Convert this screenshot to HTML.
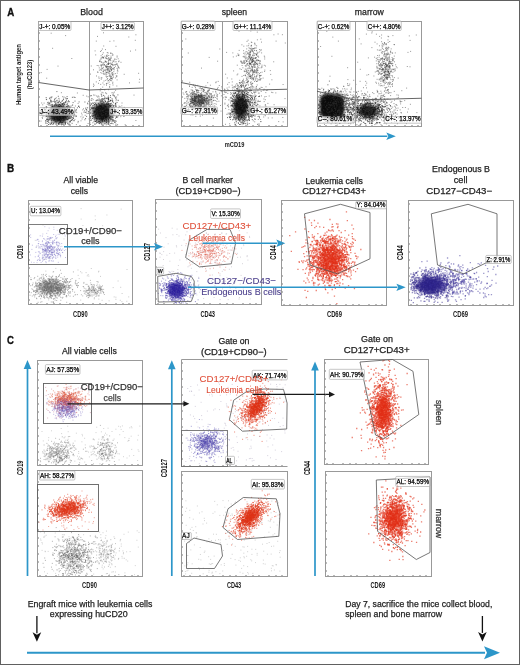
<!DOCTYPE html>
<html><head><meta charset="utf-8"><style>
html,body{margin:0;padding:0;background:#fff;width:520px;height:665px;overflow:hidden}
svg{display:block;will-change:transform}
text{font-family:"Liberation Sans", sans-serif}
</style></head><body>
<svg width="520" height="665" viewBox="0 0 520 665" shape-rendering="auto">
<defs><filter id="f1_8" x="-50%" y="-50%" width="200%" height="200%"><feGaussianBlur stdDeviation="1.8"/></filter><radialGradient id="g11111110050"><stop offset="0" stop-color="#111111" stop-opacity="1.0"/><stop offset="0.5" stop-color="#111111" stop-opacity="0.90"/><stop offset="1" stop-color="#111111" stop-opacity="0"/></radialGradient><radialGradient id="g3333336050"><stop offset="0" stop-color="#333333" stop-opacity="0.6"/><stop offset="0.5" stop-color="#333333" stop-opacity="0.54"/><stop offset="1" stop-color="#333333" stop-opacity="0"/></radialGradient><radialGradient id="g1111118550"><stop offset="0" stop-color="#111111" stop-opacity="0.85"/><stop offset="0.5" stop-color="#111111" stop-opacity="0.77"/><stop offset="1" stop-color="#111111" stop-opacity="0"/></radialGradient><radialGradient id="g8080805550"><stop offset="0" stop-color="#808080" stop-opacity="0.55"/><stop offset="0.5" stop-color="#808080" stop-opacity="0.50"/><stop offset="1" stop-color="#808080" stop-opacity="0"/></radialGradient><radialGradient id="g2a1ca08550"><stop offset="0" stop-color="#2a1ca0" stop-opacity="0.85"/><stop offset="0.5" stop-color="#2a1ca0" stop-opacity="0.77"/><stop offset="1" stop-color="#2a1ca0" stop-opacity="0"/></radialGradient><radialGradient id="ge02c144050"><stop offset="0" stop-color="#e02c14" stop-opacity="0.4"/><stop offset="0.5" stop-color="#e02c14" stop-opacity="0.36"/><stop offset="1" stop-color="#e02c14" stop-opacity="0"/></radialGradient><radialGradient id="g2a1f859550"><stop offset="0" stop-color="#2a1f85" stop-opacity="0.95"/><stop offset="0.5" stop-color="#2a1f85" stop-opacity="0.85"/><stop offset="1" stop-color="#2a1f85" stop-opacity="0"/></radialGradient><radialGradient id="ge05a403050"><stop offset="0" stop-color="#e05a40" stop-opacity="0.3"/><stop offset="0.5" stop-color="#e05a40" stop-opacity="0.27"/><stop offset="1" stop-color="#e05a40" stop-opacity="0"/></radialGradient><radialGradient id="ge034184550"><stop offset="0" stop-color="#e03418" stop-opacity="0.45"/><stop offset="0.5" stop-color="#e03418" stop-opacity="0.41"/><stop offset="1" stop-color="#e03418" stop-opacity="0"/></radialGradient><radialGradient id="ge034185550"><stop offset="0" stop-color="#e03418" stop-opacity="0.55"/><stop offset="0.5" stop-color="#e03418" stop-opacity="0.50"/><stop offset="1" stop-color="#e03418" stop-opacity="0"/></radialGradient><radialGradient id="g5a4fb03050"><stop offset="0" stop-color="#5a4fb0" stop-opacity="0.3"/><stop offset="0.5" stop-color="#5a4fb0" stop-opacity="0.27"/><stop offset="1" stop-color="#5a4fb0" stop-opacity="0"/></radialGradient><radialGradient id="ge034185050"><stop offset="0" stop-color="#e03418" stop-opacity="0.5"/><stop offset="0.5" stop-color="#e03418" stop-opacity="0.45"/><stop offset="1" stop-color="#e03418" stop-opacity="0"/></radialGradient><radialGradient id="gf03a147050"><stop offset="0" stop-color="#f03a14" stop-opacity="0.7"/><stop offset="0.5" stop-color="#f03a14" stop-opacity="0.63"/><stop offset="1" stop-color="#f03a14" stop-opacity="0"/></radialGradient><radialGradient id="gf03a145550"><stop offset="0" stop-color="#f03a14" stop-opacity="0.55"/><stop offset="0.5" stop-color="#f03a14" stop-opacity="0.50"/><stop offset="1" stop-color="#f03a14" stop-opacity="0"/></radialGradient></defs>
<rect x="0.5" y="0.5" width="519" height="664" fill="#fff" stroke="#606060" stroke-width="1"/>
<text x="7.3" y="16.3" stroke="#111" stroke-width="0.35" font-weight="bold" textLength="7" lengthAdjust="spacingAndGlyphs" fill="#111" font-size="11" >A</text>
<text x="80.2" y="15.3" stroke="#222" stroke-width="0.25" textLength="22.7" lengthAdjust="spacingAndGlyphs" fill="#222" font-size="9.3" >Blood</text>
<text x="221.7" y="15" stroke="#222" stroke-width="0.25" textLength="25.4" lengthAdjust="spacingAndGlyphs" fill="#222" font-size="9.3" >spleen</text>
<text x="354.8" y="14.9" stroke="#222" stroke-width="0.25" textLength="29" lengthAdjust="spacingAndGlyphs" fill="#222" font-size="9.3" >marrow</text>
<text transform="translate(21 105) rotate(-90)" font-weight="bold" textLength="61" lengthAdjust="spacingAndGlyphs" fill="#222" font-size="6.8" >Human target antigen</text>
<text transform="translate(32.3 89.2) rotate(-90)" font-weight="bold" textLength="29.5" lengthAdjust="spacingAndGlyphs" fill="#222" font-size="6.8" >(huCD123)</text>
<text x="224.8" y="146.8" font-weight="bold" textLength="19.5" lengthAdjust="spacingAndGlyphs" fill="#222" font-size="7.8" >mCD19</text>
<path d="M50 136.3H387.3" stroke="#2c96c9" stroke-width="1.5"/>
<path d="M395.8 136.3L386.3 132.60000000000002L388.3 136.3L386.3 140.0Z" fill="#2c96c9"/>
<ellipse cx="59" cy="114" rx="13" ry="11.5" fill="url(#g11111110050)"/>
<ellipse cx="102.5" cy="112.5" rx="12.5" ry="12.5" fill="url(#g11111110050)"/>
<ellipse cx="199" cy="100" rx="10" ry="7" fill="url(#g3333336050)"/>
<ellipse cx="240.5" cy="107" rx="9" ry="15" fill="url(#g11111110050)"/>
<rect x="320" y="94" width="24" height="24" rx="6" fill="#111111" fill-opacity="1" filter="url(#f1_8)"/>
<ellipse cx="368" cy="111" rx="13" ry="9" fill="url(#g1111118550)"/>
<path d="M236.4 83.8h1m.2 2.1h1m88.8-1.1h1m20 .8h1m-103 3.4h1m84.1-.1h1m-97.8 3.6h1m2.2-1.7h1m-.6-.2h1m-.4 0h1m-.4.7h1m.1.5h1m8.5-1h1m77.7.2h1m-.7-.4h1m3.1.5h1m2.5.6h1m-234.7 3.7h1m128 .3h1m.2-2.2h1m.9-.5h1m-.8.4h1m1.7 2.4h1m-.7-2.5h1m3.4 1.3h1m-.9.2h1m-.5-.4h1m-.8 1.3h1m-.9-.4h1m-1-.7h1m2.7-.6h1m-.8.4h1m75.9-1.4h1m4.1 2.4h1m7.1-.9h1m6 .8h1m16.1-1.7h1m-317 4h1m2.4.8h1m16.5-1.8h1m4.3.7h1m34.8.1h1m6.4.4h1m120.7.4h1m-.9-2.2h1m1.2.5h1m2.1 2.1h1m.2-1.7h1m83.2-.2h1m.2 2h1m.5-1.7h1m1.8 1.3h1m-.8-1.4h1m.3.4h1m-.2.1h1m.8.4h1m-.5-.1h1m0 .3h1m4.6.3h1m36.2-.9h1m-329.9 4.1h1m42.3-.8h1m11-1.2h1m1 1.4h1m-1-.5h1m121.5-1.3h1m-.8.8h1m1.4 1.5h1m2-2.3h1m-.2.4h1m.6-.5h1m-.5 2.9h1m0-.4h1m-.6-.4h1m-1-2.1h1m-.8 1h1m1.6-.6h1m-.2.4h1m-.5-.1h1m0 1.2h1m-.5-1h1m1.3 1.7h1m69.4-2.4h1m5 1.5h1m-.4.3h1m.4-1h1m-.4.8h1m.2-1.2h1m-.8.4h1m.4.6h1m1.1-1.4h1m-.9 1.8h1m.2.9h1m.1-.1h1m-.4-.8h1m-.3-.3h1m-.2 1h1m2.5-2h1m21.1 1.3h1m3.3-.8h1m-.2 1.1h1m-.9-.5h1m2.1.1h1m1.3-.1h1m5.6-.2h1m-334.1 3.6h1m-.8-.7h1m13.9-1h1m-.6 1.8h1m19.6-2.3h1m8.7 2.9h1m8.3-2.1h1m3.2 1.1h1m124-.7h1m.2-1.2h1m-.9.1h1m-.4.2h1m.6.8h1m-.6-.4h1m-.9-.2h1m.9 1.1h1m-.6-.3h1m-.9-.6h1m-.5-.3h1m0 .5h1m.2-.6h1m-.7 2.2h1m-.8-.6h1m.2-1.6h1m-.9 2.6h1m-.6 0h1m.3-1.7h1m0 1.2h1m3.1-1.8h1m2.8-.1h1m65.7 1h1m-.2.8h1m-.9-1h1m0-1h1m-.7 2.5h1m.4-2.8h1m-.8 2.1h1m-.9-1.7h1m-.9 2.1h1m1.1-.7h1m-.5.8h1m1.3-.6h1m-.9-1.5h1m-.5.3h1m0-.2h1m-.1.8h1m-.6-.9h1m.3 1.9h1m-.3-.6h1m-.2-.3h1m-.1.3h1m-.5-1.7h1m-.5.7h1m.6.7h1m-.5-1.2h1m-.9 2.4h1m1.2-2.7h1m-.5 2.4h1m-.4-.1h1m4.6-.8h1m-.3-.8h1m.1 1.9h1m10.8.2h1m2.6-.3h1m-.5-.2h1m1.5-.8h1m-.2-.5h1m-1 .5h1m5.2.6h1m1 .4h1m-.4-.6h1m.6.6h1m2.1-2.4h1m-338 4.9h1m3.7-1.7h1m6.5.5h1m-.5 1.1h1m-.6.4h1m-.2-1.7h1m.2.7h1m4.2.7h1m.2-1.2h1m.4 1.5h1m8.4-.8h1m7.9 1.3h1m1.2-.8h1m2.3-1.4h1m2.9 1.3h1m1.7-1.8h1m-.4 2h1m-.7.1h1m-.1-.4h1m1.5-.7h1m-1-.7h1m3.4.6h1m-.8 1.3h1m-.4-1.4h1m.3-.2h1m-.1-.3h1m3.1.8h1m2.3 1.5h1m115.3-1.2h1m0-1.4h1m1.3.6h1m-.9-.2h1m.7 1.7h1m-.5-2.2h1m-.6.8h1m-1 1.4h1m-.9.2h1m-.9-1.3h1m1.1 1.3h1m.2.4h1m-.4-1.9h1m-.9-.1h1m-.9-.7h1m0 1.7h1m-1-1.6h1m-1 2.4h1m2.8-.1h1m71.7-1.5h1m1 .3h1m0-1.3h1m-.4.1h1m-.9.1h1m.7 1.8h1m-.4-.5h1m-.9 1.2h1m0-1h1m-.4-.1h1m-.9 0h1m-.4-.4h1m-.7-.8h1m-.5 1h1m-.9.1h1m-.4.1h1m-.3.2h1m-.7-.1h1m0 .6h1m-.9-.3h1m0-1.8h1m-.7.2h1m1.3 2.5h1m.2-2h1m1.6 1.2h1m5.2-1.7h1m.8 2.1h1m-.8.2h1m1.2-2.6h1m3.8.4h1m.2-.3h1m1.6 2.5h1m1.4-1.3h1m-.9-1.4h1m-.3 1.7h1m2.2.9h1m2.2-2.3h1m-.4 2.1h1m.4-.2h1m.2.2h1m-.9.5h1m2.5-1.2h1m-.4-.9h1m-.6 1.3h1m2.9-.7h1m-333.3 4.3h1m1.9-1.7h1m-.7-.5h1m.2.8h1m.5.1h1m2.1-1.2h1m.9 2.1h1m-.5-.3h1m.4-.2h1m-.3.2h1m2.4-1.7h1m-.1 1.1h1m.3 0h1m19.7.8h1m2.8-.4h1m.5-.6h1m-.9-.5h1m1 .8h1m-.8-1.2h1m-.7 0h1m-.2 2.2h1m-.6-2.2h1m0 0h1m-.7 1.8h1m-1 .5h1m-.8-2.6h1m0 2.4h1m.5-1.7h1m-.9.3h1m-.7 1.2h1m.9-.8h1m-.2-1.3h1m1.2 2.1h1m-.5-.8h1m1.9 1.5h1m-.8-2.7h1m-.8.5h1m120.5.6h1m-.3-.5h1m-.8 0h1m-1 .8h1m2-1.4h1m-.9.9h1m.4 1.1h1m-.8.5h1m-.6-1.5h1m-.8 1.4h1m-1-.6h1m.9-.3h1m4 .8h1m2-1.6h1m-.3-.4h1m-.1 1.9h1m-.7-1.8h1m68.7 1.7h1m-.3-1.9h1m-.5 1.7h1m-.2-1.8h1m-.6 1h1m0 0h1m-1 .2h1m-.2-.8h1m.6-.6h1m.9 1.2h1m-.7.3h1m-.3 1.3h1m-.1-.2h1m-.7-1.6h1m3.2.2h1m1.1-1.1h1m-.2 1.9h1m-.3-.3h1m1 .4h1m5.4-.3h1m7.8-.2h1m5-.2h1m-.7 1.4h1m-.9-.9h1m-.4.3h1m-.5 0h1m-.9-1.8h1m-.8 1.6h1m-.9-.9h1m-.9 1.4h1m0-1.5h1m.7-.2h1m.1 1.4h1m-.6-.3h1m-.2-1h1m-.8.7h1m-.4-1.3h1m2.6 1.1h1m4.8.1h1m.8 1.2h1m-.3-1.4h1m-.7 1.3h1m-339.7 1.3h1m0 .9h1m5.2 1h1m1-2.2h1m-.6-.7h1m-.9 2.8h1m.4.1h1m-.9-2.6h1m-.9 2.4h1m1.2.1h1m-.6-1.8h1m-.9-.8h1m-1 .8h1m0 1.4h1m-1-.5h1m-.3-.9h1m-.3-.6h1m.3-.2h1m.3 2.6h1m-.7-.7h1m-.9.2h1m-.6.3h1m-1-1.4h1m2.3-.1h1m.8.4h1m-.9 1h1m3-.3h1m15.1-1.4h1m3.1 1.7h1m1.7-2.4h1m5 .6h1m-.7.6h1m-.8-.5h1m-.8 1.4h1m-.1.7h1m-.1-1h1m-.2-.4h1m-.9.6h1m.1-.5h1m.8-1.6h1m-.2 0h1m2.7 1.9h1m119.7-1.8h1m3 2.3h1m.7.4h1m-.2-.1h1m1-.3h1m-.9-.5h1m.6-1.8h1m2.1 2h1m2.4-1.7h1m68 1.5h1m-.2-1.6h1m3.3 2h1m-.4-2.3h1m-.1 1.5h1m-.7 0h1m-.9-.2h1m-.8.9h1m-.9.7h1m-.7-1.8h1m-.4 1.3h1m-.9-1.9h1m-.2 2h1m1-.7h1m-.7-.9h1m.3.9h1m-.8-1.1h1m-.6.9h1m.4-1.6h1m-.4 2.7h1m.9-1h1m-1 .7h1m.7-.6h1m-.5-1.3h1m-.5 2h1m-.7-1.4h1m8.5-1h1m0 1.8h1m4.5.8h1m-.3-2.6h1m.6.6h1m-.9.8h1m-.5-1.4h1m.4 2.1h1m-.9-.9h1m2.8.5h1m-.7-1.2h1m-.3.1h1m-.3 1.6h1m-.7-.2h1m-.9-1.3h1m-.5 1.4h1m-.6.4h1m-.8-.8h1m-.9.2h1m-1 .4h1m0 0h1m-.9-.5h1m1.4.5h1m-.6-.3h1m0-1.9h1m-.4 2h1m-.8-1.4h1m-.9 1.3h1m-.7-2.1h1m-.5 1.9h1m-.8-1.1h1m-.7-.5h1m-1 .9h1m.6 1.2h1m.8-2h1m.2.1h1m-1 2.1h1m-.1-2.3h1m-331.1 4h1m2.4 1h1m-.8-2.1h1m4.7 1.6h1m-.6-.8h1m-.8-1h1m-.4 1.1h1m-.7.6h1m-.3-.5h1m-.6.5h1m-.4-1.4h1m.2 2.1h1m-.2-2.4h1m.5.2h1m0 2.2h1m2.1-1.1h1m2.9-.8h1m16.5 2.1h1m4.1-.3h1m.8.4h1m.9-.4h1m-.5-2.2h1m-.7.6h1m-.3.6h1m-.3-.6h1m.7 1.6h1m.1-.1h1m-.9-2h1m.3 2.6h1m-.7-2h1m-.5-.3h1m-.7-.4h1m.1 1.7h1m-.3-.9h1m1.4-.1h1m-.6.5h1m0-.5h1m120.9.6h1m1-1.1h1m.8 2.5h1m-.1-2.5h1m-.5-.3h1m0 .2h1m.7 0h1m1.5-.2h1m1.4 0h1m.1 1.7h1m-.7-1.4h1m1.2 2.2h1m68.6-2.5h1m5.2 0h1m-.9 1.5h1m1.2 1h1m1.6-2h1m-.4-.5h1m-.5 1.6h1m2.5-.3h1m2.1 1.6h1m.3-2.6h1m9.7 2.1h1m-.6-2.3h1m10 2.3h1m.8-2.2h1m-.5 1.8h1m-.7-1.7h1m-.2 0h1m.8.4h1m-.3-.5h1m-.4 1.5h1m.4-.5h1m.8 1.6h1m-1-1.8h1m-.1 1.6h1m6.5-2.1h1m3.1 1.2h1m-336.6 2.3h1m-.9 1.4h1m.1-1.1h1m.8-1.1h1m-.6 1.8h1m-.5-.2h1m1-.7h1m-.5-.9h1m-.8 2.6h1m-.2-1.4h1m-.4 1.3h1m-1-1.6h1m-.8-1.1h1m-.5 1.5h1m.7.6h1m-.9.1h1m2.3-1.8h1m-.3 1.2h1m-.7 0h1m.1.3h1m.6.3h1m.5-1.7h1m-.7 1.4h1m16.2-.4h1m9.5-.3h1m-.6.6h1m.2-.5h1m2.4.6h1m-1-1.2h1m-.3-.6h1m-.7 2.7h1m-.7-.4h1m-.6-.9h1m2.8-1.3h1m.9 2.1h1m3.1-1.7h1m116.5-.3h1m2.7 2.3h1m1.6-1.6h1m1.5-.3h1m4.3.1h1m1.2 0h1m2 0h1m83.1-.5h1m13.3 2.2h1m11.7-.6h1m1.6.3h1m-.1-1.3h1m.3 1.9h1m-.4-2.8h1m2.6 2.1h1m-.2-1.1h1m-.7.3h1m5.2-.6h1m6.2-.4h1m-339.2 3.6h1m-.9-.2h1m9 1.2h1m2.5-1.9h1m2.1 2.5h1m1.5-2.4h1m4.2 1.3h1m-.1-1.1h1m23.4 1.2h1m2-.2h1m.1.2h1m7.4-.4h1m-.4-.1h1m2.8.2h1m-.7-1.2h1m128.8 2h1m3.9-2h1m.7 0h1m-1 .1h1m69.4 1.1h1m.1-1.2h1m4.4 1.5h1m5.3.7h1m30.1.2h1m5.1.5h1m6.1-.5h1m-318.7 1.6h1m3.4.3h1m.6 0h1m4 .2h1m19.5-.2h1m11.6.6h1m11.9-.8h1m118.4.3h1m3.8.1h1m6.5.3h1m108.3 0h1m2.4 0h1m-.2-1h1m10.2-.7h1" stroke="#111111" stroke-opacity="0.6"/>
<path d="M237.3 85.1h1m1.9.5h1m-4.9 3h1m0-.3h1m81.2 1.1h1m15.9-2h1m-281 4.2h1m47.8 1.3h1m5.4-.1h1m125.3-1.6h1m-.4.9h1m-.6-.2h1m1.7.3h1m-.2-1h1m-.6.7h1m1.6-1h1m.5 1.5h1m1.3-1.7h1m75.5 1.1h1m12.7.1h1m0-.8h1m-251.2 4.7h1m144.6-.5h1m-.7.2h1m-.3-1.5h1m.6 1.7h1m-.9-.9h1m-.7-.1h1m4.1-1.7h1m-.1 2.8h1m5.4-.1h1m67.8-2.6h1m-.8 2.6h1m6.2-.2h1m-.8-2.1h1m2.3 1.2h1m-.9.8h1m1-.6h1m-.3.8h1m-271.2 1.5h1m2.3 1.5h1m39.9.1h1m2.9.1h1m123-1.9h1m1.3 1.4h1m.2-.9h1m-.2.5h1m-.8.6h1m.4-.2h1m-.7-2.3h1m-.9 2.4h1m.6-.8h1m1.7-1.3h1m.3 1.7h1m1.5.7h1m3.5-2.4h1m3.2.2h1m59.9.8h1m.9-.5h1m-.6 1.9h1m1.3-.1h1m-.5-1h1m2.3.5h1m.4-.8h1m-.3 1.3h1m-.9.3h1m.4-.6h1m-.9-1.7h1m-.7.6h1m-.8.5h1m-.8.3h1m-.8.5h1m-.1-.4h1m-.6-.1h1m.6-.1h1m.2 0h1m-.1.7h1m10.7-1h1m13-.2h1m16.4 1.5h1m-327.2 2.5h1m-1 .5h1m3.3-.5h1m28.5-.1h1m12.1-.3h1m-.7-.5h1m2.3.8h1m2.6.2h1m.5-1.2h1m120.3 1.1h1m2.8-1.5h1m-.5 1.5h1m-.6-.4h1m1.6.9h1m-.5-1.2h1m1.4.7h1m.6-1.1h1m-.6 1.4h1m-.4-.6h1m-.4-.7h1m-.8.7h1m.2.4h1m-.6-.4h1m71.5.5h1m4-1h1m-.4-.5h1m1-1h1m.1 2.3h1m-.9-.2h1m2.3 0h1m-.9-2h1m3.6 0h1m0 2.4h1m-.9-.6h1m-1-.6h1m2.1-.2h1m1.4.9h1m-.3.6h1m.2-2.7h1m-.5 2.5h1m1.8-.3h1m9.4.1h1m.3-.8h1m16.9 1.4h1m9.2-2.8h1m-339.2 3.9h1m4.3 1.9h1m2-2.8h1m5.7 1.9h1m0-1.4h1m26.6 1.1h1m.1.9h1m4.7-2.6h1m-.2 1.3h1m1.5.8h1m.9.5h1m.3-.2h1m-.1-2.3h1m-.5 2.1h1m-.7-.4h1m.7 1.1h1m4.3-1.6h1m116.9.5h1m1.5 1.1h1m.7-2.8h1m-.7 2.4h1m-.8-1.1h1m-.8.4h1m.3-.2h1m-.9-.4h1m-.2 1.3h1m-.2-2.4h1m-.6 1.1h1m.3.6h1m-.8-1.5h1m-.7.6h1m-.9-.7h1m2.3.7h1m-1 1.3h1m1.8-.4h1m-.4.9h1m-.6-.4h1m-.1-1.5h1m69.6 1.1h1m-.7-1.1h1m3 1.7h1m-.2-.7h1m1.9-.5h1m-.7-1.3h1m-.6.1h1m-.7 1.2h1m-.6 1.4h1m-.8-1.2h1m1.9.7h1m-.2-.2h1m-.9.3h1m.9 0h1m.6-1.8h1m-.7.2h1m2.1 1.7h1m6.6-1.1h1m3.1-1.3h1m3.4 1.6h1m6.2-.4h1m.2.6h1m-.1-.6h1m1.5 1.4h1m12.9-2.5h1m-338.5 5h1m4.2.2h1m-.8-.3h1m2.9-1.6h1m-.3 2.3h1m1-.8h1m-.4-.2h1m.2-1.7h1m.5 1.1h1m3.6.3h1m2.4 1h1m26.7.3h1m0-.6h1m.9-1.7h1m0 .2h1m-.7 1.2h1m-1 .7h1m1-.6h1m-.8-1.2h1m.3.4h1m1.8.4h1m1.3 0h1m.3.6h1m.8-.9h1m114 .7h1m2.7-.3h1m-.6-.9h1m1.9-.4h1m-.1 1.1h1m.5-.8h1m-.9-.6h1m.9 1.2h1m-.3-.9h1m.7.5h1m-.4-.4h1m.3 1.6h1m-.4-2h1m1.8.5h1m3.9.6h1m65.9-.3h1m2.5 1.4h1m.6-.8h1m1.7.8h1m-.9-.8h1m1.6.9h1m-.7-2.2h1m-.2 2.2h1m-.7-.3h1m-.7.3h1m-.4-1.6h1m-.9.4h1m-.7 1h1m-.8.5h1m-.1-2.1h1m1.7.2h1m-.8.7h1m-.9 1h1m-.3.3h1m-.1-.8h1m-.1-1.6h1m-.6.3h1m-.9.1h1m1.5.7h1m-.7.6h1m-.2.1h1m-.2.4h1m0 .3h1m-.9-2h1m5.5 1.5h1m2.6-1.9h1m.2.6h1m-.3 1.3h1m3.1.1h1m-.1-.1h1m1.7-2.3h1m-.5 1.8h1m-.1.4h1m.9.1h1m-1-.4h1m1.3.3h1m2.1-1h1m3.5-.5h1m-.7 1.8h1m.5-.8h1m4.5-.3h1m.3-1h1m-343.4 3.7h1m.3.8h1m3-.2h1m.8-.8h1m1.4.5h1m.4.6h1m.6-.8h1m1.3.5h1m.9 1h1m-.6-.1h1m.2 0h1m2.1-1.1h1m3.2.4h1m1.5.5h1m19.9-1.9h1m1.8 1.3h1m.7.8h1m-.9-.8h1m1.2-1.2h1m-.8 1.9h1m1.7-2h1m-.9 1.4h1m-.6-1.7h1m1.5 1.9h1m-.3-2.1h1m-.5 1.7h1m-.8-1h1m2.4 1.5h1m.9-2.2h1m117.9 2h1m3-.6h1m-.3.8h1m0-1.4h1m-.5-.2h1m.2.7h1m.1.5h1m-.8.5h1m.1-2.3h1m-1 1.8h1m-.4.6h1m-.1.2h1m-1-1.4h1m-.2.2h1m2.7 1.2h1m77.6-.3h1m-.6.5h1m1.1-2.8h1m-.6.5h1m.2 2.4h1m-.2-.6h1m1.1-.2h1m-.9-2.1h1m-.4 1.7h1m4.5-.9h1m0-.5h1m0 .6h1m1.6.2h1m3.2.5h1m4.3-1.1h1m.1.8h1m-.8 1.1h1m.2-.5h1m-1-.6h1m.8-.5h1m2.2-.4h1m-.8 1.7h1m-1-.2h1m.4-1.5h1m-.3.2h1m-.8 1.2h1m-.7.7h1m-1-2h1m-.2-.3h1m2.5 1.8h1m.2-1.6h1m-.3.6h1m-.1.4h1m1.8 1.3h1m-.2 0h1m-.7-1.6h1m0 .8h1m.5-1.5h1m-.7 1.7h1m-.7-1.7h1m-.7.1h1m-.9-.5h1m.4 2.9h1m-.9-.8h1m2.9-.2h1m-.1.2h1m3.5-1.6h1m-343.8 5.2h1m.4-2h1m1.2 1.4h1m1.6-1.4h1m-1 0h1m-.4.9h1m3.5 1.3h1m-.6-1.9h1m-.4.1h1m-1 1.5h1m-.1.3h1m.5-.9h1m-.3.7h1m.4-.1h1m-.9-.9h1m-1 .2h1m.1-1.3h1m-.6.6h1m0-.9h1m1.1-.3h1m.2.6h1m-.2 1.2h1m-.9-1.7h1m15.1 1.4h1m3.7.7h1m2.5-1.1h1m-.5-1h1m-.2.2h1m-.7 0h1m1.1-.3h1m0 2.8h1m1.1-.3h1m1.4.4h1m-.7-1.2h1m-.5-1.1h1m-.3.3h1m.9.8h1m-.2.1h1m-.5.7h1m-.1 0h1m-.9-1.4h1m-.5.4h1m3.7-1.2h1m-.6.1h1m3.3.4h1m111.9.2h1m3.5 1.5h1m-.9-2.2h1m-.6.7h1m-.2 1.4h1m-.6-.6h1m1.1-.1h1m-.5.3h1m.3.7h1m.5-1.5h1m-.4 1h1m-.4-1.4h1m.5-.3h1m1.1 2h1m1.4-.7h1m68.9-.5h1m1.9.1h1m-.4 1h1m.8.2h1m-.1-1.1h1m-.9.8h1m-.9-.7h1m2.1.7h1m-.4-.7h1m-.3.5h1m-.4-1.7h1m-.9-.1h1m-.7.6h1m.3-.3h1m-.9-.4h1m1.7.2h1m-.2.4h1m1.4.8h1m-.8-.3h1m-.1-.8h1m-.2 2.4h1m.1-.1h1m7.6.1h1m-.9-.9h1m-.5-.7h1m2.1 1.5h1m-.6-.1h1m3.2-.4h1m1.9-1.1h1m.2.3h1m2.3 1.2h1m-.8-1.4h1m-.8.9h1m-.9-.8h1m.3 0h1m-.6.3h1m-.7-.8h1m.8 0h1m1.2-.9h1m-.8.3h1m-.5 1.3h1m4.1-.6h1m.7-.1h1m.3 1.3h1m-334.2.9h1m1 2.1h1m2.4-1.9h1m-.4 2.6h1m-.9-2.9h1m-.9 2.7h1m.9-.2h1m1.2-2.1h1m-.6 1.2h1m-.1 1.1h1m-.1-1.1h1m-.8 1h1m-.4.1h1m-.7-.3h1m-.6-1.3h1m1.2.3h1m-.7 1h1m-.4-2.3h1m-.7-.1h1m-.6.2h1m-1 1.4h1m1.8.8h1m.6-2.3h1m-.9 2.7h1m-.3-2.5h1m13.6 2.1h1m6.3-.8h1m1.5-1.5h1m1 2h1m-.4-1.6h1m.8.6h1m.6-.1h1m1.3 1.1h1m.4.5h1m-.3-.4h1m-.2-1.1h1m1.2-.5h1m119.6.6h1m.9-.2h1m4.9 1.6h1m-.3-1h1m1-.6h1m-.5 1.8h1m-.5-2h1m.9.7h1m.7-1h1m2.1.2h1m3.6.1h1m-.7.8h1m65.7.8h1m2.4-2h1m-.5.1h1m1.3.1h1m-.6-.1h1m-.1 1.9h1m1.6-1.4h1m5.6 1.2h1m.5-1.7h1m3.5 1.4h1m3.8.4h1m-.8-2h1m6.7-.1h1m-.6 2.1h1m.1-.8h1m-.5 1h1m1.2-1.2h1m-.9-1.2h1m2.2.3h1m-.8-.2h1m3.7 1.2h1m1.7-.6h1m-.8 0h1m.5 1.6h1m-.8-2.1h1m-.3 2.6h1m5.5-2.6h1m.5 1.7h1m9.2-.4h1m-346 3.7h1m.3.3h1m5.2-1.5h1m-.3-.4h1m-.7 1.6h1m-.9-1.1h1m.6 1.4h1m.6.3h1m-.8-1.2h1m.9-.1h1m-.5.3h1m1.1-.7h1m-.9-.6h1m.6.2h1m2.1 1h1m0-.5h1m.1.3h1m19.4-.5h1m4.8-.4h1m-.5.9h1m-.6-.1h1m.9.5h1m-.9-.6h1m-.6.6h1m2.9 0h1m.8-1.7h1m.1.5h1m.7.1h1m.5-.4h1m.4.6h1m.1 1h1m3.3-1.8h1m-.3-.3h1m118 2.4h1m-.8-.4h1m1.7.8h1m1.4-2.8h1m1.2 0h1m74.6 1.2h1m5.5-.9h1m19.7.7h1m11.2 1.9h1m1.8-1.7h1m1.7-1h1m.3.9h1m.2-.6h1m-.4.3h1m1.9-.6h1m.8.5h1m-.6 0h1m-.5 2.1h1m-.7-.6h1m-.3-.1h1m-.7-.5h1m2.5-1.6h1m1.3.6h1m2.8.2h1m10.1.4h1m-343.7 4.3h1m2.7-1.5h1m-.6.8h1m.4-.9h1m-.2-.3h1m-.2-.4h1m.7.5h1m-.8-.6h1m-.1 2.2h1m-1 .5h1m-.4-2h1m-.2-.3h1m.9 2.1h1m-.3-.1h1m24.8-2.4h1m4.1.3h1m-.1 1.9h1m.7-.3h1m2.1-1.2h1m-.8.2h1m.7 0h1m-.8-.7h1m-.6.6h1m7.7.1h1m125.4.5h1m3.8-.3h1m79.1-.9h1m4.7.3h1m13.4 1.4h1m5-1h1m15.1-.7h1m-.2 1.5h1m3.5-.6h1m1.1-1.1h1m-328.4 3.3h1m.4 1.1h1m1.9-1h1m42.5.6h1m12.3.1h1m-.9-.4h1m-.3.4h1m129.8.3h1m.4-1.5h1m.6.2h1m-.3.6h1m127.1-.5h1" stroke="#111111" stroke-opacity="0.6"/>
<path d="M328.9 81.1h1m-87.1 5.7h1m-.9-1.6h1m-3.2 2.4h1m81.4 2.1h1m-88.9.6h1m.4.8h1m2.2-.2h1m.2 1.2h1m6.1.5h1m79.8-1.9h1m10.6.6h1m-231.5 4.3h1m6.4-.7h1m115.5.6h1m1.6-.5h1m4-1.4h1m3.3.1h1m2.4 1.6h1m69.1-.1h1m6.2-.3h1m1.9-.4h1m8.2 1.2h1m43.2 0h1m-326 .6h1m14.7.8h1m0 .4h1m31 .9h1m128-2h1m-.7.8h1m-.3 1.6h1m-.5-1.3h1m-.7-1.3h1m-.6 2.4h1m-.8-1.4h1m.2.3h1m-.5-.8h1m-.4 2.2h1m.1-2h1m.1-.6h1m-.9-.2h1m.6.3h1m2.1 0h1m3.7 2.4h1m73.5-2.1h1m.6.1h1m-.7.7h1m-1 .7h1m.8-.1h1m.3-.9h1m-.9.6h1m-.3-1.8h1m-.4 1.5h1m1.2.1h1m.4.6h1m-.7 0h1m.9-1.3h1m-.4-.7h1m4.5.9h1m8 .7h1m10.9.2h1m8.8.4h1m-320.5 2.5h1m1.8-.8h1m2.5.4h1m27.9-.3h1m5.7 0h1m0-.3h1m2.8-.9h1m4.5 2.9h1m3.2-.8h1m115.1-1.2h1m2 1h1m1.5-.6h1m1.7 1h1m.1-1.6h1m.8-.2h1m-.6 1.7h1m-.5-1.6h1m-.7 1.8h1m-1-1.6h1m1.3-.7h1m.1 2.6h1m-.6-.6h1m-1 .7h1m-.1-1.6h1m0 .8h1m-.3-1h1m6-1h1m63.4 1.1h1m1.4 1.1h1m1.7-.4h1m1.3.4h1m1.4-1.9h1m0 .4h1m0 .8h1m.2-1.1h1m-.8 2.2h1m-.9-2.3h1m-.5-.3h1m-.8 1.4h1m-.6.3h1m-.9-1.5h1m-.5.2h1m5.2 1.4h1m-.9-1.3h1m2 2.3h1m28.6-1.3h1m8 1h1m-328 .7h1m6.9 1.6h1m1.6-1.6h1m6.7.4h1m13.5.6h1m10.6 1.2h1m1.5-1.2h1m1.6 1.5h1m1.2.1h1m-1-1.4h1m.1 1.4h1m-.8-.5h1m-.9-.2h1m125.2-.3h1m-.2-.4h1m.9.1h1m-.9 1.4h1m-.4-1.8h1m1-.3h1m1.7-.7h1m-.8 1.5h1m-.8-1.2h1m-.6.8h1m.3-1h1m-.4 2.1h1m-.5-1.6h1m6.6 1h1m-1 1.1h1m64.7-.6h1m2.6-.7h1m.7.6h1m-.2-.3h1m.3.2h1m.2.5h1m.2 0h1m.5-.3h1m-.8-1h1m-.6-1.1h1m.2.2h1m2 2.4h1m-.1-1.6h1m-.7.4h1m-.9-.7h1m-.4 1.3h1m.2-.3h1m-.9-1.7h1m-.8.4h1m3 2.1h1m2.5-.7h1m6.4-.2h1m6.6 0h1m-1 .6h1m.1-1.2h1m4.1.8h1m-.6-.8h1m2.4-.9h1m.5 1.2h1m2.2-.7h1m.8 1.9h1m17.9 0h1m-344.7 1.8h1m1-1.2h1m1.4-.1h1m1.7 1.5h1m2.1 1.1h1m-.4-2.5h1m-.4 2.5h1m5 .2h1m6.6-.1h1m11.7-2.3h1m.7 2h1m3.8-.7h1m-.9.7h1m1.9-1.6h1m-.7 1.7h1m-.7-2h1m-.6 2.2h1m.4-1.5h1m-.1 1.5h1m1.3-1.8h1m-.4.5h1m-.9-1.3h1m2.8-.1h1m2.5.4h1m1.1-.5h1m7.9 2.4h1m106.9-1.6h1m.8 1.5h1m0-2.1h1m-.6-.1h1m-.3 2.3h1m-1-.9h1m-.3-1h1m-.4 1h1m.1-1.3h1m-.4-.2h1m1.4 1.2h1m-.8.9h1m.9-.2h1m-.8-1.9h1m-.3 2.2h1m-.8-.7h1m-.3-.9h1m-.5 2.2h1m-.4-.5h1m-1-.6h1m-.6-1.5h1m-.7-.2h1m-.9 1.2h1m2.3-.7h1m67.6 1.7h1m.6-.7h1m.6.8h1m.4-1.9h1m.3 2h1m0-.2h1m1 .1h1m-.8.4h1m1.7-.8h1m-.7-1.9h1m-.4.9h1m-.8.3h1m-.6 1.6h1m-.7-1.7h1m-1 .8h1m.5-.2h1m.8-1h1m.9 1.6h1m-1-2.2h1m1.8.7h1m.6 2.1h1m-.8-.2h1m-.9-1.2h1m3.5.8h1m5.6-.9h1m1.4 1.4h1m.7-.3h1m1.8.4h1m-.9-.1h1m-.6-2.5h1m1.7.5h1m-.1-.8h1m-.2.6h1m-.9 0h1m-.2 2.2h1m-.6-.9h1m3.7.7h1m-.2-.4h1m.2-1.8h1m.1 2.3h1m-.7 0h1m2.1-2h1m.3-.4h1m2.9 1.6h1m-340.3 1.4h1m8.9.5h1m1.2-.2h1m.4 2.3h1m-.8-.6h1m-1-.2h1m-.4-1.1h1m-.3.6h1m1.2-.5h1m-.5 1.3h1m-.8-1h1m-.1 0h1m.4.6h1m.9.3h1m2.9 0h1m15.6-.7h1m3.5-1.4h1m.5.3h1m.5-.5h1m2 1.5h1m-.6-.7h1m-.8.7h1m.6-.5h1m-.4 1.7h1m-.5-1.5h1m1.3.7h1m-1-.2h1m.3-1.7h1m-1 1.7h1m-.5 1.1h1m5.4-1.1h1m.7 0h1m-.7.4h1m1.1-.4h1m2.2-.4h1m116.6.1h1m.1.4h1m.5 1.1h1m-1-.2h1m-.5-1.9h1m.4 1.8h1m-.6-1.8h1m-.6 1.5h1m-.5-.5h1m1.2.2h1m-.8-1h1m-.7 1.5h1m-.7-1h1m0 1.3h1m.8-2.2h1m-.4 2.1h1m1.6-1.2h1m67.1-1.2h1m3.3.4h1m-.4 1.9h1m-.1-1.6h1m.3 1.1h1m-.1-1.9h1m.6 1.9h1m.5.8h1m.4-2.2h1m.1-.5h1m-.4.1h1m-.5 1.9h1m1.4-.9h1m1-.3h1m2.9.6h1m1.5-.2h1m-1 .7h1m1.7-1.7h1m2.6.7h1m1.1.9h1m.1-.3h1m-1 .5h1m2.8-1.8h1m-.8 1.2h1m-.3-.1h1m-.3.8h1m-.7-.8h1m0 .9h1m-1-2.3h1m-.5-.1h1m-.6.5h1m.3.2h1m-.7-.1h1m-.6 2.2h1m.8 0h1m-.9-2.3h1m-1 .3h1m-.7-.2h1m-.6-.2h1m-.4 1.7h1m-.4-1.7h1m.6.2h1m.2-.6h1m.2 2.1h1m-.8 0h1m-.6-1.9h1m.3 1.1h1m0 1.4h1m.7-1.4h1m2.5-.5h1m1.4 1.3h1m7.4-.3h1m-342.1 3.4h1m1 .6h1m.9-.5h1m-1 .5h1m.3-2.5h1m3.1.7h1m0 0h1m-.8.7h1m2.2.1h1m-.9.2h1m2.3-.7h1m2.6 0h1m5.3-.4h1m8.2.3h1m8.4-.9h1m-.6 1h1m1.1 1.6h1m-.6-1.1h1m-.7.8h1m.2-1.1h1m-1 1.2h1m-.9-1.1h1m-.4.5h1m-.7 0h1m-.4-1.6h1m.2.3h1m-.8.3h1m0 .2h1m.2.1h1m-.8-.6h1m.2 0h1m.3 1.5h1m-.9-.8h1m-1 .6h1m3.4-2h1m120.1.3h1m-.5.2h1m1.2 1.1h1m0 .1h1m-.6-.3h1m.1.1h1m-1 0h1m-.4.9h1m2-.9h1m-.6.9h1m-.1-2.1h1m0 .5h1m-.5-.1h1m.4.6h1m-.8-1.2h1m0 1h1m1.2-1h1m69.6 1.9h1m-.5-1.2h1m1.2.1h1m.8 1.8h1m.5-.9h1m-.9-.9h1m-.8-.4h1m-.2.5h1m.4.1h1m.5 1.5h1m.3-.7h1m2.3.3h1m.8-2.2h1m2.5 2.5h1m-.3-.5h1m1.6-2h1m10.2.1h1m-.7 1.8h1m2.2-.6h1m-.7-1.1h1m-.7 1.3h1m-.5-1.6h1m.5.4h1m.6 1.9h1m-.8.3h1m-.2-2.6h1m.5.6h1m.9.9h1m.2.1h1m-.2-1.5h1m-.5 2.6h1m1.2-1.1h1m-.7.5h1m-.5-.8h1m6 .8h1m2.5.8h1m-.4-1.7h1m-340.4 3.9h1m2.4.3h1m3.8 0h1m1.6-.7h1m-.2-1.6h1m-.9 2.7h1m-.5-1.7h1m1.6 1.3h1m.2-1.1h1m-.8.7h1m-.5-.2h1m.2-1.4h1m-.4.8h1m-.6-.3h1m-.9-.4h1m-.7 1.1h1m.1-.8h1m-.5.8h1m-.7.5h1m-.6-.2h1m1.5.3h1m-.8.6h1m-.5-.6h1m-.5-1.4h1m-1-.2h1m.2.1h1m.7-.4h1m4.3 2h1m17.9-.9h1m-.8-1.1h1m1.4 1.9h1m.2-1.4h1m-.2.9h1m1.2-1.2h1m-.4 1.1h1m-.8-1.5h1m-.4 2.6h1m.8-.7h1m-.8-.5h1m-.3-.6h1m1-.8h1m-.8 1.8h1m-.6-1.5h1m2.3 1.6h1m.2-2h1m115.4.1h1m2.9-.1h1m1.4 2.8h1m5.6-1.3h1m.8 1.3h1m-.8-.5h1m4.3-2h1m.1.2h1m-1 .1h1m-.2 2.2h1m68.3-2.3h1m1.7 1.3h1m.6.6h1m0-1.7h1m-.9-.3h1m-.6 2.3h1m1.7-1.8h1m.5.8h1m-1-.7h1m-.3.9h1m-.7-1.9h1m1.6 1.5h1m.7 1.2h1m.6-2h1m.1 1.1h1m4.5-.4h1m6.2-.6h1m8.2-.3h1m-.8 1h1m-.2-.2h1m1.2-1h1m-.4.6h1m.2-.1h1m.3-.5h1m.6 2.2h1m-.6-.7h1m-.3-1.3h1m.7 2h1m-1 0h1m-.8-2.2h1m-.7-.1h1m-1 0h1m1.2.8h1m-.9-.3h1m-.8.4h1m1.8 1.4h1m-.4-.6h1m2.3-1.3h1m-334.5 5h1m4.4-1.4h1m.4 1.5h1m-.1-2.7h1m1 1.1h1m.9.8h1m-.9-1.2h1m-.1 0h1m-.9-.5h1m-.6 1h1m-.6 1.2h1m.8-2h1m-.9 2.5h1m-.7 0h1m1.1-1.1h1m-.6-1.4h1m-.9.9h1m3.4-.3h1m.6-.6h1m-.9 1.9h1m.1-1.2h1m14.7.8h1m-.2-1.7h1m1.5 1.3h1m6 .5h1m.3-.5h1m.5.7h1m-.3.1h1m-.8-2.2h1m1.5 2h1m-.8-.2h1m1.7.3h1m.2-.7h1m-.8-.8h1m0 1.9h1m1.6.3h1m117.9-.1h1m4.6-1.3h1m-.4 1.3h1m-.6-2.5h1m.2 1.5h1m0-.9h1m-.3-.8h1m1.3 2.5h1m.4-.7h1m2.4-.6h1m76.8 1.6h1m1.4-.9h1m-1-.1h1m6.6-1.8h1m.2 1.7h1m-.8-1.3h1m1.6 0h1m14.8-.1h1m1.2 1.6h1m-.5-1.3h1m2.8.4h1m1-.1h1m1.3-.5h1m1.5.2h1m.2.8h1m3-.2h1m.5.5h1m-329.4 2.3h1m-.6-.8h1m2 .1h1m1.6.2h1m3.8.2h1m.2.5h1m-1 .1h1m.7-.1h1m1.9-1.1h1m5.5.2h1m5.8 1h1m10.6.8h1m5.4-1.3h1m3.1 1.4h1m.7-.3h1m11.6.2h1m-.3-1.3h1m118.4 1.9h1m5.3-.3h1m2-1.3h1m82.5 1.3h1m1.5-2.4h1m5-.1h1m23.3.4h1m9.9 1.5h1m7.7.9h1m-1-.2h1m2.4-1.7h1m-334 3.6h1m-.2-1.4h1m1.2 1h1m44.7-.9h1m1.5.7h1m15.1.9h1m116.5.1h1m7.2-1.7h1m91.5 0h1m40.5-.2h1" stroke="#111111" stroke-opacity="0.6"/>
<path d="M238.9 82.6h1m6.3 0h1m4.9 4.2h1m-16.4 3.2h1m4.6 1.7h1m7.6 1.1h1m72.9-.6h1m4 .7h1m3.6-2.4h1m-.4 1.2h1m19.9.7h1m-120.9 2.5h1m.3-.3h1m1.8-.3h1m.5 1.6h1m-.8-1.5h1m-.4-.1h1m.8 1h1m.4-.4h1m3.6.9h1m71.6-.3h1m1.1-1.2h1m1.4.6h1m-.4-1.3h1m1.6 1.9h1m-.7-1.9h1m-.6.9h1m-.8-.1h1m-.6-1.3h1m4 .8h1m4.2.8h1m-291.6 2.2h1m39 1.6h1m9.2.4h1m2.9-.8h1m-.9.6h1m123.9-.7h1m1.1-1.3h1m2.9 1h1m.4.9h1m4.7.2h1m-.2-1.3h1m4.5.7h1m70.4.2h1m6.6-1h1m1.3 1.2h1m-.3-1h1m-.9-1.4h1m1.5.7h1m-.6 1.6h1m6.5-2h1m-.8.3h1m.8 1h1m10.6-.8h1m1.5-.6h1m3.7 2.1h1m-313.9 1.8h1m-.2.9h1m4.6-.9h1m5.2-.9h1m1.3 2.2h1m1.2.3h1m-.4-1.1h1m5.5.3h1m21.5-1h1m10.2-.9h1m123 2.1h1m-.7.1h1m2.3-.3h1m1.1-.3h1m1.6.8h1m-.9-2h1m-.1.1h1m1.2 1h1m-.3.8h1m-.2-1h1m.4.9h1m.4-1.6h1m.8.2h1m-.2-.4h1m70.4.5h1m2.3 1.4h1m-.8-.1h1m0 0h1m-.7-2.2h1m-.4 1.7h1m-1-1.8h1m.1 2.8h1m-.1-.9h1m.1-.6h1m-.9-1.1h1m.6-.3h1m-.9 2.4h1m-.5-.5h1m1-1.7h1m-.6.2h1m.8 2.2h1m-.8-1.1h1m1.7-1.3h1m.3.2h1m-.3.8h1m.3 1.3h1m7.6-.1h1m9.6-1.7h1m1.9.7h1m.1-1.2h1m17.4 1.7h1m-334 3.5h1m4.6.4h1m-.7-2.6h1m.3 2.3h1m0-1.8h1m1 1.6h1m-.6-.6h1m-.7.2h1m2.9.7h1m23.2-.2h1m.5-1.5h1m2.5 1.7h1m4.9.3h1m-.7-1.2h1m5.3.7h1m.8-.5h1m-.2-.6h1m4.6-.8h1m116.3.8h1m.9-.2h1m-.9.4h1m.7.1h1m-.6.4h1m-.7.5h1m-.9-2.4h1m-.9 1.8h1m-.3-.5h1m-.6-.9h1m-1 1.2h1m-.5-1.7h1m.3 1.8h1m2.5.6h1m8.4.3h1m66.1.2h1m-.8-1.8h1m0 1.7h1m1.7-2.7h1m-.5 1.3h1m-.7.9h1m-1-1.2h1m1.8.3h1m.4-.1h1m-.6-1.3h1m-.7 1.2h1m.7-.6h1m.4 2.2h1m-.9-1.4h1m-.8.9h1m-.3-.1h1m-.1 0h1m-.7-.6h1m-.7-.5h1m.2-.9h1m-.8 1.4h1m-.7-.2h1m-.2-.3h1m1.9.3h1m-.7.1h1m3.3.5h1m3.7-.8h1m.1-1.2h1m.9 1.1h1m6.1.4h1m2.7 1.1h1m-.6-1h1m2 .5h1m2-.6h1m6.8.9h1m3.4-2.4h1m-.1 2.1h1m-333.8 2.6h1m3.1-.9h1m.3 1.4h1m-.5-1.4h1m4 1.2h1m7-1h1m7.4 1.3h1m16-2.2h1m.2 1.4h1m.1.6h1m-.3.2h1m-.9-.9h1m-.6-.7h1m-.7.6h1m-.7.7h1m-.1.6h1m-.9-.3h1m-.6-.2h1m-.3-.5h1m.1-.7h1m.6.6h1m.3.1h1m-.8-.4h1m127.1-.9h1m-.1 1.2h1m-.9 1.3h1m-.8-.1h1m-1-.6h1m1.3.2h1m.8-.1h1m-.5-.3h1m.5-1h1m.6-.6h1m.1 2.3h1m-.3-2.4h1m-.4 1.5h1m-.5.4h1m-.4-1.7h1m-1 1.9h1m-.6-1.9h1m-1 2.2h1m-1-.4h1m.6-1.4h1m.9.4h1m.1 1.2h1m66.5-.1h1m2.5-.1h1m1.5-1.5h1m-.5 2.2h1m-.8-.9h1m-.3.4h1m.7-1.2h1m.1 1.3h1m-.9-.2h1m.8-1.9h1m-.6 1h1m-.7.3h1m-.9 1.1h1m-.7-1.9h1m.2.1h1m.9.8h1m-.5-1.2h1m1.7.1h1m0-.3h1m-.9 1.5h1m-.5.3h1m7.3-1.9h1m4 1.8h1m1.2.8h1m-.7-.6h1m0-.5h1m3.8-.8h1m-.5-.1h1m-.5.8h1m-.9.9h1m1-1.2h1m-.9 1.4h1m1.8-.4h1m-.8-1.4h1m.3-.2h1m1.5 1.7h1m2.1-1.5h1m-.4.4h1m1.3.7h1m.7 0h1m.7-1.4h1m-.9.2h1m7.4-.3h1m-351.1 5.2h1m10.9-1.6h1m-.6 1.3h1m.9-.1h1m-.7-2h1m-.7.8h1m-1 .2h1m-.3.2h1m1.9.5h1m-.6-1.6h1m.4 1h1m-.2 1.1h1m1.6.2h1m-.4-2.1h1m-.2.4h1m1.1-.2h1m28 .3h1m1.1-.3h1m.3-.1h1m.3 2.1h1m-.8-2.8h1m.6.9h1m-.6.6h1m.5.9h1m-.7.1h1m-.3-2h1m-.6 1.8h1m-.8-.8h1m-.7-1.6h1m1.1 1.6h1m-.7-.1h1m-.3.1h1m-.2.1h1m-.6 0h1m-.4.1h1m1.4-.7h1m.9 1.1h1m114.6-1.3h1m.4.4h1m3.8-.4h1m.3-.6h1m-.9.4h1m-.6.7h1m-.4.2h1m-.6-1.3h1m.4.1h1m-.9 1.7h1m-.8.8h1m.3-1.4h1m-.5 1.1h1m.3-1.7h1m-.7 1.8h1m2.1-1.4h1m-.1.3h1m-.4-.5h1m70.4.2h1m-.9-.4h1m-.4 1.9h1m.8-1.8h1m-.5.3h1m-.3-.8h1m1.2 2.3h1m-.7-.1h1m-.9-1.9h1m-.5.8h1m.9.5h1m-.2-1.6h1m-.1 2.1h1m-.2-1.4h1m-.8-.4h1m-.8.1h1m-.6 0h1m.6 1.5h1m2.5-1h1m-.5-1.2h1m2.1.5h1m-.8-.2h1m-.6 1.1h1m5.1.6h1m2.1-.6h1m-.9-1.1h1m4.2-.2h1m-.6.8h1m3.6.4h1m-.2-1.4h1m1.5 1.2h1m-.2.3h1m.3-.3h1m.1 1.3h1m3.1-2.4h1m-.8 1.5h1m.8.1h1m1.2-1.2h1m.2.8h1m2.3 1.3h1m.2-1.1h1m-334.4 4.2h1m2.9-2.1h1m1.1 1.7h1m-.1-1.8h1m.7 2.2h1m.3-1.5h1m0 .7h1m-.2-1.8h1m-.8-.2h1m.3 1.5h1m-.7-.5h1m-1 1h1m-.9-1.7h1m-.8 1.7h1m.3.1h1m-.8.2h1m-.7-1.7h1m-.8 1.3h1m0-.1h1m.8-.2h1m0-1h1m-.1-.1h1m17.2 1.8h1m4.8-.7h1m-.3-.3h1m-.4-.3h1m-.1.8h1m1.8-1.6h1m-1 2.1h1m-.5-1.6h1m.1 1.8h1m.8-2.5h1m-.6.5h1m-.9 2.4h1m-.7-1.6h1m-.9-.8h1m-.5 1.9h1m.3-1.3h1m1.8-.4h1m.4.1h1m-.6.1h1m1.4.4h1m4 .3h1m111.8.3h1m-.6.5h1m.7-1.3h1m.8-.9h1m.7.9h1m1.6-.9h1m.3 1.3h1m-.6-1.1h1m.6 0h1m.4-.2h1m-.6 1h1m-.3.1h1m.9 1h1m1.5 0h1m.3-.6h1m3.1-1.1h1m68.2-.3h1m.7.7h1m.5 1.5h1m1.4-.4h1m0 .6h1m.6-1.9h1m.8 1.7h1m-.8-.1h1m.1-.6h1m.8.5h1m-.8-.2h1m2.3 0h1m-.5-.5h1m-.7.8h1m-.2-.5h1m-.9-.5h1m-.9-1h1m3.2 1h1m2.6 0h1m11-1.3h1m.8-.1h1m-.2.9h1m-.4.4h1m.1-1.1h1m0 2.6h1m-.6-.1h1m-.4-.8h1m1-1.4h1m-.8-.2h1m-.4.1h1m-.9 1.6h1m-.5-.5h1m-1-1.3h1m-.8.5h1m.7 1.2h1m.1-1.5h1m2.4 2h1m-.4-1.4h1m2.4 1.9h1m0-1.8h1m.6 1.1h1m-338.7 1.2h1m-.5 1.5h1m1.6-.3h1m1-.4h1m.9-.2h1m.8-.9h1m-.6 1.3h1m-1 .1h1m-.9-.6h1m-.4-.2h1m-.9-.2h1m1.3.7h1m0 1.2h1m-.2-1.6h1m-.1 2h1m.1-1.6h1m-.5 1.7h1m0-2h1m-.8.5h1m.7-1h1m.9-.2h1m-.4 1.9h1m-1-.4h1m2.1 1.1h1m2.3-2.3h1m16.8 1.7h1m-.2 0h1m1.3-.6h1m-.8-1.4h1m-.6 2.7h1m2.3-1h1m-.5.3h1m-.7-.7h1m-1-.4h1m-.3.9h1m-.3-.5h1m-.3 0h1m-1 1.2h1m-.2-.9h1m-.8.1h1m-.9-1.5h1m-.6.1h1m-.8.3h1m-.7.2h1m1.6.2h1m-.2.1h1m-.8 1.4h1m.5-2.1h1m-.1.7h1m-.8 1.3h1m-.8-1.5h1m6.9.5h1m107.4-1.3h1m2.9-.1h1m.3-.2h1m.9 2.8h1m3-1h1m.1.5h1m-.1-.5h1m2.8-1.5h1m.5.9h1m-.3.4h1m0-.6h1m.3 1.8h1m.6-.6h1m76-.6h1m.9-1.3h1m1.8.3h1m-.4-.3h1m3.2-.3h1m2.9 1.7h1m0-.4h1m9 1.2h1m8.1 0h1m1.8-2.2h1m.9 1.2h1m-.9 1.2h1m-.2-.8h1m2 1h1m-.1-2.2h1m-.3 1.3h1m-.2-1.6h1m-.5 2h1m1.7-1.5h1m1.8 1.4h1m2.6.6h1m-330.7 1.2h1m.6.4h1m.8.8h1m.7-1h1m-.3.8h1m-.5-1.8h1m.1 1.6h1m-.8-1.5h1m-.9 0h1m-.7 2h1m-.5-.4h1m-.9-.1h1m.6-1.5h1m-.8.8h1m-.1-.2h1m0 1.2h1m-.8-2.1h1m.9.7h1m.6 1.8h1m-.7-.4h1m2.2-1.2h1m11.2-.8h1m.8 2.6h1m8.5.1h1m-.1-1.1h1m4.6.5h1m-.3-.3h1m-.9-.8h1m.9.5h1m-.7-1.4h1m-.5.5h1m0-.3h1m4.4 2.4h1m5.1-2.7h1m109.6.4h1m1.9 1.9h1m-.7-2.5h1m2.5 1h1m-.4-.5h1m1.4.2h1m3.5-.2h1m-.7 0h1m1.8 1.6h1m2.8-1.9h1m2.4-.1h1m-.7 2.5h1m1.8-.1h1m74.3-2.1h1m-.4-.3h1m1.8.1h1m-.4.3h1m0-.4h1m-.7 2h1m7-1.2h1m-.5-.9h1m15.6 1.1h1m3.8 1.7h1m2.9 0h1m-.6-2.4h1m-.7 2h1m1.5-1.6h1m-1 .6h1m0-1.3h1m3.4 2.3h1m-1 .1h1m5.6-1.5h1m-338.3 3.5h1m.1.8h1m10.3.2h1m-.7.1h1m-.2-2.2h1m-.9 2.1h1m2.2-2.4h1m7.9.6h1m19.9 1h1m5.3-1h1m-.4 1.4h1m.4-1h1m3 1.4h1m-1-2.5h1m-.8.2h1m-.6 1h1m.8.9h1m-.6-1h1m2.4-1.1h1m1.6 2.4h1m.1-1.2h1m126.4-.6h1m2.4.1h1m79.3 1h1m.4-.6h1m31.3-.4h1m-.4.5h1m7.4-.3h1m.7-.7h1m4.5 2.3h1m-326 1.8h1m.3-1h1m1.6.9h1m10.4-.5h1m28-.6h1m13.2.5h1m0-.4h1" stroke="#111111" stroke-opacity="0.6"/>
<path d="M244.2 88.2h1m-1 1.3h1m2-1h1m89.2-.1h1m-101.2 2.9h1m-.2.8h1m3-1.5h1m.5.1h1m1 .8h1m78.1.4h1m2.3-.9h1m-.6 1.1h1m3.7.4h1m-.5-.7h1m15.7.3h1m-250.5 2h1m-.6.9h1m132-1.7h1m6.6-.1h1m-1 1.7h1m1.4-1.8h1m1.9 1.3h1m4.5 1.5h1m70.1-.8h1m2.3-.1h1m-.1-1.6h1m-.6 2.3h1m.4-1.1h1m3.9.8h1m-277.1 3h1m5.8-.4h1m35.1-1.7h1m0 2.6h1m.5 0h1m3-.4h1m1.3-1.1h1m119.6-.1h1m.2 1.4h1m.2-1.5h1m4.3.3h1m1.9.6h1m-.7.1h1m-.8.4h1m-.7-2.1h1m-.6 2.2h1m.5-1.6h1m1.9-.3h1m3.4.7h1m72.7.6h1m.3-.6h1m2.6-.1h1m1 .3h1m2.2.6h1m1.5-1h1m-.4 1.6h1m-.3-.9h1m4.5-1.7h1m.8 1.5h1m4.2.5h1m2.8.3h1m1.6-1.7h1m4.3.7h1m-.1.3h1m9.4 1h1m4.5-.4h1m3.3-1.9h1m-339.1 3h1m31.5 2.3h1m20-1.4h1m4.3.8h1m126.7-.1h1m1.7-.5h1m2.1-1.3h1m-.9.1h1m-.7 1.2h1m.7-.6h1m1-.4h1m-.6 1.7h1m-.9-1.3h1m-.6 1.3h1m-.3.4h1m-.1-2.5h1m2.3 2.4h1m71.1-.3h1m-.1-.5h1m-.3.7h1m.7.2h1m-.5-.9h1m.9.6h1m-1-.6h1m-.9.3h1m1.2-1.3h1m-.5-.9h1m-.3 2.6h1m.1-.4h1m-.7 0h1m-.4-1.1h1m.8.7h1m-.2 0h1m0-1.5h1m-.8 1.5h1m-.9-1.6h1m-.7 1.5h1m-.3-.3h1m-.9-1.2h1m-.4 2.7h1m-.1-.3h1m3.8-.5h1m-.1.6h1m.7-1h1m3.9-1.2h1m3.6 1.4h1m9.7-.4h1m10.7.8h1m-331.2 1.4h1m7.1 1.3h1m1.4-1.2h1m.5 1.9h1m1.1-.8h1m29-.3h1m5.9-.2h1m1.4 1.5h1m1.5-2.9h1m.1 2.8h1m1.5-.2h1m5.1-1.9h1m118.1 2.1h1m.4-1.4h1m-.3 1.4h1m.2-1.1h1m-.4 0h1m.3-.3h1m-.6-.2h1m-.3-1.1h1m-.8.3h1m-.2-.2h1m2.6 2.4h1m-.5-.6h1m.7 0h1m-.5-1.4h1m-.8 1h1m-.9.9h1m-1-2.3h1m-.7 1.3h1m-.8.3h1m71.1.6h1m.5-2.3h1m1.6 1h1m.7 1.5h1m-.1-2.3h1m3 2.3h1m-.3-1.9h1m-.9 2h1m-.4-1.8h1m-.5-.8h1m2 2.6h1m-.7-.9h1m-.8.6h1m-.9.5h1m-.1-.2h1m.1-.3h1m4.8-1.4h1m1.7 1.1h1m.3-.3h1m4.8-.6h1m.1.2h1m0-.7h1m-.3-.5h1m4.1 1.6h1m2.7 1.1h1m2-2.3h1m.2 1.3h1m1.4-.3h1m1-.4h1m1.5.3h1m-.4-1h1m2.2 2.2h1m-333.4 2.8h1m4.5-2.3h1m3.1 2.6h1m3.3-1.5h1m1.1 1.5h1m4-.4h1m-.5-1.6h1m-.2.3h1m8.6-.1h1m10.6-.9h1m2.5 2.6h1m1.9-.1h1m-.4.3h1m.2-.8h1m-.7-.8h1m-.3 1.4h1m-.8-1.2h1m-.3.2h1m-.1.3h1m-.2.5h1m-1-1.3h1m3 .8h1m-.7-.3h1m1.9-1.2h1m-.6 2.2h1m-.9-1.3h1m.2 1.5h1m-.8-.3h1m.5-.2h1m117.3-1.8h1m-.2-.3h1m.6.8h1m2.2 1.1h1m-.6-1.9h1m-.5.9h1m-.5-.1h1m-.6-.3h1m2.2 1.8h1m.1-1.7h1m-.9 0h1m-.8 1.8h1m-.9.2h1m.1-2.5h1m-.5 2.1h1m.1-.7h1m-.5.1h1m.1-.1h1m1.7 1.1h1m1.9 0h1m72.1-.3h1m-.3-2.3h1m-.4 1.5h1m-.5.6h1m-.9-1.1h1m-.9-.8h1m-.8 2.1h1m2.5-2.4h1m-1 1.9h1m-.4-.4h1m-.7-1.1h1m-.9 1.6h1m-.2-.8h1m-.4 1.2h1m-.2-.8h1m.4.1h1m2.5-1.2h1m-.5.5h1m-.4-.9h1m-.6-.2h1m-1 2.2h1m.6.2h1m-.2-2h1m1.3 1.6h1m6.4-.1h1m3.5.4h1m-.8-.5h1m1-1.8h1m2.4 2h1m1 .3h1m.9 0h1m1.5 0h1m.9-1.8h1m-.5 1.7h1m1.4.6h1m-.2 0h1m.6-.4h1m-331.9.7h1m.7 1.9h1m-.4-.3h1m1-.7h1m.5.8h1m3.7.5h1m1-.7h1m-1-1h1m-.7.4h1m-.4 1.1h1m-.9-1.6h1m.9 1.1h1m-.9-.2h1m-.8-.3h1m1.2 1.7h1m.5-2.8h1m9.5 1.6h1m8.5-.8h1m3.7.7h1m.3-1.1h1m2.7-.4h1m-.2 2.4h1m-.8-1.7h1m-.8 0h1m2 1.5h1m0 .2h1m-.9-.2h1m.3-1.4h1m.1.1h1m0 1.1h1m-.7-2h1m-.5.7h1m1.3.6h1m-.6 1.4h1m-.2-1.8h1m4.9-.9h1m119.7.6h1m-.9 2.1h1m.5-1.3h1m-.8.5h1m0 .9h1m.4-.1h1m1.1-2.6h1m-.9 2h1m2.1-1h1m-.9-.2h1m-1 1.7h1m-.5-1.3h1m-.9.6h1m-1 .2h1m-.7.7h1m1.1-2.1h1m1.6-.5h1m2.9-.1h1m63.6.4h1m2.8 1.3h1m-.4-1h1m-.5 1h1m-.9-.6h1m2.1.8h1m-.8.3h1m1.3-1.2h1m1.1 0h1m-.4-1.2h1m1.7 2.9h1m.8-2.1h1m.3 1.1h1m-1 .4h1m.7-2.1h1m1 2h1m-.7-1.1h1m.9-.6h1m2 1.2h1m-.2-1h1m-.7 2h1m-.2-.5h1m3.4-2h1m.9 1.5h1m2.8-.9h1m2.5 0h1m.8-.5h1m-.6-.3h1m-.2 1.5h1m-.2-1.5h1m-.1 2.7h1m-.4-.6h1m-.4-.1h1m.3-1.2h1m-.8-.3h1m.4 2.4h1m-.9-2.2h1m-1-.7h1m.6 1.3h1m-.7 0h1m-.8.8h1m.4-.3h1m-.9.4h1m-.5-1.9h1m-.7.9h1m-.2-.3h1m-.9 1h1m.4-1.2h1m2.9-.3h1m4.5.7h1m-344.8 2.4h1m-.6 2.3h1m.6-1.9h1m2.6.7h1m-.5 1h1m-.1-.9h1m.3.5h1m.5.2h1m-.9-2h1m-.2.2h1m-.7 1.6h1m-1 .6h1m.1-2.1h1m.6 1.6h1m-.6-1.5h1m-.6 1.8h1m.7-1.4h1m-.9-.1h1m-.3 1.1h1m-.4.3h1m2.2-.5h1m-.9 0h1m.4-1.9h1m2.1 2.8h1m24.2-.1h1m-.7-2.5h1m-.6.1h1m2.3.4h1m1.7 2.1h1m1.2-.4h1m0-1h1m-.6 1.2h1m-.6-.6h1m-.1.3h1m-.2-.4h1m4.1-.8h1m-.1.9h1m118.5-.9h1m-.1-.3h1m4.2.1h1m-.1.7h1m.4.4h1m-.3-2h1m-.5 1.6h1m-.4-.5h1m1.5-.5h1m-.9-.1h1m73.4.6h1m-.9.1h1m1 .4h1m-.2.5h1m.7-.9h1m0-.5h1m0 .6h1m0-1.2h1m-.5 2.4h1m-.5-1.4h1m-.2 1.5h1m1.3.2h1m-.1-2.7h1m.1 1.1h1m2.3.2h1m-.4.7h1m-.7-.4h1m-.3-1.2h1m1.7 2.2h1m-.9-1.5h1m.9-.1h1m-.8-1.1h1m13.7 1.6h1m.5-.1h1m-.5-.1h1m-.1.4h1m-.9-.5h1m-.8-.8h1m.3.1h1m-.9.3h1m-.9 1h1m-.1-.4h1m-.3.5h1m-.9-.3h1m1.5 1h1m-.9-1.5h1m-.9-.8h1m-.3-.4h1m-.5 2h1m1 .2h1m-.3-2.2h1m1.1 2h1m-.3.5h1m-.6-1.4h1m-.9 1.3h1m-.5-1.2h1m-.3-1h1m-.4-.2h1m-.4 2h1m-.7.4h1m0-.7h1m1.5-1.3h1m-.5-.1h1m.7-.1h1m2 .7h1m-344 2.8h1m8.6.8h1m.8.1h1m-.6-.1h1m-.6 0h1m-.4.8h1m0-1.3h1m.4-.9h1m-.3-.1h1m.1 1.9h1m-.8.7h1m-.4-2.3h1m1.7.8h1m.9 1.1h1m-.7-.3h1m-.6-1.1h1m-.4-.2h1m.5.1h1m-1 .2h1m2.1 1.1h1m2.3 0h1m19.4-.5h1m-.6-1.5h1m-.3.7h1m3.6-.1h1m-.5.5h1m-.3 0h1m-.8 1.4h1m-1 .2h1m.4-2.8h1m-.7 2.7h1m-.9-1.6h1m-.8-1.1h1m.2.3h1m-.1.9h1m-.6-.6h1m-.8 2.2h1m-.6 0h1m-1 .1h1m.2-1.1h1m.7-1.4h1m3.1 1.2h1m.7-1.5h1m8 2.4h1m114.4.2h1m-.7-1.2h1m6.5-1.4h1m-.7-.1h1m-.1 2.1h1m70.6-1.7h1m2.7 1h1m8.3 1.3h1m4.2-1.6h1m.4 1h1m3.1-1.2h1m-1-.2h1m0-.4h1m-.9.1h1m1.6.7h1m4.5-.3h1m1.7.2h1m1.6-.5h1m.6.9h1m3.8 1.2h1m-.7-2h1m-.6.4h1m-.5 1.6h1m-.8-2.1h1m1.2 0h1m.5 1.1h1m-.7-1.5h1m1.4.1h1m.5 0h1m-.3-.1h1m-.4.3h1m0 1.1h1m-.7-.8h1m2.9.3h1m.8.2h1m-.4-.8h1m-.1 1.8h1m6.6-2h1m-.3.7h1m-340.7 3.2h1m.6 1.5h1m-.6-2.2h1m-.6 1.3h1m.9-1.4h1m-.3 1.5h1m-.9.3h1m.9-.3h1m-.8-.9h1m-.4-.9h1m.8 2.8h1m-.3-2.4h1m-.5-.2h1m-.8.4h1m.4 1.4h1m-.8-1.3h1m-.3-.2h1m-.5 1.8h1m2.6-1.5h1m1.6 1.5h1m21-1.9h1m.5-.2h1m.4 2.1h1m5.3-2.1h1m-1 1.1h1m1.5-.9h1m.1 1.7h1m.7-.1h1m-.4-1.9h1m1.5.1h1m117.1.5h1m2.8-.1h1m.7 1.5h1m-.4-.8h1m1.2-1.3h1m-.9 1.6h1m-.6.9h1m1.3-.2h1m-.6-2h1m-.8.5h1m.2 2.1h1m-.1-1.5h1m-.1.8h1m-.5-.1h1m-.9-1.6h1m2.5 1.9h1m9.8-2.4h1m77.2 1.7h1m6.3.6h1m2.4-1.4h1m5.2-.1h1m1.2.6h1m-.4-1h1m5.4.2h1m1.5 1.1h1m1.8-1h1m-.4-.6h1m6.9 1.6h1m4.5-1.6h1m6.5 1.9h1m-338.3 1.2h1m2.7.6h1m1.2 2h1m0-2.1h1m-.5 1.1h1m1.7 0h1m5.6-.2h1m3.3-.9h1m14.4-.3h1m4.5 1h1m.3.6h1m.7 0h1m2.6-1.8h1m3.8 2.1h1m.5.6h1m-.1-.2h1m126.4-1.3h1m1.1 1.5h1m.2-2.3h1m1.3 1.2h1m-.5-1.8h1m.4 2.3h1m83.8-2.3h1m-.7 2.2h1m1.3-1.3h1m27.1-.9h1m7.1.8h1m-322.8 2.3h1m11.8.2h1m-.8 1h1m1.9.5h1m2.9-1.1h1m-1 .2h1m5.6-.6h1m26.5.3h1m264.8 0h1m3.4-.2h1m.5 0h1" stroke="#111111" stroke-opacity="0.6"/>
<path d="M50.7 33.2h1m83.7 1.6h1m229.5-.7h1m-269.9 2.3h1m149.6 3.8h1m89.3.9h1m70.7-.7h1m-169.2 4.4h1m8.4-2.7h1m2.4 1h1m-.6 1.8h1m128.4-2.3h1m2.7-.2h1m-145.4 3.8h1m3.8-.5h1m138.8 1.5h1m-.5.5h1m-170.1 1.3h1m30.4.5h1m2-.7h1m-.7 1.7h1m1.1.3h1m128.3-.2h1m-141.8 2.3h1m135.3-.6h1m-.3 1.2h1m1.1-1.8h1m-.2-.6h1m6.1 1.7h1m2.2.1h1m-293.5 3.9h1m1-.6h1m2.9-.7h1m1.3.6h1m131.2.5h1m-.1-.4h1m3.7.6h1m-.2-1.4h1m2.4-.5h1m2.4.5h1m-.5-.7h1m127.1 2h1m.7-.5h1m-284.7 1.2h1m-.6.6h1m.9 0h1m1.7 1.1h1m-.2-1h1m-.5 1h1m-.5.7h1m3.8.1h1m134.3-2.1h1m.8 0h1m-.8-.3h1m-.9 1.5h1m-1-.9h1m-.5 1.1h1m-.5.7h1m-.6-1.3h1m.6 0h1m-.3-.5h1m-.3-.5h1m7.3-.5h1m111.6.7h1m.8-.6h1m.7 1.3h1m-.3.4h1m1.4.3h1m-.4.2h1m2.1-.4h1m.8-1.2h1m1.7-.3h1m-293.3 4h1m-.6-1.5h1m7.4.4h1m108 .8h1m23.1 1.7h1m-.6-.7h1m.5 0h1m-.2-1.5h1m1.6.6h1m.8.5h1m1.7.3h1m0-.5h1m.2-1.1h1m-.7.9h1m-.3 1.5h1m-.1-.5h1m0-2.2h1m.5-.2h1m-.7.5h1m-.1.3h1m-.3.9h1m119.4-1.6h1m-280.6 5.5h1m6.7-1.5h1m-1 .4h1m.9 1.3h1m-.8-2.7h1m130.7.2h1m2 2.4h1m3.1-2.6h1m-.3.5h1m-.6.4h1m.1 1h1m3.6-1.4h1m-.2-.5h1m-.8.9h1m.9-.7h1m.4.5h1m117.7 1h1m.6-1.2h1m-.7 1.8h1m2.6.5h1m1.5-1.2h1m-.9.8h1m.3-.6h1m3 .7h1m-.8-2h1m1.8 1.2h1m-305.3 1.2h1m13.9.3h1m-.3.9h1m.1-.7h1m-.8 2.1h1m1.2-.6h1m.1-.8h1m3-1h1m.5 2.1h1m.4-1.2h1m-.1.9h1m125.7-1.4h1m3 2h1m3.9-1.8h1m1.6 0h1m-.2.4h1m6.2-1.2h1m81.1 1.7h1m28.2-.4h1m3.9-.1h1m2.1.3h1m.1.4h1m-.7-1.9h1m-.6.1h1m1.8 1.3h1m-289.8 2.4h1m139.7-.3h1m2.1 2.1h1m1.3-.6h1m-.7-.1h1m2.8.2h1m.4-.3h1m1.4-1.2h1m.6 2.1h1m122.9-2.4h1m1 1.7h1m2.1-1.2h1m1.8 1.5h1m-.3-2h1m1.1 2.5h1m2.4-.7h1m-354 1.5h1m67 .3h1m28.4.4h1m108.2 1h1m1.5.5h1m1.3-.1h1m-.9-.2h1m.1-1.8h1m-.5 2h1m-.3-2.1h1m.2.4h1m2.3.6h1m122.9-1.4h1m1.1 2h1m2.5-.8h1m-.4-.1h1m-.9.3h1m2.2-1.3h1m-284.9 3.8h1m-.1.2h1m.4.4h1m133.3-.9h1m8.4 1.1h1m.8-.7h1m1.8-.1h1m.6-.7h1m104.7-.3h1m6 .9h1m9 1.3h1m-.1-2.2h1m-.4-.1h1m1.7 0h1m.1 1.9h1m-291.1 1.4h1m7 1.1h1m2.2-1.2h1m.2.5h1m139.1.3h1m.6-1h1m5 1.9h1m.1.2h1m119.1-1.4h1m.8 1.6h1m-.2-.7h1m-.1.8h1m2.3-1.1h1m-289.7 4h1m6.9.6h1m-.8-.5h1m31.7-1.2h1m75.9-.3h1m1-.5h1m9.9 1.2h1m11.3-.6h1m.1-.7h1m.5 1h1m-.1.8h1m5.3.5h1m.3.1h1m1.1-2.2h1m1.1 0h1m108-.1h1m18.1 1.6h1m-.7-1.9h1m6.5.4h1m-300.1 2.6h1m6.2.3h1m4.8.8h1m5.5-.2h1m75.5 1.3h1m4.4.3h1m10-.7h1m28.8-.7h1m3.3-1.2h1m.3 2.2h1m-.9.7h1m5.5-2.9h1m3.2 1.7h1m3.3.9h1m86.2-.4h1m11.3-1.8h1m30.9-.1h1m3.6.5h1m-284.9 4.9h1m89.8-1.6h1m1.2.8h1m.5.3h1m.9-1.4h1m21.2.3h1m8.9.4h1m.2-.8h1m8.8.1h1m11 .7h1m67.3 1.3h1m21.8-.1h1m11.4-2h1m21.5-.1h1m-286.8 3.2h1m.8 1.5h1m80.1.6h1m2.5-1.4h1m4.6-1.5h1m3.3.8h1m1.4-.3h1m4.4.1h1m.4 1.8h1m32.7-2.2h1m-.7.6h1m-.9-.7h1m3.7 1.9h1m8.2.1h1m12.9-1.9h1m57 2.1h1m14.8-.2h1m3.6-.3h1m11.4-.4h1m17.9.6h1m8.6.7h1m3.1 0h1m-308.8 2.6h1m7.3.3h1m1.1-.6h1m.3.2h1m93.4 0h1m2.1-1.8h1m12.9.7h1m-.7 1.7h1m-.4-2.6h1m-.1 2.7h1m12.3-.1h1m15.6-2.7h1m3.6.6h1m81.1.3h1m6.3.1h1m.7 1.2h1m-1-1.8h1m-.5 2h1m1.5-1.7h1m4.2.4h1m5.5 1.1h1m16.6-1h1m23.6 1.3h1m-335.3 2.2h1m41.7-.9h1m-.9 1.8h1m84.7-.3h1m1.8.3h1m1.9-2.7h1m-.4 2h1m-.1-1.4h1m3.3-.6h1m1.3 2.6h1m-.9-1.5h1m-.5-1.1h1m-.7.6h1m.4-.3h1m-.8.9h1m-.8-1.2h1m-.7 2.7h1m2.2.2h1m1.8-1.1h1m1.2-1.5h1m1.1.4h1m.1 1.4h1m1.3-.6h1m.9-1.3h1m17.9 2.5h1m4.4-1.3h1m5 .9h1m-.3-.9h1m.3.3h1m2.1.7h1m12.5-1.9h1m61.3 1h1m2.8.7h1m.3-1.2h1m5.1-.3h1m-.5 1h1m.6-.4h1m3.7 1.1h1m.8-.4h1m4-.2h1m-.6-1.2h1m.1.4h1m1.5 1.1h1m2.7-.2h1m5.7 1h1m.1-.9h1m-315.4 2.4h1m7.1.8h1m3.1-.2h1m1.5.5h1m-.8.3h1m31.9-1.5h1m1.8-.1h1m2.2 1.2h1m3.4.2h1m74.1-1.6h1m3.2-.4h1m.3.7h1m.8 1.1h1m-.6.1h1m-.8-1h1m.3 1.2h1m.2-1.6h1m-.5-.4h1m-.4 1.9h1m-.7-1.9h1m-.4 1.1h1m-.3.1h1m.5.1h1m-.5-.1h1m.2.2h1m-.9-1.7h1m-.7.2h1m-.6.9h1m-.7.3h1m.5-.9h1m-.7.3h1m-.6.6h1m-.7 1.1h1m-.1-.5h1m-.8-2.1h1m1.1.4h1m-.3 1.4h1m-.9-1.5h1m-.8-.1h1m1.2.8h1m4 .9h1m11.9-.4h1m7.9.9h1m2.4-1.3h1m1.1 1.4h1m4.8-2.3h1m0 .6h1m-.8-.2h1m1.6.5h1m1.7 1h1m61.9-1.6h1m2.2-.3h1m10.3 1.5h1m1.3-1.8h1m1.8 2.2h1m1.2 0h1m2.1.3h1m1.9-.9h1m1-.5h1m-.7-.9h1m1.8 1.9h1m1-.1h1m5.1.6h1m2.5-1.8h1m4-.6h1m1.9.5h1m-.9 1.9h1m1.9-1.8h1m22.3.8h1m3.6-.2h1m-361.6 2.5h1m10.7 1.2h1m7.1-.8h1m37.1.9h1m12.6-1h1m5.4-.4h1m68.7-.7h1m-.5.1h1m-.6 1.1h1m-.6-1h1m-.6-.1h1m-.4 1.1h1m2.5-1h1m-.9 1.9h1m.2-1.5h1m-.9.5h1m-.8 1.4h1m-1-2.7h1m-.2.5h1m.3.4h1m-.8.2h1m-.9-.1h1m.5.3h1m-.5-.5h1m-.7.2h1m2.3 1.1h1m3.2.2h1m12.6-1.3h1m4.8 0h1m6.8-.1h1m3.8-.9h1m-.5 1.5h1m-.6-.8h1m.8-.7h1m-.6 2.8h1m-.6-1.1h1m1.1 1.1h1m-.6-1.9h1m-.4 1h1m3.7-.2h1m1.9.3h1m-.5.6h1m60.8-.7h1m7.1-.6h1m-.4-1h1m1.6 2.5h1m.9-.6h1m-.7-1.3h1m-.8-1h1m-.1 1.6h1m1-.3h1m-.8.9h1m-1-1.5h1m-.5 1.4h1m.9.5h1m1.3 0h1m-.7-1.3h1m1.2-.4h1m-1 .4h1m1.3.7h1m-.9-2h1m6.4 2.3h1m-.1-2h1m-.9 2.3h1m.7-1.6h1m6.6 1.9h1m2.3-2.6h1m5.5 1.3h1m.7-1h1m8.9 1.6h1m-333.6 2h1m5.2 1.3h1m3.9-1.8h1m2.9.7h1m-.6.8h1m.8-.4h1m3.4 1h1m21.1-2h1m1.7 1.3h1m2.4-.3h1m-.8-.2h1m-.1-.7h1m2.2 2h1m8.1-1.8h1m3.1.4h1m64.4.3h1m3.2-1.4h1m1.8 2.2h1m.1.3h1m1.2-1.4h1m-.8-1h1m1.7.2h1m-.5.6h1m0-.6h1m.3-.7h1m2.7.2h1m-.4 1.8h1m-.7.8h1m-.8-1.7h1m5.7 0h1m23.2.2h1m14.5-.8h1m2.3-.1h1m2.9 2.3h1m63.3-2.6h1m.9 2h1m-.6-2h1m-.1.1h1m2.3.3h1m-.7 1.2h1m4.5-.6h1m-.1-.1h1m1.2 1h1m9.7-.7h1m3.1-.9h1m1.1 1.9h1m0 .2h1m3-.2h1m-.9-.5h1m-.5-1.7h1m2.7.9h1m7.3 1.6h1m.3-.7h1m3.2-1.5h1m-.8-.3h1m0 1.7h1m.2-.9h1m3.2 1.3h1m7.6-1h1m-342.3 4.6h1m.7.1h1m2.9-1.8h1m1 .3h1m0 .3h1m6.6-.8h1m12.1 1h1m10.4-1.5h1m2.3 2.3h1m1.2-1.7h1m4.9 0h1m.6-.3h1m1.2.7h1m4 1.3h1m.8-1.4h1m71.1.5h1m.4-.1h1m1.6.5h1m-1-.5h1m5.1-.3h1m-.6.4h1m5.5-1.6h1m-.5.6h1m1.4 1.1h1m-.5.2h1m19.3-.5h1m1 .7h1m5.7-1.5h1m2.8.1h1m0-.2h1m1.3 2.2h1m-.9-1h1m7.7-1.9h1m2.7.8h1m.3 1.8h1m1.7-1.9h1m59.4-.5h1m4.2.1h1m3.5 2.6h1m2.2-2.5h1m3.2 1.6h1m-.9-1.2h1m2.4 2h1m-.2 0h1m2.4-1.2h1m3.5-.3h1m6.3 0h1m6.1-.1h1m3.7.4h1m.4 0h1m-.3-1h1m9.5-.3h1m10.4 1.9h1m.2-.3h1m-.1-1.6h1m.2 2.1h1m10-1.4h1m-352.9 3.2h1m-1-.1h1m.3 1.1h1m-.2-2.1h1m-.3-.1h1m1.1 2.2h1m.7-1.9h1m1.3.9h1m.2-.1h1m1.3.5h1m-.2-1.6h1m-.6 1.2h1m1.5.7h1m8.1.3h1m4.4.4h1m2.6-1.4h1m9.4-1.1h1m3.5.7h1m-.4 1.4h1m3.3-2.2h1m1.2.4h1m8.9 1.9h1m77-1.5h1m.5 1.2h1m32.3-1.1h1m1.3.9h1m-.3-1.2h1m.7.9h1m-.2-.7h1m6.2.6h1m-.2 1.1h1m-.5-.1h1m-.2-.1h1m71.1-1.3h1m6-.5h1m.5.4h1m4 .4h1m.6.2h1m-.6-1.2h1m5.3 1.1h1m2.3-1.1h1m11.5-.1h1m5.8 2.7h1m3.5-1.8h1m-.9 1.1h1m-.4-2h1m6.9 1.8h1m5.2-.2h1m7.1-.8h1m.7.5h1m-347.3 3.7h1m4.9.2h1m.5-.4h1m3.9.2h1m1.6-1.2h1m1.9 1.2h1m7.1.4h1m20.7-1.8h1m.2.2h1m9.6-.4h1m3.1 1.5h1m115.4.7h1m1.4-.2h1m2-.9h1m4.5 1.2h1m1.5-.5h1m3.7-2.1h1m6.5 1.7h1m2.1.5h1m68.5-.2h1m.3-.5h1m4.7-1.3h1m-.4 1.9h1m-.8.2h1m-.4-1.4h1m-.8-.9h1m-.6.7h1m5.4-.3h1m-.5.3h1m-.2.5h1m7.4.3h1m3.8-1.7h1m.1 1.4h1m.7-1.2h1m1.5 2.3h1m5.5 0h1m4.8-1.3h1m.1.4h1m.9-1.3h1m-.8.4h1m.4-.1h1m3.9-.3h1m.7 0h1m6.2-.4h1m-346.8 5.4h1m13.6-1.9h1m1 1.1h1m9.7.8h1m15-.5h1m2.3-.3h1m2.2-1.2h1m6.1 0h1m130.3-.1h1m97.6-.1h1m-.1 2.7h1m-.4-1.6h1m7.3-1.1h1m1.6.4h1m5.4 2.1h1m2.6-2.7h1m1.1 1.9h1m-.3.8h1m1.7-1.1h1m11.5-.2h1m3.3-1.3h1m6.4.3h1m.7 2.2h1m-.6-.5h1m1.3-1.8h1m1.2 2.2h1m.7-1.6h1m3.1.2h1m-358.9 3h1m22.9.2h1m4.3-.5h1m42.8.1h1m-.7-.1h1m121.5 2.1h1m5.8-2.6h1m8.7.5h1m89 .1h1m2.7-.9h1m20.1 1.1h1m.4.3h1m1.1-1.1h1m-.7 1.9h1m-308.8.9h1m3.4.9h1m25.6.1h1m5.8.8h1m2.1-1.3h1m.2 1.3h1m-.5-1h1m5.5-.1h1m115.4 0h1m15.3.1h1m10.7.6h1m90.1-1.2h1m1 .5h1m13-.3h1m9.9.2h1m9.8.1h1" stroke="#333333" stroke-opacity="0.5"/>
<path d="M371.3 33h1m3.6 1.2h1m4.2.8h1m33.7 0h1m-84.5 2.1h1m45.8-.7h1m-270.7 4.9h1m3-.4h1m132.1.5h1m9.4-1.6h1m2.4-.6h1m119.8 2.5h1m7.1-.2h1m-141.8 2.3h1m111.2.1h1m20.3-.5h1m11 1.3h1m-291.7 1.3h1m11.3.3h1m130-.4h1m3.2-.2h1m-.7-.4h1m130.3.8h1m-144.6 4.3h1m9.7-2h1m-.7 1.9h1m.8.6h1m-.1-2.4h1m2.4-.5h1m2.2 1.6h1m120.6.3h1m5.3.9h1m-.8-2.4h1m-285.3 4.4h1m26.2-1.7h1m101.3 1.8h1m16.8-.2h1m1.1-1.1h1m1 2.1h1m2.3-1.4h1m123.4-.5h1m1.1 1.3h1m5-1.3h1m-295.8 3.1h1m4.4.8h1m.3-1.3h1m3.9 1.9h1m125 .6h1m2.1-.8h1m9.4-1.8h1m1.4.1h1m2.9.9h1m125.3 0h1m3.4-.4h1m2.1-.1h1m2-.4h1m-288.9 2.9h1m4.1 1.3h1m.6-.8h1m7.4-.7h1m126.1 0h1m.1 1.8h1m1.8.2h1m.3-2.1h1m.1 2.3h1m0 .6h1m-.7-2.9h1m123.5 1.4h1m.1 1.2h1m4-.5h1m2.1-.9h1m.1 1.6h1m-287.9 1.2h1m4.7.4h1m-.6.6h1m1.8.7h1m1.2-2h1m7.3.3h1m123.4 0h1m1.6-.8h1m-.2.6h1m3.5 1.1h1m.1.2h1m-.5-1.2h1m-.8-.1h1m1.7.5h1m-.7-.9h1m.5.4h1m15 1h1m103.6-.6h1m4.2.5h1m4.7.2h1m-.9-1.5h1m2.3.1h1m-.7.5h1m-.6-.9h1m.2 1.7h1m-294.4 2.7h1m2.3.4h1m-.3.7h1m.9-1.1h1m.2-.8h1m-.4-.2h1m2.1-.2h1m-.1 1.2h1m2.9-.5h1m119.6 1.2h1m3.8.3h1m7-1.3h1m-.5-1h1m2.3 2.1h1m-.5-.5h1m.4-.6h1m.6.3h1m3.6.7h1m1.3.1h1m111.5-1.6h1m1.5 2h1m2-.2h1m.3-1.7h1m1.2.4h1m-.2 1.6h1m1.7-.1h1m0-2.6h1m-.8-.1h1m-333.5 3.1h1m47 .8h1m.9 1.2h1m-.9-1.4h1m2.6 1.1h1m5.7-1.6h1m-.9 1.5h1m120.5 1.1h1m7.1-.6h1m2.9-1.5h1m6.1 1.3h1m1.1-.2h1m117.8-1.8h1m8.2.6h1m-.2.2h1m-.8-.6h1m18.9.6h1m-317.5 3h1m9.2 1.1h1m3.4.3h1m.4-.2h1m1-1.6h1m4.9 1.3h1m-.8-1.5h1m115 1.7h1m11.7.3h1m3 .7h1m-.4-1.5h1m.1-.8h1m1 2.1h1m-.5-.9h1m-.6 1.1h1m2.1-1.6h1m117.8 1h1m-.6-.2h1m1.2-2h1m3.8 2.7h1m-.9.1h1m3 0h1m-.6-.2h1m-.7-2.5h1m-284.7 4.7h1m-.1-1.1h1m-.6-.4h1m-.8 1.7h1m-.7-1.5h1m.8 1h1m0 .5h1m1.4-1.6h1m10.9 1.8h1m100.4-.1h1m20.5-1.8h1m.4.9h1m119.1 1.3h1m9.1-.2h1m1.6-.8h1m-285.8 2.4h1m3.7 1.9h1m-.3-.1h1m139.1-1.4h1m6.4-.2h1m-.5.6h1m-.5-.3h1m.5-.6h1m-.4 0h1m.4 1.9h1m5.3-2.2h1m120 1.6h1m0-.8h1m.5-.9h1m-.7-.4h1m-.1.9h1m.2.3h1m1.9-.8h1m-.8.1h1m4.2 2h1m-294.1 1.6h1m5.6 1.7h1m-.4-.4h1m.1-.9h1m29-.3h1m91.2-.3h1m6.9 1.3h1m2.2.4h1m4.4-2.7h1m1.3.3h1m.8.5h1m1.8 1.2h1m91.7-.4h1m4.8.7h1m22.4-1h1m8.9-1.2h1m2.9 1.5h1m-151.8 3.1h1m6.8-1.4h1m134.1.5h1m4.3.7h1m-279.4 2.2h1m78.7 1.3h1m2.6-.9h1m1.1.1h1m23 .3h1m1.5 1.2h1m10.4.2h1m5.2-.3h1m.1-.8h1m.1-1h1m-.8.2h1m.8.7h1m.5.5h1m-.6 0h1m4.1.7h1m14.4-.1h1m76.8-.3h1m21-1.2h1m12.2-.3h1m.4.8h1m.1-.2h1m.3.2h1m-192.7 4.1h1m3.6-.6h1m3.8-1.4h1m-.4.8h1m.1-.1h1m.5 1.1h1m13.4-2.3h1m5.8 2.1h1m6.5-1.7h1m.5.1h1m9.6-.6h1m.1 2.1h1m6.2-1.1h1m5.5.1h1m59.3.9h1m45.9-1.4h1m17.4-.3h1m-.4 1.3h1m2 .7h1m-275.1 2.5h1m77.3.5h1m.9-1.1h1m1 .3h1m-.6-1.3h1m.1.9h1m2-.7h1m.9.7h1m.2 1.3h1m2.7-1.6h1m-.8-.8h1m6.8 1.9h1m13.7.5h1m4.3-.9h1m-.5-.8h1m18.4.1h1m1.1-.3h1m6.9 1.8h1m-.4-2.1h1m5.4 2.1h1m63.7-2.1h1m-.8.3h1m10.7 1.1h1m26.8-1.5h1m2.7.8h1m5.7-.7h1m-311.2 2.5h1m35 1.9h1m19.6.2h1m48.9-.9h1m6.5-1.1h1m.4 1.3h1m.2-.3h1m-.6 1.5h1m-.3-.5h1m.5-2h1m1.3 2.8h1m-.6-.3h1m-.3.2h1m-.4-2.2h1m-.7 1.9h1m-1 .1h1m-.7.3h1m-.8 0h1m1.4-.2h1m-.5-.2h1m-.5-.6h1m1.2-1.3h1m6.4 2.3h1m2.2-1.5h1m9.2-1h1m5.1.9h1m-.2-.4h1m.4 2h1m-.2-.7h1m.4-1.6h1m.7 1.6h1m15.2.5h1m4.3.2h1m67.2-2.6h1m5.4.1h1m9 1.2h1m-.3.1h1m-.7-.9h1m-.6 1.7h1m3.7-.1h1m3.2.1h1m4.5-.5h1m1.6-1.6h1m14.6.2h1m-331 4h1m-.2-.4h1m-.4.6h1m14.6.8h1m28.5-2.6h1m0 1h1m-.3-1h1m5.5 1.4h1m2.7 1.3h1m6.2.1h1m71.1-2.4h1m3.1 1.8h1m-.4.7h1m-.6-.4h1m.4-1.5h1m-1-.5h1m-.9 2.2h1m.1-1.6h1m-.7 1.1h1m.6-1.4h1m1.7.4h1m-.4.1h1m.2-.5h1m-.7-.3h1m3.1 1.9h1m-.1-.6h1m.6-1.1h1m1.2.4h1m5.1-.3h1m8.2.4h1m4.6 1.3h1m1.8-.4h1m1.7-1.1h1m1.7 1.7h1m2.8-.3h1m2.2-.6h1m3.4-.3h1m-.1.8h1m1.1.4h1m.6.1h1m1.6-2.2h1m78.6 1.5h1m.8-.1h1m-1-1h1m3.2.6h1m7.7-.6h1m1.1 1.9h1m.1-2.1h1m10.3-.6h1m11.9 1.5h1m-330.7 2.7h1m2.8-1.3h1m-.9.3h1m8-.4h1m36.2.7h1m16.4.5h1m71 .7h1m0-1.1h1m.1.8h1m.1 0h1m-.1.3h1m-1-.6h1m-1 .4h1m-.4-1h1m-.8.8h1m-.7.7h1m-1-.9h1m-.1.8h1m1.3.1h1m1.5-1.3h1m-.2 1.5h1m.5-1.9h1m-1 1.4h1m-.7-.2h1m.2-.4h1m1.5.5h1m-.1-.8h1m-.9 1h1m-.8-.6h1m.2-.4h1m20.1.3h1m3.4-.4h1m-.4-.2h1m1.1.5h1m.4 1.2h1m7.3-1.3h1m1.2 1.1h1m3.7-1.5h1m1.8 2h1m1-.2h1m62.7-1.8h1m1.1 1.5h1m4.6.7h1m2.6-2.1h1m-.3.4h1m-.9 1.1h1m.4 0h1m6.6-2.1h1m1.3 1.3h1m-.8-.8h1m-.5 1h1m-.6-.5h1m7.3-.1h1m8.2-.2h1m1.2 1h1m.2.9h1m15.2-2.3h1m8.8.7h1m-347.2 2h1m6.2.9h1m-.3 1.1h1m-.2-1.8h1m6.7 2.1h1m1.9-.9h1m27.2-.7h1m7.4 1.9h1m2.2-1.9h1m1.9.6h1m4.2.6h1m68.4-1.1h1m.5.9h1m-.3-1.8h1m.5.2h1m.3 1.5h1m0-.3h1m-.8 0h1m-.3-1.5h1m.1.5h1m-.4 2.2h1m-.4-.4h1m1.6-2.3h1m2 1.5h1m-.1-1.1h1m-.6-.4h1m-.9.7h1m.4.9h1m-.6-.6h1m-.8-.7h1m-.7.8h1m2.3-.6h1m-.8-.5h1m.5.6h1m-.7.1h1m.1.1h1m.8 1.4h1m.4-.2h1m10.9.1h1m9.8.5h1m3.6-2.1h1m-1 1.3h1m-.3-1.7h1m-.8.9h1m.9 1h1m.9-.7h1m-.1.7h1m2.1-.2h1m-.7-1.3h1m-.3 1.5h1m-.6-1.8h1m3.4 0h1m9.6 2.5h1m1.5-1.3h1m61.2-.9h1m-.2 2.4h1m1.6-.8h1m-.4-.1h1m3.6-1.4h1m11.9 1.8h1m.6.2h1m-.5-1.4h1m11.4.6h1m-.8.2h1m1.9-1.3h1m.1 1.4h1m.8-1h1m2.3.4h1m4.2-1.3h1m4.8.9h1m6.6.5h1m-348.9 3.2h1m1.8-1.4h1m.2 0h1m2 1.3h1m-.5.6h1m6.5-2.1h1m.9 1.6h1m-.3-.5h1m2.8 1.6h1m23.9-2h1m-.2 1.7h1m3.9-1.7h1m3.6-.5h1m3.2-.4h1m-.7 2.4h1m5.9-1.8h1m4 .5h1m70.7 0h1m-.8.9h1m-.3.9h1m-.9-1.2h1m-.2 0h1m5.1-1h1m1.4-.4h1m-.6 1.1h1m1.6 1.1h1m3.2-1.7h1m1.7 1h1m2.7-.9h1m12.3-.2h1m2.2-.5h1m10.7 2.4h1m0-.9h1m6.2.5h1m7.8-1.3h1m57.7-.5h1m1.3 1.5h1m10.4.3h1m-1-1.8h1m5.5 1.7h1m4.2-1h1m.5.7h1m.2.3h1m.9-1.2h1m-.4 1.9h1m-.2-.1h1m3.4-.6h1m4.8.4h1m1.7-1.4h1m.8-.8h1m.2-.2h1m1.6 2.6h1m.2-1.4h1m12.1.7h1m6.5-1.2h1m-.4.8h1m-338.9 3h1m-.7-1.2h1m1.4-.2h1m5.8 1.9h1m6.4 0h1m3 .1h1m8.6-1.4h1m11.7-.6h1m5.3 2.3h1m14.2.4h1m3.5-2.2h1m11.2 1.3h1m58.5-.8h1m-.5-.4h1m8.9.5h1m6.8-.5h1m4.6 1.9h1m13.7-.6h1m5.9.3h1m6.3-1.5h1m5.7.4h1m64.3 1.3h1m4.3.2h1m2.7-2h1m-.6.9h1m3.3.3h1m5.2.6h1m.6-1.4h1m-.9 1.5h1m1.6-.3h1m-.7-.9h1m-.5.6h1m.8-.4h1m5.4 1h1m11.1-2.6h1m1.6 1.6h1m2-.9h1m11 .9h1m-.1-.9h1m-339.9 3.9h1m3.1.7h1m3.7-1.5h1m.2 1.1h1m6.6-2h1m1.8 1.9h1m1.8.9h1m16.1-1.7h1m14.4 1.6h1m.8-.4h1m1.4-1h1m2.7-.1h1m-.1-.9h1m.2.3h1m8.8 2.2h1m76-.5h1m40.1-1.6h1m.9 1.2h1m4-.5h1m7.6 0h1m2.7.2h1m11.2 1.3h1m50.1-1.8h1m13.1 1.4h1m5.3-.8h1m-1-.7h1m-1 1.6h1m6.8-1.3h1m1.5.2h1m5.1 1.3h1m3-.4h1m-.9 0h1m3.6-1.3h1m9.7.4h1m.7 1.1h1m.7-.1h1m-.8-1.5h1m.9.5h1m.3-.9h1m4.8.1h1m1 .1h1m4.2 1.4h1m4.8-.2h1m-357.2 3.7h1m4.5-1.1h1m2.1-1.2h1m3.4 2.4h1m5.1-1.8h1m1.3 1.1h1m6.7-.4h1m16.6 0h1m-.5.4h1m1.8-.6h1m2.5.5h1m1.3-1.6h1m9.5 1.8h1m-.5-2.1h1m1.7 1.7h1m84.6.3h1m1.2-1h1m35.9-.2h1m-.9 1.7h1m8.5-1.4h1m.1.2h1m.7-.4h1m2.2.9h1m72.6-1.5h1m-.5 2.5h1m-.3-.1h1m4.5-1.2h1m-.6 1.2h1m2.4-2.5h1m.3 1.9h1m1.1-.4h1m-.3 0h1m1.6-.3h1m2.1.5h1m2.8-1.4h1m-.4-.3h1m.1 1.1h1m0 1h1m.8-.1h1m8.1.1h1m1.8-1.8h1m8.7 1.6h1m7.1-.7h1m1.8-1h1m4.7 1.5h1m-354.2 1.5h1m4.1-.3h1m2.7 2.4h1m.9-2.4h1m1.8.1h1m1.4 1.7h1m.5-.8h1m.8-.9h1m4.8 2.1h1m5.1-1.4h1m-.9.6h1m7.7.4h1m15.3-.6h1m8.2-.4h1m134.2 0h1m.2.7h1m.7-1.4h1m8.1 1.4h1m2.5.8h1m4.4-2.5h1m7.5.9h1m9.6-.4h1m48.8-.5h1m3.3 1.8h1m10 .4h1m18.9-2.1h1m-.2.8h1m1.2.9h1m8.5-.8h1m3 1.9h1m-337.7.2h1m1.2 2.7h1m3.3-.3h1m-.5-1.4h1m.3-.2h1m33.7-.4h1m12.5.9h1m-.2-.2h1m0 .4h1m128.5-.7h1m42.3.7h1m3.5.3h1m39.8.5h1m11.8-2.3h1m-.7 1.9h1m-.3-1.6h1m19.8 1.4h1m13.8-.9h1m2.4-.7h1m7.5 2.7h1m5.3-.4h1m-342.6 1.3h1m10.1.3h1m6.7.7h1m168.7-1.4h1m2.6 1.3h1m15-.7h1m.2.1h1m100.1.9h1m4.5-1h1m7.9.6h1m21.6-.9h1" stroke="#333333" stroke-opacity="0.5"/>
<path d="M103 32.8h1m152.8-.7h1m113.9-.3h1m19.7 3.8h1m-12.5 2.4h1m5.6-1.7h1m-292.7 4.8h1m38-.8h1m125.2 1.8h1m22.8.9h1m90.8.9h1m7.9.4h1m-138 3.5h1m1.2-1.7h1m2.8 1.8h1m64.6-1.4h1m60.4-1.3h1m-.9 1.8h1m-280.7 2h1m32.2 1h1m115.1-1.8h1m.3.9h1m.9-.9h1m132.3.8h1m-281.9 3.5h1m-.2.5h1m1.7 0h1m76.5 0h1m48.6.9h1m8.3-1.8h1m-.6 1.1h1m-.5.4h1m4.1-2.4h1m1.1 2.6h1m3.3-1.9h1m122.3 0h1m3.2 1.4h1m-.1-.4h1m-282.5 3.9h1m-.4-1.8h1m4.8-.2h1m124.3.7h1m-.4-.8h1m5.1-.6h1m0 1.9h1m1.8-2h1m-.4 2.4h1m-.2-2h1m3.3 1h1m1.1-.9h1m.5 1.6h1m118.6-.6h1m6.8.5h1m1.1-1.6h1m5.8 1.7h1m-291.9 1.6h1m1.5.1h1m3.2 2.1h1m-.8-1.2h1m3.5.2h1m.3.5h1m1.1-.6h1m128.6-.9h1m0 .4h1m.4.2h1m-.8.9h1m-.2-1.6h1m2.8.3h1m-.3-.1h1m.4 1.8h1m110.3-1.9h1m13.2.1h1m.6.7h1m-.9.8h1m1.8-1.3h1m4.1 1.3h1m-.5-.7h1m-292.4 3.2h1m-.7.2h1m.4.6h1m1.9-1.2h1m-.4.5h1m.8-.4h1m6.9.1h1m1.4-.1h1m126.5-.9h1m3-.4h1m.4.3h1m.1-.7h1m-.9 1.9h1m104 .3h1m20.5.2h1m4.2-1h1m4.3-.1h1m.5.3h1m-295 3.9h1m6.3-1.1h1m1.6.6h1m1.7-1.6h1m4.9 1.2h1m-.4-.4h1m126.9-.9h1m-.5.1h1m1.5.1h1m-.5 1.6h1m.6-.2h1m7.3.1h1m1-1.9h1m118.3 1.9h1m.8-1h1m-.7.9h1m0-.3h1m-.8.5h1m.1-1.9h1m-.1 2.1h1m-.8-1.9h1m-.2.1h1m-.6 1.3h1m-.4-1.7h1m-.9 1.5h1m1.2-.6h1m.4 1.4h1m1-1.3h1m-.8-.9h1m-.4 2.6h1m-291.3 2.3h1m3.4-1.1h1m-.7-.5h1m-.9 2h1m1.8-1.4h1m-.8 1.3h1m3-.4h1m86.3.1h1m47.5-.3h1m.9-1.2h1m-.9.3h1m3.8 1.3h1m4.1-1.2h1m114-.7h1m1.1 2.4h1m1.3-1.4h1m.2 1h1m2.2-.7h1m-.8.8h1m.1-1.7h1m-.3.3h1m-.1-.2h1m-.9.2h1m.2.2h1m-.9 1h1m5.3-1.5h1m10-.2h1m-310.6 5.3h1m4.5-2.6h1m1.4 1.2h1m1.4.4h1m-.1-1.1h1m-.1 1.5h1m0-1.9h1m-.3 1.4h1m138.7-1.6h1m.7 1h1m-.7 1h1m1-.2h1m.7-.9h1m-.7 1.2h1m102.1-1.9h1m20 .5h1m1.5-.3h1m.3 2.4h1m.8-2.1h1m.3 1.3h1m-.8.3h1m-.9.5h1m-.5-.8h1m1.1-1.8h1m3.2 1.4h1m-1-1.7h1m-298.4 3.5h1m4.8 1.4h1m1.4 1h1m5.7-.4h1m135.7-1.5h1m2.5.1h1m-.2-1h1m3.1 2h1m3.2-1.9h1m7.6 2.2h1m106.6-.5h1m-.5-1.6h1m2.2 1.3h1m4.1-1.1h1m1.6 1.7h1m-291.9 2.8h1m7.6-.5h1m2.6-.2h1m4.6.5h1m127.8-1.6h1m4.3 2h1m-.3-1.3h1m7.2 1.4h1m124.9 0h1m1.3.5h1m3.6-2h1m-283.4 4.1h1m-.4.7h1m5.5-.7h1m109.2-1.9h1m14.7 2.4h1m2.6-1.2h1m.5 1.2h1m1.1-2h1m1.1-.3h1m.2 1.3h1m-1-.7h1m.9-.4h1m.1-.3h1m.1 2.8h1m2.6-2.1h1m118.1 1.2h1m-.3-1.7h1m-.6.8h1m2.2-.2h1m1.4-.7h1m-.5 0h1m3.9 1.7h1m-.2-.5h1m-204.5 3h1m25.1.4h1m23.3.6h1m2.8-1.8h1m2.4.6h1m-.2-.3h1m3.6 1.4h1m106.4-1.9h1m14.7.9h1m7 .1h1m.6 1h1m1.6 0h1m-284.9 1.5h1m11.7 1.2h1m79.9-.6h1m11.7-.2h1m16.2-.9h1m13 1.9h1m5.9-1.1h1m33.6-.6h1m65.6-.4h1m39.6 2.7h1m-281.6.6h1m93 2.1h1m4.8.4h1m18.6-2.8h1m5.1.3h1m.8 1.7h1m1 .3h1m5.3-.7h1m3.5-.9h1m.1.5h1m4.5-1.3h1m-.7 1.6h1m3.4-1.3h1m0 .2h1m68.1 2.2h1m1.5-.8h1m0 .4h1m11.3-.2h1m3.4-1h1m35.1 1.4h1m-327.1 3.2h1m40.6.1h1m81.7-.6h1m5 .7h1m3.6-2.9h1m-.5.2h1m1.1 2.4h1m1.5.3h1m3.7 0h1m0-.8h1m0-1.1h1m13.1 1.8h1m1.5-1.8h1m.4 1.3h1m6.1.3h1m6-2.1h1m3.2 2.3h1m3.8-1.9h1m.5-.8h1m2.5 1.8h1m-.8 1h1m-.4-.3h1m19.8.3h1m51.2-.4h1m-.4-1h1m13.7.3h1m9.6 0h1m22.6-.1h1m-.6.2h1m6.8.9h1m3-.1h1m-204 1.4h1m4.1.8h1m.3.3h1m-.1-1.1h1m-.8-.7h1m-.2.5h1m-.6.5h1m2.1.9h1m-1-.7h1m8-.1h1m1.5-.3h1m-.9.8h1m1.8.6h1m3.1-.1h1m15.7.2h1m8 0h1m2.3-.4h1m1.2.3h1m1-.6h1m74.7.1h1m10.1-2h1m.1.1h1m4.6 1.3h1m5.9.2h1m12.4 1h1m.4-1.6h1m3.2.7h1m13.4-.4h1m13.4.8h1m-343.9 3.4h1m31.7-1.8h1m18.9.2h1m-.3.6h1m4.6-1.6h1m-.4.9h1m70.9 1.1h1m3.9 0h1m-.5-1.3h1m-.8 2h1m1.5-.8h1m.7-1.4h1m-.9-.2h1m-1 .8h1m-.2.7h1m-.2.4h1m.7-1h1m.7.1h1m1.6.3h1m-.1-1.4h1m-.7 2.5h1m0-1.6h1m-.4 1.7h1m-.7-.1h1m-.2-2.6h1m1.9 1.7h1m-.5-1.5h1m.4 1h1m23-.3h1m1.1-1h1m.5 2h1m.4-.6h1m-.8.2h1m.6.5h1m6.3-1.7h1m0 1.6h1m-.4-1.2h1m1.1.6h1m3.2-.9h1m4.6.4h1m19.3 1.7h1m44.9.2h1m1.9-1.4h1m.1-.8h1m-.6.9h1m1.1.6h1m2.6-1.1h1m-.7-.6h1m.4.4h1m2.7 1.9h1m4.8-1.1h1m2.3.8h1m1.1-.9h1m-.8.5h1m.2-1.2h1m9.2-.5h1m-.2.3h1m12.2-.4h1m0 2.4h1m12-.5h1m.3-.8h1m-349 4.5h1m8.2.1h1m36.1-1.9h1m3.7 1.5h1m5.5-.3h1m3.5-1.1h1m4.7.5h1m67.4.5h1m4.8-.3h1m-.2-1.8h1m.1 1.2h1m-.6-.4h1m-.9 1.9h1m.2-1.2h1m1.2.7h1m-.6-.6h1m-.7-.4h1m.1 1.1h1m-.8-1.1h1m0-1.2h1m-.4.1h1m-.5 1.1h1m2.1 1.5h1m3-1h1m3.4-.3h1m2.6-1.2h1m13.6 1.9h1m2.8-1.5h1m-.3 1.4h1m4.8.4h1m.3-.4h1m4.3-.3h1m4.3.2h1m8.7-1.9h1m56.8 1.2h1m2.7-.5h1m9 1.6h1m.3-1.9h1m.4 2.5h1m10-1.4h1m2.2-1.3h1m-.8-.2h1m5.1 1.9h1m3.3-.4h1m1.8-.1h1m.1 1.2h1m-.3-1.7h1m2.8-.1h1m4 1.2h1m.6-.2h1m-.2-.6h1m5.3-1h1m4.1.5h1m-332.6 4.9h1m7.4-.4h1m19.9-.2h1m1.9-.9h1m3.8.7h1m7.8.4h1m1.3.6h1m-.2-.5h1m-.9.4h1m-.9 0h1m0-1h1m2.4 1.1h1m2.9.1h1m67.2-1.6h1m-.1-.7h1m3.9 1.9h1m-.7-1h1m-.2.4h1m0-1.7h1m-.7.2h1m.1-.3h1m-.2 1.9h1m-.2-.7h1m-.4-1.2h1m-.3 1.7h1m-.6-.6h1m-.7-.1h1m-.4-.7h1m-.7 2.4h1m.5-.4h1m-.4.2h1m-1-1h1m-.1 1h1m.1-1.7h1m-.4 0h1m.4-.9h1m.7 2.9h1m1.8-1.7h1m-.2 1.4h1m4.6-1h1m21.8-1h1m.6.7h1m2.6 1.2h1m.8-1.6h1m3.6-.8h1m2.2.1h1m2.3 1.5h1m-.9-1.3h1m72 2h1m.7-1.7h1m4.4.8h1m12.4.9h1m-.7-.2h1m1.9.7h1m3.8-1.4h1m-.4-.5h1m4.2 1.4h1m.1-1.2h1m-.5 1.6h1m-.4-1.8h1m.8-.1h1m-.2-.2h1m1.1.8h1m.1 1.4h1m2.4-2h1m3.2 1.4h1m-.6-2.2h1m1.5 1.6h1m4-1.2h1m12.9 1.4h1m8.8.4h1m-367.1 3.6h1m7.5-.9h1m.7-1.7h1m.2 2.3h1m.2 0h1m1.9-.3h1m1.3-.6h1m12.3-.7h1m16 1.3h1m9-2.3h1m.1 1.7h1m5.8-.4h1m-.9-.3h1m78.3-.8h1m-.3 1h1m-.2-.8h1m4.9-.4h1m4.6 1.9h1m.9-.6h1m-1-.3h1m4.7-.8h1m16.1.5h1m3.1-.4h1m8.3 1.1h1m2.6-1.2h1m.2 2.2h1m2.6-.3h1m3.4-.4h1m71.1.2h1m1.7.9h1m-.8-.4h1m1.9-2.4h1m1.9 1.2h1m-.9-.4h1m1.5-.5h1m2.1.6h1m1.4-.4h1m5.2 1.4h1m-.2-.8h1m3.4 1.6h1m4.5-2.2h1m-.4.7h1m3.3-1.2h1m-.8.8h1m7.2 1.8h1m2-1.2h1m3.1.9h1m3.7-.4h1m2.3.9h1m13.9-.3h1m-361.6 1.1h1m16.7.2h1m.6 2.1h1m22.2-.2h1m6.5-1.4h1m4.1-1.2h1m-1 .7h1m4 1.7h1m-.8.4h1m-.3-.7h1m.1-1.2h1m2.2-.3h1m2.6-.1h1m75.2 1.2h1m.3-1.2h1m8.8 2h1m-.6-2.4h1m.2-.2h1m0 2.5h1m-.8-2.5h1m3.7 1.1h1m-.8 1.1h1m.5-2h1m5.8 2.3h1m20.4-.3h1m4.1.6h1m.8-2.6h1m2.3.9h1m-1 .4h1m3.2-.9h1m-.1 0h1m2.2-.2h1m2 2h1m69.5-.4h1m2.5-.8h1m2.7-.7h1m-.7 2h1m-.6-1.4h1m-.8-.3h1m3.1.3h1m.7.9h1m.6.3h1m3-.8h1m3.5-1.1h1m1.1-.1h1m3.8 2.1h1m-.4-1h1m1.7-.8h1m5.3.7h1m-.6-.4h1m-.1 1.4h1m.7-2.2h1m.4 1.8h1m.3.3h1m6.1.7h1m.2-.4h1m3.2-1.5h1m10.6-.9h1m-338.5 5.6h1m-.8-.7h1m4.7-.3h1m1-.1h1m24.3-1.3h1m14.8.8h1m-.8 1.2h1m5.3-1.4h1m-.8-.6h1m5.7 2.1h1m4.5-2.4h1m55.9 1.8h1m2.9-1.2h1m7.1-.3h1m1.3 2.4h1m-1-2.7h1m32 .9h1m.5 1.9h1m.5-2.3h1m3.4 1.9h1m10.7-2.4h1m4.2 2.7h1m3.2-2.3h1m17.6 1.9h1m45.8-1.5h1m4.2-.8h1m.9.6h1m.7.9h1m-.1 1h1m1-1.6h1m-.2.7h1m1.6-.2h1m4.9-.2h1m-.6-.8h1m.4 1.4h1m2.7-1.3h1m2.9 0h1m3.4 1.5h1m1.2.4h1m8.8-.2h1m3.5-2h1m28.7.9h1m-361.5 3.9h1m6.2.5h1m-.9-2.5h1m1.2 1.3h1m2.5.5h1m1.5-.4h1m6.9-1.3h1m-.9.9h1m2-.2h1m7.6.1h1m2.1.4h1m6.8-.4h1m9.6-.3h1m4.4.2h1m6.3 1.6h1m.5.4h1m77-.4h1m40.2-1h1m5.9.3h1m2.5-.8h1m3 .6h1m.7-.8h1m68-.4h1m1.1-.3h1m0 .8h1m.5.4h1m3 1.1h1m2-1.2h1m-.3-.2h1m4 0h1m.5 1.9h1m1.7-.6h1m4.9-1.9h1m6.6.9h1m7.2.9h1m6.7.3h1m-.8-1.9h1m-.9.4h1m.2.2h1m4.3 1.1h1m11.9 0h1m1.7.6h1m-341.5.3h1m10.6.4h1m1.9.8h1m23.7-.5h1m2.2 1.4h1m.7-1.7h1m129.5-.4h1m8.6 2.7h1m6.4.1h1m81.1-2.9h1m12 .9h1m-.1.3h1m3.5.4h1m19.9-1.1h1m5.9.3h1m5.7 2.1h1m-.2-2.3h1m1.9 1h1m1.9.1h1m7.3-1.4h1m-345.7 2.7h1m3.9 2.9h1m5.3-.6h1m-.1-.9h1m-.8.8h1m4.4-.3h1m7.6.8h1m21.4 0h1m5.2-2.6h1m.9 0h1m26.4.4h1m100.1-.2h1m7.4.3h1m3.1-.1h1m10 1.1h1m65.9-1.2h1m6.2 1.5h1m19 .1h1m.3-1.7h1m-.7-.3h1m6.9 2.2h1m14.3.5h1m14.3-1h1m-333.1 2.6h1m61.6.4h1m119.4-1.3h1m1 .3h1m.7-.2h1m80.8.3h1m5.2 1.3h1m45.8-1.7h1" stroke="#333333" stroke-opacity="0.5"/>
<path d="M238.5 31.2h1m-111.2 5.8h1m229.5 1.9h1m28.3-2.2h1m-113.5 4.4h1m-25.3 1.4h1m122.2-.3h1m7.2 2.1h1m-.3.6h1m-.5-1.9h1m-.6.7h1m.4 1h1m6.9-.2h1m-23.2 3.1h1m13.1-.2h1m-.2 0h1m-292.7 3.5h1m5.3-.3h1m3.1-1h1m140.2-.7h1m1 1.5h1m2.4-.6h1m3.2.8h1m3.6 0h1m115.5-.7h1m1.6.3h1m1.4-1.8h1m3.1 1.7h1m3.7-1.2h1m-291.7 2.6h1m10.6 2.1h1m113.5-1.2h1m16 .9h1m1.5-1.8h1m1.9.9h1m-.4 1.5h1m-.8-1.8h1m-.7.8h1m-.7-1.2h1m.3-.7h1m.7 2.1h1m2.5.2h1m128.4.5h1m3.4-2.7h1m.9 2.1h1m-287 2.4h1m131.2 0h1m8.8.5h1m.7-1h1m-.9-.2h1m5-.6h1m6.9 1.8h1m66.6.2h1m51-.3h1m.8-1.8h1m.1.8h1m.5-1h1m-.6.1h1m-.3 1.9h1m-289.3 3h1m-1-.9h1m4.4.5h1m3.2-.7h1m133.3-.8h1m.1 1.3h1m-1-1h1m.8 2.3h1m3.5-.2h1m.3-2.3h1m-1 1.6h1m10 .2h1m108.9-1.8h1m5.5 2h1m0-.9h1m3-1.1h1m.9.3h1m-.1 1.1h1m-.1.7h1m2.3-.2h1m-290 3.3h1m.1-1.4h1m2.6-.8h1m3.4.2h1m-.8 1.1h1m.6.3h1m5 .5h1m118.5-1.1h1m0 0h1m7.1.5h1m.9 1.1h1m-.1-1h1m-.4-.5h1m4.8-.8h1m.7.4h1m114.8 0h1m1.5 1.1h1m2.2.5h1m-.4-2.2h1m3.9.3h1m.4 1.2h1m0-.4h1m-.8.5h1m-287.9 3.3h1m1.8.6h1m1.7-1.8h1m1.4.3h1m5.3-.2h1m-.9 1.6h1m124.6-2.6h1m2.1 2.3h1m2.1-2.1h1m-.5-.3h1m-.2.8h1m1.6.5h1m5 .9h1m123.5-1.7h1m.9.9h1m.5.3h1m-.5 1h1m.5-2.3h1m-.9-.4h1m-290.9 4.9h1m5.5-1.4h1m2.2.6h1m0-.6h1m2.6 2.3h1m132.5.1h1m4.3-.6h1m-1-.6h1m.5-.8h1m7 0h1m117 1.8h1m0-2.3h1m2.8.7h1m-.6 1.3h1m-.5-1.8h1m.1.2h1m1.8.1h1m-291.1 3.2h1m.8-1.1h1m-.7 1.2h1m.8 1.2h1m.9-2.1h1m-.4 2.6h1m1.2-1.8h1m4.8 1.6h1m-.6-1.9h1m130 1.7h1m-.9-2.5h1m2.1 1.3h1m5.6.3h1m1.1-.8h1m-.8.6h1m6.5-.3h1m112.8.7h1m-1 .5h1m1.7-2h1m-.1.3h1m-.6-.2h1m-.6.7h1m1.3 1.5h1m-.6-.3h1m.4-2.3h1m-.6 2.3h1m2-.2h1m-.2.3h1m0-2.1h1m.3.2h1m-.2-.4h1m-304.9 5h1m10.5-.8h1m.8-.3h1m-.6 1.3h1m6.4-1.1h1m-.4 1.3h1m2.2-.9h1m121.4.4h1m7.6-.7h1m.7 1.5h1m7.5-2.5h1m-.7.6h1m121.9-.2h1m-.2 1.4h1m2.7-1.2h1m-.8-.3h1m-.7.6h1m-.5-1.2h1m-.3 1.9h1m-.3.9h1m-.9 0h1m-.5-.5h1m-.2.1h1m-.4-1.8h1m-.6.3h1m-.7 1.3h1m-284.3 2.1h1m2.8-.6h1m-.9-.6h1m1 2.6h1m.3-.4h1m-.9-1.3h1m1 1.9h1m-.1-2.1h1m-.3.2h1m132.6.4h1m.2 1.1h1m3.7-1.2h1m1.9-.9h1m69.6.8h1m53.6.1h1m-1-1.1h1m-.9.2h1m.3 2.4h1m-.1-2.7h1m-.7 2.4h1m-1-1.3h1m2.9-.6h1m-345.4 2.6h1m58 2.2h1m4.2-1.5h1m-.9-.6h1m-.4 2.4h1m130.9-1.5h1m2.9.1h1m4.8.7h1m1.6 0h1m.8-1h1m1.5-.1h1m-.8.3h1m1.8-1.1h1m115.1 1.7h1m-.9-.7h1m3.3 1.5h1m-.5-1.2h1m1.3-1.3h1m-.1 1.3h1m9.9-1.3h1m-302.9 3.8h1m5.6 1.1h1m4 .2h1m.3-1.1h1m2.6.1h1m93.9.5h1m23.6-.8h1m8 .6h1m1 1.3h1m3.3-1.5h1m-.3-.9h1m1.3 1.1h1m-.5-.7h1m126.5 1.4h1m1.2.5h1m1.3-2.4h1m2.4 1.1h1m3.2 0h1m-298.2 4.1h1m-.4-1.3h1m139.4 1.4h1m.3-.1h1m4.9.1h1m3-1h1m-.5-.9h1m-1 .6h1m10-.3h1m126.1.1h1m3.3 1.1h1m-.1-1.9h1m.7.2h1m.3 1.9h1m-290.8.7h1m91.8.5h1m6.2.5h1m18.4-.1h1m1.3 1.1h1m12.5.3h1m.8-1.4h1m.4 1.8h1m13.1-1.6h1m67.5.9h1m-138.6 2.9h1m2.6.1h1m1.7-.9h1m-.6-.7h1m-.5 1.9h1m-.3-.9h1m2.7-1.5h1m-.5.5h1m4.4 1h1m4.2 1.3h1m3.2-1h1m18.6-1.8h1m7.9.2h1m-.4.6h1m-.3 1.4h1m1.2 0h1m2.2-2.1h1m2.3.5h1m-1-.2h1m92.7-.2h1m10.6 1.7h1m3.5-.9h1m5.3 1h1m15.8-.6h1m8.9 0h1m-286.7 4.5h1m4-2.8h1m-.9 2.2h1m-.5.6h1m73.2-.7h1m3.4-.6h1m6 .9h1m.9-2.5h1m-.8 2.4h1m-.2-.4h1m1.8.3h1m.1-1.3h1m1.1 1.4h1m0-2h1m.3.1h1m-.8.5h1m4.1-.1h1m6.7.6h1m5.8-.1h1m.7.6h1m6 0h1m2.1.1h1m-.4-.3h1m2.3-1.4h1m5 .2h1m1.4 1.3h1m2.5-1.8h1m-.1 0h1m68.6 2.4h1m0 .3h1m3.1-.3h1m.8.2h1m.2-.7h1m-.9-1.1h1m16.9 1.4h1m8 .1h1m.9-.1h1m12-1.5h1m1.2 1.7h1m-.5-2.4h1m-.5 2.3h1m5.6-2.4h1m7.2 1.9h1m-335.3 1.8h1m40.9 1.8h1m11.1-1.5h1m69.1-.4h1m.7.4h1m-.4 1.9h1m1.8-.8h1m1.9-.3h1m-.8.6h1m-.4-1.7h1m-.7-.7h1m-1 1.3h1m-.1.8h1m.4-1.7h1m-.6 1.5h1m-.3-1.1h1m-.2 0h1m1.4 2h1m-.7-1.1h1m.5-.3h1m-.9.4h1m2.4-.7h1m.3 1.2h1m1.4-.7h1m4.5.8h1m5.3-.6h1m1.8-.5h1m12 1.1h1m1.9-1.1h1m3.6-.2h1m1.4.4h1m4.6 0h1m-.1-1.1h1m-.8 0h1m77.4.1h1m-.3 2.3h1m1.6-.9h1m4.1-1.4h1m9.8.8h1m18.7 1.3h1m2-.3h1m-.6.5h1m.5-2.7h1m2.1.6h1m-335.6 2.6h1m19-.3h1m25.9.7h1m6.2 1.5h1m-.8.7h1m7-2.2h1m.4 1.4h1m.7-.7h1m77.6.9h1m-.6.2h1m.3-2.3h1m1.3 1.5h1m-.6.9h1m-.5 0h1m-.7-1.7h1m1.8 1.9h1m-.8-.3h1m-.8-1.8h1m-.1.7h1m1.1.6h1m-.8-1h1m-.8 1.2h1m-1-.7h1m-.7 1h1m-.8-2.5h1m1 .1h1m3.9.3h1m-.1.6h1m4.3.6h1m.2 1h1m12.5.3h1m2.4-2.5h1m2 .6h1m10.4-.6h1m-.9 2.4h1m-.8-.3h1m-.3-2h1m81.1 1.1h1m3.5 1.1h1m1-.8h1m.7-.9h1m.3 1.4h1m-1-.1h1m-.2-1.4h1m5.4.1h1m-.5-.7h1m7.7 1.5h1m-.9-1.6h1m-.9 2.7h1m-.9-2.4h1m3.9 1.4h1m1.8-1.1h1m2 .7h1m11.3.7h1m.1-1.1h1m4.3-1h1m12.4 2.7h1m-.6 0h1m.1-.3h1m-361.1 1.5h1m0 1.8h1m5.4-2h1m-.4 1.2h1m11.4.5h1m31.2-2h1m0 .8h1m-.1 1.4h1m5-.5h1m6.1-.6h1m2.3 1.3h1m2.2-1.3h1m72.5 1h1m.2-2.5h1m1.9 1.1h1m-.7 1.5h1m-.1-.4h1m-.4-.3h1m.1.1h1m2.1-.8h1m.9-1.1h1m-.8 2.7h1m-.9-2.1h1m-.5-.2h1m-.4 1h1m-.4-.2h1m-.4-.4h1m1.5.1h1m-.9 1.8h1m-.5-1.3h1m-.9.2h1m.7-.1h1m1.9-1h1m3.6 1.5h1m11 .1h1m3.6-1.3h1m4.6.4h1m-.3 1.5h1m-.2-2.6h1m.5-.3h1m6.2.1h1m2.9.6h1m79.2-.2h1m-.6 1h1m.9-.2h1m-.7.6h1m9.8-1.4h1m-.1.4h1m-.6.6h1m.3 1.1h1m-1-.7h1m3.7-1.8h1m2.5 2.3h1m-.5-2.4h1m6.3 1h1m1.7-.5h1m.5 2.3h1m4.3-.2h1m-322 1.4h1m.2 1.8h1m-.8-1.4h1m-.8 0h1m4.5.6h1m2.3.5h1m5.7 0h1m1.2-2.5h1m12.3 2.8h1m4-.8h1m2.6.1h1m1.4-2h1m8.6 1.9h1m-.8-1.4h1m.4.3h1m.1 1.6h1m3.5-.7h1m1.7-.5h1m67.8-.1h1m.4-.7h1m2.7 1.4h1m-.3.9h1m-.2-.4h1m.9-1.4h1m-.4 1.7h1m.4-1.5h1m-.7-.6h1m-.6.2h1m3 1.2h1m-.5-1h1m1.3.5h1m-.8.5h1m9.5.7h1m0-.4h1m23.1-1.7h1m1.5.1h1m-.7.6h1m2.1-1.3h1m2.3 1.9h1m-.9-.3h1m7.1-.7h1m7.9-.7h1m52.3.4h1m1 .5h1m7.5-.2h1m-.3 1.3h1m-.8-2.1h1m5.1 2.6h1m4-1.2h1m-.9-.4h1m.5.3h1m-.9.2h1m.1.7h1m1.3-2.3h1m-.7 1.9h1m-.7.8h1m-.2-.9h1m13.1 1.1h1m-1-.9h1m5.6-.2h1m.5 1.1h1m-.2-2.6h1m5.8-.2h1m3.2 2.7h1m1.2-1h1m12.1-1.4h1m-353.2 4.3h1m0-.5h1m6 .4h1m-.6.3h1m10.4-1.3h1m2.5-.3h1m.7.5h1m4.7 1.9h1m-.1-.6h1m15.6.2h1m6.3.5h1m-.8-.7h1m2.2-.1h1m16.5-.9h1m61.5-.6h1m3.2 1.9h1m-.8-.3h1m-.4-.1h1m2.5-1.1h1m5.6 1.1h1m1.4-1.7h1m-.3 1.5h1m1.2-.1h1m2.4-.1h1m-.1-1h1m-.6 1.2h1m4.7-1.5h1m1.2.3h1m8-.2h1m11.9 1.9h1m4.6-.6h1m3.6 1.2h1m0-.3h1m-.4-.1h1m-.9-2h1m3.2.1h1m-.6 1.6h1m1.4-1.2h1m13.1.9h1m54.6-.2h1m3.7-1.3h1m5.3 2.4h1m.4-.1h1m.3-2.6h1m4.3 1.8h1m2.8.3h1m.9-.8h1m5.5.5h1m6.2.8h1m-.7-2.1h1m1.2 1.9h1m-.1 0h1m.8-.4h1m10.5.7h1m5.3-2.4h1m2.1 0h1m-344.4 5.4h1m0-2.3h1m1.9 1.7h1m1.1-1.8h1m5.2 1.6h1m1.4.9h1m4.8-.5h1m3.6-1.1h1m2.5.3h1m9.1-1.4h1m.9.2h1m3.5-.1h1m-.5 1.6h1m2.7.8h1m2.5-2.6h1m-.5 2h1m1.8-.7h1m.8 1.1h1m7.5-1.1h1m3.2 1.2h1m-.8.1h1m15-1.3h1m49.6-1.2h1m.3 0h1m5.6.1h1m3.3 1h1m1.4 1.2h1m15.9-1.8h1m3-.6h1m14.5 1.9h1m11.1-1.3h1m11.6 1.3h1m65.4-.7h1m0 .4h1m2.5-1.7h1m6.4 2.1h1m.5-1.2h1m5.7-.1h1m1.8-.2h1m13.3 2.3h1m2.1-2.5h1m2.2.6h1m-.9.3h1m-.9-.7h1m5.8 1h1m13.5-.6h1m7.4.5h1m-354 3.8h1m-.1.1h1m2.3-.3h1m1.4-.3h1m25.3 1h1m19.6-1.4h1m2.7-.5h1m6.6.9h1m3.1-1h1m2.9 1.9h1m69.2-1.8h1m37-.9h1m3.4 2.3h1m1.9-2.3h1m5.2.8h1m.7 1.6h1m1.3.4h1m1.8-.4h1m15.1-.7h1m54.1-.7h1m4.2 1.7h1m11.4-2h1m7 2.1h1m4.4-2.8h1m10.7.1h1m2.5 2.4h1m1.5-.7h1m8-1h1m1.4.3h1m-334.3 3.4h1m3.3.3h1m2.9 0h1m0 .1h1m.7-1.8h1m4.5 2.4h1m4.3-2.1h1m37.8.3h1m2.1.9h1m128.7 1.1h1m.6-.9h1m16.2-.8h1m64.1 0h1m7.5.6h1m.6.2h1m.1-1.4h1m1.9 2.1h1m2.8-2.4h1m.2.9h1m8.9 1.1h1m-.9-.7h1m4.4-.2h1m8.2 1.1h1m6.2.4h1m.5 0h1m8.2-2h1m1.4 1.8h1m-338 1.5h1m.9-.7h1m15.9 1.9h1m21.5.6h1m13-1.6h1m132.1-.9h1m20.3 1.3h1m70.4-1.5h1m-.7 1.5h1m5.4-.8h1m6.7.1h1m3.1 1.5h1m4.8-1.6h1m10.6.7h1m9.5 1.1h1m-320.9 1.1h1m1.8-.3h1m6.3-.2h1m17.9.3h1m15.7.3h1m119.7.5h1m113.5-1h1m35.7.4h1m3.3.9h1" stroke="#333333" stroke-opacity="0.5"/>
<path d="M250.3 31h1m75 .3h1m-262.2 4.3h1m207.3-.8h1m3.2-.8h1m3.3.7h1m125.9 1.2h1m-224.5 3.1h1m201.2.9h1m-134.2 3.9h1m130.5-.1h1m-130.7 2.1h1m121.9 0h1m-327.9 2.5h1m190 2.4h1m6.1-2.3h1m.6 2h1m0-1.9h1m6.8 1.1h1m117 .6h1m3.3-.8h1m1.4-.6h1m-.8-.3h1m-.2.9h1m-277.1 3.9h1m138.7-1.6h1m2.3 1.1h1m3 .4h1m2.9-.3h1m122.1.8h1m5-1h1m16.3-.3h1m1.6-1h1m-298.9 3.8h1m3.4.8h1m132.7.9h1m.8-1.2h1m4.2.6h1m125.7-1.7h1m-313.7 3.9h1m30.2-.7h1m6 1.9h1m.5-1.7h1m96.7-.6h1m39.4-.1h1m-.1 1.1h1m4.1-.5h1m2-.7h1m119.2 2.4h1m.2.3h1m1.3-1.8h1m2.8-.2h1m-.1 1.1h1m.2.7h1m-.1-2.7h1m3.9 1.6h1m-295 3.1h1m11.6.5h1m127.5-.2h1m2.4-.2h1m-.4.7h1m.4-.9h1m2.2-1.4h1m1.8-.1h1m.9 1.1h1m-.3 1h1m-.9.5h1m123.1-1.4h1m2.4.3h1m1.3-1.5h1m-.6 2.8h1m.4-2.2h1m-289.1 5.1h1m1.8 0h1m-.6-.5h1m-.3-1h1m-.1-.3h1m3.4-.6h1m2.7 1h1m-.3.3h1m-.5 1h1m0-.6h1m-.1-.4h1m131.2-.2h1m-.2-.9h1m0 2.1h1m.2-1.8h1m-1-.2h1m.2 1.2h1m1.1-.9h1m-.5.9h1m-.1-1.6h1m-.8 1.6h1m-.7-.2h1m.6-1.1h1m120.8 0h1m.8 1.2h1m.9 1h1m-.1-1.8h1m1.8.2h1m.1 1.4h1m.6-2.3h1m-.4 1.9h1m-1-1.9h1m.7.2h1m-.5.2h1m-291 3.3h1m-.3 1.5h1m.4-1.2h1m1.8.2h1m1.7-.7h1m.7-.1h1m.8 2h1m-.3.2h1m.1-1.4h1m127.6.3h1m5.1.3h1m-.5-1.5h1m2.5.3h1m.6.4h1m-.3-.1h1m1 1.4h1m118.9.1h1m-.4-1h1m1.4.5h1m1.7.7h1m-.7-.4h1m2.4-2.4h1m2.3 2.7h1m6.2-1h1m-351 1.6h1m55 1.8h1m.5-.9h1m1.1-.5h1m-.4-.4h1m-.9.3h1m.5-.6h1m-.4 2.1h1m-.3.4h1m-.1-1.3h1m-.9-1.1h1m-.4.7h1m5.1 1.2h1m125.4-.3h1m.8-1h1m1.8 1.2h1m1.1-.4h1m.3-.9h1m-.8.7h1m-.9.9h1m2.8-1.4h1m7.2 1.6h1m4.7-.9h1m106.3.1h1m2.6.7h1m.6-1.8h1m-.8 1h1m-.8-1.4h1m.6 1.6h1m-.5-1h1m-.3.2h1m-.9-.7h1m-.7 2.3h1m.3-1.1h1m-.8-1.4h1m2.7 1.7h1m.6-1.7h1m-293.4 3.5h1m6.3-.1h1m3.5.8h1m.2.7h1m2.5-.9h1m118.8 1.8h1m9.2-2.6h1m.4.7h1m-.3 1.2h1m2-1.3h1m.3-.9h1m3.4.5h1m1.5.1h1m113.7-.6h1m3.3 1.4h1m.7 1.2h1m0-1.3h1m4.5 1.2h1m-.6-1.5h1m1.6-.9h1m-285.2 5.1h1m3-.1h1m.7-1.7h1m130.4.1h1m.4-.3h1m1 1.8h1m.7-1h1m.1.6h1m-.7-1.1h1m3.4.8h1m1.3-1h1m2.5.5h1m121.4 1.8h1m.2-2h1m1.2 2.2h1m-.5-.8h1m-.6.2h1m0-1.8h1m-.9 1.7h1m-.1-.1h1m-.9.1h1m.2.8h1m1.2-.9h1m-294.1 3.5h1m7.1-2h1m3.3 0h1m-.4.5h1m132.6 1.6h1m-.7-2.4h1m11.5 1.6h1m12 0h1m109.3-1.4h1m.6 2h1m.3-1.3h1m.5-.2h1m5.9 1.2h1m-290.5.9h1m7.7 2.3h1m15.8-.4h1m111.9.3h1m-.7-.4h1m13.1-1.3h1m89.8 2.1h1m18.1-.5h1m8.8.1h1m3.4-1.7h1m7.3 2.2h1m-.7-1.5h1m-.3 1.1h1m1.3.4h1m-283.9 2.8h1m83.1-1.5h1m37.5.2h1m4.8.9h1m3.3-.6h1m7.5-1.3h1m-.4 2.7h1m-.9-2.2h1m17.1-.6h1m77 1.1h1m-247.8 3.4h1m2.9 1.3h1m86.5-2.5h1m24.2 1.1h1m9.5 1h1m17.6-1.2h1m1.7 1.6h1m-.8-2.4h1m3.3-.5h1m9.4 2.2h1m56.8-1h1m7.7.7h1m11.1 0h1m1-.2h1m41.1-1.4h1m18.8.8h1m-292 2.2h1m77.7 1.9h1m1.8-2h1m-.7 2.6h1m-.4-.3h1m4.2-1.9h1m0-.6h1m2.7 1.5h1m0-1.3h1m-.8-.1h1m5.5 1.2h1m4.7.2h1m2.3.7h1m.2.4h1m7.2-1.4h1m-.5-1.2h1m.1 2.7h1m2.6-1.6h1m.6 1.8h1m2.2-1.9h1m-.4 1.4h1m.7-1.8h1m-.1 1h1m2.5-1.6h1m4.2 2.1h1m4.3-.6h1m1.6-1.3h1m6.8 2.1h1m50.7-1.3h1m48.3 1.6h1m11.4-2h1m.8.1h1m.6.5h1m12.4-.5h1m-296.2 3h1m4.9 1.3h1m73.4-1h1m-.6.3h1m-.5 1.6h1m1.5-1.2h1m-.6-1.2h1m.1 2.2h1m-.4-1.3h1m.3-1.1h1m.6.4h1m.3.7h1m-.9.1h1m-.4 1.2h1m0 .1h1m-.8.1h1m-.9-.5h1m-.8-1h1m.8-.2h1m-.3.3h1m-.9.5h1m-.5.8h1m.9 0h1m6.5-1.5h1m-.6 1.4h1m1.7-.8h1m4.2-1.7h1m11 .1h1m13 .8h1m-.7 1h1m-.5.6h1m-.9-2.3h1m3.1 2.5h1m8 0h1m62.9-.4h1m1.6-1.7h1m1.2.3h1m5.8 0h1m3.3.4h1m0 .6h1m3.4-1.1h1m1.2 1.7h1m5.3-.8h1m3.2-.9h1m15.4-.4h1m13.4-.3h1m-302.6 2.8h1m16.9.1h1m84.7.3h1m.4.5h1m.6 1.8h1m.1-1.4h1m-1-.6h1m-.9-.2h1m-.9-.1h1m-.2 2.3h1m-.9-.7h1m-.4.6h1m-.9-.1h1m-.7-1.6h1m-.8-.7h1m-.8.4h1m1.2.2h1m.6.3h1m.5 1.4h1m-1-2.6h1m.4 1.8h1m2.2.7h1m-.9-.1h1m1.3-2.2h1m-.9 1.3h1m-1-.3h1m.5 1.1h1m1.9-.9h1m10.5-.5h1m4.1 1.1h1m2.1-1.5h1m.4.6h1m2.5.8h1m2.4-1h1m-.8 1.4h1m2.2-.6h1m1.9-1.2h1m20.2-.5h1m52.1.6h1m1.2 2.1h1m6.5-1.2h1m-.1.2h1m-.4 1.2h1m5.9-.5h1m6-.5h1m-298.2 1.2h1m-.4 2.6h1m9.8-.4h1m3.8-1h1m22.6-.2h1m4.9.7h1m4.3-1.1h1m-.5-.7h1m-.2 2.7h1m-.6.2h1m-.8-2.4h1m0 .7h1m3.1-1.2h1m-.7 1.3h1m2.8.5h1m2.8-.1h1m-.6-1.5h1m72.7.3h1m-.8-.3h1m.2 2.2h1m-.8-1h1m-.3-.9h1m-.6.3h1m-.5.7h1m.2-.9h1m2.3 1.6h1m1 .4h1m-.8-1.9h1m-.6.6h1m-.8.4h1m2.3-.9h1m-.2.9h1m-.5-.6h1m-.5 1.5h1m-.5-2.6h1m-.8 1.9h1m2.4.8h1m1.2.2h1m0-1.2h1m11.2-1.4h1m6.8.5h1m.5-.2h1m.5 1.5h1m.5-.3h1m7.2-1.5h1m1.6 2.3h1m-.8-.1h1m.2-.2h1m.8-.8h1m2.9 1.4h1m1.6-1.6h1m1.3 1h1m2.8.3h1m.1-1.9h1m59.1 1.9h1m7.1-2.2h1m2.5.2h1m.7 1.6h1m.6-1.5h1m-.1.4h1m.8-.4h1m4.2.3h1m2.4.2h1m6.2-.4h1m4.6 1.9h1m3.5-2.6h1m2.3.3h1m6.8.8h1m2.5.6h1m7.4.5h1m-345.6 3h1m2.9.1h1m-.5-2.2h1m8.5.7h1m2-.1h1m12.9.6h1m19.3.5h1m2 .5h1m2.4-.5h1m.8-.6h1m80.3.6h1m5.4-1.8h1m-.3 2.1h1m2.8-1.7h1m-.3.3h1m-.8 1.2h1m0 .9h1m-.9-2.8h1m2.4 2.4h1m-1-1.1h1m.5-.7h1m.4 1.3h1m.2.4h1m13.1 0h1m16.9.2h1m.2-.2h1m1.7-2h1m.8 1.7h1m5.8-1.8h1m1 .2h1m1.9 2.4h1m15.4-.2h1m49.7-2.1h1m3.5 2h1m2.5-1h1m.6-1.4h1m4.7.5h1m1.6 1.3h1m-.7-2h1m10.7 2h1m9.1.9h1m1.5-.1h1m1.6-.8h1m-.4-1.2h1m5.8.7h1m8-1.4h1m0 .9h1m1 1.6h1m.8-2.1h1m-333.9 4.4h1m8.8-.7h1m3.6-1h1m19.3 2.1h1m1.2-.3h1m3.2-1.2h1m0 1.7h1m5.7-1.1h1m-.3.2h1m-.3-1.2h1m-.9 1.9h1m12.3-1.4h1m61.8.6h1m4.5.8h1m1.4-1h1m-.7-1.2h1m-.9 2.3h1m.6-1.1h1m-.4-1h1m-.8-.2h1m-1 2.8h1m1.2-2h1m-.6 1.1h1m-.6-.1h1m-.2-.3h1m-.9.1h1m.2-.4h1m-.9.5h1m1.2.8h1m-.5-1.3h1m-.3-1.1h1m1.1 2.5h1m2.7-1.3h1m9.8-.9h1m9.5 1.3h1m2 1h1m.3-1.7h1m-.6.9h1m5-.7h1m4.5.1h1m8.1-1h1m8.6.9h1m54.2 1h1m3.3-.3h1m.1-1.3h1m2 2.1h1m3-1.9h1m-.3 1.4h1m7.1-.5h1m0 .5h1m-1 0h1m.3-2.1h1m.4-.2h1m3.8 2.4h1m8.9-1.7h1m2.7 1.6h1m2.9-2.3h1m7.1 1h1m1.8-.4h1m.4 1.9h1m2.6-1.2h1m-.8.6h1m.2-.7h1m1.1-.5h1m4 1.4h1m1.8.1h1m8.9.3h1m-362.1 2.6h1m-.3-.3h1m6.9.3h1m.9-2h1m6 0h1m2.7 1.8h1m20.4.3h1m7-1.6h1m7.9 2.3h1m1-2.5h1m16.1.4h1m1.4-.2h1m.2 1.6h1m60.9-.6h1m3.1-.8h1m-.2-.2h1m3.5 1.7h1m2.2.2h1m2-1.7h1m7.1.6h1m.5-.2h1m29.6.8h1m2.1.2h1m3.3.1h1m12 .5h1m.1 0h1m56.7-1.1h1m8.2.4h1m2.2-.4h1m.6.8h1m-.7.3h1m.2-1h1m7 0h1m.5-1.8h1m-.1 1.4h1m6.6.6h1m5.7-.6h1m-.8.2h1m0 .4h1m-.7.7h1m.2-1.8h1m.5.7h1m.5-.3h1m-.8 1.2h1m3.5-2.2h1m5 2.3h1m.1-2.4h1m-.5 1.5h1m4.9.6h1m.9-.3h1m-.4-.7h1m9.2.6h1m-354.5 1.3h1m.5 2.5h1m-.3-1.3h1m4.7.4h1m.3.9h1m.7.2h1m6.9-1.9h1m5.1 1.7h1m1.3-1.5h1m20.7-.2h1m3.2-.3h1m1.9.3h1m1.8 1.9h1m1.6-2.5h1m2.2 1.4h1m.4-1.3h1m75.5.7h1m13.4-.3h1m-.3-.7h1m6.7.6h1m15.2 1.3h1m4.4-1.3h1m-.2-.2h1m8.7.3h1m1.1.7h1m6.9-1.2h1m6 2.3h1m65.8-.5h1m.4-1.2h1m-.8.1h1m6.9-.3h1m1.2-.7h1m-.1.9h1m.6 1.7h1m6.1-1.4h1m.3 0h1m-.6.6h1m2.9 1h1m4.5-2h1m4.9-.6h1m3.4.6h1m15.8.6h1m2.4-.5h1m2.1 1.6h1m22-1h1m-363.2 2.4h1m1.6-.6h1m5.2-.1h1m11.4 1.2h1m16.9-.2h1m-.2 1.5h1m5.6-1.8h1m.3.3h1m-.9-.3h1m-.3.9h1m2.5-.9h1m-.1.6h1m5.1-1h1m78.1.4h1m12.6-.8h1m42.8-.1h1m.7 2.2h1m-.6-1.1h1m5.5 1h1m4.3-1.3h1m58.2-.7h1m5.8.4h1m4.6.1h1m.3 1.7h1m3.4-.9h1m7.5-.9h1m1.7.8h1m.6.9h1m1.4-.5h1m3.8-1.1h1m1.7.1h1m2.4.7h1m1.3-1.4h1m-.2 1.5h1m.8.6h1m.7.4h1m6.4-.7h1m.7.9h1m1.8-.7h1m10-2h1m-355.6 4.3h1m3.2.9h1m2 .1h1m1.2-.5h1m-.2-1h1m1.8.8h1m-.3.9h1m3.3.1h1m.3-.4h1m39.4-2.2h1m10.2.6h1m1.1.7h1m96.9-.3h1m19.6.5h1m3.7.8h1m.4-.9h1m1-1.2h1m17.5 2.2h1m6.7-1.5h1m98.6-.4h1m-.1-.6h1m-.2 1h1m6 .6h1m5.7-1.3h1m3.9.8h1m9.5 0h1m-353.8 3.9h1m18.5-.1h1m1.4.4h1m12.2-1.5h1m26.9.2h1m1.2.3h1m135.2.9h1m6.4-.4h1m98.5-1.6h1m4.1.7h1m11.7-.1h1m-296.6 3.8h1m34.7-1.3h1m131.6.1h1m78.8 1h1m14.1-1h1m12.8-.4h1m17.9.5h1m33.1.1h1" stroke="#333333" stroke-opacity="0.5"/>
<rect x="38.5" y="21.5" width="105.0" height="105.0" fill="none" stroke="#999" stroke-width="1" />
<path d="M89.5 21.5 L89.5 126.5" fill="none" stroke="#999" stroke-width="1" />
<path d="M38.5 82.5 L89 90 L143.5 88" fill="none" stroke="#555" stroke-width="0.9" />
<rect x="38.5" y="21.5" width="32.5" height="9.0" rx="1" fill="#fff" fill-opacity="0.6" stroke="#a0a0a0" stroke-width=".6"/>
<text x="39.3" y="28.7" textLength="30.9" lengthAdjust="spacingAndGlyphs" fill="#000" font-size="6.6" stroke="#000" stroke-width=".25">J-+: 0.05%</text>
<rect x="101" y="22.3" width="33.4" height="8.2" rx="1" fill="#fff" fill-opacity="0.6" stroke="#a0a0a0" stroke-width=".6"/>
<text x="101.8" y="28.7" textLength="31.8" lengthAdjust="spacingAndGlyphs" fill="#000" font-size="6.6" stroke="#000" stroke-width=".25">J++: 3.12%</text>
<rect x="39" y="107.5" width="35.5" height="8.0" rx="1" fill="#fff" fill-opacity="0.6" stroke="#a0a0a0" stroke-width=".6"/>
<text x="39.8" y="113.7" textLength="33.9" lengthAdjust="spacingAndGlyphs" fill="#000" font-size="6.6" stroke="#000" stroke-width=".25">J--: 43.49%</text>
<rect x="109.5" y="107.5" width="33.5" height="8.0" rx="1" fill="#fff" fill-opacity="0.6" stroke="#a0a0a0" stroke-width=".6"/>
<text x="110.3" y="113.7" textLength="31.9" lengthAdjust="spacingAndGlyphs" fill="#000" font-size="6.6" stroke="#000" stroke-width=".25">J+-: 53.35%</text>
<rect x="181.5" y="21.5" width="106.0" height="105.0" fill="none" stroke="#999" stroke-width="1" />
<path d="M222.5 21.5 L222.5 126.5" fill="none" stroke="#999" stroke-width="1" />
<path d="M181 82.5 L222.5 90.75 L287 89.25" fill="none" stroke="#555" stroke-width="0.9" />
<rect x="181" y="21" width="34" height="9.5" rx="1" fill="#fff" fill-opacity="0.6" stroke="#a0a0a0" stroke-width=".6"/>
<text x="181.8" y="28.7" textLength="32.4" lengthAdjust="spacingAndGlyphs" fill="#000" font-size="6.6" stroke="#000" stroke-width=".25">G-+: 0.28%</text>
<rect x="233" y="21" width="39" height="9.5" rx="1" fill="#fff" fill-opacity="0.6" stroke="#a0a0a0" stroke-width=".6"/>
<text x="233.8" y="28.7" textLength="37.4" lengthAdjust="spacingAndGlyphs" fill="#000" font-size="6.6" stroke="#000" stroke-width=".25">G++: 11.14%</text>
<rect x="181" y="107" width="36.5" height="7.5" rx="1" fill="#fff" fill-opacity="0.6" stroke="#a0a0a0" stroke-width=".6"/>
<text x="181.8" y="112.7" textLength="34.9" lengthAdjust="spacingAndGlyphs" fill="#000" font-size="6.6" stroke="#000" stroke-width=".25">G--: 27.31%</text>
<rect x="249.5" y="107" width="37.5" height="7.5" rx="1" fill="#fff" fill-opacity="0.6" stroke="#a0a0a0" stroke-width=".6"/>
<text x="250.3" y="112.7" textLength="35.9" lengthAdjust="spacingAndGlyphs" fill="#000" font-size="6.6" stroke="#000" stroke-width=".25">G+-: 61.27%</text>
<rect x="317.5" y="21.5" width="104.0" height="105.0" fill="none" stroke="#999" stroke-width="1" />
<path d="M355.5 21.5 L355.5 126.5" fill="none" stroke="#999" stroke-width="1" />
<path d="M317 91.25 L355 100 L421.5 98.25" fill="none" stroke="#555" stroke-width="0.9" />
<rect x="317" y="21" width="33" height="9.5" rx="1" fill="#fff" fill-opacity="0.6" stroke="#a0a0a0" stroke-width=".6"/>
<text x="317.8" y="28.7" textLength="31.4" lengthAdjust="spacingAndGlyphs" fill="#000" font-size="6.6" stroke="#000" stroke-width=".25">C-+: 0.62%</text>
<rect x="367" y="21" width="34.25" height="9.5" rx="1" fill="#fff" fill-opacity="0.6" stroke="#a0a0a0" stroke-width=".6"/>
<text x="367.8" y="28.7" textLength="32.6" lengthAdjust="spacingAndGlyphs" fill="#000" font-size="6.6" stroke="#000" stroke-width=".25">C++: 4.80%</text>
<rect x="317" y="116.5" width="36" height="6.7" rx="1" fill="#fff" fill-opacity="0.6" stroke="#a0a0a0" stroke-width=".6"/>
<text x="317.8" y="121.4" textLength="34.4" lengthAdjust="spacingAndGlyphs" fill="#000" font-size="6.6" stroke="#000" stroke-width=".25">C--: 80.61%</text>
<rect x="384.5" y="116.5" width="37.0" height="6.7" rx="1" fill="#fff" fill-opacity="0.6" stroke="#a0a0a0" stroke-width=".6"/>
<text x="385.3" y="121.4" textLength="35.4" lengthAdjust="spacingAndGlyphs" fill="#000" font-size="6.6" stroke="#000" stroke-width=".25">C+-: 13.97%</text>
<text x="6.9" y="171.6" stroke="#111" stroke-width="0.35" font-weight="bold" textLength="7.2" lengthAdjust="spacingAndGlyphs" fill="#111" font-size="11" >B</text>
<text x="63.5" y="182.7" stroke="#222" stroke-width="0.25" textLength="34.6" lengthAdjust="spacingAndGlyphs" fill="#222" font-size="9.2" >All viable</text>
<text x="70.8" y="193.5" stroke="#222" stroke-width="0.25" textLength="17.2" lengthAdjust="spacingAndGlyphs" fill="#222" font-size="9" >cells</text>
<text x="182.5" y="182.5" stroke="#222" stroke-width="0.25" textLength="50.5" lengthAdjust="spacingAndGlyphs" fill="#222" font-size="9" >B cell marker</text>
<text x="175.5" y="193.8" stroke="#222" stroke-width="0.25" textLength="65" lengthAdjust="spacingAndGlyphs" fill="#222" font-size="9" >(CD19+CD90−)</text>
<text x="305.5" y="183.5" stroke="#222" stroke-width="0.25" textLength="57.4" lengthAdjust="spacingAndGlyphs" fill="#222" font-size="9" >Leukemia cells</text>
<text x="302.3" y="194.3" stroke="#222" stroke-width="0.25" textLength="63.7" lengthAdjust="spacingAndGlyphs" fill="#222" font-size="9" >CD127+CD43+</text>
<text x="432" y="172" stroke="#222" stroke-width="0.25" textLength="58" lengthAdjust="spacingAndGlyphs" fill="#222" font-size="9" >Endogenous B</text>
<text x="453.8" y="182.8" stroke="#222" stroke-width="0.25" textLength="13.7" lengthAdjust="spacingAndGlyphs" fill="#222" font-size="9" >cell</text>
<text x="426.3" y="193.8" stroke="#222" stroke-width="0.25" textLength="65.7" lengthAdjust="spacingAndGlyphs" fill="#222" font-size="9" >CD127−CD43−</text>
<ellipse cx="51" cy="287.5" rx="16" ry="8.5" fill="url(#g8080805550)"/>
<ellipse cx="176" cy="290" rx="10" ry="9" fill="url(#g2a1ca08550)"/>
<ellipse cx="330" cy="261" rx="11" ry="14" fill="url(#ge02c144050)"/>
<ellipse cx="430" cy="285" rx="17" ry="10.5" fill="url(#g2a1f859550)"/>
<path d="M39.7 235.8h1m6.6.7h1m2.3 1.8h1m.5-.7h1m-16.7 2.7h1m8.1-.1h1m-.4 1.8h1m.1-.4h1m-.7 1h1m-.1.1h1m.1-2.5h1m1.4 2.1h1m-.1 0h1m-13.8 2.3h1m2.8.8h1m.6.5h1m.5-1.5h1m-.9-1h1m4.4.5h1m2.6 0h1m.7 1.4h1m.6-1.3h1m-15.7 4.5h1m-.9-2.1h1m1.5 1.7h1m.1-1.3h1m-.4-.8h1m.6.4h1m-.9 2.1h1m4.3.4h1m.9-2.3h1m-16 3.2h1m-.4-.1h1m-.7 2.2h1m-.9-1.3h1m.2-1.3h1m-.8 1.6h1m1.3-1.3h1m.1 1.2h1m1.5-1h1m.4.4h1m2.6.4h1m-.3-1h1m1.2.2h1m2.3-.8h1m-20.6 5.9h1m1.9-.8h1m2.2-.2h1m.9-1.6h1m-1 1.5h1m1.1-1.2h1m3.9.6h1m-.7 1.5h1m.1-2.1h1m-.5 1.5h1m-30.8.9h1m4 1.8h1m9.7.4h1m.8-1.7h1m.4 2.1h1m2.2-2.2h1m-12.9 4.8h1m7.7.2h1m2.2-1.7h1m2.3-.7h1m-15.6 4.4h1m3.7-.7h1" stroke="#7068c0" stroke-opacity="0.45"/>
<path d="M41.9 236.1h1m5.8 2.6h1m-.5-.8h1m-.3.5h1m4.7.4h1m-.9-.6h1m-.1-.5h1m-15.7 4h1m5.3 1h1m3.5-1.4h1m1.9 1.5h1m-15.8 2h1m.9-.4h1m2.1-1h1m3.5 1.5h1m5.4.5h1m-21.5.6h1m7.3 2.8h1m1.5-.4h1m-.7-2.1h1m.1 2.1h1m.7-2.2h1m.9.8h1m-.7 1h1m-21.9 1.4h1m6.4 2.4h1m2.1-2.5h1m1.4 1.7h1m0 0h1m-.4-1.6h1m-1 2.2h1m-.9-1.5h1m1.9 1.3h1m.6-1.3h1m-.4 1.1h1m3.3-1.4h1m.9 1h1m2.6-.4h1m-26.6 2h1m8.5 2.5h1m-.6-.9h1m.4-1.8h1m.7 2.3h1m-.1-2.5h1m.2 2.4h1m2.5-.3h1m-.7-2.1h1m-17.5 4.4h1m-.3-1.3h1m2.5.1h1m1.6 1.8h1m.1-.4h1m-.7.8h1m0-1.3h1m-.8.2h1m-.7 1.5h1m-.2-2.8h1m0 1.8h1m2.3.9h1m1.6-2.2h1m-.8.6h1m-17.4 3h1m2.6.7h1m-.3.1h1m5.1-1.1h1m-1.8 2.5h1m8.3 1h1" stroke="#7068c0" stroke-opacity="0.45"/>
<path d="M55 236.6h1m3.3-2.2h1m4.4 1.6h1m-28.1 3.4h1m4.5-.8h1m-.2.5h1m2.1 0h1m2.4-1.4h1m-3.5 4h1m7.7.4h1m-19.8 1.5h1m-.6.1h1m3.1.7h1m.1.7h1m.5-1.6h1m-.3 1.6h1m11.8.4h1m-.5-2.3h1m-21.4 3.8h1m4.4 0h1m2.3.2h1m-.5.5h1m.4.5h1m-.9-.4h1m-.2.1h1m-.2-1h1m1.3.9h1m-.1-.6h1m5 1.6h1m-18.5.5h1m1.6 1.9h1m-.9-1.8h1m.7.6h1m-.5.4h1m.1.5h1m-.1.2h1m1.2-1h1m-.4-.8h1m-.8 2.6h1m3.7-.1h1m.5-1.8h1m0-.1h1m3.3.6h1m-17.8 4.1h1m1.9.1h1m.2-2.3h1m-1 .4h1m-.5 1.4h1m-1-1.3h1m-.9-.5h1m-.2-.1h1m.8 2.6h1m.5-1.6h1m1.5 1.4h1m2.5-2.3h1m-.7.2h1m-25.3 3.5h1m3 1.1h1m-.1.5h1m8.3-2.3h1m3.9-.2h1m1.8.5h1m-.7 1.1h1m-24.2 3.7h1m7.7-1h1m1.5-1.2h1m6.3-.1h1" stroke="#7068c0" stroke-opacity="0.45"/>
<path d="M53.2 234.5h1m-24 2.9h1m16.5 1h1m1.6-1h1m-13 3.9h1m2.7-.5h1m2.5 1.7h1m7.3-1.9h1m-.7 2.1h1m-1-2.6h1m.9 2.3h1m-.7-.4h1m.2.9h1m-15.9 3h1m2.1-.4h1m-1-2.4h1m2.3-.1h1m-.1 2h1m1.3-1.1h1m-14.7 4.1h1m2.7.2h1m2.4-1.2h1m-.8 1h1m-.5-2h1m-.8 1h1m-.5.9h1m-.9.3h1m.2-1.8h1m-.7 1h1m1.2-1.1h1m-.4.4h1m-.3.9h1m.3-1.1h1m.5.5h1m2 1.5h1m-16.8.9h1m-.8 1.8h1m-1-.5h1m-.1-1.1h1m-1 2.3h1m.7-1.4h1m3.1.1h1m-.6 1.2h1m.1-2.6h1m1.8-.1h1m-.7 1.1h1m-.6 1.7h1m4-1.6h1m1.2-.2h1m-22.9 2.8h1m5.5.1h1m-.8 1h1m1-1.4h1m2.1 2.1h1m-.3-2.3h1m3.3-.1h1m-.3 1.1h1m.2.1h1m-10.6 3.6h1m-.3.7h1m-.6-1h1m-.8-.2h1m2.7.6h1m-15.4 3.3h1m1.8-1.9h1m-.8 2.6h1m2.7 1.5h1" stroke="#7068c0" stroke-opacity="0.45"/>
<path d="M36.9 239.4h1m10.7.2h1m-1.5 3.3h1m1.4-.4h1m.5-1.5h1m5.2 1.3h1m-27.3 2.9h1m12.5-1.2h1m.3 1.2h1m4.3-2h1m-.6-.1h1m2.9 1.6h1m3.9-1.2h1m-26.7 3.7h1m3.1-.3h1m-.2 1.3h1m-.2-1.7h1m4.3-.2h1m1 .2h1m-.7 1.9h1m-.8-1h1m-.3-.2h1m.3-1.2h1m.3 2.7h1m.7-.8h1m2.2-.7h1m-20.3 4.6h1m5.2-1.5h1m-.2-.2h1m0 .3h1m.2 1.3h1m-.4-2.1h1m1.2 1.4h1m-.8-.7h1m0-.8h1m1.2 1.6h1m-.2-.3h1m1.5-1.7h1m-.9 1.1h1m.6-1h1m-19.5 4.4h1m1-1.1h1m.7.6h1m-.3 1.1h1m.5-1.9h1m-.2 2.6h1m-.1-.2h1m3.9-.4h1m.7.1h1m1.7-.9h1m-18.6 4.2h1m2.5-.8h1m.2-1.6h1m-.7 0h1m5.6.7h1m0 1.9h1m4.5-.8h1m1.9-1.7h1m3.9 2.1h1m-28.4 2.1h1m3.8-1.5h1m.7 1.4h1m.3-1.2h1m3.2 0h1m.2 2.4h1m-.1.4h1m.3-.1h1" stroke="#7068c0" stroke-opacity="0.45"/>
<path d="M53.3 227.2h1m-5.6.9h1m7.1 2.2h1m1.3.6h1m0-2.5h1m-5.5 6.8h1" stroke="#9a94d0" stroke-opacity="0.5"/>
<path d="M53.4 229.4h1m-8.2 4h1m1.6 19.7h1m8.8 1.4h1m-6.7 2.1h1m-22.9 5.6h1" stroke="#9a94d0" stroke-opacity="0.5"/>
<path d="M30.1 234.8h1m11.2-.8h1m14.4.3h1m2.6 12.1h1m-14.6 10.8h1m-15.2 5.3h1" stroke="#9a94d0" stroke-opacity="0.5"/>
<path d="M64.1 234.1h1m-18.6 4.7h1m-.6 5.8h1m2.2 1.9h1m-3.3 3.5h1m-12.3 12.6h1" stroke="#9a94d0" stroke-opacity="0.5"/>
<path d="M44.3 226.7h1m2.3 4h1m12.4-1.6h1m-24.2 16.6h1m21 1h1m4.5 2.9h1" stroke="#9a94d0" stroke-opacity="0.5"/>
<path d="M45.7 274.4h1m-5.5 2.9h1m.5-1.2h1m-.2 2.1h1m3.2.3h1m-.1-2.4h1m0 .7h1m1.4-.4h1m2.4.3h1m-.8 1.7h1m-.7-1.9h1m-25.9 3.1h1m10 .3h1m.6 1.1h1m-.9.3h1m-.3-.5h1m-.8 1h1m.5-.7h1m2.1.5h1m-.6-1.9h1m.4.3h1m-.4-.8h1m-.2 1.8h1m-.2.3h1m2.7.4h1m4.2-.2h1m4 .4h1m1.1-.4h1m5.2-1.1h1m-43.8 2.6h1m1.7.3h1m1.6-.9h1m1.3 1h1m-.2.8h1m.3-1.5h1m-.1-.4h1m-1 0h1m-.3 2h1m-.6 0h1m-1-1.5h1m.1 1h1m-.8.1h1m-1 .3h1m-.9-.3h1m-1 .8h1m.3-.1h1m-.3-.7h1m.1-.2h1m-.9-.5h1m-.2 1h1m.6-.7h1m2.6-.4h1m-.3.9h1m-.8-.2h1m-.9.4h1m-.2-1.7h1m1.4.9h1m-.8.5h1m-.6-.7h1m-.7.8h1m2 .4h1m4.4-2.3h1m-37.7 3.5h1m3.7.3h1m.5-.3h1m-.4.1h1m-.4 2h1m-.6-2.7h1m0 .6h1m2.2 1.9h1m-1-.3h1m-.3-1h1m-.6 1h1m0-1.6h1m-.9 2.2h1m-.9-.8h1m0 .7h1m-1 0h1m-.8-.3h1m.2-1.5h1m-.7 1.4h1m-.7.6h1m-.1-2.8h1m-.5 1.3h1m-.8.2h1m-.8.5h1m-.9.5h1m-1-.1h1m-.4-.4h1m.1-2h1m0 2.6h1m.1.1h1m-.5-1.1h1m1.6.8h1m.3-.1h1m-.3-1.7h1m-.2-.3h1m-.9 1.5h1m-.7.2h1m-.6.8h1m-.3-1.6h1m-.2 1.6h1m-.8-1.5h1m-.1.6h1m1.7.3h1m.4-.1h1m7.4-1.6h1m5.6 1.2h1m-50.6 3.8h1m2.1.1h1m1.3-1.2h1m.5-.9h1m-.8.9h1m.8-1.1h1m-.9 2.2h1m0-.1h1m-1 .3h1m1.9.1h1m-.2-2.9h1m-.5 2h1m.1-1.4h1m.6 2.3h1m-.2-1.7h1m-.9 1.4h1m1-1.9h1m.1 1.7h1m-.8-.1h1m-.8-1.5h1m.6 0h1m-.9 1.1h1m-.9-.7h1m-.8 0h1m-.5 1.2h1m-1-1.8h1m-.8 1.3h1m-.8.4h1m-.3-1.2h1m-.9 1h1m-.2.6h1m-.6.2h1m4.6-2.2h1m-35.5 4h1m3.4.1h1m-.5-.7h1m-.1-.6h1m3.3.2h1m1.1.2h1m-.1.9h1m-.5-1.8h1m1.1 2.2h1m-.2-.7h1m-.4-1h1m0-.2h1m0 2.4h1m.8-1.5h1m1.7-.9h1m1.7 1.4h1m-.8.8h1m.8-2.5h1m2.5 2.1h1m3.8.2h1m0-1.7h1m-.5 1.4h1m-26.3 3.9h1m1.7-2.1h1m2.6 1h1m-.9-1h1m1.2 1.4h1m6.3 0h1m5.1.4h1m1.4-1.6h1m3.9 1.3h1m-26.9 1h1m2-.3h1m11.4.3h1m-23.2 4.9h1m13.4-2.1h1" stroke="#6a6a6a" stroke-opacity="0.5"/>
<path d="M60 270.2h1m-.2 3.2h1m-21.5 4.5h1m-.1.8h1m8.9-1.6h1m-.9.8h1m3.6.1h1m3.6-.4h1m2.5-.9h1m.2 2.2h1m-27.5 1.2h1m2.3 1.1h1m1.4-1.1h1m-.2 1.4h1m-1-.7h1m-.4-.4h1m-.5 1.4h1m1.3-1.5h1m-.8.7h1m-.9 0h1m.4.6h1m1.1.1h1m-.9-2h1m.8.3h1m.6.2h1m-.4-.7h1m0 1.1h1m-.5-.9h1m.4.8h1m0 0h1m4.5 0h1m-28 4.4h1m-.8-2.6h1m.4 1.4h1m.7 1.1h1m-.2-1.8h1m1.8 1.2h1m-.3-2.2h1m-.6 2.4h1m-.3-.1h1m-.5-.4h1m-1-.1h1m-.5.1h1m-.3.2h1m.4-1.6h1m1.1.8h1m-.3.7h1m-.4 0h1m-1 .6h1m7.4-.7h1m-.8 1h1m.2-2.3h1m0-.6h1m-.6.5h1m2.8-.1h1m-40.2 3.3h1m3 1.5h1m.8-.4h1m.2.1h1m2.3-1.9h1m0 .3h1m-.3 2.3h1m.2-.8h1m.1.1h1m-.7-.5h1m-.7.4h1m-1-1.7h1m-1 1.3h1m-.7-1.3h1m-.7 1h1m-1-.5h1m.3 1.1h1m-.6-.8h1m.2 2h1m-.8-1.3h1m-.4.9h1m.3.3h1m-1-1.2h1m-.6.7h1m.2.6h1m0-2.2h1m-.8.1h1m.3-.6h1m.4 1.4h1m-1-.2h1m-1 .6h1m-.6.4h1m-.7-2h1m-.5 1.6h1m-.2-2h1m-.4 2.2h1m.6-1.5h1m0-.5h1m.6 2.1h1m.4-.3h1m-1-.9h1m2.6 1.1h1m0-1.7h1m-.6.5h1m-38.6 2.8h1m3.9-.3h1m2.5.4h1m.4-.2h1m-.5 1.3h1m-1 0h1m-.9-1.1h1m-.2-.6h1m.1 1.5h1m.2-1.4h1m-.3 2h1m-.8-2.3h1m0 .2h1m-.7 2.4h1m-.8-1h1m-.6-.3h1m-.5-.1h1m.1.1h1m0-.3h1m-.7 1.5h1m-1-2h1m-.8 1.5h1m-.8-1.1h1m-.7 1.6h1m1.9-.1h1m-.4.4h1m.3-2.4h1m-.1 1.2h1m.9-1.4h1m-.8-.3h1m0 1.2h1m-.5.5h1m.9.9h1m-.4-1.6h1m.7.8h1m3.1-1.3h1m2.3.9h1m6.9 1.2h1m-47.9 1h1m6.1-.1h1m-.7 1.2h1m5.6.5h1m0-2.1h1m.8 1.8h1m-.9.9h1m-.3-.4h1m1.6.3h1m.5-2.7h1m-.8 0h1m-.1 1.9h1m-.7.3h1m-.5-.3h1m-.6-1.8h1m1.6.2h1m-.7 1.3h1m-.9.4h1m.9-1.8h1m-.4 1.3h1m.1.1h1m.1-.6h1m-34.1 4h1m1.5-.7h1m3.1 1.3h1m.9-2.4h1m-.2 1.2h1m2.9-.3h1m.3-.2h1m1.6-.9h1m1.1 1.7h1m3.6.2h1m1.9-1.2h1m-.5.9h1m-.7-1.5h1m-.8.2h1m5.7 2.5h1m-23 1.5h1m7.6.4h1m.2-.3h1" stroke="#6a6a6a" stroke-opacity="0.5"/>
<path d="M52.7 272h1m19.2-.1h1m-29 3.5h1m-12.2 3.2h1m4.7-.4h1m10.5-.1h1m14.5.8h1m4.2-.4h1m-32.6 2.2h1m2.2-.2h1m.6 1.2h1m2.9-2.3h1m-1-.2h1m-1 1.1h1m.3 1.3h1m2-2.1h1m.4 1.1h1m-.9-1.4h1m-.6 2.6h1m.6-.9h1m-.9-1.1h1m5.8-.8h1m-.2 2.5h1m.7-.6h1m8.2.3h1m-40.8 2h1m.5.2h1m1.2.5h1m-1-.5h1m.1.6h1m1.9-1.9h1m-.9 1.6h1m2.2-.1h1m-.9 0h1m-.4-.9h1m-.9.3h1m.5.1h1m-.6.4h1m-.9-.3h1m-.1-.6h1m-.4.9h1m.3.2h1m1.1-.2h1m-.6.3h1m0-.2h1m-.3-1.2h1m-.8-.3h1m.1 2.3h1m-.2.5h1m-.5 0h1m-.5-1h1m.8-.3h1m.6 0h1m.1 1.1h1m1.2-1.8h1m8 .9h1m-40.8 1.3h1m5.1 2h1m-.8-.9h1m.7.5h1m-.5-1.6h1m-.2 2.6h1m-.9-2.7h1m1.7 1.5h1m-.4-.2h1m-.6 1.6h1m-.7-2.8h1m-.9 2.2h1m-.4.6h1m0-1.2h1m-.5-1.2h1m-.9.9h1m-.3-1.2h1m-.7 2.7h1m-1-2.8h1m-.9 1.6h1m-.5-.6h1m-.4.8h1m.4-.8h1m-.5 1.4h1m-.9-1.7h1m-.1 2.1h1m.3-2.8h1m.3 2.7h1m-.4-2.4h1m.9 2.5h1m1.4-2.2h1m1.3 1.9h1m1.5.3h1m1-2.8h1m4.8.3h1m.9.1h1m-45.7 5.4h1m1.5-.7h1m5.2-.5h1m-.5.1h1m-.1.7h1m-.5-.9h1m-.9.1h1m.6.7h1m-.7-1.3h1m-1-1.1h1m-.6 2.4h1m.1-1.2h1m.2-.4h1m.2.9h1m-.7-.6h1m-.7 1.6h1m-.8-1.7h1m-.7-.9h1m.3 1.3h1m-.8-1.4h1m-.1 2.7h1m-.9-1h1m1.1.7h1m-.9-2.3h1m-.4 1.2h1m-.1 1.2h1m.6-1h1m-.2-.9h1m-.4 1.8h1m-.9.1h1m-.7-1.3h1m-1-.5h1m-.5.3h1m-.8.9h1m-.7-1.5h1m2.2 2.3h1m-32 .8h1m1.9-.5h1m4.7 1.3h1m-.9.5h1m2.5.9h1m.5-.9h1m0-1.2h1m0 .2h1m.1-.4h1m-.4-.1h1m-.7 0h1m-1 .6h1m-.5.8h1m-.7-1.6h1m.3.4h1m-.9 1.9h1m.5-2.4h1m-.5 2.1h1m1.1.1h1m-.8-.3h1m-.7-1.9h1m-.6.9h1m.5-.5h1m-.7 1.5h1m-.9-.6h1m1-1h1m8.7-.2h1m-38.9 5.8h1m3.8-.6h1m-.5-1.2h1m-.2.1h1m.6-1.2h1m3.7 1.3h1m1.5 1.3h1m1.3-1h1m1.1-1.2h1m.6 1.2h1m7.6-1.1h1m-.6-.3h1m.8 1.3h1m-30.9 2.7h1m10.7 0h1m1.5-.9h1m5.5.9h1m2.7-.7h1m-10.6 4.5h1m.8.3h1m-.5 0h1m6.2-2h1" stroke="#6a6a6a" stroke-opacity="0.5"/>
<path d="M41.3 274.7h1m.7-.3h1m-9.8 3.1h1m2-1.2h1m5 1.6h1m4.2 1h1m4-.1h1m2.2-1h1m.7-1.6h1m-29.2 3.4h1m7.7-.6h1m3.6.2h1m3-.1h1m.6.2h1m-.6-.1h1m-.7 2.5h1m1.3-2.3h1m1.1 1.9h1m.3.5h1m-.6-2.6h1m.4 2.7h1m-.3-.2h1m-.9-.1h1m3.3-2.1h1m-.7 2h1m.9.2h1m0-2.2h1m.2 2.4h1m2.5-.3h1m-39.1 2.9h1m5.7.4h1m-.7-.5h1m-.1-.9h1m.5.2h1m1.8-1.1h1m-.9.6h1m-.7.2h1m1.2-1.3h1m-.2.6h1m.3.7h1m-.4-.3h1m-.7 0h1m.6-.5h1m-.2.3h1m-.2.1h1m-.1.7h1m1.3.8h1m-1-2.4h1m-.2 1.9h1m-.5-1.5h1m4.5.2h1m10.7 0h1m2-.2h1m-44.4 4h1m.1-.8h1m-.8-.6h1m-.2 1.5h1m-.7-1.5h1m1.9 1.7h1m-.7.8h1m1.4.2h1m0-2.4h1m.1 2.2h1m-.6.3h1m.8-.6h1m-.6-1.3h1m-.6-.8h1m-.9 1.5h1m-.9 1.2h1m.2-.8h1m-.5.6h1m-1-1h1m-.5-.8h1m-.7.4h1m-.7.5h1m-.5-1.7h1m-.5-.1h1m-.4 1.9h1m-.4-.2h1m3.3 1.2h1m.2-2.6h1m-.9 2.6h1m.4-1.4h1m.7-1.4h1m-.3.1h1m-.2 2.1h1m.2-.9h1m-.7 1.1h1m.2-1.3h1m-.7-.3h1m.7-.5h1m.4 2h1m1.4-1.4h1m4.8 0h1m-45.9 3.6h1m1.4 1.2h1m.8-1.2h1m-.8-.6h1m-.5 1h1m-.4-1.9h1m.3.8h1m3.9 1.2h1m-.9-1.5h1m-.9 2.1h1m-.5-1.9h1m.2 1.9h1m-1-1.7h1m-.7 1.1h1m.6-2.1h1m-.7 2.3h1m-.7-1.5h1m-.7.2h1m-.5 1.4h1m-.1.4h1m0-1.7h1m-.7.1h1m.8-.8h1m1.8.6h1m-.7-.8h1m-.6-.2h1m-.9.1h1m.4 2.1h1m-.4-.4h1m-.6-1.7h1m-.5 1.4h1m-.9 0h1m.2.5h1m-.3-1.9h1m-.2 0h1m.9 1.9h1m4.9-2h1m-34 3.2h1m1.5.3h1m1-.1h1m-.8 2.2h1m1.6-.4h1m.5.1h1m.7-1.2h1m3.3-.3h1m4 .5h1m-.6.7h1m-.8-.7h1m-.1-.6h1m1.5 1h1m1.6-.3h1m.2-.3h1m2.2 0h1m.9-.3h1m3.1.4h1m-40.1 2.3h1m.5-.2h1m3.4 2.1h1m-.9.3h1m1.6-2h1m-1 1.7h1m1.5-2h1m-.7-.1h1m1.9 2h1m-.5-1.4h1m.7.5h1m-1 .3h1m-1 .7h1m2.5-.2h1m1-1.7h1m-.6.8h1m-.5.8h1m.9-1.5h1m5.4 1.1h1m7.9-1h1m-35.9 4h1m7.4-.7h1m1.2.5h1m-.9-.9h1m4.4-.2h1m4.6.7h1m-10.3 3.6h1" stroke="#6a6a6a" stroke-opacity="0.5"/>
<path d="M59 275.1h1m-16.9 3.8h1m1.9-2.3h1m11.1 0h1m3.1 1.7h1m3.6.2h1m-31 1.7h1m3.8 1.2h1m2.8.1h1m0 0h1m1.3-1.2h1m-.6 1.5h1m-.2-2.7h1m-.8 1.2h1m-.3-.6h1m-.4 1h1m-.2-1.7h1m-.5 1.7h1m-1 .5h1m-.9-1.3h1m-.3 1.5h1m.3 0h1m-.7-1.7h1m-.8.6h1m2.4 1.4h1m4.2-1.2h1m1.8 1.3h1m2.5-2.1h1m-35.9 2.5h1m0 2.7h1m-.6-1.3h1m2.2.1h1m2.9-1.1h1m.7.6h1m-.4-.7h1m-.4 1.8h1m-.6-.6h1m-.1.4h1m-.6-1.2h1m-.7.3h1m1.3 1.1h1m1.3.4h1m.1-1.7h1m-.6 1.2h1m-.6-1.6h1m-.8.5h1m-.9-.2h1m-.9 1.2h1m-.3-1.1h1m-.2 1.6h1m2.7-.3h1m3.3-1.3h1m.4 1.8h1m.2-.9h1m7.1 0h1m.1-.1h1m-40 2.8h1m-.1.6h1m-.6 0h1m-.7-1.3h1m-.2-.4h1m.4 1.7h1m.9-.6h1m-.3.3h1m.9-1h1m-.7.3h1m-.6-.6h1m1.8 1.7h1m-.9-.8h1m-1 .9h1m.1-2.1h1m.6 1.6h1m-.6.3h1m-.2.2h1m.3-.6h1m-.6 1.1h1m.5-.1h1m-.8-2.4h1m-.3 1.3h1m-.8.7h1m.7-.6h1m-.8.7h1m1.1-2.5h1m-.7 1h1m.5.6h1m-.2.4h1m-.9-1.1h1m-.3-.1h1m1.8.5h1m-.7-.6h1m.6-.6h1m5.9 2.3h1m-42.5 3h1m1.6-.9h1m0-1.1h1m3.2 1.1h1m.5 1.1h1m.2-1.7h1m-1 1.5h1m-.8-1.2h1m-.6.6h1m.8-1.7h1m0 2h1m-.4.5h1m1.5-1.4h1m-.9 1.2h1m-.7-.7h1m-.6-1.5h1m-1 .7h1m-.3 1.8h1m.3-2.1h1m-.9-.2h1m.4-.3h1m-.1.7h1m-.9-.7h1m-.3 2.1h1m1.3.2h1m2.4-1.1h1m-.4-.9h1m-.4 1.1h1m.6.9h1m-.9-1.3h1m-.2.3h1m3 .2h1m-37.7 2.9h1m-.4-1.1h1m.4.6h1m-.4 1.5h1m-.3-1h1m1.7 1h1m1-1.9h1m-.3 1.4h1m-.3-.8h1m-.6-.4h1m.7.8h1m-.5-1.2h1m-.7 1.3h1m.1-.5h1m-.4.4h1m-1 .6h1m-.9.7h1m-.2-2.9h1m-.3.3h1m.5 1.2h1m-.8-1.4h1m.1 2.5h1m1-.1h1m3.9-.2h1m1.3-1.4h1m.4 1.9h1m-1-2.7h1m4.7 1.9h1m-41.4 2.2h1m2.6-.3h1m4.6-.9h1m3.5 1.5h1m-.3-1.5h1m5.1 1.7h1m-.7-.9h1m2.3.4h1m-.1.1h1m-.9.8h1m-.2-2h1m6.4.3h1m5.8 1.7h1m6.3-1.5h1m-41.6 4.1h1m5.6-1.4h1m.3.1h1m.8-.4h1m6.1 2.2h1m1-1.4h1m-18.5 4.5h1m2.8-.6h1m13.8-1.2h1m9 1.8h1" stroke="#6a6a6a" stroke-opacity="0.5"/>
<path d="M89.9 280.4h1m-3.2 5.8h1m-.5.2h1m2.5.8h1m0-.2h1m-.4-.1h1m-10.7 3.7h1m.7.2h1m-.1-.3h1m1.3-1.6h1m2 1.6h1m.8-2.2h1m-.4 1.9h1m.4-1.1h1m1.1 1.6h1m-.6-.6h1m1.6-2.1h1m-.4 1.5h1m-18.6 1.9h1m3.5 1.8h1m0-.3h1m2.6-1.4h1m1.6.9h1m-.6 1.1h1m-.8-1h1m2.7.8h1m1.7-1.7h1m-.2.4h1m-17.8 3h1m1.2.9h1m-.9-.4h1m-1-.3h1m-1.7 2.5h1m-.5-.2h1" stroke="#7a7a7a" stroke-opacity="0.5"/>
<path d="M96.5 281.5h1m-7.3 1.4h1m-.5 1.8h1m-3.4 1.5h1m4.6-.4h1m1.9 1.2h1m1 .2h1m-14.5 1.7h1m1.8.2h1m0 1.8h1m-.9-.6h1m2.3-.9h1m-.1-1h1m-.7 2.1h1m.8-.2h1m2.1-1.9h1m-.6 1.9h1m-.4-1.7h1m-.3.8h1m-16.5 2.5h1m.4.1h1m-.1 1.1h1m1.4-1.7h1m-.1 1.6h1m3.3-.9h1m1.1-.5h1m.3.8h1m-9.3 2.9h1m1.7-.2h1m1.2-1h1m-.4 2.2h1m-.6-2.3h1m-.6 1.9h1m-3.3 2.9h1" stroke="#7a7a7a" stroke-opacity="0.5"/>
<path d="M85.5 284.4h1m.1 0h1m-4.9 2.1h1m4.9 1.4h1m1.5-1h1m4.2-1.4h1m.3 1.9h1m-.2-.5h1m.9.3h1m-.6-.4h1m-14.4 3.7h1m-.7 0h1m.2-1.4h1m-.5-.3h1m.4 1.9h1m-.8-.6h1m.6.2h1m.4 0h1m.1-1.6h1m2.3 1.6h1m3.8-.9h1m-17.7 1.6h1m4 1.4h1m.2.4h1m-.9-.4h1m1.4-.1h1m.6-.7h1m-.7 2.1h1m2.6-2.5h1m-20.7 3.5h1m7.2.1h1m-.7 1.7h1m8-.4h1m4.5-1.6h1" stroke="#7a7a7a" stroke-opacity="0.5"/>
<path d="M83.4 282.4h1m8.1 2.4h1m.1-.2h1m-6.1 3.3h1m2.4-1.8h1m-.2 1h1m8.3-1.3h1m-15.2 4.8h1m1.9 0h1m-.9.1h1m-.9-2.6h1m-.1.8h1m0-.1h1m0 2h1m-1-.9h1m-.3.3h1m4.5-2h1m-.9 2.4h1m-.9-.6h1m-15.7 2.2h1m1.4 1.1h1m0-.7h1m1.4-.9h1m1.6-.6h1m-.7 2h1m-1-2h1m1.6 1.2h1m2.4-.2h1m1.8.9h1m-14.9 2.1h1m1.3-.1h1m1.3-.1h1m1.5-.9h1m1.5 1.1h1" stroke="#7a7a7a" stroke-opacity="0.5"/>
<path d="M83.3 283.3h1m6.6 1.2h1m-2.9 3.4h1m3.4-.5h1m4.4-2.3h1m-.6 1.9h1m-16.4 1.2h1m1.8 1.9h1m.7-.4h1m.8-.3h1m.2 1.1h1m.3-.8h1m-.1.6h1m1.6-.5h1m.9-1.2h1m0-.3h1m-.1 1.1h1m-.7.6h1m-.8-1.5h1m.2.8h1m-.7.7h1m-19 3.3h1m2.4 0h1m6.3-.7h1m.9 1.2h1m0-2.4h1m2.1 1.8h1m1.6-.6h1m-22 3.3h1m1.6-1.8h1m.3 2.3h1m-.1-.8h1m-.3-1h1m8.9 1.1h1" stroke="#7a7a7a" stroke-opacity="0.5"/>
<path d="M55.3 268.4h1m-3.2 3.1h1m26 .2h1m17.3-.5h1m-40 9.3h1m-19 2.7h1m27.5 4.4h1m50.7 5.9h1m-89 1.1h1m11.8 2.4h1m68 2.3h1m-7.8 1.5h1" stroke="#999" stroke-opacity="0.5"/>
<path d="M87.7 274.6h1m-10 4h1m20.3-2.2h1m-3.3 5.8h1m-50 4.9h1m50.3-1h1m.2.5h1m-62 2.4h1m6.9 3.4h1m42.5 4.2h1m22.8.6h1m9.9 4.1h1" stroke="#999" stroke-opacity="0.5"/>
<path d="M81.4 272.9h1m-30.1 3h1m33.5-.1h1m-57.4 1.9h1m56.9-1.6h1m8.1 5.7h1m19.2-.8h1m-63.5 2.1h1m-3.9 4.5h1m37.3 7.6h1m6.8 3.9h1m2.3 1.2h1" stroke="#999" stroke-opacity="0.5"/>
<path d="M45.3 271.1h1m39.3 1.5h1m-27.6 2.3h1m17.7.5h1m-33.6 4.2h1m18.8-.4h1m30.9 5h1m14.9 3.4h1m6.5-.3h1m-72.2 9.6h1m24.4-1.9h1m44.4 5.3h1" stroke="#999" stroke-opacity="0.5"/>
<path d="M90.8 268.5h1m34.7 1h1m-50 .5h1m19.5 1.9h1m-33 8h1m-6.5 4.9h1m52.2 12.1h1m13.5 0h1m-81 3h1m44.7-2.3h1m-14.7 2.5h1m40.2 1.6h1" stroke="#999" stroke-opacity="0.5"/>
<path d="M120.7 209.1h1m-41 10h1m-18.2 19.8h1" stroke="#aaa" stroke-opacity="0.5"/>
<path d="M102.1 225.7h1m-68.3 14.7h1m.2 6.9h1" stroke="#aaa" stroke-opacity="0.5"/>
<path d="M94.7 215.9h1m-.8 3.8h1m-13.5 5.8h1" stroke="#aaa" stroke-opacity="0.5"/>
<path d="M106.4 215h1m-64.9 10h1m25.5 22.7h1" stroke="#aaa" stroke-opacity="0.5"/>
<path d="M80.6 208.6h1m31.1 37.9h1m-69.5 12.5h1" stroke="#aaa" stroke-opacity="0.5"/>
<path d="M207.9 234.3h1m-3.1 8.2h1m1.2-.8h1m14.7-1.4h1m-25.1 3.4h1m.5-.5h1m3.6 1.3h1m2.1.4h1m.2-1.3h1m1.5.3h1m-.1.7h1m.9-1.4h1m.6 1.8h1m2.4-1.6h1m1.4 1.7h1m2.8-1.1h1m-32.6 3.2h1m11.7-.1h1m4.3-1.1h1m-.5 2.2h1m-.1.2h1m-.9-.8h1m.6-.3h1m-.6-.1h1m-20.8 4.6h1m4.6.1h1m-.9-1.7h1m1.6.8h1m-.9-.6h1m-.3-1.2h1m-.1 1.5h1m0-.6h1m.3.3h1m0 .6h1m1.1.6h1m-.6-1.8h1m-.8.9h1m-15.4 2.4h1m1.5 1.4h1m1.5-2.4h1m-.4 2.5h1m4.8-1.2h1m-.7-.3h1m-.2.4h1m-.1 0h1m1.4.2h1m-.9-.4h1m21 1.2h1m-45.3 2.5h1m1.5-1.7h1m.8 1.1h1m.7 1.5h1m1.1-.5h1m-.7-.9h1m-.9-1.4h1m0 .3h1m1.7 2.5h1m4-.9h1m12.8-.1h1m-.3-1.1h1m.6 1.3h1m3.4-.2h1m-24.6 2.5h1m6.7-1.3h1m5.2 1.9h1m-21.9 3.7h1m2.6-1.9h1m4-.7h1m.8 2.4h1m6.9-.3h1m.4.3h1m-.5-.8h1m.5 1.2h1m-22.5.5h1m16.6.7h1m-12.3 6.3h1" stroke="#e06050" stroke-opacity="0.5"/>
<path d="M214.4 234.6h1m-19.9 5.2h1m5.3 0h1m11.3-.4h1m-.9-1.8h1m1.3-.1h1m-13.2 3.4h1m1.7.8h1m4-.4h1m.4-.3h1m2.9.3h1m3.5.8h1m-21.6 3.4h1m4.2-1.7h1m3.7 1.8h1m2.7-1.4h1m4 0h1m3.7-.7h1m-25.4 5.1h1m1.5-2h1m.2 1.1h1m-.4-.2h1m-.8-.2h1m2 0h1m-.2 1.5h1m3.3-2.5h1m3.1 1.4h1m.2 0h1m-.9-1.3h1m-.1.3h1m4.1.9h1m-43.6 2.8h1m9.4-1.1h1m9.8.2h1m.2 1.8h1m-.9-1.4h1m-1-.5h1m-.7.4h1m3.8 1.2h1m.2.2h1m1-.2h1m-.5.2h1m5.8-.3h1m-30.6 1.9h1m1-.6h1m2.9 2.3h1m0-2.3h1m2.6.1h1m3 .1h1m-.2-.4h1m-.6 2.6h1m5.6-1.2h1m.7-.1h1m.5-.2h1m2.6.6h1m1.4-.3h1m-34.1 2.5h1m15.7 1.1h1m-.3-.1h1m-.2-.7h1m-.1-1h1m.9.5h1m1.1.1h1m-.3 2h1m1.6-.4h1m10.1 0h1m-16.9 1.6h1m.8.7h1m3.4 0h1m10.2-.7h1m-39.2 3.9h1m2.1-1.6h1m16.8 2.1h1m3.3-.8h1m-11.2 3.9h1m12.9 6.3h1" stroke="#e06050" stroke-opacity="0.5"/>
<path d="M196.2 240.8h1m8.8-.2h1m4.3 1.6h1m.8-.3h1m-.9-1.6h1m.5.1h1m-21.4 5.2h1m1-.7h1m2-.9h1m1.2 1.9h1m-.4-1.4h1m4.3.6h1m1-.5h1m8.9.3h1m-24.9 2h1m4.2.4h1m1.1 1h1m.6-1.8h1m.9-.1h1m2 1.5h1m.7-1.8h1m-.4 1.9h1m4.2-.8h1m8 1.2h1m-29.7 3h1m.2-2.4h1m.6 1.8h1m3.7.1h1m2 .9h1m-.8-1.2h1m0-1.3h1m.6.7h1m-.2 1.2h1m.8-1h1m2-.7h1m10.7.7h1m3-.1h1m-41 3.6h1m1.3-.1h1m4.7.6h1m5.7.6h1m1.3-2.1h1m-.2 2.2h1m1.7-.5h1m4.9-1.8h1m5.3-.5h1m3.5 1.3h1m-37.3 2.6h1m-.4.5h1m.6.2h1m2.3-1.1h1m-.9 0h1m-.5-.3h1m0 2.5h1m6-.4h1m-.4-1.2h1m-.8 1.6h1m-.2-.9h1m1.8-1.1h1m.6 1.4h1m2.2-1.1h1m.8-.8h1m5.1.7h1m-23.5 3.1h1m-.5-.9h1m0 2.7h1m4.6-1.3h1m7.6.4h1m5.4.2h1m-25 3.6h1m9.6-1.6h1m4.7.8h1m-26.7 1.9h1m10-.8h1m3.2 4.6h1m6.9-.5h1" stroke="#e06050" stroke-opacity="0.5"/>
<path d="M202.4 237.7h1m6.5 2h1m2.8-1.7h1m-12.6 3.5h1m7.5 1h1m8.3-2.3h1m-.5.5h1m-35.7 3h1m4.9 2.2h1m8-1.9h1m.5-.1h1m1.3.7h1m-.9.8h1m2.6.1h1m2.9.3h1m2.5-.8h1m-22.5 2.4h1m4 .4h1m2.9.2h1m-.3-1.6h1m-.1.5h1m.3 2h1m-.4-2.7h1m1.2.1h1m3.3 2.6h1m2.5-2.5h1m4.5 2h1m3.3-1.1h1m-27.6 2.8h1m3.5-.3h1m.2 1.9h1m.6-1.2h1m0 .5h1m-.8-.2h1m.6-1.5h1m-1 2.5h1m.9-1.6h1m.4-.7h1m3.9-.3h1m2.3 1.9h1m-.3-.1h1m-29.2 3.4h1m-.3.2h1m2.9-1.4h1m2.7-.6h1m1.7.6h1m3.5 1.7h1m-.4-.4h1m.3-1.8h1m.9.6h1m3.6-.7h1m2.4 1.7h1m-25.3 2h1m3.5.9h1m1.4-.6h1m4.4 1.2h1m-.3-.9h1m-.4.1h1m1.6.5h1m2-2.5h1m1 2.1h1m.3-1.5h1m2.8 1.6h1m-.1-.9h1m-19.3 2.7h1m.5-.6h1m-.7 2.5h1m2.7-1.5h1m6-1.4h1m8.3.7h1m-23.5 4.1h1m.1-.8h1m0-.8h1m16.4.3h1m-7 3h1m-9.8 4.2h1" stroke="#e06050" stroke-opacity="0.5"/>
<path d="M216.2 239.8h1m2.7-2.7h1m-22.4 4.2h1m3.7.8h1m2.6-.1h1m3.1-1.1h1m4.4.7h1m-.8.6h1m-28 1.8h1m4.4 1h1m1-.5h1m6.2 1.1h1m3.9-2.2h1m1.3 1.8h1m.6-2h1m.8 2h1m9.1.6h1m-29.8 1.6h1m3 .7h1m7.4-1h1m.1-1.1h1m-.3 1h1m5.9 1.5h1m14.1-.5h1m2.1.9h1m-40.1.1h1m.9 2.5h1m-.7.2h1m2-.9h1m6.9-.4h1m.6 0h1m-.3.4h1m1.7.4h1m-.5 0h1m2.4-1.4h1m.8-.5h1m1.3 1.2h1m.3 1.1h1m-26.6 2h1m-.2 0h1m0-1.2h1m-.1 2.3h1m-.4-2h1m.6-.7h1m.9 2.7h1m-.8 0h1m-1-.2h1m-.1-.3h1m0 .1h1m1.7-.3h1m4.8-.6h1m-.4-.6h1m3.9.6h1m.7-.8h1m3.7.3h1m6.4.5h1m-39.2 2.4h1m1.2-.8h1m4.8 0h1m2.2 0h1m1.3 1.6h1m.6-.7h1m2.2-.9h1m0 1.4h1m2.7-.8h1m-15.7 3h1m2.1 2.3h1m1.4 0h1m3.4-.6h1m1.2-.3h1m-21.3 1.7h1m1.6 1h1m19.3 4.3h1m4.7.3h1m-1.7 2.8h1m-16 5.1h1" stroke="#e06050" stroke-opacity="0.5"/>
<path d="M171.7 228.2h1m67.4.3h1m-15 5.3h1m-19.9.8h1m6.1.2h1m-.6-.8h1m33.4 3.5h1m-87 14.1h1m65.5-1.6h1m-71.6 3.1h1m28.5.2h1m31.7-1.2h1m-55.8 3.1h1m46.3 1.2h1m31.9.2h1m-31.3 4.2h1m-47.9.4h1m30.1.5h1m13 .3h1m-24 2.2h1m38.5 2.6h1m-29.9.7h1m-29.9 4h1m3.4 1.1h1m63.9 5.7h1m-62.3 1.1h1m1.5.4h1m6.2.2h1m33.2 1.2h1m1.7-1.8h1m-62.5 4.9h1m55-2.3h1m.9 2.3h1m-46.5 2.4h1m27.7.5h1m1.5 3.2h1m24.4-2h1m6.5.7h1m-76.2 3h1m81.1 6.8h1" stroke="#b0aab8" stroke-opacity="0.5"/>
<path d="M191.4 229.4h1m46.4 1.3h1m-79.8 2.3h1m44.9 0h1m-28.4 3h1m-14 1.6h1m39.5.8h1m-23.4 1.7h1m38.6 1.6h1m-43 3.7h1m29.5.5h1m1-2.2h1m26.3 4.5h1m-80.7 6.4h1m23 0h1m9.7-.5h1m-1.9 3.7h1m-10.2 2h1m60.5.3h1m-46.9 2.3h1m8.8 1.1h1m-49.6 2.1h1m23.8 1.2h1m40.4 2.5h1m-61.4 2.2h1m2-.2h1m39.4 3.7h1m6.6-1.1h1m-52.5 4.4h1m29.2-1h1m35.8 4.5h1m-59.5 2.8h1m36.9 1h1m-8.8 3.5h1m-36.8 2.6h1m22.2-.1h1m30.6.8h1m-30.3 2.5h1m5.8 3.6h1m23.6 1.1h1" stroke="#b0aab8" stroke-opacity="0.5"/>
<path d="M158.1 229.2h1m17.5-.1h1m12 .6h1m15.3 3.5h1m14.4-.5h1m-37.1 2.2h1m38.3 1.6h1m8.9.6h1m-67.7 6.7h1m74.4.4h1m-84.1 9.1h1m28.9.8h1m28.8.9h1m-57.7 4.5h1m15.3.5h1m42 1.5h1m-45.4 4h1m-17.3 6.1h1m33.7 0h1m-23.2 3.1h1m65.5.7h1m-15.2 2.1h1m4.2 1.4h1m-50 1.8h1m39-1.2h1m-47.3 2.9h1m39.3 0h1m4.8-.2h1m8.9 2.5h1m6.4-.7h1m-81.5 1.7h1m57.1 4h1m20.1.7h1m-2.9 2.1h1m-72.2 3.5h1m8.9-1.5h1m-1.6 2.8h1m38 .2h1m5 2.1h1m18.3-2h1" stroke="#b0aab8" stroke-opacity="0.5"/>
<path d="M194.6 228.2h1m-23.2 6.6h1m3-.3h1m52.5 1.9h1m-42.6 3h1m16.3-.3h1m9.2-2h1m-19 5.4h1m-13.6 3.2h1m8.7-2.7h1m-.1 1.2h1m-33.3 3h1m11.6-.3h1m20.8 1.8h1m4-1.6h1m-.8 4.3h1m26.6-1.2h1m-57.6 2.9h1m17.3-.6h1m7.4 0h1m25.3 1.5h1m8.7-.6h1m-32.6 2.3h1m6.9 1.5h1m.8 5h1m26.1 1.5h1m-54.3 2.1h1m-31 3.4h1m17.6.3h1m41.2 6.2h1m-38.4 4.5h1m28 .8h1m8.3-1.8h1m26.1.8h1m-50.2 4.6h1m27.4-.8h1m-36.1 5h1m43 2.7h1m2.9.1h1m-64 4.9h1" stroke="#b0aab8" stroke-opacity="0.5"/>
<path d="M186.5 231.8h1m33.8 1.8h1m24.3-.8h1m-51.3 2.2h1m28.2-.9h1m7.5 1.7h1m1.3 1h1m11.7-.4h1m-74.1 9.3h1m44-1.7h1m8.2 1.8h1m12.1-.2h1m-10.3 2h1m-65.7 5.9h1m-10.7 3.7h1m76.6.2h1m1.9-.3h1m5.7-1.5h1m-17.3 6h1m-40.5 6.7h1m31.3 1.3h1m-63 .4h1m43.6.4h1m15 .9h1m-55 2.6h1m40.8 4.6h1m2.7.9h1m20.6.2h1m-59.9 3.1h1m52.1 3.5h1m-64.4 3.3h1m-.1.3h1m24.8 1h1m28.6-1.9h1m6.7-.9h1m-45.7 4.4h1m13.2-.2h1m-29 3.9h1m77-1.2h1m-11.6 4.2h1" stroke="#b0aab8" stroke-opacity="0.5"/>
<path d="M185.7 278.6h1m-9 1.3h1m-.7-.4h1m2.8 2.2h1m-15.3 2.6h1m-.8-1h1m0 .8h1m.4-.3h1m-.6.7h1m.1-.3h1m-.7.6h1m.6-1.7h1m-.9-.8h1m-1 2.1h1m0-.7h1m-.9 1.2h1m2.1-2.1h1m-.5 2.1h1m.8-1.7h1m-.1.7h1m.2-1.5h1m-.8 1.5h1m.7.8h1m.3-.5h1m-20.3 1.9h1m-.9-.4h1m3.2 1.4h1m-.9-1h1m.4 1.6h1m-.7-1.2h1m.2-1h1m-.7.7h1m.5-.3h1m-.9.2h1m-.4-.5h1m-.7 1.3h1m-.9.2h1m-.7-2.1h1m-.7 2.9h1m-.3-.7h1m-.5-1.1h1m-.9 1.3h1m-.7.1h1m0 .3h1m.9-1h1m-.2.6h1m.8-1.8h1m4.9.9h1m-29.7 2.7h1m0 .8h1m6.5.6h1m.1-1.9h1m.6-.7h1m-.7 1.7h1m-.6-1.1h1m-.9 1.3h1m-.9.1h1m.3-1h1m.2 1.7h1m-.8-1.2h1m-.8.5h1m-.5.6h1m-.5-2.1h1m-.7 2.4h1m0-2.9h1m-.5 2.3h1m.5-.1h1m-.7-1.3h1m-.5 1.5h1m-.9-.5h1m-.9-.1h1m-.9.5h1m-.7.2h1m-.8-.4h1m.1-2h1m-1 2.1h1m-.4-1.6h1m-.7-.1h1m-.8.7h1m1.8.8h1m.1-.4h1m-22.3 3.3h1m1.4-1.7h1m-.8 1.6h1m-.8 0h1m-.5.1h1m0 .3h1m-.6-.7h1m-.9-1.1h1m-.2-.1h1m-.8 1.7h1m-.9.9h1m-.7-1.7h1m.8 1.7h1m-1-1.9h1m-.6.2h1m-.2-1.1h1m-.9 1.2h1m-.6-1.3h1m-.9 1.4h1m-.6-.2h1m-.9 1.3h1m-.3-.2h1m-1-1h1m-.5-.6h1m-.8 1.6h1m-.9-.8h1m-.6-1.2h1m-.7 0h1m.5 2.1h1m0-1.1h1m-1 0h1m-.8 1.4h1m-.1-1h1m2.4.2h1m-15.8 1.6h1m1.8-.1h1m-.4 2.4h1m-.9-.9h1m-.9-1.5h1m-.4.9h1m.3.1h1m.6-1.1h1m-.8.1h1m2 0h1m-.6-.3h1m-.7 1.5h1m-.3-.3h1m-.8.9h1m-.6-.5h1m-15.2 2.4h1m.5 1.7h1m.3-2.4h1m6.4 1h1m0 .6h1m-14 1.2h1m7.3.2h1m1.2 1.9h1m.8-1.5h1m-5.4 2.4h1" stroke="#2a1ca0" stroke-opacity="0.5"/>
<path d="M175.9 278.3h1m-7 2.3h1m2.6.5h1m4.9.2h1m.8-1.6h1m1.1 1.4h1m-22.1 2.5h1m2.4.9h1m4.3-.2h1m-.5.5h1m-.7-.8h1m0 .9h1m1.8 0h1m-.8-2.1h1m.6 1.4h1m-.5-1.3h1m-.2.6h1m-.7.6h1m-.1-1.4h1m-14.6 4.8h1m-.1.2h1m-.6-.1h1m-.4-.8h1m-.5-1.4h1m-.6 2h1m-.9-1.1h1m-.4 1.3h1m-.3-1.4h1m.7 1.7h1m.8-.5h1m-.8.4h1m-.4-2.2h1m-.2-.6h1m-.6.7h1m-.6 0h1m-1-.1h1m-.5 1h1m-.7 1h1m-.2-.6h1m-.7-.4h1m-.3-1.1h1m-.6 1.6h1m-.9-.3h1m-.4 1h1m-.9 0h1m-.8-2.3h1m0 2.3h1m-.5-1.5h1m-.4 1.1h1m-.9-.9h1m-.4-.5h1m-.3 1.3h1m-.2-1.1h1m3.4-.9h1m-22 5.6h1m1-.6h1m-.9-.8h1m1-.5h1m-.8-.3h1m-.9-.7h1m-1 .1h1m0 2.4h1m-.9-.9h1m0-1.2h1m-.4 1.9h1m.4-.2h1m-.3.7h1m-.9-1.3h1m.5 1h1m-.3-.7h1m-.5-.5h1m1.3-.8h1m-1 1h1m.2-.1h1m-1-1h1m-.7-.3h1m-.9.9h1m2.6 1.9h1m-27.5 1h1m3.5 1.5h1m2.9-1h1m-.5.1h1m-.6.1h1m-1-.9h1m-.8.6h1m-1 1.5h1m-.6-2h1m-.7 2h1m-.7-2.4h1m-.9.9h1m-.3-.7h1m-.8-.3h1m-.9.9h1m0-.6h1m-.9 2.3h1m-.3-2h1m.6-.4h1m-.6 1.1h1m-.9-1.2h1m-.9.6h1m-.6-.7h1m-.3-.1h1m-.7 0h1m-.9 1.3h1m-.9-1.5h1m-.9.4h1m-.5 1.5h1m3.6-.2h1m-18.6 2.6h1m2.4-1h1m1.5-.1h1m1.7.5h1m.4-.4h1m-.4 2.5h1m-.6-2.6h1m-1 .3h1m-.5 1.1h1m-.6-1.3h1m-.4 2h1m.2-1.4h1m.2 1.2h1m.8.7h1m.8-.8h1m.6-.5h1m-21.9 1.5h1m5.3 2.1h1m0 .5h1m-.8-1.7h1m-.7-.2h1m.9.7h1m1.1 1.5h1m-.8-2.7h1m-.8.3h1m-.6.7h1m1.6.3h1m-.8-1h1m-7.3 4.5h1m6.8-1.2h1m2.4 2.1h1m8.6-1.3h1" stroke="#2a1ca0" stroke-opacity="0.5"/>
<path d="M176.9 279.9h1m-11.9 4.2h1m1.8.3h1m-.5-1.9h1m-.6.1h1m.8-.1h1m-.8.4h1m.4.5h1m-.9.4h1m-.6.9h1m1.4-.4h1m.1-.3h1m-.9.5h1m.7-1.3h1m.7.8h1m-.7.1h1m3.5.3h1m.5-1.7h1m-.6 1.3h1m-25.8 1.8h1m-.4-.6h1m3.7 1.3h1m-.2-.7h1m.8.8h1m1.2-.5h1m-1 .7h1m-.3.8h1m0-2.4h1m-.4 1.9h1m-.8-1.2h1m-.3.8h1m-.3-.8h1m1.5.9h1m-.7-1.8h1m-.9.4h1m.5.1h1m1.3 2.1h1m-.5.3h1m4.4-1h1m-22 3.5h1m-.5-.4h1m.1-2h1m1.6 1.1h1m-1-.2h1m-.4-.7h1m-.9 2h1m-.7.4h1m-.9.1h1m-.5-1h1m-.4 1.1h1m-.9-2.3h1m-.7 1.7h1m.1-2.2h1m-.6.9h1m-.5.9h1m-.7-1.8h1m-.9.1h1m-.9 1.9h1m-1 .1h1m-.4-.4h1m-.7.8h1m-.8-1.7h1m-.4-.3h1m-.5 1.3h1m-.8-.7h1m-.2-1.1h1m.1.7h1m-1 1.4h1m-.9-1.3h1m-.3-.8h1m-.7 1.8h1m-.6.8h1m1.8-1.8h1m.9 1.4h1m-22.3 3.5h1m.6-2.3h1m-.9 1.5h1m-.6-.7h1m-.8 1.3h1m-.5-.1h1m-.7-2.3h1m-.6 0h1m.7.5h1m-.6-.1h1m-.2.5h1m.2-.9h1m-.6 1.2h1m-.8 0h1m-1 .1h1m-1-1.3h1m.2 1.7h1m-.1.2h1m-.4-1.9h1m-.7 1.9h1m-.9-2h1m-.7.1h1m-.9 1.8h1m-.9-.9h1m-.9-.1h1m-.4-.9h1m-.9 0h1m-1 .3h1m-.7 1h1m-.5 1.2h1m-.8.1h1m-.9-1.9h1m-.9.2h1m1.2.4h1m.7-1.2h1m-1 1.1h1m1 1h1m.9-.2h1m-23 2.6h1m2.1.5h1m-.5 0h1m-.4-.6h1m-.1 1.4h1m1.3-2.5h1m.2.4h1m.3-.1h1m-.4 1.9h1m-.1.2h1m-.5-.1h1m.1-2.6h1m-.4.7h1m-.8.8h1m-.4-.2h1m-1-.5h1m.1-.3h1m-.9 1.6h1m.5-1.9h1m-19 3.6h1m7.3 1.6h1m.4-2.5h1m2.4 1.8h1m0-1.2h1m-.2-.1h1m3 2.2h1m4.3-2.3h1m-15.4 2.8h1" stroke="#2a1ca0" stroke-opacity="0.5"/>
<path d="M167.4 278.1h1m15.8-.9h1m-16 3.5h1m1.8-.5h1m2.4 1.1h1m-.6-.7h1m-.6 1.2h1m-.4-.4h1m-.7-1.1h1m-.4.6h1m1.5-.9h1m-.4 1h1m0 .8h1m-19.2.8h1m1.3 1.5h1m-1-.6h1m1.8 1.4h1m3.1-.3h1m-.9-.3h1m-.8-.1h1m1.1.4h1m1-2.3h1m.9 1.7h1m4 .2h1m-19.7 1.2h1m2.4.3h1m.5.3h1m-.6 1.4h1m-.9.1h1m.1-1.3h1m-.4 1.1h1m.8-1.5h1m-.6 2.1h1m-.9-1.9h1m-.9-.1h1m-.3 1.5h1m-.6.4h1m-.3-.6h1m-.6-2h1m-.1 2.6h1m-.3-.5h1m-.8-1.2h1m-.5.6h1m-.5-1.2h1m-.6.7h1m.9-.5h1m-.6 1.7h1m1.1-2.3h1m-.4 1h1m-25.1 3.6h1m1.2-1.6h1m3.4.3h1m-.7 2h1m.1-1h1m-.3 1.5h1m1.2-1.4h1m.3.4h1m-.3.8h1m-.9-2.6h1m-.8 2.2h1m-.9-.4h1m-.7-1.4h1m-.9 2.2h1m-.8-.5h1m.1-1.5h1m.3 1.3h1m-.7-1.1h1m.6-.1h1m-.1 1h1m-.3-.6h1m-.6-.9h1m-.8 1.7h1m1.1-1.5h1m-.2-.5h1m-.4.5h1m-.7.2h1m-.2 1.3h1m-.4-.1h1m-.4-.2h1m-27.8 1.4h1m6.3.4h1m.3.8h1m-.9-.5h1m.2 2h1m-.9-.6h1m-.9-.4h1m.6-1.5h1m-.6.5h1m-.5-.2h1m-.3 1.4h1m.3.6h1m-.8-1.6h1m-1-1h1m-.5 1.1h1m-1-.1h1m.4 0h1m-.4-.8h1m-.7.5h1m-.8-.6h1m0 1.8h1m.3.3h1m-.7 0h1m-.8-1.9h1m-.6 0h1m-.5.9h1m2.9.2h1m-1-.8h1m3 1.7h1m-20.2 1.9h1m-.7.5h1m-.6-1.6h1m.1.9h1m.2-.8h1m-.9 1.5h1m-1 .6h1m-.1-1.9h1m0 .8h1m-.7-.5h1m-1 0h1m1 .1h1m-.8 0h1m-.5.7h1m-.6.1h1m1.5.5h1m-.8.4h1m-.6.4h1m2.3-2.2h1m-18 4.3h1m1.6.9h1m.2-1.9h1m-.5-.3h1m1.2.2h1m-.7-.5h1m2.2-.3h1m1 1.3h1m-.9 1.2h1m2 .1h1m-11 .9h1m.4 1.8h1" stroke="#2a1ca0" stroke-opacity="0.5"/>
<path d="M175 281.8h1m-.4-1.3h1m-.4.5h1m-1 .3h1m2.1.1h1m-.4.5h1m1.3-.2h1m2.7-.3h1m-23.3 3.5h1m4.1-2.9h1m1.4.6h1m-.3 1.4h1m-.3.5h1m-.3-.6h1m1.7-.2h1m.2-1.3h1m-.5.4h1m-.9 2.1h1m.2-1.6h1m-.4-.2h1m-.7.4h1m.5 1.2h1m-1 0h1m-.3-.5h1m3.5.1h1m-28.1 1.1h1m2.3 1.1h1m2.3.8h1m-.7.4h1m0-1.4h1m.1-.7h1m-1 .3h1m.2 1.3h1m-.7.6h1m-.3-2.2h1m-1 .9h1m-.7 1.2h1m-.9-.8h1m1.5-1.8h1m-1 1.7h1m-.8-1.6h1m-.8 1.3h1m-.8.8h1m-.7-.4h1m-.9.7h1m-.4.2h1m1.6-1.8h1m-.9-.5h1m-.7 1.2h1m-.5 1.1h1m-.2-1.7h1m-.7-.7h1m1.3 2.5h1m-.7 0h1m-.8-.8h1m1.7.3h1m1.1-1.8h1m.4 1.3h1m.9-.8h1m-30.1 4.7h1m6.3-1.9h1m.7.7h1m-.9-.5h1m-.6.7h1m.1.2h1m-.8-2h1m-.6 2h1m-.8-2h1m-.6.6h1m.4.9h1m-.9-.2h1m-.4-1.3h1m-.8 2.7h1m-.4-2.5h1m.6 1.6h1m-.8-.5h1m0 .9h1m-.2.5h1m.9 0h1m-1-.3h1m-.3-2.2h1m3 .5h1m-22.5 3.9h1m1-.7h1m.4 1.9h1m-.2-1.9h1m.4 1.9h1m-.5-.2h1m.1-.1h1m-.9-.7h1m.6.1h1m-.6-1.6h1m-.8 1.9h1m-1-1.1h1m-1-1h1m-.9 2.5h1m-.5-1.8h1m-.1 1.5h1m-.6-1.4h1m-.3.1h1m0-.1h1m.3.9h1m-.1-1.6h1m-.2 2.7h1m-.9-2.5h1m-1 1.3h1m-.4-.1h1m2.6.8h1m.9-.1h1m0-2h1m1.5.3h1m-26.7 3.7h1m.9.8h1m1.2-1.3h1m-.4.8h1m1.3-1.2h1m-.6.7h1m-.9.7h1m-.1-.8h1m-.2.4h1m-.9.4h1m-.6.3h1m-.7-1.9h1m-.2.3h1m-.1-.3h1m-.6 1.8h1m-.3-.2h1m0-.1h1m-.2-1.7h1m-.8 2.1h1m2.4-.3h1m1.4-1.2h1m-16.5 4.4h1m.3-1.4h1m0 1.3h1m2.8-1.6h1m1.7 1.5h1m-16.6 2.6h1m8.2-.6h1" stroke="#2a1ca0" stroke-opacity="0.5"/>
<path d="M177.2 275.5h1m3.2-2.1h1m7.5 2.5h1m-24.1.9h1m16.8 1.3h1m-.8-2.1h1m4.4.9h1m7.1 1.4h1m-28.2 1.6h1m-.5.1h1m10.9-1h1m2.3 2.7h1m.6-.5h1m-25.4 2.6h1m5.9-.6h1m1.6.9h1m.2-.6h1m2.2-1.1h1m-1-.2h1m.1 1.2h1m2-.1h1m2.1-1h1m1.5 2.2h1m.1.2h1m-23.2 2.3h1m2.1-.4h1m-1 1.1h1m-.4-2.7h1m4 1.7h1m.6.6h1m-.5.3h1m4.2-.6h1m2.4.4h1m-.9-.5h1m-.7.8h1m2.5-1.3h1m-.8.6h1m-30.7 1.8h1m-.4 1.7h1m4.4-1.3h1m1.3-1h1m-1 1.9h1m.6 0h1m-.6-.5h1m-.6-1.6h1m.3 1.7h1m3.8-.6h1m.4.6h1m2.8-1.1h1m5.9.7h1m-32.4 4.1h1m10.6-2.2h1m-.6 2.4h1m-.1-.4h1m-.7-.3h1m.5-.3h1m1.9-1h1m3.8 1.7h1m-.1-1.5h1m4.3 1.1h1m.6-.7h1m6.4 1.1h1m-36.1 2.3h1m8.6-1.1h1m3.6 1.7h1m.6-2.1h1m.3 1h1m2.2-.7h1m-.3 1.3h1m-.8-.2h1m-10.2 3.3h1m4.3-1.4h1m-.1-.1h1m-.6.9h1m10.9-.3h1m-20.3 2.7h1m10.2 2.3h1m3.6-2.2h1" stroke="#4a40a8" stroke-opacity="0.5"/>
<path d="M177.4 272.8h1m1.8-.1h1m-10.8 2h1m.4-.7h1m18.6 1.3h1m-21.8 3.4h1m5.5-2h1m-5.5 3.5h1m2.7-.8h1m1.4.5h1m4 1.8h1m-13.3 2.8h1m5.2-.7h1m-.8-.7h1m2.2 1.3h1m-.3-.5h1m6.1.5h1m-19.9.8h1m.6.2h1m.2.2h1m-1 0h1m.7 2.3h1m-.1-1.5h1m.5 1.2h1m2-1.3h1m-.6 1.3h1m.6-1.5h1m2.4.5h1m9-.4h1m-.9.9h1m-37.3 1.4h1m.6.9h1m2.3-1.2h1m2 1.2h1m1.6.7h1m-.8-1.4h1m-.7-.6h1m.3 2.1h1m2.4-.5h1m-.3-1.1h1m-.7 1.7h1m-.5.2h1m.2-1.9h1m2.8 1.9h1m.8-.8h1m.9.4h1m4.7-1.6h1m6.9-.1h1m-38 2.6h1m2.8 1.6h1m-.1.8h1m0 0h1m4.4-2h1m-.7 1.6h1m-.8-1.7h1m1 2.2h1m0-1.2h1m0 1.6h1m2.9-2.2h1m.3 1h1m.3.8h1m5.1-.5h1m-18.9 3.3h1m2.1-.1h1m-.8-1.4h1m.8-.3h1m6.4.7h1m-1 .5h1m-.1.2h1m5.2-1h1m-22.6 2.9h1m3-.8h1m1.3 1.6h1m4-.3h1m.9.3h1m-.1.3h1m-4.9 1.3h1m.2 2.3h1" stroke="#4a40a8" stroke-opacity="0.5"/>
<path d="M169.5 272.3h1m7.6 6h1m1.3.2h1m8-1.1h1m-25.2 2.8h1m14.5-.8h1m-.4 2.3h1m15-.7h1m-38.3 3.9h1m8.2-1.1h1m-.7.2h1m5.2-.7h1m3.2.4h1m3.2-.5h1m5.6 1.5h1m1.3-.7h1m-29.3 1.9h1m1.6.8h1m1 0h1m3.3-.6h1m.1.9h1m-.4.9h1m-.3-1.5h1m-.5 1.5h1m4.7-2.1h1m4.4 1.2h1m-.9 0h1m9.1-1.1h1m-37.9 4.3h1m.8.1h1m.2 0h1m.1-1.2h1m2.5 1.5h1m-.6-2.6h1m6.5 1.8h1m2.3.4h1m2.4-1.3h1m-.9-.9h1m1.1 2.9h1m3.8-1.3h1m3.7 1.3h1m4.1-1.2h1m2.9-.2h1m-43.5 3.2h1m6.8 0h1m-.3.4h1m2.5-1.9h1m.3-.1h1m2.5 1.1h1m5.5 1.3h1m-.7.2h1m-.1-1.9h1m.2 1.4h1m-25.6 2.5h1m7.8.3h1m2.9-.2h1m-.2-.6h1m-.7-.8h1m.2 0h1m-.5 2.4h1m-.6 0h1m.1-2.7h1m2 .9h1m6.7 1.2h1m-.6-1.3h1m.4-.7h1m-.7 1.3h1m-27.3 2.7h1m7.4 0h1m.1-.8h1m.5.5h1m.5 1.9h1m2.7-.6h1m14.5.6h1m-25.3 1.2h1m5.2.3h1m3.4-.6h1m-5.8 2.4h1" stroke="#4a40a8" stroke-opacity="0.5"/>
<path d="M160.8 269.4h1m14.6 6.5h1m-15.4 2.3h1m7.9-2.2h1m16.6 2.9h1m-.7 0h1m-26.6.1h1m9 1.8h1m-.4.4h1m7.5-1h1m-24.8 2.9h1m.7.7h1m3.8-.7h1m11.2-.4h1m1 .6h1m4.8 1.5h1m.6-1.9h1m1.7-.1h1m-.3-.2h1m-32.1 4.8h1m4.2 0h1m7.3.3h1m-.3-2.3h1m1 1.2h1m-.4.5h1m.1.3h1m-.5-.3h1m-.6 0h1m2.7.6h1m.6.1h1m1.7-2.3h1m.8.5h1m-25.3 2.5h1m0 .7h1m5 1.7h1m1.6-2h1m2.4 1.6h1m.2.3h1m1.1-.5h1m-.8-.2h1m-.3-1.1h1m-.5-.5h1m.4.3h1m-.2 2h1m1.1-.4h1m1.7-1.3h1m-21.8 2.1h1m3.1 1h1m1.8.5h1m0 0h1m.1-1.2h1m-.5-.4h1m-.8 2.6h1m.1-2h1m-.8 1.6h1m1.2-1.7h1m-.8-.4h1m-.2 1h1m-.5.6h1m5.4-.6h1m5.5 1.5h1m-27.3 2.6h1m3.3-1.9h1m.3 1.1h1m-.2.1h1m.6-1.6h1m.3 0h1m2.3 2.7h1m5.3-.1h1m1.8-1.2h1m-25.4 2.7h1m0-.4h1m6.7 1.4h1m-3.9 1.5h1m2.3 1.4h1m-.9-1.9h1m2-.1h1" stroke="#4a40a8" stroke-opacity="0.5"/>
<path d="M172.9 275.4h1m3.7 2.3h1m-.6-.5h1m9.8 1.5h1m-28.8 2.5h1m6.2.3h1m2-2.3h1m-.3-.1h1m2.2 1.9h1m.4.2h1m-.5.6h1m2.6-1.5h1m6.9 0h1m-30.5 3.4h1m7.6.1h1m0 .2h1m3 .3h1m-1-.9h1m2.7-.8h1m2.9 1.1h1m3.1-.8h1m.1 1.9h1m.5-1.7h1m-21.5 4.2h1m5.8-2.3h1m2 1.4h1m-.5.6h1m-.4-2h1m-.3 1h1m-.2.2h1m-.2 1h1m2.9-.8h1m.3-1.4h1m1.7 1h1m4.5-.9h1m-29.1 5.1h1m.2-.6h1m-1 .2h1m2.9-.6h1m2.6.7h1m4.1-.9h1m.1 1.1h1m.9-.7h1m-.9 1.1h1m.2-2.2h1m-1 .6h1m-.4 1.1h1m.9-1.7h1m1.3.7h1m-.9 0h1m4.1-.1h1m-20 3.5h1m.4-1.4h1m-.5 2.4h1m-1-1.1h1m.4.9h1m.4-1.1h1m3.6.2h1m.6-1.1h1m1.9 2.6h1m1.4-2h1m-24.7 3.6h1m3.7.4h1m3.2-1.3h1m1.9-.4h1m6 1.7h1m.1-1.6h1m2.1-.2h1m-19.4 3.5h1m4.2.1h1m.4-.1h1m-.7.2h1m-3.2 4.8h1m-.2-1.3h1m1.3 1.3h1m3.4-1.8h1m5.1 1.1h1" stroke="#4a40a8" stroke-opacity="0.5"/>
<path d="M329.3 219.5h1.3m16.1 1.1h1.3m-30.7 2.5h1.3m18.7 1.1h1.3m-24.5 3.5h1.3m21.9-1.2h1.3m-34.3 2.5h1.3m38.9 1.7h1.3m7-1.9h1.3m-29.6 4.4h1.3m2.5 3.1h1.3m1.3-1.7h1.3m-19.4 2.9h1.3m-.6.7h1.3m11.3 1.2h1.3m-1.2-1.5h1.3m4 .5h1.3m.5-.3h1.3m5.5 1.6h1.3m5-.6h1.3m-36.2 2.3h1.3m10.1-.2h1.3m.4.1h1.3m-.8 1.6h1.3m3.5-1.5h1.3m-.8.7h1.3m2.4-.2h1.3m-1.3-.4h1.3m2.7.4h1.3m-1 .1h1.3m-27.5 3.8h1.3m2.1-1.2h1.3m2.2.7h1.3m2.1-1.2h1.3m3.7-1h1.3m-1.2.8h1.3m1.2-.1h1.3m1 1.6h1.3m.3.5h1.3m-1.2-2.5h1.3m8.9.9h1.3m-33.1 4.5h1.3m8.1-2.8h1.3m-.6 2h1.3m-.5.1h1.3m-.9-1h1.3m.6-.1h1.3m-.9 0h1.3m.7-.2h1.3m-1.1 2h1.3m-1.1-1.9h1.3m1.7.9h1.3m-1.2-1h1.3m-1.1-.1h1.3m.2 1.4h1.3m-1.1.3h1.3m-.9-.4h1.3m-.4-.9h1.3m-.7 0h1.3m2.1.8h1.3m8.7-.5h1.3m-1.3-.7h1.3m-44.2 5h1.3m4.2-.9h1.3m3.8-1.8h1.3m-.9 2.1h1.3m4.7-2h1.3m-.7.1h1.3m-1.3 1.6h1.3m-.2.6h1.3m-1.3-1.4h1.3m0 0h1.3m-.4-.5h1.3m.2 1.1h1.3m0 .2h1.3m-.8.7h1.3m-1.1-2.1h1.3m-1.2 1.6h1.3m-1.2.7h1.3m-.9.2h1.3m-.8-2.4h1.3m1.4.2h1.3m-1.3-.3h1.3m-1.1 2h1.3m-.9-1.2h1.3m1.5.2h1.3m.3.8h1.3m.6-.4h1.3m1.8 0h1.3m.2-.9h1.3m-.6 1.9h1.3m2.3-2.7h1.3m-38 3.2h1.3m2.7 1.7h1.3m.1-2h1.3m.7 1.1h1.3m-.2.9h1.3m-1 .3h1.3m-.2.4h1.3m.9-2.4h1.3m1.2 1.6h1.3m-.7.2h1.3m-.6.7h1.3m.9-.5h1.3m-.2-1.5h1.3m-1.1 1.4h1.3m-.5-.7h1.3m.8-.3h1.3m-1.2 1.4h1.3m-1-2h1.3m3.3.8h1.3m-1.3.5h1.3m-.5-1.4h1.3m-.3 2.2h1.3m-1-1.1h1.3m2.7-1.1h1.3m-1.1 2.2h1.3m-38.5 1.8h1.3m3.3.3h1.3m-1.2.2h1.3m.8-2h1.3m-.6 1.9h1.3m-1.2-.3h1.3m-.3 1.2h1.3m.1-.3h1.3m-1.1-.2h1.3m-1.1-2.1h1.3m-.4 1.6h1.3m.1.5h1.3m.4-1.9h1.3m-1.3 1h1.3m-1-.5h1.3m-.4.3h1.3m-1 .9h1.3m.2.2h1.3m-.9.1h1.3m-.9-.2h1.3m-.5-1.9h1.3m-.5 2.4h1.3m0-.4h1.3m-.9-.3h1.3m-.9-.5h1.3m-1.3-.1h1.3m-1.1.4h1.3m-.9-1.7h1.3m.9 1.6h1.3m-1.2-.4h1.3m.5 0h1.3m.3.9h1.3m.6-1.7h1.3m1.5 2h1.3m.6-1.3h1.3m-.6.4h1.3m1.9-1.6h1.3m5.9 1.4h1.3m-53.6 4.4h1.3m6.9-.9h1.3m.3-1.6h1.3m.3 2.4h1.3m2.1-1.6h1.3m-.4-.1h1.3m-.9-.4h1.3m-1.2.4h1.3m.1 1.6h1.3m.7 0h1.3m-.4-1.3h1.3m-.9 1.3h1.3m-.9-1.9h1.3m-1.3 2h1.3m.6-.4h1.3m-.6-.6h1.3m-.4-.5h1.3m-.8.5h1.3m-1.2-.7h1.3m-.4-.4h1.3m-.9 2.1h1.3m-.9-.4h1.3m-.7-2h1.3m-1.1 1.1h1.3m-1.2-.3h1.3m.1-.2h1.3m-.8 1.2h1.3m-.9-.6h1.3m-1.3 1.1h1.3m-1.2-1.1h1.3m-.5-.3h1.3m-.8-1h1.3m-1.2.1h1.3m-.6 1.1h1.3m-1.3-1.4h1.3m-.2.5h1.3m.7 0h1.3m-.2 2.1h1.3m.5-1h1.3m-.5 1.2h1.3m0-1.4h1.3m2.5.1h1.3m-47.8 1.5h1.3m7.5.8h1.3m-.5 1.6h1.3m.6-.8h1.3m2.6.4h1.3m-.8-1.8h1.3m1.2 1.9h1.3m2.3.5h1.3m-.9-2.6h1.3m-.3 1h1.3m-1.1 1.8h1.3m-1-2h1.3m1.7 1.5h1.3m-1-.9h1.3m-.6-1.1h1.3m-1 1.2h1.3m.7-.6h1.3m-.7-.6h1.3m-.2.8h1.3m-1.2 1.5h1.3m-.5-.9h1.3m-.1-.7h1.3m-1.2-.8h1.3m-1.2 1.4h1.3m-.3-.9h1.3m-1.1 1.4h1.3m-1-.2h1.3m-.1-1.9h1.3m1.6.9h1.3m-1.2 1.5h1.3m-1-.4h1.3m-.6-.6h1.3m-1-1.1h1.3m-1.3 1.2h1.3m2.2-1.1h1.3m-1.3.7h1.3m1.6 1.4h1.3m3.9-.3h1.3m-48 1.1h1.3m-1 1.7h1.3m3.2-1.3h1.3m4.4.3h1.3m-.3-.2h1.3m-1.1-.6h1.3m.1 2.2h1.3m-.2-.2h1.3m.1-.1h1.3m-1.3-1h1.3m-1.2-1h1.3m-1.1 1.9h1.3m.2-1.3h1.3m-.5.6h1.3m-1-1.1h1.3m.8 1.4h1.3m-1-.8h1.3m-.3 1.6h1.3m-.3-.7h1.3m-.7-.2h1.3m-1.3.6h1.3m2.4-2.1h1.3m0 2.7h1.3m-.5-1.7h1.3m-1.2.7h1.3m-.3.2h1.3m1.7-.8h1.3m1.2.1h1.3m-.5 1.1h1.3m-.9-1.8h1.3m5.3 1.3h1.3m-42.8 2.7h1.3m-.2 1.4h1.3m-.5-.6h1.3m0 .1h1.3m2.3-.2h1.3m-1.1.6h1.3m-.5-1.4h1.3m-1.1.3h1.3m.4-1.1h1.3m-.9.1h1.3m-.8 1.8h1.3m-1-.5h1.3m.8-1.5h1.3m-1.2.2h1.3m-.8-.1h1.3m-1.1 1.3h1.3m-1.2-.3h1.3m0-.2h1.3m.8-1.1h1.3m.1.9h1.3m-.5-1.2h1.3m-1 2.5h1.3m-.8.2h1.3m.5-2h1.3m-1.1.8h1.3m-.5 1h1.3m-.8-.4h1.3m-.3.4h1.3m-.2-1.4h1.3m-.7-.3h1.3m-1.2.6h1.3m-.7 1.4h1.3m-1.2-1.4h1.3m-.8.3h1.3m-.9 0h1.3m-1 .2h1.3m-.9-1.6h1.3m-.3.6h1.3m-1.1 1h1.3m1.7 1h1.3m-1.2-2.3h1.3m1.9 1.2h1.3m-30.5 2h1.3m.4-.2h1.3m3.1.9h1.3m.3-1.5h1.3m-.9 1.9h1.3m-.7.8h1.3m-.9-1.1h1.3m-.7.6h1.3m-1 .6h1.3m.7-2.7h1.3m.3.9h1.3m2.3-.3h1.3m-1 1.2h1.3m.2.9h1.3m-.5-1.9h1.3m-.9.3h1.3m-.1-.2h1.3m2.1.6h1.3m3-1.5h1.3m3.6.9h1.3m-43.5 2h1.3m5.8 1h1.3m2.8 1.2h1.3m.8-1.4h1.3m-.3.9h1.3m-1.1.8h1.3m-.1-1.1h1.3m4.3.2h1.3m-.2.7h1.3m1.7.1h1.3m.2.5h1.3m6.7-2.7h1.3m-.5.3h1.3m-.6-.5h1.3m0 .4h1.3m-.9 2.5h1.3m-41 2.2h1.3m4.4.4h1.3m-1.3-1.2h1.3m-10.3 3.8h1.3m20-1.2h1.3m.5-.2h1.3m.9 1.8h1.3m4.7.1h1.3m-30.8 1.3h1.3m12.4 1.3h1.3m6.4-1.4h1.3m-10.2 2.2h1.3m9.8.3h1.3m0 0h1.3m3.4 3h1.3m-8.8 4.6h1.3" stroke="#e02c14" stroke-opacity="0.62" stroke-width="1.3"/>
<path d="M308.6 220.1h1.3m.9 2.8h1.3m18.1 7.9h1.3m0-.8h1.3m-.9-.1h1.3m-38.3 1.9h1.3m21 1.9h1.3m14.2-2.6h1.3m6.6 1.4h1.3m-52.8 3.2h1.3m21.3-.9h1.3m8.2 4.4h1.3m-1 0h1.3m7.3.4h1.3m.5-1.1h1.3m.9.8h1.3m1.2-.5h1.3m1.6-.9h1.3m.2-.5h1.3m1.7.5h1.3m6.6.8h1.3m0 .5h1.3m-43 2.6h1.3m2.8-1.3h1.3m-1.2 2.3h1.3m-.9-2.2h1.3m6.5 2.2h1.3m.9-.5h1.3m-1.1.5h1.3m-.2-1.1h1.3m1.9 1.1h1.3m.5-1.3h1.3m-1.1 1.3h1.3m1.2-2.8h1.3m.3 2.2h1.3m-1.3-1h1.3m-.6-.7h1.3m-.2-.3h1.3m6.9 2.2h1.3m3.8-.3h1.3m-39.7 2.2h1.3m1.9.9h1.3m4.1 0h1.3m1.5-.2h1.3m-.6-1.3h1.3m-.9 1.7h1.3m3.6-.2h1.3m.4.2h1.3m-1.1-.9h1.3m1.7-1.2h1.3m4.7 2.4h1.3m1-2.2h1.3m6.1 1.2h1.3m-50 1.9h1.3m5.2.7h1.3m5.3.6h1.3m3.5-.2h1.3m-1.1 1h1.3m-.7-.8h1.3m-.8-1.8h1.3m2 1.8h1.3m-.1.6h1.3m.4-.3h1.3m.5-.7h1.3m.1 1.1h1.3m-1.2-.5h1.3m19.7-1.8h1.3m-45.5 5.2h1.3m.6-.9h1.3m1.8-.2h1.3m.6-1.3h1.3m2.5.6h1.3m2.2.1h1.3m-1.1 1.4h1.3m-1.1 0h1.3m-.6-1h1.3m-.4 0h1.3m-.3-.9h1.3m-1.1 1.2h1.3m-.5 0h1.3m-1.3 0h1.3m-.9-.2h1.3m-1.2-1.3h1.3m-.4 1.9h1.3m-.7.3h1.3m-1-1.4h1.3m2.9 1.2h1.3m-1.2-1h1.3m2.1-.1h1.3m.4.7h1.3m.2-.6h1.3m2.9.1h1.3m.5 1.7h1.3m-43.8 1.8h1.3m10.3-.8h1.3m-.5 2.1h1.3m-.9-.4h1.3m1.9-.6h1.3m-1.2.7h1.3m1.3 0h1.3m-1.2-2h1.3m-.3.9h1.3m-.1.6h1.3m-.9-.1h1.3m.7-1.1h1.3m0 1.7h1.3m.3-.4h1.3m-.5-2h1.3m.8.4h1.3m-.7 2h1.3m-1.2-.5h1.3m-1 .2h1.3m.2-.8h1.3m-1 1.3h1.3m-1-2.4h1.3m0 .3h1.3m.5.4h1.3m-1.3.5h1.3m-.6-.4h1.3m-.3-.7h1.3m-.3 1.9h1.3m-.8-1h1.3m1.9 1.4h1.3m-.2-.7h1.3m-.8.4h1.3m-39.2 1.6h1.3m2.1 1.8h1.3m-.8-.7h1.3m-.4-1.5h1.3m1 1.3h1.3m-.1.8h1.3m-.1-1.5h1.3m2.6-1.3h1.3m-1.3 1h1.3m-1.2 1.9h1.3m-.5-2.8h1.3m-1.1.4h1.3m-.3 1.3h1.3m-.5-1.7h1.3m-1.2 1.3h1.3m-1.2-1.4h1.3m-1.1 1h1.3m-1 .1h1.3m-.2-.1h1.3m-1-.3h1.3m-.3 1.8h1.3m.3-2h1.3m-.7-.3h1.3m-.8.7h1.3m-1.2.9h1.3m-.7-1.2h1.3m-.6 1.4h1.3m-.5.3h1.3m-.9-.3h1.3m-1.1-1.2h1.3m-1.2.5h1.3m-1-1.1h1.3m-.6.2h1.3m-1 1.1h1.3m.6.1h1.3m-.3.3h1.3m-.7-.8h1.3m-1.1 0h1.3m-.3 1.4h1.3m-.9-1.6h1.3m-.8.7h1.3m-1.3-1.1h1.3m-.9.8h1.3m1.1-.4h1.3m.3 1.8h1.3m.1-.2h1.3m7.5-1.7h1.3m-43.2 2.3h1.3m2 0h1.3m-.3 1h1.3m1.3-.5h1.3m-.1 1.2h1.3m.7-1.4h1.3m-1.1-.1h1.3m.4 2.6h1.3m-1.1-1.3h1.3m.6-1h1.3m.2 2h1.3m-.5-1.9h1.3m.6.9h1.3m-.7-1.4h1.3m-1 .4h1.3m-.8.1h1.3m-1.3 0h1.3m.6 1.2h1.3m-.4-.4h1.3m-1.1.5h1.3m-.8-.2h1.3m0 .1h1.3m-.8-1.6h1.3m1.3 2.6h1.3m.6-1.8h1.3m-.3 1.5h1.3m-42.8 1.7h1.3m-1.2.3h1.3m6.5.5h1.3m1.3-.1h1.3m-.2-.1h1.3m.2-1.7h1.3m-1.2 1.2h1.3m.7 1.2h1.3m1-.9h1.3m-.7.9h1.3m-.5-.8h1.3m-.1-.5h1.3m-1.1-.2h1.3m-.5 0h1.3m.8 1.5h1.3m-.7-2h1.3m-.9.1h1.3m-1 2.2h1.3m-1.2-.1h1.3m-.4-.4h1.3m0-2.1h1.3m-.5.4h1.3m-1 .9h1.3m-.5 0h1.3m-1.1 1h1.3m-1.2-.5h1.3m-.8-1.2h1.3m-1.1.6h1.3m-1.1-1.2h1.3m-.9 1.4h1.3m-1.3-1.6h1.3m-.7 1.7h1.3m-.9.6h1.3m-.7 0h1.3m-1-2.3h1.3m-.2 2.4h1.3m.5-.2h1.3m-.8-1.5h1.3m-1 .2h1.3m-.4.8h1.3m-.6-1.8h1.3m0 .9h1.3m1.5 1.1h1.3m-35.8 2.5h1.3m2.4 1h1.3m2.8-2h1.3m.1-.2h1.3m-.9.2h1.3m.8 1.6h1.3m-1-1.1h1.3m-.2-.9h1.3m-.5 1.4h1.3m.8.2h1.3m-.7-1.7h1.3m-.8.3h1.3m-.9 1.1h1.3m-.2.7h1.3m-.7-2h1.3m-.8 2.7h1.3m0-2.8h1.3m-.2 1.1h1.3m-.9.9h1.3m.8.9h1.3m-.9-2.8h1.3m-1 1.7h1.3m.5.2h1.3m-.8.8h1.3m-.9-1h1.3m.2-1.6h1.3m.8 1.5h1.3m1.1-1.1h1.3m.5 2h1.3m-49.1 2.7h1.3m11-.2h1.3m.1-1.9h1.3m3.2.9h1.3m-.7-.5h1.3m-.9 0h1.3m.2 1.8h1.3m-1.1-1.1h1.3m-1.2.5h1.3m-.3-.4h1.3m.3.3h1.3m2.3-.8h1.3m-1.2 1.2h1.3m-.6-1.3h1.3m.4 1.4h1.3m-.5-1.1h1.3m-.3.4h1.3m-.3 1.1h1.3m2-.3h1.3m-.2.5h1.3m-.7-1.1h1.3m-1.3-1.7h1.3m-.6.2h1.3m-1.2 1.3h1.3m-1.1.2h1.3m-1.3-1.5h1.3m-.6 1h1.3m.1-1h1.3m-.6 1h1.3m-1.1 1.1h1.3m5.9-1.1h1.3m-1.3-.6h1.3m.7 1.4h1.3m-40 1.8h1.3m8 1.7h1.3m1.5-1.6h1.3m1-.6h1.3m4.5 1.3h1.3m-1.2.3h1.3m.2-.6h1.3m-.9 1.6h1.3m1.5-.2h1.3m4-2.5h1.3m1.2 2.4h1.3m-23.9 2.8h1.3m2.1-1.8h1.3m-.7.6h1.3m.8-.1h1.3m-1.1-.7h1.3m-1 0h1.3m2.3-.1h1.3m.3-.2h1.3m0 2.2h1.3m-1.3-1.5h1.3m-.4.1h1.3m.1 1.8h1.3m-1-1.6h1.3m-.8-.7h1.3m.1 1.4h1.3m-1-1.8h1.3m1.7.1h1.3m-26.7 3.1h1.3m.8 1.4h1.3m4.1 1.1h1.3m-1.1-2.2h1.3m-1.3.7h1.3m1.8-.4h1.3m.7 1h1.3m-.8 1h1.3m7.4-1.1h1.3m1.7-1.4h1.3m7.8.6h1.3m-39 3.8h1.3m4.6-1h1.3m2 .1h1.3m1.5 1.1h1.3m-.8 1h1.3m3.5-1.5h1.3m.2.5h1.3m.4-.7h1.3m2 1.5h1.3m-.4 0h1.3m-24.6 1.9h1.3m8.6-.3h1.3m6.8-.2h1.3m7.3-.1h1.3m-16.4 2.3h1.3m2.7.2h1.3m-14 5h1.3m19.3 13.1h1.3" stroke="#e02c14" stroke-opacity="0.62" stroke-width="1.3"/>
<path d="M304 217.3h1.3m26.4 7h1.3m2.9-.4h1.3m-.3 3.7h1.3m-9.7 3h1.3m-3.5 1.4h1.3m24 1.6h1.3m-27.5 1.5h1.3m2.8 1.4h1.3m.2-.7h1.3m-.6 0h1.3m1.3 1.1h1.3m.8-1.8h1.3m14 1.6h1.3m-44.3 1h1.3m9.6-.3h1.3m8.3 2.1h1.3m2.7.2h1.3m.4-1.6h1.3m-19.4 2.2h1.3m-.7 2.3h1.3m1.9.1h1.3m.8-1h1.3m-.2.8h1.3m-1.2-1.5h1.3m-.2 0h1.3m-.4.4h1.3m-.8-.2h1.3m2 1.6h1.3m-1.1-2.8h1.3m.7.3h1.3m-.1-.3h1.3m3.6 1.5h1.3m5.1.1h1.3m1.7 1.3h1.3m-39.1 1.7h1.3m4.6-.3h1.3m-.5-1h1.3m2.1 1.9h1.3m1.1.5h1.3m3.7-2.1h1.3m.2.2h1.3m6.6 0h1.3m-.2.2h1.3m.1 1.6h1.3m1.1-2h1.3m-.1.5h1.3m.6.4h1.3m-44.5 2.8h1.3m1.6-1.3h1.3m2.3 2.8h1.3m8.3-1.9h1.3m3.6 1.6h1.3m2.4-1.2h1.3m-1.2 1.6h1.3m-1.1 0h1.3m1.3-2.7h1.3m.2 1.7h1.3m-1.3-.2h1.3m-1-.5h1.3m-.3 1.1h1.3m.4.3h1.3m-1.2-2.1h1.3m-1 2.4h1.3m-.5-2.3h1.3m-1 1.7h1.3m-1.1.3h1.3m-.6-.7h1.3m-1.1.6h1.3m3.2-1.9h1.3m-.7 1.1h1.3m.9-.1h1.3m.2-.9h1.3m-.6 2.2h1.3m2.6-1.7h1.3m-.2-.3h1.3m-1.2-.6h1.3m-40.4 5.2h1.3m.3-2.5h1.3m-.3 2.1h1.3m.2-1.2h1.3m1.3-.7h1.3m-.4.2h1.3m-.6 2.5h1.3m.5-2.3h1.3m-.7.5h1.3m-1 .6h1.3m-.5 1h1.3m-.7-2.1h1.3m-.6.1h1.3m-.5-.5h1.3m0 2.6h1.3m-.8-1.8h1.3m-.6 1.2h1.3m1.4-1.1h1.3m0 .3h1.3m1.4 1.3h1.3m.8-2.4h1.3m-1.2.1h1.3m-.9 2.1h1.3m0-1.7h1.3m-.5-.8h1.3m.9 1.4h1.3m-1.1-1h1.3m-1.2 1.6h1.3m-20.8 1.4h1.3m-1.2.7h1.3m0 .8h1.3m-1-.1h1.3m-1.2-1.1h1.3m-.9-.4h1.3m-1.2-.3h1.3m-.3 2.2h1.3m.5-1.6h1.3m-.6.5h1.3m-.7-.2h1.3m.7-.2h1.3m-.4 2.2h1.3m-1.3-1.7h1.3m.6 1h1.3m-.1-1h1.3m-1.2-.2h1.3m-.9-1h1.3m-.2 1.5h1.3m-.9 1.4h1.3m-1.2-.4h1.3m.8-.7h1.3m-1.2-1.1h1.3m1.7 1.6h1.3m-39.4 2.3h1.3m5.2-1.4h1.3m.3 1.8h1.3m1.3-.7h1.3m-.8-1.1h1.3m1.8 1.8h1.3m.6.6h1.3m-1.3.1h1.3m-.2-1.9h1.3m-.6-.8h1.3m-.5.6h1.3m-.6.2h1.3m-.9-.1h1.3m1.1-.7h1.3m1.6 1.5h1.3m-.8-.8h1.3m-1.2.6h1.3m.7 1.1h1.3m0 .5h1.3m-.6-.3h1.3m.2-.1h1.3m.5-1.9h1.3m-.8.4h1.3m-.1-1h1.3m-1.2 1.2h1.3m0-.4h1.3m2.8 1.8h1.3m11.8-.8h1.3m-52.5 3.4h1.3m.1-.3h1.3m-1.2-.2h1.3m-.6-.5h1.3m8.1 1.4h1.3m1.5.1h1.3m0-.3h1.3m-.1-2.1h1.3m.5 2.1h1.3m-1-.8h1.3m-1.1-1.4h1.3m-1.3 1.3h1.3m-1.3.1h1.3m-1.2.2h1.3m-.8-.9h1.3m.9 1.9h1.3m-.2-2.1h1.3m.3 2.2h1.3m-1.1-1.7h1.3m-1.3-.8h1.3m-.5.5h1.3m1.1 1.3h1.3m-.9.2h1.3m-1.3-.8h1.3m2.1-1.5h1.3m-.4 1.8h1.3m-1.2-1.9h1.3m1 1.5h1.3m-.4.6h1.3m1.8-.1h1.3m-41.4 1.4h1.3m9.9-.3h1.3m.8 1.1h1.3m-1.2-.6h1.3m0 2.3h1.3m-1.3-1.6h1.3m0-1.2h1.3m-.7 0h1.3m-1 1h1.3m-.7.3h1.3m1.5.5h1.3m-1.3-.1h1.3m-1 .8h1.3m5-.2h1.3m-1.2-.4h1.3m-.6-.1h1.3m-1 0h1.3m-.4-.9h1.3m-.3 1.1h1.3m-1 .4h1.3m-1.2-1.8h1.3m-1.1 2.1h1.3m-1.3-.1h1.3m-.4.1h1.3m-.4-2.7h1.3m-.1-.1h1.3m0 2.8h1.3m-.6 0h1.3m4.6-2.4h1.3m-.9 2.4h1.3m2.4-.5h1.3m-36.1 1.9h1.3m.4-.6h1.3m-1.2 1.5h1.3m-1-.9h1.3m-.8-.4h1.3m-.1-.7h1.3m-.3 1.6h1.3m.1-1.2h1.3m-1 1.3h1.3m-1.1.1h1.3m-.4-.5h1.3m.1.1h1.3m-.5-.2h1.3m-.7 1.5h1.3m-.8.1h1.3m-1-.7h1.3m-1.2-1.9h1.3m-1.1 2.3h1.3m1.2.2h1.3m-.7-.4h1.3m-.5-1h1.3m-.5.4h1.3m-.5-.1h1.3m-1.2-.1h1.3m-1.2.2h1.3m-.8-.6h1.3m-.7.7h1.3m-1-.4h1.3m-.9 1.2h1.3m2.7-2.6h1.3m-.5.5h1.3m-.6 2h1.3m-.6-.8h1.3m-.7-.8h1.3m-.7-.1h1.3m-.4 1.2h1.3m-.5.8h1.3m0-.8h1.3m1.5-.4h1.3m-47 3.9h1.3m1.5-.4h1.3m-.5-1.4h1.3m1.4 1.5h1.3m.3-1.9h1.3m.1-.1h1.3m.7 2.3h1.3m1.8-1h1.3m2.6 1h1.3m0-.8h1.3m-.3-.9h1.3m-1-.4h1.3m.6-.4h1.3m-1.1 1.9h1.3m.1-1.5h1.3m.3 1h1.3m-.9.4h1.3m-1.2-1.3h1.3m-1.2 1.9h1.3m-.1-1.6h1.3m-.9 1.8h1.3m-1.3-.6h1.3m1.4-.2h1.3m-.4.8h1.3m-.8-1.8h1.3m-.1 1.2h1.3m2.2.7h1.3m-.7-2.3h1.3m-.8 1.6h1.3m-1.3-.7h1.3m2-1h1.3m-.7.6h1.3m-.5-.4h1.3m2.7-.1h1.3m-40.7 5h1.3m5.1-1.3h1.3m3.9 1h1.3m1.4.7h1.3m-1.1-2.9h1.3m2.7 1h1.3m-1.1-.7h1.3m-.6 1.6h1.3m-1 0h1.3m.8.7h1.3m.5-.9h1.3m-1.3-.6h1.3m-.6 0h1.3m-1.3.3h1.3m-1.1-.3h1.3m-1.3-.1h1.3m0 .2h1.3m-1-1h1.3m-1.2.7h1.3m-.1-.1h1.3m-1.2-.5h1.3m-.5 2.6h1.3m.1-1.5h1.3m1.9-.6h1.3m-.6-.3h1.3m3.3 1.1h1.3m5.6 0h1.3m-41.4 3.7h1.3m0-2.1h1.3m2.4 1.2h1.3m2.7-1h1.3m-.8-.2h1.3m1.8 1.8h1.3m1.9-1.3h1.3m-1.2.2h1.3m-.6.8h1.3m1.9 1h1.3m-.3-.2h1.3m1.1-2.2h1.3m-.9 2.5h1.3m-17.9 3h1.3m-1.2-1h1.3m1.6-.1h1.3m-.3-.9h1.3m1.1-.5h1.3m-1.2-.3h1.3m-.9 2.5h1.3m-1.2-1.4h1.3m1.1-.4h1.3m14.3 0h1.3m-.8-.2h1.3m-41.1 3.3h1.3m9.2.2h1.3m-.9.2h1.3m2.2.3h1.3m3.3.1h1.3m1.4-.9h1.3m-1 .9h1.3m3.1-1.4h1.3m.3-.2h1.3m.1 1.2h1.3m3.8-.5h1.3m-29.1 3.3h1.3m20.7.7h1.3m-.3-.2h1.3m-4.8 2.2h1.3m12.9-.1h1.3m-24.2 4.1h1.3m-20.6 7.8h1.3" stroke="#e02c14" stroke-opacity="0.62" stroke-width="1.3"/>
<path d="M345.8 211.9h1.3m-33.3 8.6h1.3m-4.1 4.9h1.3m3.3 1h1.3m2.2.4h1.3m2.6.5h1.3m7-.3h1.3m-.2-.4h1.3m4.7 4.1h1.3m-25.9 5.7h1.3m5 .1h1.3m1.8-1h1.3m10.3 1.2h1.3m-.6-.7h1.3m-15.2 2.7h1.3m1 .8h1.3m2.3-2.1h1.3m-.5 1.6h1.3m.6.2h1.3m.5-.8h1.3m0-.1h1.3m-29.3 4.5h1.3m10.5-1.9h1.3m-1 .5h1.3m3-.2h1.3m-.1-.1h1.3m.5 1.4h1.3m5.7-2.4h1.3m1.3 1.5h1.3m3.9-.9h1.3m4.8-.6h1.3m7.8.2h1.3m-48.9 3h1.3m1.9 1.1h1.3m5.3-1.2h1.3m-1.3 1.4h1.3m1.3.5h1.3m.8.4h1.3m-.9.4h1.3m4.3-.4h1.3m2.1-1.9h1.3m-.6 2.1h1.3m-.7-1.6h1.3m-1.2 1.2h1.3m1.2-2h1.3m1.7 2.5h1.3m5.8-.7h1.3m3.8-1.5h1.3m1.3-.6h1.3m-41.3 4.5h1.3m.2 1h1.3m6.1-2.3h1.3m-.6 1.5h1.3m.2.6h1.3m1.3-.6h1.3m-1.1 1h1.3m1.7-1.1h1.3m-1-1.2h1.3m.3-.2h1.3m-1.2 2.2h1.3m-1-2.3h1.3m-.5.5h1.3m-1.1 1h1.3m.6-.4h1.3m.3-.5h1.3m4.3 2h1.3m-1.1-1.9h1.3m1.5.4h1.3m-1.1.2h1.3m-.4.8h1.3m.7-2.2h1.3m-41 5.3h1.3m2.6-1h1.3m1.5.2h1.3m1.9-.7h1.3m.5 1.4h1.3m.3-.8h1.3m-1.3 0h1.3m-1-1.3h1.3m-1.2.1h1.3m-.8 1.8h1.3m-.5-1h1.3m-1.3 1.8h1.3m-.7-1.1h1.3m-1.2.7h1.3m.7-2.4h1.3m-1.1 1.6h1.3m-.6-.9h1.3m1.1-.4h1.3m-.8 2.6h1.3m-1.2-1h1.3m-.7.1h1.3m-.4-1.5h1.3m-.9.4h1.3m-1.2.1h1.3m-.1 0h1.3m-1-.1h1.3m-.6 1.2h1.3m0-1.2h1.3m-.9.6h1.3m-1-1h1.3m-.3.6h1.3m-.9 1.7h1.3m-.4-1.3h1.3m.6.5h1.3m1.7-.6h1.3m-36.2 2.6h1.3m1.2 0h1.3m7.6-.5h1.3m-.2.9h1.3m-.9 1.3h1.3m-.4-.5h1.3m-.8.6h1.3m.2-1h1.3m-1.1-1.3h1.3m1.1 1.8h1.3m-1.2-1.6h1.3m-1-.5h1.3m0 .7h1.3m-1.1 1.1h1.3m-.7-.4h1.3m-1.3.1h1.3m-1.2.5h1.3m-1.2-1.6h1.3m.2 2.1h1.3m-.5-1.2h1.3m-.6-.4h1.3m-1-.6h1.3m2-.1h1.3m.2 1.6h1.3m1.6-1.4h1.3m.3.9h1.3m1.1 1.2h1.3m4.3-2.1h1.3m2.9.7h1.3m-44.5 3.4h1.3m.6.5h1.3m-.7-.9h1.3m1.5-.1h1.3m.6 1.3h1.3m-.4.3h1.3m-.8-2.4h1.3m-.8 1.1h1.3m-.6 1.3h1.3m.8-.3h1.3m-.7.2h1.3m.3-1.8h1.3m-.4-.1h1.3m-.4.6h1.3m1.5-.3h1.3m-.9-.7h1.3m.3.8h1.3m-.5 1.5h1.3m-1.1-.2h1.3m.2-1.4h1.3m-.5.3h1.3m-1.3-.6h1.3m-.1-.4h1.3m-.3 2.5h1.3m-1.2-.6h1.3m.2.1h1.3m.2-1.7h1.3m-1.3 1.4h1.3m-.6.6h1.3m-.3-1.6h1.3m-.6-.6h1.3m-.5 2.4h1.3m-.4-.8h1.3m-34 1h1.3m-.4 1.7h1.3m-.2-1.6h1.3m-.9 2.1h1.3m4.6-1.5h1.3m.1.9h1.3m-.7-.4h1.3m-1 .2h1.3m-1.1-1.5h1.3m-.8 1.7h1.3m-1.1 0h1.3m-.1.3h1.3m.4-1.8h1.3m-1.1 1.6h1.3m-.8-1.6h1.3m-.9.6h1.3m-1.2-.7h1.3m-.7-.1h1.3m.4 1.5h1.3m-.4-.4h1.3m-.7.3h1.3m-.6 1.5h1.3m-.4-2.4h1.3m-.9.2h1.3m-.9.1h1.3m-.9.8h1.3m1.8-.9h1.3m-.5.3h1.3m-1 1.4h1.3m-.5-1.6h1.3m-.3 1.5h1.3m-.5-1.9h1.3m-.8 1.5h1.3m-.5.9h1.3m-.1-.2h1.3m1-1h1.3m-1-.8h1.3m.8-.6h1.3m6.7.3h1.3m-44.5 3h1.3m-1.1.1h1.3m.6.2h1.3m-.8.4h1.3m2.2-.9h1.3m-.7.1h1.3m2.4 1.3h1.3m-1.1-.6h1.3m-1.1-.6h1.3m-.5-.4h1.3m-.1 2h1.3m-.9-1h1.3m-.9-.1h1.3m-.3-.3h1.3m-1 1.5h1.3m-1-1.1h1.3m0-.7h1.3m-.9 0h1.3m-.7.6h1.3m-.4 1.6h1.3m-1.1-2.6h1.3m-.5 1.4h1.3m-.1-.8h1.3m.3 1.9h1.3m-.8-1.2h1.3m-.3-.4h1.3m-.4-.3h1.3m.2 1.3h1.3m11.5-.8h1.3m1.1 0h1.3m-47.6 2.2h1.3m2.5-.2h1.3m-.2 1h1.3m-1-1h1.3m-1.2.8h1.3m3.7 1.3h1.3m1.5-1.3h1.3m-.6 1.3h1.3m-1.2-.2h1.3m-.2.3h1.3m-.1-.6h1.3m-1.1-.3h1.3m-1.1 1.5h1.3m-.8-2.5h1.3m-.7 2.4h1.3m-1.2-.7h1.3m-.4-.1h1.3m1.6.4h1.3m-.6.1h1.3m-.4-2.1h1.3m-.8 1.4h1.3m-1.1-1.7h1.3m-.8 2.6h1.3m-.8-.8h1.3m-.9-.1h1.3m0 1.1h1.3m-1.1-.6h1.3m-1 .3h1.3m-.4-.8h1.3m-.4.2h1.3m-1 0h1.3m.5-.1h1.3m-1.1-1.8h1.3m-.4.5h1.3m1.9 1.9h1.3m.2.2h1.3m7.8-1.8h1.3m-39.6 2.4h1.3m.6 1.9h1.3m1.8-.7h1.3m-.9-.5h1.3m.3 0h1.3m1 1.5h1.3m-1-.5h1.3m-1.2-1.4h1.3m-.5 1.8h1.3m-1-.8h1.3m.7-.2h1.3m-.2.6h1.3m-1-2h1.3m-1 2.4h1.3m-.2.5h1.3m-.5-2h1.3m-1.1.3h1.3m-1.3.3h1.3m1.6 0h1.3m-1.2-.5h1.3m.5 1.4h1.3m-.5-.5h1.3m1.1.2h1.3m-.2 0h1.3m-1.1-.8h1.3m2.4 1.6h1.3m-.3-2.8h1.3m2.1 2.4h1.3m6-.9h1.3m-46.2 2.4h1.3m2.5.8h1.3m2 0h1.3m-.9-.9h1.3m2.2.2h1.3m-1.2.5h1.3m.5-.8h1.3m-.1.2h1.3m-1.2.6h1.3m3.4-1h1.3m-.9 1.8h1.3m-1-2h1.3m2 1.8h1.3m-.2-1.4h1.3m-1 .9h1.3m-.6-1.4h1.3m.2.3h1.3m-.5-.1h1.3m-1.1.4h1.3m.1-.9h1.3m2 .8h1.3m-1.2-.3h1.3m7.3-.4h1.3m-49.4 3.2h1.3m9.6.5h1.3m.6-.2h1.3m-1.1.9h1.3m1.6 1.4h1.3m4.1-2.9h1.3m-.4.6h1.3m.8-.2h1.3m2.9.1h1.3m.6 2h1.3m9.1.2h1.3m3.9-.5h1.3m-33.4 1.2h1.3m2.7-.3h1.3m1.8 1.9h1.3m-.6 0h1.3m1.3-.8h1.3m-.9.1h1.3m-1.2.9h1.3m8.8-.4h1.3m-23.7 1.2h1.3m9.2 1h1.3m2 1h1.3m-19.4 1.5h1.3m9.4-.3h1.3m8.9 2.4h1.3m7.1-.8h1.3m-21.2 3.5h1.3m.7-.2h1.3m4.1.2h1.3m7.9-1.8h1.3m-35.8 4.8h1.3m19-1.5h1.3m7.8 7.3h1.3" stroke="#e02c14" stroke-opacity="0.62" stroke-width="1.3"/>
<path d="M351.3 225.1h1.3m-24.7 4.9h1.3m-21.3 1.7h1.3m14.7 3.7h1.3m2.4 1h1.3m4.4.2h1.3m4.2-.1h1.3m7.9-1.4h1.3m-41.6 2.1h1.3m2.8 0h1.3m9 2.4h1.3m-.9-1.6h1.3m1.3.4h1.3m.6-.9h1.3m.1 1.6h1.3m.4-.6h1.3m.6-1h1.3m2.2 1.2h1.3m-31.4 1.3h1.3m6.9.1h1.3m.1.8h1.3m-1.1.2h1.3m.1 0h1.3m.9 1.7h1.3m-.2-1.6h1.3m-1.2-.7h1.3m.2.2h1.3m-.4.3h1.3m-.3-.1h1.3m-.6-.1h1.3m-.4 1.8h1.3m-.5-1.1h1.3m0 .5h1.3m-1.1-.3h1.3m-.6-1h1.3m-.9-.4h1.3m4.7 2.2h1.3m-.7-1.5h1.3m.6 1.2h1.3m1.9 0h1.3m.5-1.3h1.3m-32.8 4.6h1.3m3.7-.8h1.3m-.2-1h1.3m.8.8h1.3m.1-.3h1.3m3.1-.9h1.3m-1.2 2.6h1.3m3.5-1.5h1.3m-1.3-.1h1.3m-.5-1.1h1.3m2.8 1.2h1.3m-.4-.4h1.3m-.7 1.5h1.3m-1-1h1.3m-.5 1.2h1.3m8.1-.6h1.3m-29.5 3.7h1.3m-.2-.6h1.3m-1-1.7h1.3m-.7 1.1h1.3m1.8-.6h1.3m-1.2 1.6h1.3m1.6-.4h1.3m-.2-.9h1.3m-.8-.2h1.3m1 .6h1.3m-1.3.5h1.3m-.3-.7h1.3m-1-1.1h1.3m-.5 2.4h1.3m-.8-1.6h1.3m-.2-1.2h1.3m-.2 1.6h1.3m7.7.4h1.3m-54.4 3.3h1.3m22.5-1.3h1.3m.1 1.9h1.3m-1.1-1.4h1.3m7.5-.9h1.3m-.3.2h1.3m-1.2.2h1.3m-.6 0h1.3m-1.1-.8h1.3m-1.2 1.8h1.3m-1 .8h1.3m-.3-2.1h1.3m-.4.1h1.3m-.7 0h1.3m-1.1.9h1.3m-1.2.1h1.3m-.1-.5h1.3m-.1-.2h1.3m-.5.5h1.3m-.9 1.3h1.3m-.8-2.8h1.3m.3 2.4h1.3m-1.1-2.4h1.3m-.1 1.1h1.3m-1.2 1.1h1.3m.6 0h1.3m-1.2.3h1.3m1.9-2h1.3m6 .7h1.3m9.1-.8h1.3m-48.4 4h1.3m2.2-.3h1.3m.5-.8h1.3m-.4.4h1.3m.1 2.1h1.3m-1.1-1.2h1.3m.8 1.2h1.3m.4-2.6h1.3m-1 1.9h1.3m-1-.6h1.3m-.8 1.3h1.3m-.9-.7h1.3m-.8-1.8h1.3m-.8 2h1.3m-.7-2.4h1.3m-1 1.9h1.3m-1.2 0h1.3m-.7-1.2h1.3m1 1h1.3m-.6 1h1.3m-1-.7h1.3m-1.1-1.1h1.3m-.9 1.1h1.3m-1.2.4h1.3m-.7-1h1.3m-.7-.2h1.3m-.8.7h1.3m-.7.6h1.3m1.7-1.7h1.3m-.9.1h1.3m.2-.9h1.3m2.7 0h1.3m-1.1 2.7h1.3m1.4-.4h1.3m-1 0h1.3m-42 1.5h1.3m2-.1h1.3m.4-.3h1.3m6.8-.4h1.3m.9.8h1.3m.1 1.5h1.3m-.8.1h1.3m1.9-.8h1.3m.4.8h1.3m-1.3-1.3h1.3m-.8 1.6h1.3m-.1-.4h1.3m.1-1.8h1.3m-1.1-.2h1.3m-.9.3h1.3m1.8 2.3h1.3m-.2-.1h1.3m-.8-1.4h1.3m1.1 1.1h1.3m-1.3-1.1h1.3m-1 1h1.3m.4.2h1.3m-.8-1.8h1.3m-.3 1.1h1.3m0 .2h1.3m.4-.5h1.3m-31.8 3.3h1.3m-1.2.4h1.3m.9-1.5h1.3m-1 .4h1.3m.8 1h1.3m2.4-.4h1.3m-1.1-.9h1.3m-.9-.5h1.3m-1 1.6h1.3m-1.2.8h1.3m-1.2-1.8h1.3m-1 1.7h1.3m-.9-.4h1.3m-.5.1h1.3m-.7-1.3h1.3m-.4.8h1.3m-1-1.9h1.3m-1.1 1.8h1.3m.5.4h1.3m-.8-1.1h1.3m-1.3.6h1.3m-.7-1.4h1.3m-1.2 1.4h1.3m-1.3-1.3h1.3m-1.3.8h1.3m-.1 1.4h1.3m-1.1-1h1.3m-.8-.2h1.3m-1.1-1h1.3m-.8 1.3h1.3m-1.2-.1h1.3m-.9-.9h1.3m-1.3 1.4h1.3m-.6-1.9h1.3m-.8-.2h1.3m-1 .7h1.3m.4.8h1.3m.5-1.3h1.3m-.3 1.7h1.3m-.8.2h1.3m1.4-.7h1.3m2.2 1.4h1.3m1.6-2.1h1.3m-52.9 3h1.3m-1.1.6h1.3m7 .2h1.3m1.2-.9h1.3m-.4.2h1.3m-.1.9h1.3m.6-1.6h1.3m1.7 1.8h1.3m-.3-.2h1.3m.5.3h1.3m.3.7h1.3m-1.1-1.3h1.3m1.3.7h1.3m-.9-1.7h1.3m-1 2.2h1.3m-.9.1h1.3m-.9-.6h1.3m-.5.4h1.3m-.3.2h1.3m-1.2-1h1.3m-.5-1.3h1.3m-.9-.1h1.3m1.2.5h1.3m-1.2-.3h1.3m-.4-.4h1.3m-1.1 2.5h1.3m-1.1-.5h1.3m-.8-.2h1.3m.2.3h1.3m-.8-1.2h1.3m.1 1.2h1.3m-1.1.1h1.3m4.6-2.2h1.3m4.5 1.7h1.3m-1.2-.4h1.3m3.1-.5h1.3m-44.8 4.6h1.3m1.3-.3h1.3m1.5-.3h1.3m1.9-1.8h1.3m.7 1.9h1.3m-.2-.8h1.3m1.2.1h1.3m-.2.3h1.3m.5 1h1.3m-1.1-.1h1.3m-1-2.1h1.3m-.5-.2h1.3m.1 2.4h1.3m-.5-.1h1.3m-.4.3h1.3m-1.2-1.5h1.3m-1.2.7h1.3m-1.3.2h1.3m-.3-.9h1.3m-.7-.6h1.3m2.7.3h1.3m2.9-.3h1.3m1.4.8h1.3m1.7.3h1.3m7.7-.5h1.3m-40 4.6h1.3m2.8-.7h1.3m2.9.6h1.3m-.3-1.3h1.3m-1.1-1.4h1.3m-.5 1.5h1.3m.4-.3h1.3m-1.2-.7h1.3m-.6-.6h1.3m-.9 1.6h1.3m-.6-1h1.3m-.2 1.1h1.3m-1.1.1h1.3m-.9-1.7h1.3m-1 1.4h1.3m-1.2 1.1h1.3m-1.2-2.3h1.3m.2 1.7h1.3m-1-.8h1.3m.1-1h1.3m4.2.7h1.3m-.8 1h1.3m.7-.7h1.3m2.6.5h1.3m-.1-.3h1.3m-.1-1h1.3m-33.9 5.5h1.3m-.3-1.5h1.3m-.7-1.3h1.3m.4 1.6h1.3m.5-.9h1.3m1.7-.1h1.3m-.9-.1h1.3m-1.1-.1h1.3m-.5 2.4h1.3m-1-2.8h1.3m-1.1 1.2h1.3m-1.1 0h1.3m-1.2-1h1.3m-.9 1.1h1.3m-.3.6h1.3m-.1-1h1.3m.5.5h1.3m1-.2h1.3m1 1.1h1.3m.5.4h1.3m5.3-2.5h1.3m1.8-.3h1.3m.7 2.9h1.3m-43.5 2.1h1.3m5 .1h1.3m.9-1.3h1.3m3.2-.1h1.3m-.3-.4h1.3m1.2.8h1.3m-.9 0h1.3m0 1.2h1.3m-.3-.1h1.3m-1-.8h1.3m-1.1 1.2h1.3m.6-2h1.3m-.1 1.5h1.3m-.9-1.3h1.3m-.8.9h1.3m1-.2h1.3m.7-.3h1.3m-.8-.8h1.3m-.5.2h1.3m1 1.9h1.3m.1-.7h1.3m.5-.3h1.3m-.5.5h1.3m-28 1.2h1.3m-1.2-.2h1.3m2.2.6h1.3m.9-.6h1.3m4.5 2.7h1.3m.5-2.4h1.3m4.7 1.3h1.3m12.4 1.3h1.3m-20.8.2h1.3m6.1 2h1.3m-30.8 1h1.3m17.8 1h1.3m-15.7 2h1.3m14.6 2h1.3m1.2 2.4h1.3m11.7-1.5h1.3m7.9.5h1.3m-48 2.8h1.3" stroke="#e02c14" stroke-opacity="0.62" stroke-width="1.3"/>
<path d="M437.5 269.6h1.3m.3.3h1.3m-24.9 2.8h1.3m7.2-1.3h1.3m19.1 1.5h1.3m-21.9 1.7h1.3m4.7 0h1.3m-.7.9h1.3m-.9-.4h1.3m.7-1.1h1.3m1.3-.9h1.3m2.1 2.1h1.3m1.2.1h1.3m9.8-1.9h1.3m-38.4 3.9h1.3m.8.5h1.3m5.7-.9h1.3m-.9 1h1.3m-.9.3h1.3m0 .2h1.3m.4.5h1.3m-1.1-.4h1.3m2-1h1.3m-.9-.2h1.3m-.3-.1h1.3m-.7-1.1h1.3m-.4 1.4h1.3m.2-1.2h1.3m1.4 1.8h1.3m-.6-2.1h1.3m2.5 2.7h1.3m9.5-2.6h1.3m-45.5 5.2h1.3m-1.2-1.5h1.3m.2.2h1.3m.7-1h1.3m7.8 1.4h1.3m-.2.9h1.3m.8-1.2h1.3m-1.1 1.8h1.3m-.6-2.9h1.3m-.8 2.3h1.3m-.3-.8h1.3m-.5.2h1.3m-.2.1h1.3m1.3.5h1.3m-1.2-1.4h1.3m.8 1.8h1.3m-.5-1.8h1.3m-1.1.3h1.3m-1.2 1.6h1.3m.1-2.8h1.3m.7 2.3h1.3m1.2-1.5h1.3m-1 .9h1.3m.5-1.7h1.3m-1.3.5h1.3m-1.2.5h1.3m1 .8h1.3m-1-1h1.3m4.8 1.2h1.3m-42.7 2.7h1.3m-1.2-.6h1.3m-.5-.6h1.3m.3.3h1.3m-.4-.3h1.3m.6 2.3h1.3m1.3-.1h1.3m-1.2-1.3h1.3m-1.3 1.2h1.3m-.3-.8h1.3m-.2 1.1h1.3m1.9-2.3h1.3m-.2 1.1h1.3m-.3-.6h1.3m-.4 1.5h1.3m2.3-1.6h1.3m.5-.7h1.3m-1.2 2.2h1.3m-1 0h1.3m-.6-1.9h1.3m.3 2h1.3m-1.2-.7h1.3m-.8 0h1.3m-.6-.8h1.3m-.4-.3h1.3m-1.3-.3h1.3m-1.3 2.1h1.3m.1-1.6h1.3m-.9 1.1h1.3m-1.3-1.6h1.3m-1.3.9h1.3m.7 0h1.3m-.9-.4h1.3m-.8.5h1.3m1.6.8h1.3m.3-.5h1.3m-1.3-.4h1.3m1.5-.2h1.3m2.5.6h1.3m-.4-.1h1.3m-44.9 2.7h1.3m-.8-.2h1.3m2.2.3h1.3m.2.2h1.3m1.1 1.1h1.3m-.1-.9h1.3m-.3-.9h1.3m-.9-.2h1.3m-.6.4h1.3m-.9.5h1.3m-.3-.6h1.3m-.6-1h1.3m-.1 2.2h1.3m-1.1-.1h1.3m-.5-1.8h1.3m-1.1 1h1.3m-1.1 0h1.3m-1 1.3h1.3m-.3-1.7h1.3m-.8.8h1.3m-.4-1h1.3m-1.2.2h1.3m-.5.1h1.3m-.7 0h1.3m-1.3.4h1.3m-1 .4h1.3m-.6.8h1.3m-.8-2.3h1.3m0 1.9h1.3m-1.2-.8h1.3m-.6-1.2h1.3m-.3 2.4h1.3m.5-.5h1.3m-.3-.1h1.3m-1.2-.6h1.3m-1.2-.5h1.3m-1.2.7h1.3m-.9 1.1h1.3m2.7-2.4h1.3m4.7.4h1.3m-36.7 4.8h1.3m.5-2.6h1.3m1.4.5h1.3m.5 2.4h1.3m-1.1-1.1h1.3m1.4 1.1h1.3m-.8-1.8h1.3m-1.3.3h1.3m-1.1 1.1h1.3m.4-.6h1.3m.4 1h1.3m-.6-1.7h1.3m-.3.2h1.3m1 0h1.3m-.7.1h1.3m-.6-1.3h1.3m.4.9h1.3m-1.1.3h1.3m-1.1.4h1.3m-1 .3h1.3m-1.3-.6h1.3m-.8-1.5h1.3m-1.1.6h1.3m-.1 1.1h1.3m-1.2.4h1.3m0 .8h1.3m1-1.4h1.3m-1 1.3h1.3m-.9-.4h1.3m-.6 0h1.3m.4.2h1.3m-33.2 2h1.3m1.3.7h1.3m6.7-1.9h1.3m2.2 1.3h1.3m.2.4h1.3m-.3-.4h1.3m-.8-.9h1.3m1.1.8h1.3m-.4.1h1.3m0-.8h1.3m-.7.6h1.3m-1.1-.4h1.3m.8 1.5h1.3m-.9-.6h1.3m-1.2.4h1.3m-.8-.7h1.3m1.9-1.2h1.3m3.7.5h1.3m.4 1.1h1.3m-24.7 1.8h1.3m-.9-.7h1.3m.6 2.5h1.3m-.7-.8h1.3m-.7.5h1.3m.4-1.2h1.3m-1.1.8h1.3m1.7-1.8h1.3m.4.4h1.3m-1 .6h1.3m1 .5h1.3m-.9-1.4h1.3m3.6.9h1.3m2.8 1.1h1.3m-.8-1.3h1.3m-.2 1.7h1.3m-22.5 3h1.3m19.1-.5h1.3m-37.3 1.1h1.3m8.3.5h1.3m6.9.6h1.3" stroke="#2a1f85" stroke-opacity="0.5" stroke-width="1.3"/>
<path d="M419.2 268h1.3m4.9 1.6h1.3m-6 2.1h1.3m1.6-1.3h1.3m3.2.6h1.3m.1 1.9h1.3m1.7-.7h1.3m1.1-.9h1.3m1.5 1.4h1.3m-28.7 1.3h1.3m10.4-.4h1.3m-.6 2.2h1.3m.7-.3h1.3m-.9-1.9h1.3m4.3-.3h1.3m3.6 1.8h1.3m-.4-.5h1.3m-1.1 1h1.3m2.3-1.1h1.3m-1.3-.6h1.3m-1.3-.2h1.3m1.9.6h1.3m-.8 1.3h1.3m3.9-1.5h1.3m-35.2 4.1h1.3m1.9-.8h1.3m2.9.9h1.3m-.1.5h1.3m-.9-2.3h1.3m-1.1 1.4h1.3m1.4.9h1.3m-.9-.1h1.3m-1.1-.6h1.3m1.1-.4h1.3m1.2 0h1.3m1.8.5h1.3m-.3-1.1h1.3m-1 1.6h1.3m-1-.3h1.3m.5.1h1.3m2.4-.9h1.3m-.8-.9h1.3m2.7.3h1.3m-27.2 3.7h1.3m1.4-1.4h1.3m.1.8h1.3m1.5 1.7h1.3m-.3-1.5h1.3m-.5 1.6h1.3m-.8-.8h1.3m.3-.8h1.3m.5.9h1.3m-.6-1.9h1.3m-1.2.2h1.3m-.5-.4h1.3m-1.1.5h1.3m-.8.5h1.3m1.4 1.6h1.3m-.8.2h1.3m1.1-1.6h1.3m-.2-.5h1.3m1.2.4h1.3m-.8 1h1.3m-1.2.7h1.3m18-2.5h1.3m-56.6 4.7h1.3m1-1.5h1.3m.1 1.9h1.3m-.7-1.9h1.3m.1 2.1h1.3m.8-2.1h1.3m2.3-.3h1.3m.8.5h1.3m-1 1.7h1.3m-.9-.8h1.3m1 .8h1.3m-1.2-1h1.3m-1.1.9h1.3m.1-1.5h1.3m-.9.1h1.3m-1 .9h1.3m-.9.5h1.3m-1.2-1.7h1.3m-.8-.2h1.3m-.6 1.5h1.3m.7.8h1.3m.6-1.8h1.3m1.6.4h1.3m-.7 1.2h1.3m-1-1.7h1.3m-.7.1h1.3m.2 1h1.3m-1-1.5h1.3m-.7.3h1.3m-.3.4h1.3m1.6 1.4h1.3m5.8.3h1.3m-40.8 2.8h1.3m1.5-1.1h1.3m-.5.3h1.3m-.5-1.1h1.3m-.8-.7h1.3m-1.2 1.5h1.3m-.3-1.5h1.3m-.6 0h1.3m.4 2h1.3m-1.2-1.4h1.3m.7 1.4h1.3m-.9-.4h1.3m-1.3.9h1.3m-1.2-2.1h1.3m-.9.3h1.3m-.8.2h1.3m-.7 1.1h1.3m-1.1-.6h1.3m-.5.6h1.3m-.2-1.2h1.3m-.5-.8h1.3m-1.2 1.8h1.3m-1.2-.4h1.3m-1.2-1h1.3m-1.2-.1h1.3m-.8.6h1.3m-1.1 1.7h1.3m-.4-2.3h1.3m-.8 1.3h1.3m-1 .5h1.3m-.4-1.7h1.3m-.3 1.5h1.3m0-.3h1.3m1.6-1.3h1.3m-.8.4h1.3m-1.3.3h1.3m-1.2-.3h1.3m-1.2-.1h1.3m-1.2 1.9h1.3m-.9-1.5h1.3m-.7-1.1h1.3m3.2.6h1.3m-1.1 1h1.3m-.9.8h1.3m.1-.9h1.3m-1.1 1.1h1.3m0-2.1h1.3m.3 1.7h1.3m5.8-2h1.3m-46.6 4.4h1.3m.1 1.1h1.3m.6-1.7h1.3m.4-.9h1.3m-.3.4h1.3m1.3 2.3h1.3m-.3-1.2h1.3m-1.2-.1h1.3m-.4.6h1.3m-.9-1h1.3m1.4.5h1.3m-.7-1h1.3m-.6 1.3h1.3m-.9.6h1.3m-.8-.3h1.3m2.4-.7h1.3m-1.1-.1h1.3m-.6-1.3h1.3m-.4 2.5h1.3m-1-1h1.3m-1 .3h1.3m-.1.5h1.3m5.7-1.3h1.3m-.3.5h1.3m-1.1-.9h1.3m-.7.5h1.3m-.4 1.6h1.3m-1.2-2.2h1.3m-1.2 1.7h1.3m-.4-.3h1.3m0-2h1.3m4.5 1.7h1.3m-1.1-1.7h1.3m-29 5.6h1.3m-.7-1.9h1.3m-.6-.4h1.3m-.7.1h1.3m-1 1.7h1.3m-.2-1.4h1.3m-.1 2.1h1.3m-.9-1.1h1.3m-1.2-.5h1.3m-.8-1h1.3m-.1 1.2h1.3m-1 1.3h1.3m-.2-.8h1.3m-1.1-1.4h1.3m-.9-.3h1.3m-.3.5h1.3m-.7 1.2h1.3m.7-1.5h1.3m-.9.3h1.3m-.8 1.4h1.3m1.4-1.5h1.3m10.7.4h1.3m-33.8 3.6h1.3m3.6-.9h1.3m5 .8h1.3m3.9 1.3h1.3m3.5-2.6h1.3m-11.1 3.2h1.3m-1.3.5h1.3m.7-.8h1.3m-1.2.2h1.3m2.6 1.2h1.3m17.6 2.8h1.3" stroke="#2a1f85" stroke-opacity="0.5" stroke-width="1.3"/>
<path d="M417.3 271.4h1.3m5.8 1.4h1.3m.8-.9h1.3m-14.6 2.4h1.3m-.6 1.2h1.3m1.7-.2h1.3m-1.2-.2h1.3m8.2-.3h1.3m.7.9h1.3m-17.7 1.3h1.3m1.8 1.8h1.3m7.1-1.6h1.3m.7.6h1.3m-.9-.2h1.3m2.8-.4h1.3m-.9.5h1.3m-.7 1.2h1.3m2.2-.6h1.3m9.2.5h1.3m-.9-1.1h1.3m5.8-.8h1.3m-42.3 3.4h1.3m1.3.1h1.3m.2 1.3h1.3m.8-1.1h1.3m-.8.1h1.3m-1.2.1h1.3m.1-.2h1.3m-1.3 0h1.3m.4 1.3h1.3m0-2.2h1.3m.6 2.1h1.3m-.6-1.9h1.3m.2-.9h1.3m-1.2 1.7h1.3m0 1.1h1.3m-.8-.8h1.3m-.9-.3h1.3m-.6.3h1.3m-1.1-2h1.3m-.7 2.8h1.3m-.7-2h1.3m-.7 1.4h1.3m-.8.3h1.3m-.1.3h1.3m-.9-1.8h1.3m-.6 0h1.3m-1.1 1.7h1.3m-.1 0h1.3m-1.1-2h1.3m.1 1.8h1.3m-.6-.7h1.3m-.8-1.6h1.3m-.8 2.6h1.3m-.7-.7h1.3m-.9.3h1.3m2.1-2.4h1.3m4.5.4h1.3m-.6 2.2h1.3m-38.9 2.6h1.3m-.9-1.1h1.3m-1.1-1h1.3m3.4 2.5h1.3m.2-2h1.3m-.5 2h1.3m-.6-1.3h1.3m-1.2.3h1.3m-1.3 1h1.3m-.6-2h1.3m-.5 1.7h1.3m-1.2-2h1.3m-.2.2h1.3m-.8.5h1.3m-1 .6h1.3m-.3-1h1.3m-1.3 1.8h1.3m-.3-1.3h1.3m.3.7h1.3m-.2-1.1h1.3m.6.4h1.3m-1.1-.8h1.3m-1.3 2.2h1.3m-1-1.9h1.3m-1.1 1.6h1.3m-.6.5h1.3m-1.2-.5h1.3m-1.2.4h1.3m-.9.2h1.3m-.5-1.7h1.3m-.7.7h1.3m-1.2-.5h1.3m-1.2.8h1.3m-.9.4h1.3m0-1.2h1.3m1.5 1.6h1.3m-.1-.8h1.3m-.5-.8h1.3m-1.3-.9h1.3m-.1 2.3h1.3m-.8-.9h1.3m-.3.7h1.3m-1-.3h1.3m1.5-.2h1.3m.5-1.6h1.3m-.1.3h1.3m-1.3.6h1.3m-1 1.5h1.3m-40.7 3.1h1.3m4-1.7h1.3m-.9 1.1h1.3m-1.2-1.9h1.3m-.5.6h1.3m-.9-1h1.3m-.1 2.2h1.3m.1-.7h1.3m-.7 0h1.3m-.3.1h1.3m1.2 1.1h1.3m-.8-2.3h1.3m-.5 1.3h1.3m-1-1.6h1.3m.1 1.5h1.3m-.9-.7h1.3m1.2 1.5h1.3m-1.2-1.5h1.3m-.1 1.2h1.3m-1-1.2h1.3m-.8-.2h1.3m-.9 1.7h1.3m-.8-1h1.3m-1 .7h1.3m-.9.2h1.3m-.9 0h1.3m-.2-1.6h1.3m-1 1h1.3m-.7-.4h1.3m1.5-1.2h1.3m-.6 2.3h1.3m-1.2.4h1.3m-1.1-.5h1.3m-.9-1.6h1.3m.3.1h1.3m-.5 2h1.3m-31.9 2.3h1.3m1.4.2h1.3m.1-1.8h1.3m-.4-.5h1.3m.9 1.5h1.3m.4-.3h1.3m-1-1.1h1.3m-.1 1.8h1.3m-1.2.5h1.3m-.4-1.6h1.3m-.6 1.7h1.3m-.7-.6h1.3m-.8-.5h1.3m-.8.7h1.3m-.5-.5h1.3m-1.2.9h1.3m-.3-2h1.3m-.6-.3h1.3m-.1.3h1.3m-.3-.4h1.3m-1.2 2.2h1.3m-.1-1.9h1.3m-1 1.2h1.3m-1.2.2h1.3m.3-1.3h1.3m-1 2h1.3m1 .2h1.3m-1.3-.6h1.3m-1.1-1.8h1.3m-.5 2.3h1.3m-1.1-1.9h1.3m-.7-.6h1.3m2.6 2.2h1.3m0-.7h1.3m-.8-.9h1.3m4.5-.5h1.3m-38 3.6h1.3m2.1 1.9h1.3m5.1.2h1.3m-.7-1.4h1.3m2.4 1.3h1.3m-1.2-1.2h1.3m.5.4h1.3m-1.2.8h1.3m.4-1.9h1.3m.6.3h1.3m-.7 0h1.3m.4-.3h1.3m0-.1h1.3m1.7 1.4h1.3m-.9-.2h1.3m-.8-.1h1.3m5-.3h1.3m-30.6 4h1.3m1.2-2.6h1.3m8.5 2.5h1.3m0 .3h1.3m2.9-2.3h1.3m-.9 1.3h1.3m.3-1.4h1.3m-1 .5h1.3m6.9.9h1.3m-28.5 1.9h1.3m10.2.1h1.3m1.8 1.6h1.3m2.3-2.3h1.3m-15.1 4.2h1.3m3.7-1.3h1.3m7.4 2.3h1.3" stroke="#2a1f85" stroke-opacity="0.5" stroke-width="1.3"/>
<path d="M412.9 272.9h1.3m2-.5h1.3m7.2-2.1h1.3m-.7 1h1.3m-1.1-1.2h1.3m2.2 2.7h1.3m6.8-2.4h1.3m-25.9 4.1h1.3m.1.3h1.3m5.6.3h1.3m-.6-1.3h1.3m-.5.7h1.3m-.8-1.1h1.3m0 2h1.3m.9 0h1.3m2.2-1.2h1.3m7.6.6h1.3m2.2-1.1h1.3m.9 1.4h1.3m-34.9 2h1.3m-1 .7h1.3m-.2-1h1.3m-.2.9h1.3m7.5-1h1.3m-.7-.3h1.3m-1.3 2.1h1.3m-1.1-1.3h1.3m-1-.9h1.3m.2.2h1.3m1.3 1.4h1.3m-.4-1.6h1.3m-.7.6h1.3m1.1 1.3h1.3m2.2-1.1h1.3m.7-.8h1.3m.4-.3h1.3m-1.3.2h1.3m.9 1.8h1.3m-1.3-1.8h1.3m.8.9h1.3m6.6-1h1.3m-38.4 5.5h1.3m.6-1.6h1.3m-1.3.4h1.3m-.5.4h1.3m-1.2.3h1.3m1.1.6h1.3m4.8.1h1.3m-1.1-.7h1.3m-.6.1h1.3m.3-1.8h1.3m-.6.1h1.3m1.9 1.1h1.3m-.8.7h1.3m-.2-.7h1.3m-.3.6h1.3m-1.3-.6h1.3m-.3-.9h1.3m.3-.6h1.3m.5.3h1.3m-.2 1.7h1.3m-1.2-1.2h1.3m.5.6h1.3m3.7 1.2h1.3m10.5-2.4h1.3m-47.1 3.2h1.3m-.1 2.1h1.3m-1.1 0h1.3m2.5-.9h1.3m1.6.1h1.3m.4-1.1h1.3m.3 1.6h1.3m-.5-.5h1.3m-1-1.2h1.3m1.2 1.5h1.3m-.1-1.6h1.3m-1.1 1.5h1.3m.2-.3h1.3m-1.3-1.6h1.3m-1 .9h1.3m0 .9h1.3m-1.2-.5h1.3m-1.1.5h1.3m0 .1h1.3m-1-1.2h1.3m-1 1.6h1.3m-1.2.5h1.3m-.9-.2h1.3m-1.1.2h1.3m-1.2-2.3h1.3m-1 .3h1.3m-1.3.4h1.3m-.6.7h1.3m-.7-1.6h1.3m.4.7h1.3m-1.2.7h1.3m-1.2-1.8h1.3m1.2 1.3h1.3m-1.2-.3h1.3m3.2 1.8h1.3m-.1-.1h1.3m-1.2-2h1.3m0 1.7h1.3m3.7-1.3h1.3m-44 4.8h1.3m1.7-1.4h1.3m-.7-.4h1.3m-1 1.4h1.3m-.1-.9h1.3m-.5-1.3h1.3m-1 1.4h1.3m0-.9h1.3m-.1 1.6h1.3m-1.2 0h1.3m-.4.3h1.3m-1.1-.2h1.3m-.6-.8h1.3m.8.8h1.3m-.6 0h1.3m.7-2.1h1.3m.4 2.5h1.3m-1-.1h1.3m-1.1-2.8h1.3m-1.1 1.3h1.3m-1.1-.2h1.3m-.9.6h1.3m-.7-.2h1.3m-1.2 1.2h1.3m-1.2-2h1.3m-.2 1.4h1.3m-1.1-.9h1.3m-1-.6h1.3m-1 2.1h1.3m-1-2h1.3m-1.2.6h1.3m.2.7h1.3m.2-1.8h1.3m.5 1.1h1.3m-1.1-.8h1.3m.9 0h1.3m-1.3 2.3h1.3m-1-.5h1.3m-1.3-.5h1.3m-1.3-.6h1.3m-.9.4h1.3m-1.3-.2h1.3m2-1.2h1.3m-.6 2.4h1.3m0 .3h1.3m-.7-1.8h1.3m2.9 1.8h1.3m-40.1.3h1.3m.2.6h1.3m-.2-.1h1.3m-1-.5h1.3m3 1.8h1.3m0 .7h1.3m-1-.9h1.3m-.3.8h1.3m-.8-2h1.3m-.9 1h1.3m2.5-1.6h1.3m-.9 2.2h1.3m.2-1.5h1.3m-.6.7h1.3m-1.3.7h1.3m-1.1-.9h1.3m-.7-.1h1.3m1.1-.4h1.3m-.9 1.3h1.3m-1.2-1.3h1.3m-.9.6h1.3m1.2.6h1.3m1.8.7h1.3m-1-.7h1.3m.5-1.7h1.3m1.7 1.5h1.3m-.9-.2h1.3m2.8-1h1.3m-.6 2.1h1.3m0-2.4h1.3m-30.4 3.7h1.3m1.5-.5h1.3m-.2 2.1h1.3m-1-.9h1.3m1.2-.4h1.3m1.9-.4h1.3m-1.2 1.6h1.3m1-2.3h1.3m-1.1 1.6h1.3m-.6.1h1.3m-.3.2h1.3m.5-1h1.3m-.2-1h1.3m1.3 2.8h1.3m-.1-2.1h1.3m-.6.3h1.3m-21.5 2.6h1.3m2.8 2.1h1.3m-.3-.3h1.3m.5.4h1.3m.7.1h1.3m8.1-.3h1.3m6.1-1.3h1.3m.9-1.1h1.3m-34.3 3.7h1.3m17-.2h1.3m-1 .6h1.3m2.4-.6h1.3m4.5 0h1.3m-12.4 4.7h1.3m12.2-1.2h1.3" stroke="#2a1f85" stroke-opacity="0.5" stroke-width="1.3"/>
<path d="M431.1 269.6h1.3m5.2-1.9h1.3m3.6 1h1.3m-28.3 3.9h1.3m-2 .8h1.3m-.2 0h1.3m3.9 1.9h1.3m2.6-.7h1.3m-1.2.9h1.3m-.1-.4h1.3m-.8.4h1.3m-1.1-1.3h1.3m-1-.3h1.3m-.7-.5h1.3m1.7.5h1.3m2.5-.5h1.3m.7 2.2h1.3m-21.5 1.8h1.3m-.3.4h1.3m-.5.7h1.3m2.3-.7h1.3m.5.9h1.3m-.7-2.3h1.3m-.9 1.1h1.3m-.9-1.1h1.3m-1.1.4h1.3m-.9.3h1.3m-.8.1h1.3m-1.2-1.1h1.3m-.7 1.8h1.3m1.1.7h1.3m1.3-1.3h1.3m2.9-.3h1.3m1.3-.2h1.3m-1.3 1.1h1.3m-.8-1h1.3m-.9 1h1.3m.7-.1h1.3m-.8.5h1.3m-.8-2.2h1.3m8 .8h1.3m-39.1 2.2h1.3m-1.2 1.9h1.3m-.1-.3h1.3m1.8-1.2h1.3m-.2-.4h1.3m2.1 1.6h1.3m.6-.2h1.3m-1-1h1.3m-.2.3h1.3m-1.3 1.1h1.3m-1.3-1.1h1.3m0 .6h1.3m-.7.4h1.3m-1.2-1.5h1.3m-1.2.8h1.3m-1.3.9h1.3m-1.3-.6h1.3m-.7.2h1.3m.5.7h1.3m-1-1.4h1.3m-.7 1h1.3m-1.1.8h1.3m-1.2 0h1.3m-1.3-.2h1.3m-1-1.5h1.3m-.7.1h1.3m-1.3 1h1.3m-.9.6h1.3m-.9-.2h1.3m-.7-1.9h1.3m-1.1 2.3h1.3m-1.2-2.5h1.3m-1.1 2.1h1.3m.1-.3h1.3m.8.2h1.3m-.2-2.4h1.3m-.8.1h1.3m2.8.2h1.3m-1 1.3h1.3m.5-.7h1.3m-.2.5h1.3m-1.3 1.1h1.3m1.1-.5h1.3m7.2-.5h1.3m-44.7 2.7h1.3m6.1 1.3h1.3m-1-1.6h1.3m-1.3.8h1.3m-.3.6h1.3m-.9.5h1.3m-.4-2h1.3m-1.1 1.2h1.3m-1.1.7h1.3m-1.1-1.5h1.3m-1.1-.5h1.3m1.2-.6h1.3m-1 1.7h1.3m-1.2.3h1.3m-.4-.8h1.3m-.7.8h1.3m-1.2.1h1.3m-.7-1.1h1.3m-.4-1.1h1.3m-.5 2.8h1.3m-1-.2h1.3m-.2-.7h1.3m-1.2.5h1.3m-1.2-1.4h1.3m-.3 1.1h1.3m-.2.7h1.3m-.5-1h1.3m-1.2.6h1.3m-1.2-1.9h1.3m-.5.3h1.3m1.2 1h1.3m-.4-1.7h1.3m3.4 1.8h1.3m-.9 1h1.3m1.8 0h1.3m1.9-1.8h1.3m.2-.1h1.3m-.2-.5h1.3m-43.6 4.4h1.3m1-1.5h1.3m.2-.1h1.3m0 1.4h1.3m1.9-.2h1.3m-1.3 1.4h1.3m-1 0h1.3m-.9-.4h1.3m-.9.2h1.3m-1.1-.8h1.3m-.1.1h1.3m-1.2-1.3h1.3m1.1 2.1h1.3m-.9-2.6h1.3m-.5 2.3h1.3m-1.2-1h1.3m-.6-.8h1.3m.3-.1h1.3m-1.1 2.3h1.3m-.3-2.9h1.3m1.2 2.6h1.3m-.8-.1h1.3m-1.1-1.2h1.3m-.8 1h1.3m-1.1-.8h1.3m1.7.2h1.3m.6.6h1.3m-1-1.1h1.3m3.4 0h1.3m2.5-.3h1.3m-30.5 3.3h1.3m-1 1.3h1.3m-1.3-1.9h1.3m.5.5h1.3m5.2-1.1h1.3m-.7.8h1.3m-.7-.3h1.3m.2 2.2h1.3m-1.2-2.4h1.3m-1 1.4h1.3m-.3.5h1.3m.2-1.6h1.3m5.1.2h1.3m-1.2 1.1h1.3m.9-.8h1.3m-.1.3h1.3m.9-1.1h1.3m.9 1.8h1.3m-32.7 3.2h1.3m1.3-.7h1.3m-.3-1.6h1.3m1.4.8h1.3m-.1.3h1.3m-1.1.2h1.3m-.4-1.1h1.3m-.6 2.1h1.3m-.3.6h1.3m-.9-1.3h1.3m-1.3-.1h1.3m.4.8h1.3m.6-1.3h1.3m0 0h1.3m-.9 1.1h1.3m-.7-.1h1.3m1-1.8h1.3m-1.1.6h1.3m.3-.1h1.3m-1.2.7h1.3m-.4-.5h1.3m-.8-.8h1.3m.8 1.4h1.3m.5 0h1.3m.2-1.4h1.3m-27.2 3.4h1.3m1.4.3h1.3m1.9-.7h1.3m-.1 2.6h1.3m8.4-1.2h1.3m1 0h1.3m6.9 0h1.3m-1.1-.1h1.3m-33.3 2.4h1.3m8.9.5h1.3m3.3-.8h1.3m16.4 0h1.3m-34.8 5.1h1.3m20.4-1.4h1.3m5.8 1.2h1.3" stroke="#2a1f85" stroke-opacity="0.5" stroke-width="1.3"/>
<path d="M459.2 255.7h1.3m-12.2 6.7h1.3m10.7 4.2h1.3m17.5-2.2h1.3m-42.5 4.6h1.3m-.1.5h1.3m8.1-.1h1.3m22-1.5h1.3m-38.5 4.9h1.3m-.3-2.7h1.3m1 .1h1.3m17.9-.2h1.3m-23.2 4h1.3m11.8.7h1.3m12.7-.7h1.3m9.9-.6h1.3m-53.6 5.5h1.3m.1-.7h1.3m18.7-.2h1.3m-1-.2h1.3m1.9 0h1.3m7.4-1.4h1.3m1.9 1.5h1.3m-33 1.4h1.3m5.9.6h1.3m1-.8h1.3m7-.1h1.3m-.5 1.7h1.3m4.9 1.1h1.3m-1.1-1.3h1.3m-1.2.2h1.3m-1.2.4h1.3m-.8-.6h1.3m-.8.3h1.3m-1.2-.9h1.3m4.2-.5h1.3m2.4 2h1.3m-.3-1.4h1.3m.8-.8h1.3m-43.1 4.6h1.3m5.4 1.1h1.3m11.2-.6h1.3m2.2-.4h1.3m-.7.3h1.3m-.1-.6h1.3m-.9.7h1.3m3.3-1.6h1.3m3 .2h1.3m-1.1.4h1.3m-1 .4h1.3m4.2-.9h1.3m-.9.3h1.3m-.4-1.1h1.3m14.8 1.4h1.3m-52.5 2.4h1.3m3.4.3h1.3m5.6 1.2h1.3m-1.1.2h1.3m0 .2h1.3m-1.2-2h1.3m2.3 0h1.3m.6 1.5h1.3m.3-.7h1.3m.1 1.2h1.3m.7-1.7h1.3m.4.4h1.3m3.5 1.4h1.3m.8-.3h1.3m-47.6 3.2h1.3m13.3-1.6h1.3m3.4-.8h1.3m3 1h1.3m29 1.4h1.3m12.9-1.9h1.3m-68.8 3.4h1.3m34.9 1.7h1.3m-.5-2h1.3m8.5 2h1.3m3.1-1.1h1.3m.1.6h1.3m-33.2 1.9h1.3m.4.5h1.3m11.4.6h1.3m12.6-.4h1.3m2.3-1.5h1.3m14.9 1.5h1.3m2.2-1.4h1.3m-49.5 3.5h1.3m13.8 1.8h1.3m4.2-.2h1.3m-37.4 1.6h1.3" stroke="#3a309a" stroke-opacity="0.5" stroke-width="1.3"/>
<path d="M446.9 258h1.3m-3 7.6h1.3m15.6-.5h1.3m-38.2 2.4h1.3m18.4.8h1.3m3.2-1.1h1.3m8.2 0h1.3m-.7 1.8h1.3m1.6-1.4h1.3m3.3 1.4h1.3m18.6-.4h1.3m-61 4.3h1.3m2.7-1.4h1.3m28.7-1h1.3m6.1 0h1.3m-42.7 4.3h1.3m16.2 1.1h1.3m.4-2.8h1.3m4.5 2.5h1.3m-1.3-2.4h1.3m-.7.9h1.3m.8 1h1.3m.8-.4h1.3m8-.7h1.3m15.5-.6h1.3m-59.8 4.8h1.3m10.9.3h1.3m-1.2-1.2h1.3m-.2-.3h1.3m3.9 1.8h1.3m12.9-.3h1.3m-.2-2.2h1.3m1.1 1.1h1.3m7.1-.1h1.3m4.9 1.3h1.3m1.2-1.4h1.3m-50.7 1.8h1.3m.3 2.3h1.3m1.4 0h1.3m4.2-1.5h1.3m.5-.2h1.3m-.4 1h1.3m4.2-1.6h1.3m6.6 1.1h1.3m5.2 1.6h1.3m-.7-1.8h1.3m.5.1h1.3m-.9-.5h1.3m6.4-.3h1.3m.2-.2h1.3m2.2 2.5h1.3m-67.1 3.1h1.3m7.1-2h1.3m10.7 2.3h1.3m2.1-2.5h1.3m.7 0h1.3m6.7 1h1.3m.2-.9h1.3m5.7 1h1.3m1.6-.6h1.3m3.9-.1h1.3m.6-.6h1.3m16.6-.2h1.3m-53.2 3.4h1.3m4.8-.3h1.3m.3.6h1.3m.7 1.5h1.3m1.3-1.7h1.3m-.4-.5h1.3m2.3.4h1.3m3.9 1.4h1.3m-.4.2h1.3m19.4-1.1h1.3m15.1.4h1.3m-.5-.2h1.3m-57.5 3.7h1.3m14.8-.1h1.3m14.2 1h1.3m.4-1.5h1.3m-28.4 2.2h1.3m1.8 1.9h1.3m4.6-1.8h1.3m1.7 2.4h1.3m3.7-1.2h1.3m1.8-1.7h1.3m.7.1h1.3m-45.9 6.8h1.3m29.5 1.9h1.3m9-2.7h1.3m23.4.4h1.3m-36.9 3.4h1.3" stroke="#3a309a" stroke-opacity="0.5" stroke-width="1.3"/>
<path d="M480.7 262.9h1.3m-33.1 3.9h1.3m-20.7 2.2h1.3m.4-1.4h1.3m5.9 1.3h1.3m52.7.4h1.3m-63.7 2.7h1.3m1.4.2h1.3m4.7-.8h1.3m.5.3h1.3m8.1-1.3h1.3m-.3 2h1.3m23.7.1h1.3m-43.7 2.1h1.3m5.7.5h1.3m3.5-.3h1.3m.2.3h1.3m.6-1.9h1.3m5.8.8h1.3m2-.4h1.3m.2.6h1.3m.6-.3h1.3m.7-.5h1.3m-.3.3h1.3m-.1 2.2h1.3m-28.8 1.4h1.3m4.3-1.2h1.3m7.8 1.4h1.3m.8 1.1h1.3m5.7-2.2h1.3m4-.3h1.3m.2 1.4h1.3m-.8-.1h1.3m-43.5 3.4h1.3m6.4-.7h1.3m1.3.2h1.3m8.7-1h1.3m3.2 2.3h1.3m.8-1.3h1.3m3.8 1.6h1.3m1.2-.4h1.3m4.5-2h1.3m5.9-.5h1.3m-53.1 5.2h1.3m4-1.1h1.3m2.3-.8h1.3m-.1 1.1h1.3m6.2-.6h1.3m1.1.9h1.3m-.9-.6h1.3m.3.6h1.3m3.6-1.7h1.3m11.5 2.2h1.3m4.3-.1h1.3m-.9-.6h1.3m5.1 1.2h1.3m-47.9 2.3h1.3m-.4-1h1.3m9.9 1.5h1.3m.6-1.4h1.3m-.8.4h1.3m7.1.6h1.3m-.4-.4h1.3m.6.5h1.3m-.3-1.6h1.3m.1.3h1.3m4.9 1.8h1.3m3-.2h1.3m1.2-1.9h1.3m-22.9 3.7h1.3m7.9 0h1.3m6.1 1.2h1.3m.9-1.1h1.3m2.2 1.3h1.3m3-1.4h1.3m9.4-.7h1.3m-66.3 4.6h1.3m12.5.4h1.3m7.8-1h1.3m1.6-.1h1.3m.1.9h1.3m2.3-.8h1.3m-.4.3h1.3m1.4-.4h1.3m-.5-1.2h1.3m.3 2.5h1.3m.5-1h1.3m-23.1 1.2h1.3m3 1.2h1.3m21.3.5h1.3m24.7-1.1h1.3" stroke="#3a309a" stroke-opacity="0.5" stroke-width="1.3"/>
<path d="M421.2 261.6h1.3m4-.4h1.3m19.4 1.9h1.3m21.2-.4h1.3m-31.7 3.5h1.3m17.3-1.2h1.3m25.7.4h1.3m-53.3 4.5h1.3m-.7-1.5h1.3m6.4 1.1h1.3m6.4.1h1.3m4.1.3h1.3m37.6-2.9h1.3m-52.1 5.8h1.3m2.4-1.6h1.3m2.5 1.1h1.3m3.8-2h1.3m2.7.8h1.3m.7-.4h1.3m3.6 0h1.3m-24.3 4.4h1.3m7.8-.6h1.3m-1.3-1.2h1.3m-.6 2.4h1.3m0 .2h1.3m1.4 0h1.3m3.7-1h1.3m32.2-.4h1.3m-83.5 1.9h1.3m16.2.9h1.3m3.3.4h1.3m.7.2h1.3m-1.2-.1h1.3m11.2-1.1h1.3m5.6 1h1.3m-.2.2h1.3m10.6-.5h1.3m-30.7 3.2h1.3m1.9.5h1.3m8.6-1.4h1.3m6.8.9h1.3m28.7-.2h1.3m-76.5 1.8h1.3m9.4.4h1.3m7.1 1.3h1.3m-1.3-.3h1.3m1.6-.9h1.3m-.7-.4h1.3m.9 0h1.3m1.6.5h1.3m10.2-.4h1.3m-.7 2.5h1.3m1.2-1.6h1.3m.3.3h1.3m-.3.7h1.3m3.1-.5h1.3m1-1.7h1.3m.3 2.7h1.3m3.3-2.6h1.3m11.3 1.1h1.3m3 1.6h1.3m-69.6 1.7h1.3m6.9.4h1.3m3.6.1h1.3m4.7-1.9h1.3m-1.2 2h1.3m-.6-.6h1.3m6.1 1.3h1.3m3.2-2.2h1.3m9.7.3h1.3m3.2 1.2h1.3m-1-.1h1.3m13 .2h1.3m-52.7 1.2h1.3m3 .2h1.3m5.3-.3h1.3m6.1 1.9h1.3m3.4-.8h1.3m.6-1.2h1.3m-.9-.1h1.3m1.3.1h1.3m3.1-.3h1.3m-13.8 4.9h1.3m-.7-1.8h1.3m-.3 2.8h1.3m3.8-2.3h1.3m11.3.1h1.3m3.9-.3h1.3m5.7 2.4h1.3m-29.3.2h1.3m27.9 2.9h1.3" stroke="#3a309a" stroke-opacity="0.5" stroke-width="1.3"/>
<path d="M440.3 262.9h1.3m9.1 1h1.3m25.5-.3h1.3m-39.1.7h1.3m7.7 1.5h1.3m3-1.8h1.3m3.2 2.2h1.3m38.2-.2h1.3m-68.3 3.4h1.3m8.9-2.1h1.3m12.9 2.1h1.3m-34.3.6h1.3m5.2 1.6h1.3m-1.1-.1h1.3m2.9 0h1.3m4.3 0h1.3m5.3-1.2h1.3m4.1 1h1.3m0-.3h1.3m13.7-.5h1.3m20.1 1h1.3m-38.8 4.2h1.3m6.2-1.9h1.3m-1.2 0h1.3m-.9 1.1h1.3m-1.2-.1h1.3m6.3-1.2h1.3m6.9 0h1.3m-50 4.2h1.3m7.6-.8h1.3m5.2 1.6h1.3m.5.1h1.3m.7-2.2h1.3m-1.2.2h1.3m1 .2h1.3m-.1 1h1.3m20.3-.9h1.3m15.7-.4h1.3m-61.4 4.8h1.3m9.1.4h1.3m3.9-1.1h1.3m3.2-1h1.3m4.1-.2h1.3m.3-.1h1.3m-.8 1.4h1.3m-1-1.2h1.3m-.2-.5h1.3m-1.3.9h1.3m2.2-.7h1.3m-.1 2.5h1.3m-.1.1h1.3m.8-1.5h1.3m-1.2.7h1.3m4.8-2h1.3m5.5 1.6h1.3m.7.1h1.3m-54.7 3.8h1.3m5.2.3h1.3m.4-.4h1.3m18.1.3h1.3m3.6-.1h1.3m1.5-1.9h1.3m9.5 1.1h1.3m13.7-.4h1.3m7.8-.4h1.3m-70.3 4.5h1.3m12.8-2.6h1.3m-1.2 1.1h1.3m1.9 1.1h1.3m-.5-.6h1.3m-.2-1.5h1.3m.3-.1h1.3m1.5 1.2h1.3m-1-.3h1.3m-.8.9h1.3m16.4-.8h1.3m17.4 1.8h1.3m-47.5 3.1h1.3m3.4-.9h1.3m25.2-1.9h1.3m5.8 1h1.3m-55.2 1.9h1.3m.7 2.7h1.3m2.4-1h1.3m21.3-.6h1.3m13.9-.1h1.3m.1-.9h1.3m7.5 1.9h1.3m2.3 0h1.3m-31.9 3.7h1.3m11.1 2.2h1.3" stroke="#3a309a" stroke-opacity="0.5" stroke-width="1.3"/>
<rect x="28.5" y="200.5" width="104.0" height="104.0" fill="none" stroke="#999" stroke-width="1" />
<rect x="28.5" y="224.5" width="39.0" height="40.0" fill="none" stroke="#707070" stroke-width="0.9" />
<rect x="30.2" y="206.3" width="30.7" height="9.5" rx="1" fill="#fff" fill-opacity="0.6" stroke="#a0a0a0" stroke-width=".6"/>
<text x="31.0" y="213.3" textLength="29.1" lengthAdjust="spacingAndGlyphs" fill="#000" font-size="6.6" stroke="#000" stroke-width=".25">U: 13.04%</text>
<rect x="155.5" y="199.5" width="106.0" height="105.0" fill="none" stroke="#999" stroke-width="1" />
<path d="M189.4 240 L206.9 229.4 L230 229.4 L235.6 243.1 L231.3 263.8 L199.4 266.9 L185.6 257.5Z" fill="none" stroke="#555" stroke-width="0.8"/>
<path d="M157.7 276.4 L176 273.3 L191.3 276.4 L194.2 281 L194.2 293.7 L191.3 301.4 L158.2 302Z" fill="none" stroke="#555" stroke-width="0.8"/>
<rect x="157" y="267.3" width="6.6" height="7.0" rx="1" fill="#fff" fill-opacity="0.6" stroke="#a0a0a0" stroke-width=".6"/>
<text x="157.8" y="272.7" textLength="5" lengthAdjust="spacingAndGlyphs" fill="#000" font-size="6.2" stroke="#000" stroke-width=".25">W</text>
<rect x="210.6" y="208.9" width="29.9" height="9.5" rx="1" fill="#fff" fill-opacity="0.6" stroke="#a0a0a0" stroke-width=".6"/>
<text x="211.4" y="216.1" textLength="28.3" lengthAdjust="spacingAndGlyphs" fill="#000" font-size="6.6" stroke="#000" stroke-width=".25">V: 15.30%</text>
<rect x="281.5" y="200.5" width="105.0" height="105.0" fill="none" stroke="#999" stroke-width="1" />
<path d="M304.5 213.8 L340.5 204.3 L370 212.5 L370 258.8 L337.5 273.8 L310 265Z" fill="none" stroke="#555" stroke-width="0.8"/>
<rect x="355.8" y="201.3" width="30.5" height="7.5" rx="1" fill="#fff" fill-opacity="0.6" stroke="#a0a0a0" stroke-width=".6"/>
<text x="356.6" y="207.0" textLength="28.9" lengthAdjust="spacingAndGlyphs" fill="#000" font-size="6.6" stroke="#000" stroke-width=".25">Y: 84.04%</text>
<rect x="408.5" y="200.5" width="105.0" height="105.0" fill="none" stroke="#999" stroke-width="1" />
<path d="M431.3 213.8 L468 204.3 L497 213.8 L497 257.5 L463.8 273.8 L437.5 265Z" fill="none" stroke="#555" stroke-width="0.8"/>
<rect x="485.8" y="255.4" width="25.4" height="8.1" rx="1" fill="#fff" fill-opacity="0.6" stroke="#a0a0a0" stroke-width=".6"/>
<text x="486.6" y="262.1" textLength="23.8" lengthAdjust="spacingAndGlyphs" fill="#000" font-size="6.6" stroke="#000" stroke-width=".25">Z: 2.91%</text>
<text x="58.8" y="233.7" stroke="#333" stroke-width="0.25" textLength="63.2" lengthAdjust="spacingAndGlyphs" fill="#333" font-size="9.3" >CD19+/CD90−</text>
<text x="81.3" y="244.2" stroke="#333" stroke-width="0.25" textLength="18.2" lengthAdjust="spacingAndGlyphs" fill="#333" font-size="9.3" >cells</text>
<text x="182.5" y="228.7" stroke="#e0503a" stroke-width="0.1" textLength="68.7" lengthAdjust="spacingAndGlyphs" fill="#e0503a" font-size="9.3" >CD127+/CD43+</text>
<text x="188.8" y="240.5" stroke="#e0503a" stroke-width="0.1" textLength="56.2" lengthAdjust="spacingAndGlyphs" fill="#e0503a" font-size="9.3" >Leukemia cells</text>
<text x="207" y="284.2" stroke="#4b3f8c" stroke-width="0.1" textLength="69" lengthAdjust="spacingAndGlyphs" fill="#4b3f8c" font-size="9.3" >CD127−/CD43−</text>
<text x="201.3" y="294.7" stroke="#4b3f8c" stroke-width="0.1" textLength="80" lengthAdjust="spacingAndGlyphs" fill="#4b3f8c" font-size="9.3" >Endogenous B cells</text>
<path d="M64 246.8H155" stroke="#2c96c9" stroke-width="1.6"/>
<path d="M163 246.8L154 243.0L155.8 246.8L154 250.60000000000002Z" fill="#2c96c9"/>
<path d="M202.5 243.2H277.3" stroke="#2c96c9" stroke-width="1.6"/>
<path d="M285.3 243.2L276.3 239.39999999999998L278.1 243.2L276.3 247.0Z" fill="#2c96c9"/>
<path d="M188 287.3H397.4" stroke="#2c96c9" stroke-width="1.6"/>
<path d="M405.7 287.3L396.4 283.7L398.2 287.3L396.4 290.90000000000003Z" fill="#2c96c9"/>
<text x="7.1" y="343.5" stroke="#111" stroke-width="0.35" font-weight="bold" textLength="6.9" lengthAdjust="spacingAndGlyphs" fill="#111" font-size="11.3" >C</text>
<text x="62" y="354.4" stroke="#222" stroke-width="0.25" textLength="54.8" lengthAdjust="spacingAndGlyphs" fill="#222" font-size="9" >All viable cells</text>
<text x="218.4" y="343.8" stroke="#222" stroke-width="0.25" textLength="31.1" lengthAdjust="spacingAndGlyphs" fill="#222" font-size="9" >Gate on</text>
<text x="201" y="355.2" stroke="#222" stroke-width="0.25" textLength="65.7" lengthAdjust="spacingAndGlyphs" fill="#222" font-size="9" >(CD19+CD90−)</text>
<text x="361.1" y="341.5" stroke="#222" stroke-width="0.25" textLength="31.8" lengthAdjust="spacingAndGlyphs" fill="#222" font-size="9" >Gate on</text>
<text x="343.8" y="353" stroke="#222" stroke-width="0.25" textLength="65.8" lengthAdjust="spacingAndGlyphs" fill="#222" font-size="9" >CD127+CD43+</text>
<ellipse cx="67" cy="399" rx="11" ry="5" fill="url(#ge05a403050)"/>
<ellipse cx="67" cy="508.5" rx="14" ry="7" fill="url(#ge034184550)" transform="rotate(-12 67 508.5)"/>
<ellipse cx="256" cy="407" rx="6" ry="11" fill="url(#ge034185550)" transform="rotate(35 256 407)"/>
<ellipse cx="206.5" cy="443" rx="9" ry="7" fill="url(#g5a4fb03050)"/>
<ellipse cx="250" cy="517" rx="12" ry="6" fill="url(#ge034185050)" transform="rotate(-45 250 517)"/>
<ellipse cx="382.5" cy="412" rx="7" ry="18" fill="url(#gf03a147050)"/>
<ellipse cx="394" cy="519" rx="9" ry="13" fill="url(#gf03a145550)"/>
<path d="M70.5 386.1h1m-6 1.8h1m9 1h1m-22.2 3.4h1m2.6.6h1m-.4-1.3h1m0 .8h1m1.7-1.1h1m-.2 1h1m.1.1h1m11.7-.3h1m.1.8h1m-.4-.7h1m-24.7 3h1m7.2 0h1m-.6-.1h1m.2-.2h1m-.8-1.2h1m-.9.6h1m-.2-1.3h1m2.3 1.8h1m2.7-.7h1m-.7.3h1m-.1-.7h1m1.3 2.1h1m2.4.1h1m-28.7.9h1m2 1.2h1m0-.5h1m-.5-.1h1m.3-.3h1m2.1.8h1m-.8-.5h1m-.2-.2h1m-.5 1.2h1m-.4-2.4h1m.1 2.2h1m1.6-2.2h1m.4 0h1m.7.2h1m-.1.3h1m-.8-.3h1m-.8 2h1m.6.2h1m-.8-2.2h1m-.5 2h1m-.9-1h1m-.8 1.7h1m-.6-1.8h1m-.7.2h1m.5.9h1m.5.2h1m.1.4h1m2.2-1.5h1m-1 1h1m2-1.4h1m-.3-.7h1m-32.1 2.9h1m0 1.5h1m.8.4h1m-.7-1h1m-.7.5h1m-.7-1.1h1m.7 1.2h1m-.5-.2h1m-.4-1.1h1m-.9.2h1m.7 1.9h1m.4.3h1m.8-2.2h1m-.3 0h1m-.8 2.4h1m-.9-1.2h1m.3-.4h1m1.4 1.1h1m.6-1.6h1m-.6-.4h1m-.3.4h1m.8 2.1h1m-.8-2h1m1.4.2h1m2.2-.1h1m2.1 1.6h1m.1-1.6h1m-39.4 3.4h1m1.6-1.2h1m8.1 2.7h1m-.4-2.2h1m.3.9h1m.1 1h1m-.8-.3h1m1.2.2h1m-.9-2.4h1m-.9 2.5h1m-.1-.9h1m-.8 0h1m-.4.8h1m.7-1.1h1m-.4.6h1m-.8-.6h1m5.5-1.1h1m.7.3h1m-.6.3h1m6.3-.1h1m-36.5 2.4h1m12.5.8h1m-.8-.2h1m-.3.8h1m.4 1.3h1m0-.3h1m-.6-2h1m-.1-.2h1m1 .2h1m10.5-.3h1m-22.3 4.7h1m2.1-1.1h1m1.7-.4h1m2.6 1.1h1m2.5-1.2h1m2.4-.3h1" stroke="#e05a40" stroke-opacity="0.5"/>
<path d="M56.8 386.2h1m7.8-1.7h1m3.7 2.2h1m-5.5 1.4h1m-.2-.8h1m1.7 1.6h1m-17.4 1.9h1m8.2.5h1m3.3-1.3h1m1 2.5h1m-.8-.8h1m1.5 1.2h1m1.4-.2h1m.6-.3h1m-.6.4h1m1.2-.8h1m5.9-1.5h1m-34.4 4.9h1m3.3-.1h1m-.2.6h1m-.2-.5h1m-.8 0h1m.2-1.2h1m2.1-.6h1m-.5 1h1m1.1-1.4h1m2.8 0h1m-.1 0h1m-.9 1.2h1m2.9-.8h1m3.4-.3h1m-.3 2h1m-.1-2.2h1m-22.8 4.2h1m.7-.9h1m-.9 2.4h1m.6-.4h1m1.9-2.2h1m-.8.8h1m-.8 1.4h1m-.6.2h1m-.7.3h1m1.1-.9h1m.1 0h1m-.9-.9h1m-.1-.3h1m-1 0h1m-.6.6h1m-.5.8h1m-1-.9h1m-.6-.3h1m-.8.1h1m.6 1.1h1m-1-1.4h1m-22.1 5h1m3.7-2.8h1m.7 1.2h1m-.9.4h1m-.5.9h1m0-.6h1m-1-1.3h1m-.3 0h1m-.5 1.5h1m-.8-2h1m0 .8h1m-.8 1.6h1m-.4-.6h1m-.2 0h1m0 .9h1m-.7-2h1m-.9.8h1m-.9.6h1m.2-.6h1m-.1.7h1m-.5-1.9h1m-.4.6h1m-.3 1.8h1m-.7 0h1m-.3-2.3h1m-.3 1.4h1m-.4-1.6h1m1.9.9h1m.3-.3h1m1.4 0h1m-.7-.4h1m-.8-.3h1m-.1 1.2h1m-.3-1.2h1m1.2 0h1m-.6 1.1h1m-32.7 1.7h1m8.2.7h1m.4.8h1m-.3-1.5h1m.5 2.6h1m1.4-.6h1m-.4.1h1m1.4.6h1m1 .2h1m-.7-2h1m0-.9h1m1.1 1.6h1m.8-1.6h1m.3 2.1h1m-.6-1.4h1m1.7 2h1m-.9-2.4h1m-.7 1.5h1m1.4.3h1m5-.4h1m-35.5 2.8h1m1.6-.8h1m7.1.7h1m2.9 1h1m.2-2h1m1.5 2.2h1m2.1-.4h1m4.2-1.5h1m2.2-.1h1m-15.9 3.2h1" stroke="#e05a40" stroke-opacity="0.5"/>
<path d="M63.5 387.7h1m1.7 1.6h1m-21.2 1.5h1m15.9 1.5h1m-.8-.1h1m.1.3h1m3.6-.6h1m3.3-1.1h1m-22.3 3.2h1m4.8-.9h1m4.9 2.5h1m-.8-1.9h1m-.6.5h1m-.3.4h1m-.9.5h1m-.2-.2h1m.1.5h1m.8.1h1m-.8-1.5h1m.2 1h1m-.6-.7h1m16.1-.5h1m-38.3 3.6h1m.5-1h1m2.2 1.7h1m-.6-.8h1m1.6-.5h1m-.8.9h1m1.9.2h1m.3-1.7h1m.2.2h1m-.3-.4h1m.4 2.9h1m-.8-2.1h1m2 1.1h1m-.6.6h1m-.4-1h1m-.9.8h1m-.7-.4h1m3.4 1h1m.1-2.7h1m7.9 2.7h1m-.8-2.5h1m-38 5.1h1m-.3-1.2h1m1.7.8h1m-.3.4h1m.1-2h1m1.6-.4h1m1.4.9h1m-.9-.1h1m0 .9h1m-.6-1.2h1m-.9-.6h1m-.1.3h1m.8.6h1m-.7-.6h1m-.8 1h1m-.5-.2h1m-.8-.5h1m-.5 2h1m-.8 0h1m.1-1.2h1m-.2 1.1h1m-.5-1h1m-.4.1h1m-.4.1h1m-.2.4h1m.8.1h1m-.9-2.1h1m-.9 1.2h1m-.5 1h1m.1-1.4h1m0 .1h1m.5 1.5h1m.3-.3h1m1.2.5h1m1.1-1.7h1m7.4-.6h1m-41 2.7h1m.8 1.3h1m5-.9h1m-.8 2.4h1m-.9-1.6h1m1.5-.5h1m-.1.9h1m-.3 0h1m.6-1.7h1m-.8 1h1m-.8-.2h1m-.7-.3h1m-.4 1.7h1m-.3 0h1m.2.1h1m1-.8h1m-.4-1.4h1m.3.9h1m-.6 1.5h1m-.8-1.2h1m.4-.6h1m.4 1.1h1m.6-1.7h1m.1 2.6h1m1.2-1.9h1m-15.8 2.5h1m-.6.2h1m.9.1h1m.5-.5h1m3.3 1.4h1m5.1-1.3h1m.9.5h1m.9-.7h1m3 1.3h1m-39.8 2.8h1m9.6.7h1m.8-1.4h1m1.3 1.4h1m3.1-1.2h1m3.9-.5h1" stroke="#e05a40" stroke-opacity="0.5"/>
<path d="M70.5 388.4h1m-14.1 3.1h1m3.8 1.4h1m.7-.3h1m5.8.3h1m6.5-1.6h1m2.6-.1h1m-33 2.7h1m6.3.2h1m.8.9h1m.9-1.4h1m1.4-.4h1m-.2 1.3h1m.3-.1h1m1.6 1.1h1m0-.1h1m.1-.2h1m-.8-.4h1m-.2-.2h1m-1 0h1m-.8-1h1m-1 .6h1m.2-.9h1m-.8.7h1m.9-.9h1m-.3.4h1m-.7 1.1h1m-.5.7h1m3.8-.9h1m-32.5 2.5h1m5 1.8h1m.4-.5h1m1.6-1h1m-1 1.1h1m-.3-.3h1m-.3.6h1m.3-2.5h1m1.4.7h1m.4 1.7h1m.1-1.3h1m-1 .8h1m-.6-.2h1m-.6-1.4h1m-.7-.3h1m-.4 2.6h1m-.8-1.8h1m3.7 2h1m-1-.1h1m.3-.1h1m-.8-2.3h1m-.3 1.5h1m-.4-1.9h1m-.7 1.1h1m.3 1.6h1m3.7 0h1m1.5-.8h1m-33.1 4h1m1.2-2.3h1m.3 2h1m-.2-1.2h1m.4-.9h1m.6 1.6h1m.7.6h1m-.8-1.6h1m0-.7h1m.4.8h1m-.6.9h1m-.8.6h1m-.3.2h1m-.8-.5h1m-.8-1.9h1m1.2-.1h1m1 2h1m-.2-1.2h1m-.7.7h1m-.9-1.6h1m-.8-.1h1m-.2.1h1m1.2 2.4h1m.2-2.5h1m-.3.5h1m.5.6h1m1.1-.1h1m.5.2h1m1.9-1.1h1m-37.9 4.9h1m2.7-.2h1m2.3-1.4h1m-.7.7h1m-.5.3h1m1.7-.4h1m-.4 1.2h1m2.7-1.1h1m-.2-.9h1m-.2.3h1m-.2.1h1m-.7 1.5h1m-1-2h1m1.8 1.9h1m-.9-1.6h1m-.1.5h1m-.8.1h1m-.8-.8h1m-.8-.3h1m-.7.8h1m1.2 1.8h1m.1.1h1m.1-2.1h1m-1-.1h1m-1 2h1m13.7-2h1m-23.6 2.9h1m1.4-.5h1m-.1.6h1m1.6-.5h1m5.5.3h1m6.3.2h1m-30.7 6h1m7.3 3.6h1" stroke="#e05a40" stroke-opacity="0.5"/>
<path d="M67.8 388.5h1m-8.2 4.4h1m-.9-1.8h1m2.4-.1h1m1.9 1h1m6.8.6h1m3.5-.9h1m-28.2 2.6h1m3.4-.4h1m-.8.5h1m.9-.9h1m1 2.2h1m1.8-2h1m-.8 1.8h1m-.9.3h1m1.5-1.5h1m2.1 1.2h1m-.7.4h1m-.8-1.3h1m1.1.8h1m-.2-1.5h1m-.9 1.4h1m-.2-.3h1m5.3-.5h1m.4-.6h1m-27.3 3.7h1m2-.6h1m-.5 1.6h1m-.9-.2h1m-.4-2.3h1m-.7 2.7h1m-.8-2.2h1m-.4 2.1h1m.1 0h1m-.8-2h1m-.2.2h1m-1 2h1m-.8-.6h1m-.9-1.1h1m-.4-.2h1m.4 1.5h1m0-1.9h1m0 .9h1m-.8.2h1m-.7.4h1m.1-2h1m1.1 1.8h1m-1-.2h1m-.4.2h1m-.6-1.3h1m.3-.2h1m-.2 1.5h1m-.2.9h1m-.9-.2h1m-.4-1.5h1m-.6 1h1m3.4.3h1m-26.7 2.6h1m-.2-2h1m-.9 2.7h1m1.6-1.9h1m1.3 1.7h1m-.5-1.5h1m.5.7h1m-.7-.6h1m1.8.9h1m-.7-2h1m.7 0h1m.5 0h1m0 .1h1m-.4 2.2h1m-1-1h1m-.7.2h1m.4-.8h1m-.5 2.2h1m.5-1.5h1m-.2 1.4h1m-.3-2.8h1m-.9 1.9h1m-.8.2h1m2.1-1.9h1m0 1h1m-.1 1h1m.6-1.2h1m3.2.2h1m.9-.8h1m-36.4 3.6h1m1 1.1h1m.2.6h1m-.2-2.7h1m-.5 1.2h1m-1 .1h1m0-.6h1m.1.9h1m.4.9h1m2.7-2.5h1m-.5 1.9h1m-1-1.3h1m.8-.4h1m1.9.5h1m-.7 1.7h1m5.1-1.9h1m-.7 1.4h1m-.4-1.3h1m.2 1.6h1m.3-1.9h1m-.9 1.7h1m-.3-1.6h1m-.8 1.3h1m-.4-.1h1m-30.2 2.5h1m1.2-.7h1m14.5 2.4h1m-.7-.7h1m-.6 0h1m4.3-.8h1m-9.4 3.5h1m2.1-.4h1m4.7 3.2h1" stroke="#e05a40" stroke-opacity="0.5"/>
<path d="M46.9 398.8h1m9.4 2h1m.9 1.1h1m.5-.8h1m3.3.3h1m-8.2.8h1m-.5 2.3h1m1.5-.2h1m1.8-1.3h1m-.5-.8h1m2.5.5h1m-.7 1.8h1m1-.2h1m.6-.4h1m1.5.7h1m-20.9.6h1m3.1.2h1m.4 2.4h1m2.4-1.5h1m-.6-.7h1m-.9 2.2h1m.3-1.1h1m-.6 1.1h1m-.6-1h1m.1 0h1m-.5-.2h1m-.4-.6h1m-1 .8h1m8.9-1.3h1m-24.9 3.1h1m4.6 2h1m-.8-1.1h1m-.8.2h1m.3-1.4h1m-.1 2.2h1m-.8-.4h1m-.9.1h1m2.1-.2h1m0-.4h1m-.9-1.3h1m-.8 1.4h1m-.8.4h1m-.1-.7h1m-.4.7h1m-.4-1.8h1m-.5 1.2h1m-.9 1.2h1m3.4.2h1m.7-2.3h1m-.8 1.3h1m1.5.7h1m-21.8 2.9h1m.4.1h1m-.6.2h1m-1-1.2h1m-.3.3h1m-.7-1.1h1m1.5 1.6h1m4.1.3h1m-.9-2.5h1m1.4 1.5h1m-.5-.6h1m-.3-.7h1m-.9.7h1m.2.8h1m.7-.4h1m-16.4 3.5h1m-.3-1.3h1m-.5-.7h1m3.4 1.3h1m-1 0h1m-.1 1.5h1m.2-1.5h1m-.6 0h1m-.1-1.2h1m-.6 2.4h1m-.5-.2h1m-.2-1.7h1m4.8 2.3h1m1.1-1.1h1" stroke="#6a58b8" stroke-opacity="0.45"/>
<path d="M58.1 401.9h1m-.7-1.7h1m1.5 1.4h1m4.7-.2h1m3.1.3h1m-25.3 2.3h1m9.2.5h1m3.7 0h1m1.9.4h1m.7-1h1m.2.8h1m4.2-2.1h1m1-.3h1m-20.5 5.4h1m1.5-2.5h1m-.9 1.7h1m-1-.4h1m1.1-.7h1m-.2.1h1m1.2 1.6h1m-.8-1.4h1m-.4.5h1m-.9 0h1m2 .1h1m-.7-.5h1m-1 1.5h1m.1-1.1h1m-.3-.6h1m-.2 1.3h1m.3-1.8h1m2.6 1.9h1m-.9-1.1h1m1.5-1.3h1m.4 1.9h1m-24.1 1.7h1m.7-.1h1m-.7.7h1m-.8-1.2h1m.5.7h1m-1 1.1h1m-.1.6h1m1.1-2.3h1m-.8 2.5h1m2.9-1.6h1m-.7-.6h1m2.7.7h1m.4.7h1m3.5-1.8h1m-.6.5h1m.9 1.2h1m-23.2 3.3h1m1.7.8h1m4-.3h1m-.7-2.3h1m-.5 0h1m-.8 2.4h1m0-1.4h1m0-.7h1m-.9.5h1m-.3-1h1m-.5.6h1m.9 1.1h1m0-.4h1m2.3.4h1m5.4 1.1h1m-23.4 1.6h1m-.5.5h1m.6.6h1m.4-.6h1m-.4 1h1m-.9-1.9h1m2.3.7h1m3.9-1.6h1m1.5.5h1m.1 1.9h1m-.5-1.6h1m4.8.7h1m-26.7 2.6h1m5.9-.9h1m1.1 2.3h1" stroke="#6a58b8" stroke-opacity="0.45"/>
<path d="M69 393.6h1m-12.7 5h1m1.7.8h1m-.7 2.1h1m9-.7h1m.2-1.2h1m-20.7 3.4h1m7.2.1h1m7.7 1.8h1m-.7-1.7h1m-.8 1.6h1m-.1-1.3h1m.6-1.5h1m4 2.6h1m-19.2 3h1m-.2-.4h1m1.5.6h1m-.6-.3h1m-.9-1h1m-.8 1.4h1m0-1.3h1m.6.8h1m.8-.2h1m.9-.7h1m.1-.6h1m-.8 1.5h1m-.4-1.6h1m-.3 2.1h1m.4-1h1m7.7.9h1m-26.2.3h1m.7 1.2h1m1.3.8h1m-.2.5h1m-.7-1.2h1m-.3-.6h1m-.5 1.9h1m-.9-.9h1m-.6-1.5h1m-.5 2.3h1m-.6-1.6h1m-.9 1.7h1m.2-.8h1m-.3.3h1m-.3-.8h1m3.8-1.4h1m-.9 1.3h1m-.1.7h1m-.8.8h1m-.6-2.3h1m.3 2.3h1m.2-1.9h1m1.3.6h1m2-1.1h1m-26 3.3h1m.3-.7h1m.6 2.7h1m.1-.4h1m-.4-.2h1m.9-1.6h1m-.5.3h1m4.7 1.7h1m.5-.4h1m-1-.9h1m-.1 1.5h1m-.4-2.2h1m-.4-.5h1m-.6.6h1m.5-.2h1m6.8.6h1m-29.7 2.3h1m1 1.4h1m1.4-1.4h1m2.1 1.9h1m3.8-1.6h1m-7.6 2.5h1m2.4 2.8h1m4.8-1.8h1m5.6-1h1" stroke="#6a58b8" stroke-opacity="0.45"/>
<path d="M58.1 401.2h1m10 .5h1m.7-2.4h1m3.2 2.6h1m-23.6 1.7h1m5.6.4h1m-.1-.7h1m.9.1h1m-.4-.5h1m2.8 1.8h1m-.9-2.5h1m2.2.3h1m2.9-.5h1m3.2 2.3h1m-22.9.9h1m.7.6h1m-.3 1.9h1m-.1-2.1h1m-.5 2h1m0 .2h1m.7-.1h1m1-.7h1m2.4.9h1m-.9-.1h1m-.5-2h1m-.7 2.1h1m-.9-.2h1m3-1.7h1m-.3.9h1m1.7.2h1m4.8-.4h1m-30 1.4h1m-1 1.6h1m.1.4h1m-.8-1.3h1m-.3.1h1m1.5-.4h1m.1-.2h1m1.3.5h1m-.4 2h1m-.4-2.5h1m-.9 0h1m-.8 1.2h1m1.7-.3h1m-.6 1.4h1m-.3-1.3h1m-.7 1.3h1m.5-.9h1m-.5-1.5h1m.4.7h1m1.5 0h1m-.5.3h1m-12.2 4.7h1m.6-2.7h1m.2 1.4h1m.5-1.5h1m-.9 2.7h1m-.5-2.8h1m-.7 2.7h1m1.9-1.8h1m-.1-.4h1m-.6 0h1m2.6 2.2h1m4.5-1.7h1m-20.2 3.4h1m-.3-.7h1m.3 1.9h1m3.4-2.3h1m.7 1.7h1m1.7.3h1m-.5-1.4h1m.1.3h1m-.4-.5h1m3 0h1m-22.7 4h1m2.6-.8h1m5.1-.8h1m2.8 1h1m-.3-1.1h1" stroke="#6a58b8" stroke-opacity="0.45"/>
<path d="M54.5 398.9h1m8.6.9h1m.1 1.6h1m1.3.1h1m-22.1 1h1m11.6 1.9h1m.6-1.7h1m-.4.4h1m-.7-.8h1m1.1-.1h1m.5 1h1m.1.6h1m.8-1.1h1m.7 1.1h1m7.4.6h1m-24.3 2.4h1m2.8.5h1m1.3.3h1m-.4-1.2h1m-.7-1h1m-.8 1.6h1m-.4-.8h1m0 1.6h1m2.4-.3h1m.1-.4h1m-.6-.7h1m-.8.3h1m.5.7h1m4.2-.6h1m-24.5 3.6h1m3.5.1h1m1.8-.1h1m1.4-1.1h1m1-.9h1m-.9 1.5h1m.2-.8h1m-1 .7h1m.9 0h1m.7-.2h1m-1-.7h1m-.8 1.5h1m-.4-1.5h1m-1 .1h1m-.7 1.8h1m.2-2.6h1m-.6 2.1h1m.1-.1h1m.2.6h1m-.5-1.8h1m1.1-.6h1m-27.5 4.2h1m7.5-1.3h1m0 .7h1m.9-.9h1m-.2.6h1m-.3 1.3h1m-.1-1.2h1m1.8 1.2h1m-.1-.6h1m-.9 1.3h1m-.4-1.3h1m.1-1.3h1m-.9 2.4h1m1.7-2.5h1m.2.2h1m-16.3 4h1m6.2-.1h1m-.7-.4h1m1.5-.3h1m1.1.5h1m.5 1.1h1m-.8-.4h1m-1-.1h1m3.6 1.2h1m-5.4.7h1m-.4.2h1m.2-.4h1m-11.7 4.5h1m8.8-1.6h1" stroke="#6a58b8" stroke-opacity="0.45"/>
<path d="M63.4 397.7h1m-2.3 3.5h1m10.9-2.1h1m-23.6 4.9h1m2.1-.8h1m4.8 1.1h1m3-2.1h1m.2 1h1m-.7.8h1m3.7 0h1m3.3-.9h1m-.6 1.5h1m-22.2 2.9h1m-.5-.4h1m2.8-1.8h1m-.1 2.5h1m3.2-.4h1m1.5-2h1m-.4 2h1m2.5-.7h1m.4.9h1m4.5.3h1m-22.1.9h1m4.8-.2h1m7.7 0h1m2.8-.5h1m1.4.7h1m-19.4 3.5h1m7.2.5h1m-7.3 1.7h1" stroke="#a05080" stroke-opacity="0.5"/>
<path d="M62 398.7h1m7.9-.2h1m4.8-.4h1m-16.6 3.1h1m1.7-.3h1m1.5-1.6h1m10.3.4h1m-27.6 2.6h1m5.1 0h1m5.9 1.5h1m-.8-1.5h1m-.3 1.4h1m.8-.1h1m-.8 0h1m-.5 1.3h1m-.4-2.1h1m-.7 1.3h1m-.8-.4h1m0 1.2h1m.6-1.6h1m-16.9 2.6h1m4.9 1.8h1m6.6.2h1m-.2-.7h1m2.2-1.2h1m-.1-.8h1m-18.1 4.7h1m15.6 0h1m-13 2.2h1m4.5-.6h1" stroke="#a05080" stroke-opacity="0.5"/>
<path d="M67.4 395.9h1m-6.4.2h1m4 1.4h1m-12.7 4.2h1m1.1.2h1m3.8-1.5h1m2-1.2h1m13.8 1.3h1m-28.4 3.9h1m3.4-.6h1m5.4-.7h1m.6 1.6h1m.4.2h1m-13.8 1.7h1m2.5 1h1m1.5-.5h1m.2.4h1m-.8-.7h1m-.2-1.4h1m6.8 1.4h1m.8.2h1m-.9-1.3h1m-.3 1h1m-15.9 1.4h1m4 .2h1m1.3.4h1m5.7.5h1m2.6.4h1m-17.1 2.9h1m13 .8h1" stroke="#a05080" stroke-opacity="0.5"/>
<path d="M62.4 398.1h1m-3.1 3.4h1m4-1.2h1m-.3 1.1h1m-.5-1.8h1m2.8 1h1m-21.9 4.1h1m3.7-.6h1m5-.2h1m.5.8h1m.4-2.5h1m-.9 1.5h1m8.3-.1h1m4.7-.1h1m-27.9 2.9h1m4.7-.8h1m1 .7h1m3.5.2h1m1.5-1.2h1m.7.7h1m2.9 1.4h1m2-2h1m-27.9 5.1h1m6.4-2.3h1m4.8.2h1m4.5.9h1m4.4-.9h1m-6.5 4.2h1m.3-1.4h1m.9-.1h1" stroke="#a05080" stroke-opacity="0.5"/>
<path d="M63.1 400.6h1m-.3-.5h1m1.2 1.3h1m1.3.1h1m3.9 0h1m-.2.4h1m-19.8 2.1h1m1.3-.2h1m-.7-1.6h1m2.5 2.2h1m.4-.3h1m3.2-1.2h1m.6 1.6h1m-.8-2.3h1m1.9 1.1h1m-.2 1.6h1m8.9-.4h1m-24.5 2.8h1m6.3.5h1m.6-.9h1m-.2-.3h1m2.1.4h1m-.5-.8h1m-.8-.8h1m-.3-.4h1m.2 1.5h1m-8.8 4.2h1m11.3-2.5h1m-16.6 5.2h1" stroke="#a05080" stroke-opacity="0.5"/>
<path d="M57.7 385.9h1m7.3 3.5h1m13-1.2h1m-26.5 5.8h1m2.3 8h1m31.1 10.6h1m-33.2 3.9h1m13.4-.8h1" stroke="#c07090" stroke-opacity="0.5"/>
<path d="M64.9 389.6h1m7.5-.1h1m-10 14.2h1m12.3 1.4h1m-6.7 4.1h1m9.3.5h1m-7.1 2.6h1m-14.3 3.6h1" stroke="#c07090" stroke-opacity="0.5"/>
<path d="M87.2 386.8h1m-10.5 1.1h1m9.6 4.1h1m-43.7 3.6h1m1.2-1.1h1m39.9.4h1m-36.5 17h1m13.7.1h1" stroke="#c07090" stroke-opacity="0.5"/>
<path d="M66.2 387.1h1m8.2 2h1m11.1-.9h1m-4.8 16.6h1m-35.7 7.2h1m9.1 1.3h1m-13 4.7h1m12.9.1h1" stroke="#c07090" stroke-opacity="0.5"/>
<path d="M68.5 386.9h1m-24.3.5h1m4.9 1.7h1m9.8 2.3h1m-3.3 3.7h1m9.8-.5h1m10.9 3.1h1m-27.4 20h1" stroke="#c07090" stroke-opacity="0.5"/>
<path d="M63.6 437.8h1m-5.7 1.5h1m-8.8 2h1m8.9-.1h1m38.3 1.7h1m.7.5h1m-.7-.5h1m-.3.5h1m4.4-.8h1m0-.3h1m-60.8 4.4h1m4.5-2.6h1m-.1 2.5h1m.2-2.5h1m.1-.1h1m1.6 2.5h1m7.4-2.3h1m37.3.3h1m.4 2.3h1m.4.1h1m-64 1.7h1m.9.3h1m-.1-1.4h1m1.2.3h1m2 1.7h1m-.2-.5h1m-.8.3h1m1.4-2.2h1m5.2.4h1m.7-.2h1m2.6 1h1m.2-.9h1m2.9 1.8h1m8.5-1.4h1m7.4.6h1m-.3.3h1m2.2-1.4h1m1.9 2.2h1m-56.6 1.8h1m1-1.3h1m-.8.2h1m1.9 2.7h1m.8-2.7h1m-.5.4h1m1.4 1.1h1m-.7 1h1m.4-1.4h1m-.9 1.5h1m1-.5h1m.1.5h1m-.9-1.2h1m.6.8h1m-1-.9h1m-.1-1h1m4.3.8h1m-.6-.7h1m-.8 2.2h1m25.2-.8h1m5.3-1.4h1m8.7 2h1m-64.8 1.8h1m1.3.4h1m4.9-1.4h1m-.4 2.3h1m.6-1.2h1m6.4-.4h1m1.4-.1h1m1-.6h1m3.5 1.1h1m25.1-.1h1m-.2-.4h1m.4-.1h1m1.6.3h1m1.1 1h1m1.6-.1h1m.3-2.1h1m-.2 1.3h1m-67.9 2h1m12.5-.3h1m1.2 1.8h1m-.8-.3h1m-.1-1.2h1m-.8 1.4h1m-.8.4h1m-.7-.1h1m-.9.2h1m1.5-1.7h1m-.9 2.2h1m.5-1.3h1m-.3.9h1m-.9-1.7h1m1.7 1.1h1m10.7.4h1m16.8-.1h1m1.7.4h1m5.1-.9h1m-.9.9h1m.3-2h1m4.7 0h1m-71.6 3.1h1m2.6-.5h1m-.2 2.7h1m4.2-2.4h1m1.9 1.9h1m1.8-1h1m-.7 1h1m.3-.9h1m.4.3h1m41.4-1.4h1m2.5.5h1m-57.8 3.1h1m12 .4h1m4.9-.9h1" stroke="#777" stroke-opacity="0.5"/>
<path d="M61.8 436.8h1m5.1-.1h1m.3-.2h1m32.7.3h1m5.2-.9h1m-55 2.4h1m11 2h1m38.3-.9h1m.2.6h1m-54.7 2.2h1m48.9 1.4h1m.7 0h1m-.9-.4h1m-.1.4h1m3.9-.7h1m-65 3.5h1m8.5.1h1m.7-2.4h1m2.1 2.7h1m2.6-.6h1m-.6-1.2h1m-.4 1.3h1m5.7-.1h1m23.7-1.8h1m.2 1.5h1m.6-1.4h1m1 1.2h1m2-.5h1m-.4.7h1m-.5.2h1m-.5.8h1m-.5-1.1h1m.3.6h1m5-1.1h1m-66.5 3.7h1m-.9-2h1m.2 2.9h1m.2-2.2h1m.7.3h1m-.2.5h1m-.8.5h1m-.8-1.6h1m1.5 2.2h1m1-.5h1m-.3-.3h1m-.8-.2h1m21.7.6h1m23.7-.6h1m-61.8 2h1m2.4 1.7h1m-.4-1.1h1m3.6.9h1m-.6.6h1m-.5-2h1m-.9.2h1m.1.9h1m0-.1h1m4.8.8h1m5-1h1m26 1h1m.4-1.3h1m-.4.8h1m4.5-1.5h1m-.7.5h1m3.7 1.5h1m1.8.2h1m-66.8 1.2h1m1.4-.5h1m-.6.7h1m0 1.1h1m-.4.5h1m-.8-2.1h1m4.7 0h1m.8 1.2h1m2.8-.9h1m3.5.4h1m-.3 1.3h1m32.9-2h1m5.8.2h1m5.3-.1h1m-.7-.5h1m-69.6 5h1m4.8-2h1m-.3.7h1m2.9 0h1m6 1.7h1m-.7-1.4h1m2.9 1h1m-.1-2.2h1m33.5.4h1m1.7 2.3h1m.2-.2h1m-.1-.2h1m2.6-.4h1m-72.9 3.8h1m13.2-.1h1m-.7-2h1m-.2.2h1m-.4 2h1m1.6-2.4h1m-.7 1.5h1m-.3-1h1m0-.1h1m3.7 1.7h1m-.6-.9h1m12.7-.9h1m20.1-.7h1m.1.8h1m3.8.9h1m1.8 0h1m-52.5 1.9h1m-.7-.1h1m5.5-.5h1" stroke="#777" stroke-opacity="0.5"/>
<path d="M101.9 436.8h1m4.4 1.8h1m-52.5 4.8h1m3.3-1.2h1m.5.3h1m54.4.3h1m-74.4 2.2h1m3.1 0h1m8.9.4h1m1.8.9h1m.2-1.6h1m1.9 2h1m4.4-1.5h1m1.2 0h1m20 1h1m6.1-.9h1m.3.1h1m5.7-.1h1m-59.8 3.4h1m.5-.2h1m-.9.2h1m6.3-1.4h1m4.6 1.1h1m-.9.2h1m-.7.3h1m2.1.7h1m1.1-.5h1m24.6-.4h1m-.3-.2h1m2.8 1.3h1m3.9-2.4h1m.2.1h1m-64.5 4.3h1m6.6.2h1m-.2 0h1m-.1.2h1m4.2-1.3h1m-.2.9h1m-.5-1.6h1m-.2.4h1m2.4.4h1m-.6.7h1m1.3-1.1h1m1.4.5h1m-.9 1.6h1m-.9-.9h1m29-.2h1m.5.1h1m.8-.7h1m-.1.8h1m-.2-1.3h1m1.4 1.9h1m2.1-2.4h1m-.5 1.3h1m.6.2h1m-68.4 1.6h1m5.4 2h1m-.1-.1h1m.4-.8h1m1.9-1.1h1m.1 2.2h1m.8 0h1m0-1.8h1m-.7 1.1h1m.9 1h1m1.8-2.5h1m8.6.9h1m-.3 1.7h1m21.3.1h1m.1-2.4h1m2 1.9h1m.4-.8h1m0-1.2h1m1.8 1.3h1m.5.7h1m.1-1h1m3.5.5h1m-68.6 1.9h1m1.9.1h1m-.2 1.3h1m-.2-1.8h1m-.9 1.1h1m-.1.1h1m-.5.9h1m1.8-1.4h1m1.6 1.9h1m.5-2.1h1m.1.8h1m.3.7h1m-1-.3h1m5.1-1.7h1m-.6.8h1m14.7 1.8h1m17.2-1.3h1m-.2-1.3h1m.1 2.1h1m.6-.5h1m-.9.4h1m2.5-1.2h1m3 .9h1m-67 1.7h1m6.2 1.6h1m4.2.4h1m.4-1h1m.2.4h1m.2-.4h1m-.5-.9h1m-.8-.3h1m7.6 1.3h1m19.3-.3h1m-36.8 2.7h1m1.2-.4h1m43.7.7h1" stroke="#777" stroke-opacity="0.5"/>
<path d="M92.8 439h1m8-1h1m9.8 2.3h1m-67.2 3.1h1m5.5.5h1m-.4-.2h1m11.2-1.1h1m.4.4h1m.1-1h1m3.5 1.2h1m24-1h1m8.4.4h1m-39.6 3.3h1m4.3-.3h1m16 .4h1m8-.9h1m1-.9h1m.3 2.7h1m.3-2.2h1m.3 1.8h1m4.1-2.5h1m-62.3 3.3h1m2 1.3h1m-.7.1h1m2.6-.4h1m-.2-1.1h1m2.1 2.1h1m.3-.9h1m.4.8h1m-.6.7h1m5.7-1.7h1m3.2-.4h1m24.9 1.8h1m-.2-.7h1m1.1-1.5h1m-.9 0h1m1.3 1.7h1m-.5-2h1m1.4 1.9h1m.5-.5h1m3.4-.6h1m.3-.7h1m-73.1 2.9h1m4.5.7h1m1.6-.8h1m.8 2.8h1m.3-1h1m-.5.3h1m3.5-1.6h1m.6-.5h1m-.5.8h1m.1 1.8h1m2.1.3h1m6.7-2.4h1m10.5.8h1m.2 0h1m13-1.2h1m1.2.7h1m.2 1.8h1m3.8.3h1m-.8-2.8h1m.9.3h1m-.9 1.2h1m.1.2h1m0 .4h1m-69.5 1h1m-.7 2.3h1m.3-.5h1m-.9-1.5h1m1 .1h1m1.3.5h1m-.2-.1h1m7.2.2h1m-.6-1h1m0 2.6h1m-.8-2.7h1m1.2 1.4h1m1.4.8h1m34.5-1.1h1m-.9-.7h1m-.5.9h1m-1-.6h1m-.9-.6h1m-.7.4h1m-.6-.2h1m-.5 2.1h1m2.1-1.1h1m2.1-.1h1m-1 1h1m0 0h1m-71.2 3h1m7.4-1.9h1m1.1 0h1m1.5-.2h1m-.9 0h1m-1 .9h1m3.3.8h1m.5-.5h1m-.7-.5h1m-.8 1.7h1m1.5-2.5h1m-.2 2.7h1m1.1-1.3h1m0-1.4h1m-.4.6h1m13.4 1.7h1m25.3-1.5h1m-59.4 4.7h1m6.4-1.5h1m4.3-.5h1m8.2 1h1m42.3.9h1m-15.5 2.4h1" stroke="#777" stroke-opacity="0.5"/>
<path d="M99.9 425.4h1m3.1 14.7h1m2.3-.1h1m-50.7 3.7h1m5.6-1.4h1m-.1.5h1m1.2-.4h1m-.2.7h1m31-.4h1m.7 1.2h1m2.9-1.2h1m.7-.6h1m3.6 1.5h1m-64.3 1.9h1m1.7 1.2h1m1.9-1.5h1m5.2 0h1m1.2.7h1m2.5-.7h1m30.1-1h1m11.1 1.7h1m1 .4h1m-59.6 3.6h1m2.6-.2h1m-.1-1.2h1m-.6-.2h1m4.1 1.5h1m7.5-1.2h1m21.9-.9h1m6 .9h1m-.7.6h1m.4-1.5h1m-.3 2.2h1m1.5-.7h1m2.5.2h1m-.6.5h1m-62.1 2.6h1m2.6-.8h1m-.4.3h1m-.8-.3h1m1.9.8h1m1-1.4h1m.4.3h1m1.7.7h1m1.6 0h1m-.2-2.1h1m4.6 2.5h1m26.8-.8h1m3.5-1h1m7.2.6h1m.1-1h1m1.9-.1h1m-.6 1.6h1m-72.8 2.6h1m5.9.1h1m-.4 1.4h1m-.4-2.4h1m-1 .4h1m1.1 1.3h1m-.9.4h1m-.2-.3h1m-.7-.9h1m-1-.4h1m-.9-.2h1m-.9.9h1m0-.2h1m-1-.9h1m-.2-.4h1m-.9.3h1m3.3 1.1h1m2.2.9h1m.6 0h1m4.4-.5h1m18.1-.6h1m5.9-1h1m3.4 2.2h1m1-.3h1m-.7-1.7h1m-1 1.1h1m-58.3 1.3h1m.6 1.6h1m-.2-1.2h1m2.5-.4h1m3.9 0h1m-.5.8h1m.2 1h1m-.9.9h1m-.2.1h1m1.7-2.5h1m.1-.2h1m0 .2h1m-.6.3h1m-.6 1.3h1m31-1.7h1m3.1-.2h1m7.6 0h1m-72.7 4.7h1m4.7-1.6h1m3.1.3h1m3.4.6h1m.6.9h1m-.5-.1h1m2.2 1h1m1.2-1.2h1m-.2-1.2h1m6.4.6h1m25.8-.8h1m4.8.7h1m-50.2 2.8h1m3.3.2h1m20.7-.1h1m12.9 1.1h1" stroke="#777" stroke-opacity="0.5"/>
<path d="M96.2 427.2h1m20.9-.9h1m-7.6 5.2h1m2.9-2.3h1m-34.4 6.6h1m-40.2 5.1h1m84.2-.5h1m-39.7 5.8h1m1.6.2h1m11-1h1m-29.6 3.6h1m32.6-.2h1m27.7 1h1m-.2 1.5h1m-61.2 2.1h1m11.5 1.7h1m27.2-1.2h1m6.6 4.1h1m69.4 48h1m18.9-1.2h1m12.9-.8h1m-30.2 7.8h1m44.6 1h1m-35.6.6h1m14.9-.2h1m9.7.6h1m37.3 1.3h1m-74.6 3.2h1m50.5-1.5h1m-26.5 3.4h1m6.8-.2h1m31.3.6h1m-10.2 2.5h1m-70.2 4.3h1m.3 3.1h1m57.4.3h1m-146.2.3h1m118.1 2.2h1m3.3 0h1m16-.4h1m-201.7 2.4h1m21.8 1.4h1m30.8-2h1m4.1.9h1m79 .8h1m1.5-2.4h1m59.3.6h1m-184.5 4.5h1m34.6-1.4h1m116.7 1.9h1m6.4-.2h1m37.5-2.4h1m-198.9 5.4h1m25.8-.4h1m10-.5h1m15.1-1.5h1m90.1.6h1m-155.9 3.6h1m53.6.7h1m-55.5 1.7h1m41.1 2.3h1m-54.4 2.8h1m49.1-.9h1m26.4.1h1m2.7.9h1m2.5-.2h1m120.8-2.4h1m-176.8 3.1h1m123.3 2.2h1m42.4-1.3h1m-162 2.2h1m16.7 1.4h1m85.3-1.3h1m52.5 2.3h1m3.1 0h1m1.2-1.5h1m-168.7 6.5h1m47.8-1.7h1m95.6 2.4h1m-123 1.7h1m84-.4h1m22.4-.3h1m53.5-.4h1m6.1 1.5h1m2.8-1.1h1m-.8.5h1m-211 3.8h1m132.2.8h1m-156 2.2h1m139.9-.3h1m-80 2.2h1m11.2.8h1m66-.6h1m56.3-.6h1" stroke="#aaa" stroke-opacity="0.5"/>
<path d="M67.2 426.2h1m-.5 5.5h1m54-.2h1m-47.8 1.7h1m4.7 1.2h1m36.6.3h1m-72 2.9h1m54 .2h1m33.6-2.5h1m-90.8 4.9h1m43.8-.6h1m4.5-.4h1m29.3 1.2h1m-65.4 1h1m35.7 2.5h1m25.5-2.7h1m-73.8 4.5h1m53 3.6h1m21.6.1h1m-54.1 2.1h1m31.7-.2h1m-58 4.2h1m.3-2.5h1m77.1 2.5h1m-82.5 1.4h1m24.3-.7h1m24.5.3h1m-25.8 2.9h1m27 1.9h1m-22.5.8h1m186.1 39h1m4.9 4.4h1m-93.1 5.9h1m3.2-1.1h1m24.1 1.6h1m16.2 2.1h1m-.7 1.3h1m20.1-1.8h1m24.9 5h1m-94.2 6.8h1m8.5 1.4h1m42.6 1h1m30.1-.4h1m-86 6h1m56.6-1.7h1m30.7 2.1h1m-213.3 1h1m32 .7h1m17.6 1.4h1m82.2-.1h1m15.3-2.5h1m58.5.8h1m-203.1 3.2h1m23.6-1.1h1m1 .6h1m-22.9 4.9h1m43.6-1.7h1m83-.6h1m4 1.4h1m-167.8 2.2h1m68.1 1.9h1m114.8-1.5h1m-107 1.9h1m16 .9h1m108.3-.7h1m22.9 0h1m-187.3 3.8h1m104.6-.3h1m-75.7 3h1m87.2-.5h1m74.2.2h1m-92.6 2.9h1m19.7 1.2h1m34.3 0h1m-182.6 1.8h1m33.1-.3h1m14.9 2h1m97.3-.8h1m27.3 1h1m11.8.5h1m-188.3 1.8h1m143.9 1.2h1m2.3-.4h1m41.9-.9h1m6.8 1.1h1m-194.9 1.2h1m41.6-.1h1m122.9.3h1m-179 4.8h1m44.3-1h1m-39.4 1.6h1m208.6-.5h1m-181.7 4.1h1m39.8.6h1" stroke="#aaa" stroke-opacity="0.5"/>
<path d="M60.7 428.5h1m45.9-.3h1m22.2-1.6h1m7.5-.5h1m-89.3 4.7h1m12.6 6h1m38.4-1.6h1m25.7 1h1m-66.4 4h1m1.4-1h1m15.4-.9h1m19 2h1m8.5-1.3h1m-40.1 2h1m5.9.8h1m2.4 3.1h1m27.6 0h1m-21.7 4.5h1m15-.6h1m-21.7 3.3h1m26.7.3h1m-.7-1h1m-11 1.8h1m3.8 2.3h1m-33.8 2.7h1m0-1.4h1m33.4 1.5h1m8.6-1.6h1m61.4 44.1h1m41.6 0h1m32.9 1.6h1m14.1-1.4h1m-14.7 5.3h1m1.9.5h1m-42.9.5h1m11.8 5.5h1m32.5 0h1m1.5-1.5h1m1.4 1.2h1m-77.5.5h1m23.1 2.3h1m47.5 2.1h1m-66.5 5.7h1m69.6 1.9h1m-141 5.8h1m-82.9 2.2h1m9.2-1.7h1m36.5 1.4h1m92.2-.1h1m-.8.5h1m30.1-.6h1m40.4-.3h1m-174.7 4.3h1m180.3-.2h1m-233.6.7h1m175.4 2.9h1m8-1.8h1m-93.4 2.2h1m131.3 2.2h1m-213.8 1.7h1m137 .7h1m67.1-.7h1m-187.1 4.7h1m.2-1.8h1m7.6 1.3h1m186.5-2.3h1m-229.6 5.1h1m2.1.2h1m155.7-.3h1m17.6-.6h1m55.6.1h1m-9.9 3.5h1m-192.4 3.4h1m8.3.4h1m-.2-1.9h1m15.3-1h1m8.2.1h1m97.8 1h1m65 1.1h1m-155 2.6h1m71.5-.5h1m31.1-.9h1m-149.2 3h1m15.7 1.6h1m143.4 2.7h1m28.5.2h1m-2.8 2.4h1m-147.5 4.6h1m83.2-2.6h1m69.8.8h1m-225.3 2.3h1m146.6.4h1m44.2.1h1m3.4-.5h1" stroke="#aaa" stroke-opacity="0.5"/>
<path d="M103.2 428.5h1m25.1-.7h1m1.1 0h1m-90.9 3.7h1m78.2-2.1h1m-60.6 4.2h1m31.9 6.2h1m7.9.2h1m24.7-1.6h1m-65.6 4.1h1m24.7 4.8h1m-30 5.1h1m28.9-.2h1m-26.7 3.1h1m26.9-1.8h1m-.2 1.2h1m.3 0h1m13.7 1.1h1m6.8-2.1h1m-69.8 7.2h1m24.7.3h1m43.3-1.3h1m17.5.6h1m119.1 40.3h1m-44 .6h1m62.7 1.5h1m-20.6 1.8h1m-73.2 3.5h1m74.8.1h1m-9.4 2.6h1m2.4 1.6h1m-38.6 2.9h1m28.2.2h1m30-1.9h1m-91.3 4h1m55.7 1.1h1m20.9 2h1m.7.8h1m-68 2.4h1m-13.6 5.3h1m-150.8 2.6h1m2.7 1h1m83-.8h1m-84.4 4h1m170.5-1.8h1m-96.8 5.1h1m63.6-1.6h1m10.3-.6h1m-156.5 3.1h1m0 2.2h1m41.4-1.1h1m99.2-.3h1m21.4.8h1m69.7-.6h1m-157.4 2.7h1m110.2 0h1m33.5-.5h1m-67.8 4h1m-159.1 2.9h1m59.4 1.1h1m144.1.2h1m7.1-2.3h1m-203.7 3.2h1m33.4-.4h1m35 1.6h1m107.8.5h1m24-.9h1m-200.8 3h1m52.2-.4h1m10.4.4h1m-67 4.2h1m34.1-.1h1m30.1-2.4h1m127.6 1.6h1m11.6.4h1m-129.1 5.5h1m84.9-.8h1m2.2.6h1m22.2 1.2h1m-49.8 1.2h1m3.5.4h1m37.3.2h1m-189 2.5h1m57.2 1.2h1m75.2-1.9h1m19.9 2h1m2.4 0h1m9.4-1.2h1m16.4 1.2h1m6.6.3h1m22.8-1.7h1m-186 2.5h1m31.5 1.5h1m92-1.6h1" stroke="#aaa" stroke-opacity="0.5"/>
<path d="M121.9 425.9h1m-2.9 1h1m-20.1 4.9h1m-6.4.8h1m8.5.6h1m.4 1.6h1m16.9 2.8h1m-24.1 2h1m34.9.4h1m-75.1 6.4h1m-17.1 1.9h1m16.5-1.3h1m7.8.2h1m19.5-.1h1m-2.3 4.2h1m6.8-.4h1m7.2.6h1m-59.1 4.2h1m77.6.2h1m-41 1h1m-42.3 3.2h1m173.9 40.5h1m10.9 2.4h1m-.4-1.1h1m10.5-.1h1m-16.5 4.9h1m-6.9 5.5h1m4 3.4h1m47.7-1.5h1m-25.3 4h1m-62.7 1.1h1m10.2 1.4h1m33.7-1.6h1m6.8.2h1m12.8 1.8h1m-24.9 2.1h1m24-.6h1m10.9-.4h1m4.6.1h1m-38.9 7.1h1m-198 3.5h1m54.1-.7h1m38.4.3h1m92.2.8h1m-149.6 1.5h1m39.4-.4h1m106.7-.2h1m-192.1 4.9h1m2.4-1.8h1m163.9 1.6h1m-124.7 2.6h1m20.6.3h1m81.4.8h1m25.3-2.2h1m3.8 2.4h1m23-2.6h1m9.9 0h1m-170.5 3.7h1m18.1 1.6h1m-44.8.8h1m18.2 2.7h1m7.4-1.9h1m145.7-.6h1m6.6.4h1m.3.3h1m-170.4 2.2h1m11.4 2.3h1m152.7-1.5h1m21.8 1.1h1m-12.8 3.2h1m14.5-.2h1m-11.2.9h1m-57.3 4.8h1m33.2-.3h1m-178.1 1.6h1m.2 1.4h1m38.9.6h1m87.8-.4h1m3.3 1h1m18.2 0h1m28.1-2.5h1m-154.9 4.1h1m97.3.5h1m-75.5 1.4h1m-35.1 3.2h1m38.2 1.5h1m70.4-1.1h1m28 .8h1m-169.5 1.7h1m37.4 1.6h1m.2-1.6h1m21.4 1h1m81.3-1.1h1m27.2.3h1" stroke="#aaa" stroke-opacity="0.5"/>
<path d="M256.2 392.9h1m0-.6h1m-.8-1h1m.5.7h1m1.7-.5h1m0 1.2h1m-.6 0h1m3.8-.2h1m3.1-1.3h1m-21.9 4.3h1m4.2.1h1m3.9.2h1m1.2-1.2h1m-13.4 1.7h1m2.8 1.2h1m1.8 1.2h1m-.6.1h1m-.8-1.3h1m-.4-.9h1m-1 0h1m-.5.6h1m-1 .3h1m-.8 1h1m-.2-1.4h1m-.4 1.5h1m-.9-2.6h1m-.5.6h1m-.6 1.9h1m-.1-.9h1m-.1-.8h1m-.9 1h1m1.8-.2h1m-.5 1.2h1m-.8-1.9h1m-.5 1.4h1m-29.5 1h1m14.1 2h1m.1.6h1m-.8-2.9h1m-.6 2.9h1m-.9-1.9h1m1 1.1h1m-1 .5h1m-.6-2h1m-.7 1.5h1m-.9-.2h1m-1-1.2h1m-.6 1h1m-.9.6h1m-.9-1.7h1m-.6.5h1m-.5 1.6h1m-.4-1.7h1m-.8-.5h1m-.2.1h1m-1 .1h1m-.6 2h1m-1-2.7h1m-.9 2.2h1m-.8-1.6h1m-.1.1h1m4 .9h1m-25 3.9h1m-.8-.5h1m3.3-.2h1m-.3.9h1m-.4-1.7h1m-.9-.9h1m1 2.5h1m-.1-.3h1m1 .1h1m-.3-1.1h1m-.9 1h1m-.6.4h1m-.2-.8h1m-.9-.4h1m-1 .5h1m-1 .4h1m-.9-1h1m-1-.2h1m-.4-.1h1m-.9.7h1m-.8.9h1m-.9-.5h1m-.4-1.3h1m-.8 1.8h1m-.9-.3h1m-.8-.2h1m-.7-.5h1m-.2-.1h1m-.1.4h1m-.6.2h1m-.8.7h1m-.9-.7h1m-.2.4h1m.3-2h1m-.2.2h1m-.6-.8h1m-.4.2h1m1.5 2.5h1m-42 2.4h1m3.6-.3h1m1.7-.6h1m7-.3h1m.2-.5h1m.6.4h1m-.9 1h1m1.6.5h1m-.9-.2h1m-.6-1.7h1m-.8 1.3h1m-.8-.4h1m-.1-1h1m-1 .1h1m-.7 2h1m.3-.8h1m-.9-1.3h1m-.1.1h1m-.6.5h1m-.4 1.6h1m-.9-2.3h1m-1 1.3h1m-.9.3h1m-.8-.5h1m.1-.1h1m-1 1.7h1m-.8-.4h1m-1-.2h1m-.6-1h1m-.8 1.3h1m.7-2.2h1m-.3.5h1m-.9 1.3h1m-1-1.6h1m-.4 1h1m.5.6h1m-1-1.7h1m.1 1.6h1m.9-1.4h1m1 .9h1m1.1 1.1h1m-27.8 1.5h1m-.7 1.2h1m-.9-1.5h1m.5-.2h1m.2.2h1m1.2 1.1h1m0 0h1m.2.9h1m-.7 0h1m.5-2.8h1m-1 2.7h1m-.1-2.4h1m-.1.1h1m-.6-.5h1m-.9 1.1h1m-.5-.8h1m-.7.9h1m-.7 1.1h1m-.7.1h1m-.8-.2h1m-.5-.7h1m-.9 0h1m-.6-1.3h1m0 2.7h1m-1 0h1m-.8-2.4h1m-.6-.4h1m-.8 1.2h1m-.8-.3h1m-.9-.2h1m-.2.9h1m-.7.9h1m-.8-.9h1m-.9.9h1m-.9.2h1m-.3-2.4h1m-.9 2.1h1m.3 0h1m-1-.7h1m0 .8h1m.4-.7h1m3.7.3h1m.8-2h1m-40.4 3.5h1m9.7 1.4h1m-1-.4h1m-.2-.7h1m-.6.8h1m.1-.6h1m2.2-.8h1m-.7 1.7h1m-.6-1.3h1m-.4 1.3h1m-.6-1.9h1m-.6 2.5h1m-.5 0h1m-.7-1.1h1m-.5-.3h1m-.7.9h1m-.5-.9h1m-.7.3h1m-.5.5h1m-.8.2h1m-.2.4h1m-.7-.3h1m-.4-2h1m-.8 0h1m-.2.3h1m-.1 2.2h1m.6-1.9h1m0 1.7h1m-.3-2.7h1m-.9 1.5h1m-.9-.3h1m-.9-.8h1m-.8.6h1m0 1.2h1m1.8-1.2h1m.6.7h1m2.2-1.5h1m-34.8 4.7h1m7.1.8h1m.5-2.1h1m-.7 1h1m-.5.8h1m-.6-2.2h1m-.8.5h1m.5 1.9h1m0-1.4h1m-.9-.7h1m1.4.8h1m-.3-.1h1m.5.8h1m-.5-.7h1m-.9 1.2h1m-.3-1.6h1m-.3.4h1m-.6-.6h1m.5-.5h1m-1 0h1m.1.4h1m-.3.1h1m.4 2.2h1m.5-.7h1m.8 0h1m-26.9.9h1m4.6 2h1m.6-1.6h1m.9 1.8h1m1.6 0h1m.3-2.3h1m4.2 2.8h1m-.7-1.6h1m.1 1.2h1m2-.3h1m3.6-1.2h1m-27.2 3.6h1m2.2-1.2h1m3.4.7h1m-.9-.4h1m.3 1.5h1m2.9-1h1m.8 1h1m-.3-1.1h1m8.1 0h1m1.4 1.8h1m-31.9 1.8h1m10.2 1.5h1m2.4.2h1m4 9h1m4.9 1h1m8.4 57.8h1m-210.5 3.7h1m13.9-.7h1m10.9 0h1m-.5-1.8h1m-29.4 4h1m5.9.6h1m3.9-1.8h1m-.3.3h1m-.7 1.7h1m-.7.5h1m-.1-.7h1m5.1.3h1m165.2-.5h1m17.3-.9h1m.7-.5h1m-211.5 3.6h1m-.5.4h1m0 1.2h1m1.4.3h1m4.2-1.7h1m2.3-.7h1m-.7.7h1m-.8 1.7h1m.5-1h1m-.7 1.1h1m-.5-.2h1m.4-.4h1m1.6-.4h1m-.8.4h1m1.3-2.3h1m1 2.3h1m-.5-.4h1m1.3.8h1m1.5-1.5h1m.3-.8h1m4.1 1.9h1m168 .1h1m-.8-.7h1m-.7.3h1m.6-1.3h1m-.9 1.1h1m-.5-1h1m-209.7 2.2h1m2 .8h1m1.9.7h1m1.2-1.3h1m-.1-.1h1m-1 .1h1m.2.7h1m-.9-.2h1m-.6.5h1m-.7-.1h1m-.6.6h1m2.7 1.1h1m-.7-.2h1m-.5-.4h1m-.7-.9h1m1.2-1.3h1m-1 2.7h1m-.9-2.7h1m-.8 1.5h1m.3.4h1m-.7-.4h1m-.9.8h1m-1-1h1m-.3-1.2h1m-1 2.8h1m.2-2.2h1m2-.5h1m-.3 2h1m-.7-.8h1m.6-.9h1m-.9 2.4h1m0-.3h1m.6-2.6h1m2.2 1.9h1m5.3-1.5h1m153 1.9h1m2.6.3h1m-.2-2.4h1m-.8 2.1h1m-.1-1.3h1m2.1 1.8h1m1.1-1.7h1m-.7 1.6h1m-.5-.2h1m.8-1.5h1m1.1-.7h1m4.7.2h1m-219.9 2.9h1m-.3.2h1m-.7-.2h1m1 1.6h1m1.9.9h1m-.6-1.3h1m1 1.1h1m.7-2.1h1m-.3.3h1m1.5 1.1h1m2.5.6h1m.3-.9h1m-.7-1h1m-.6 2h1m.6-2.1h1m-.9 1.7h1m-.3.6h1m-.2-2.2h1m.4 1.7h1m-.9-1.8h1m.3.2h1m-.6.3h1m-1 1.8h1m-1-.6h1m-.9-.5h1m.6-.7h1m-1-1.1h1m-.5.7h1m.4 1.8h1m-.9-1.7h1m-.9-.7h1m1.2 1.6h1m-.3.4h1m4.7-.6h1m157.3.7h1m-.6-1h1m1.7.3h1m1.9-1.3h1m.2.8h1m1.8 1.6h1m-.3-2.4h1m-.8 2.4h1m-.4-.8h1m-.6-.2h1m.8.7h1m-.2-.5h1m-.8.7h1m-.9-1.5h1m-.3.2h1m0 1.3h1m-.6-.1h1m-.5-1.9h1m3.2-.5h1m-217.1 4.3h1m1.1.5h1m.2-1.5h1m-.1 1.6h1m-.9-1.2h1m1.2-.3h1m-.9-.4h1m-.5 1.5h1m.1.9h1m-.5-.2h1m2.5.6h1m-.4-2.1h1m-.6 0h1m-.7.7h1m-.4-.9h1m-.8 1.8h1m-.9-.2h1m-.7-.2h1m0-1.5h1m-.9 2h1m-.5-1.6h1m-.9 1h1m-1 .9h1m1.1-.8h1m-.3.7h1m-.9-1.4h1m-.3.8h1m-.5-1.3h1m-.5-.1h1m-.4 1.6h1m-.3-1.1h1m-.6-.2h1m-1-.1h1m1.2 1.6h1m-.5-.3h1m-.5-1h1m-.7-.8h1m.5 1h1m-1-.1h1m-.7-1h1m-1 .4h1m.6 1.5h1m2-1.7h1m158.9.1h1m1 .3h1m.7 1.8h1m1.5-1.2h1m-.9.9h1m-.7-1.4h1m-.8 1.2h1m-.9 0h1m-1 .3h1m-.3-1.9h1m-.6 1.3h1m-.3-.2h1m-.3.9h1m-.3-.4h1m-.8-1.4h1m0 1.1h1m-1 1.1h1m-.6-1.7h1m-.8.7h1m-.9-.4h1m.1-.9h1m-.3 1h1m-.6.3h1m-.7-.1h1m-.5-.3h1m-.8-.8h1m-.9 0h1m-.2-.5h1m-.7 2.7h1m.4-.5h1m.6-.3h1m.5-.8h1m9.4.3h1m-228.1 3h1m7.2-.3h1m-.3.9h1m.1-1.4h1m-.3.4h1m2.2 1h1m-.5-.7h1m.8-.4h1m-.9-.9h1m-.8 1.1h1m-.2-.9h1m.3.4h1m-.9.5h1m.7.9h1m2 .2h1m1.3-2.2h1m.4 1h1m0 0h1m.9.9h1m164.3-2h1m-.7-.1h1m-.8 1.8h1m.7 1h1m-.4-1.2h1m-.2-1.6h1m-.3.3h1m-.6 2.2h1m-.9.3h1m-.8-.7h1m-.5-2h1m-.9 2.2h1m-.7-1h1m-.8-.2h1m-.5 1.5h1m-.8-.8h1m-.7.6h1m-.9-1.6h1m-.5 1.6h1m-.8.3h1m-.7-2.5h1m-.8 2.3h1m-.9-2.4h1m-1 1.8h1m-.5 0h1m-.6-.9h1m-.6 1h1m-1 .2h1m-.9-1.4h1m-.7 1.3h1m-.6 0h1m-.6-1.2h1m-.5.4h1m.4-.1h1m-1 0h1m-.6 1.4h1m-.4-.4h1m-.8-2.1h1m-.9 0h1m-.9 1.4h1m-.5-.4h1m-.8-1h1m-.2 1.9h1m-.1-1h1m.8 0h1m2.4-.5h1m14.1 1.3h1m-220.7 1.7h1m1 .3h1m-1 2h1m-.4-.5h1m2-.7h1m1.8.5h1m5.4-1.2h1m.6 0h1m1.7-.8h1m147.8.4h1m7.7 1.8h1m3.3.1h1m.8-.8h1m-.2-.2h1m-.7-.5h1m1.1 1.9h1m0-1h1m-.7-1.4h1m-.9 1.5h1m-.9.8h1m0-.2h1m-.8-2.1h1m-.8.1h1m-.9.8h1m-.7 1.4h1m-.8-1.5h1m-.9.5h1m-.8-.4h1m-.5 1.4h1m-.9-.4h1m-.7-.5h1m-.9 0h1m-.4 1h1m-.9-2.1h1m.8 1.1h1m-.9-.5h1m-.8 1.1h1m-.5-.9h1m-.9-.4h1m-.9.2h1m-.3.2h1m-.9-.6h1m.1.7h1m-.7-1.5h1m.7.2h1m-208.2 5.6h1m7.9-2.7h1m-.3 1.3h1m8.5.9h1m11.1-1.4h1m147.5 1.6h1m3.4-2h1m1.3 2.3h1m1.9-2.2h1m.3 0h1m-.2.6h1m.2-.6h1m-.7 1.3h1m-.1.7h1m-1-.5h1m-1-1.7h1m-.5.7h1m-.6-.2h1m-.8.9h1m.5-1.4h1m-.7.9h1m-.6.7h1m-.9-.2h1m.2-.8h1m-.7-.1h1m-.9 1.2h1m-.7-.3h1m-.9-1.2h1m-.7.5h1m-.8-.4h1m-1 .6h1m-.8-1.3h1m-.2.5h1m-.9.4h1m-.8.3h1m-.7.8h1m.2-.2h1m2.4-.7h1m-.4-.2h1m.3-.4h1m-191 2.9h1m159.8.9h1m9.4 1.5h1m-.3-.6h1m-.8-.8h1m.8 0h1m-.9-1.5h1m.2 0h1m.3 2.9h1m-.5-2.2h1m-.6 1h1m-.6.2h1m-.4-1.3h1m-.7.1h1m.1 1.3h1m-.7-.3h1m-.1-1.6h1m-.7 1.5h1m-.6.6h1m1.7-1.5h1m-.6.5h1m-.3.1h1m-.9-1h1m-.9 1h1m-.8-.5h1m.8 1.7h1m2.4-1.6h1m1.5 1.4h1m-36.9 1.7h1m2.8-.6h1m2.8 2h1m1.8-.7h1m-.7.3h1m-.3.8h1m.2-1.3h1m-.8-.4h1m-.8.4h1m-.7 1.1h1m-.9 0h1m-.5-1.7h1m-.3.2h1m.4 0h1m0 1.8h1m-.1-1.5h1m-.7-.6h1m-.8 1.9h1m-.7-2.6h1m.3 0h1m2.9 1.3h1m1-.6h1m-.3.6h1m-.8-.2h1m-.9 0h1m4.7-.9h1m-30.7 5.1h1m1.9-2.2h1m2.9 1.4h1m-.3-1.4h1m.2 2.4h1m.3-.1h1m1.1-1.9h1m-.6.6h1m3.2.2h1m-.1-1.2h1m-.1 1.2h1m.5-.9h1m-.4 1.1h1m6.1-1.3h1m-24.9 5h1m-.5-1.8h1m6.8-.5h1m0 .4h1m.9.2h1m.3-.5h1m-.5 2.2h1m-6.2 2.4h1m7.5 2.1h1m-18.6 7.2h1" stroke="#e03418" stroke-opacity="0.6"/>
<path d="M262.3 383.3h1m-4.1 5.7h1m.1-.4h1m3.9-1h1m-.1 1.1h1m.4.8h1m-18.9 3.3h1m2.5-1.2h1m1.4-.9h1m3.2 2h1m3.4-.7h1m-28.1 1.2h1m16.3 1.2h1m1-.6h1m-.3.4h1m5.6 1.5h1m-.2-2.5h1m-.4 2.6h1m-.9-1.2h1m2 1h1m0-1h1m-18.1 3.4h1m.3-.5h1m.6.1h1m1.2-1.6h1m-.5 1.9h1m.8.6h1m1.2-.4h1m-.3.7h1m-.7-.4h1m1.3-1.9h1m0 2h1m.3-.8h1m2.3-.4h1m1.7.1h1m5.3.9h1m-50 1.9h1m12 .5h1m4.5 0h1m.6.9h1m-.4-2.6h1m-.9 2.3h1m0 .1h1m-.8-1.2h1m-.1 1.2h1m-.6-.6h1m.7-.6h1m-.1 1.2h1m.9-1.8h1m-1 .7h1m-.8-.2h1m.7 1.2h1m-.9-.7h1m-.5-.4h1m-.7.8h1m-.2.9h1m0-1.8h1m-.9 1.3h1m-.5.5h1m-.5-2h1m.2.4h1m-.7-.7h1m2.7 1.2h1m-.5-.3h1m-23.7 1.6h1m2.1.2h1m-.3 2.2h1m-.5-1.2h1m0 1h1m1-.3h1m-.5-.4h1m-.6-1.1h1m-.9 1.1h1m-1 .3h1m-1-.4h1m.3.3h1m-.7-1.2h1m-.5-.5h1m-.9 2.6h1m-.8-1.5h1m-.9-.6h1m-.5-.4h1m-.7 1.8h1m-.3.3h1m-1-2.1h1m-.9 1.2h1m-.7 1.5h1m-.9-1.9h1m-.9-.9h1m-.9 0h1m-.7 2.6h1m-.2-1.7h1m-.6.9h1m-.9-1.2h1m-.1 1.8h1m-.5-1.9h1m-.8-.5h1m-.1 0h1m-.4.2h1m2.5 1.1h1m-.7-1.2h1m-23.3 4.1h1m1.5.6h1m-.8.2h1m.2-.8h1m-.5-.1h1m-.6.7h1m-.8-.8h1m-.9.1h1m-.6.5h1m-.9-.2h1m-.8.4h1m0-.5h1m-.9.5h1m-.5-1.5h1m-.4 2.5h1m-.3-.6h1m-.6-2h1m-.4 2.3h1m-.6-.9h1m-.3-1h1m-.7.9h1m0-.8h1m-.8 1.1h1m-.9-.6h1m-1-.8h1m-.7.6h1m-.9.6h1m-.9-1.3h1m-.6 1.8h1m.2-.5h1m.4-1.1h1m-.6 1h1m-.8-1.4h1m-.2.5h1m-.9 1.8h1m0-2.4h1m-27.9 5.6h1m2.9-.2h1m1.6 0h1m-.5-1.2h1m-.7-.1h1m.3.9h1m-.8-.1h1m2.1-.9h1m-.6-.9h1m-.4 1.7h1m-.9-1.9h1m-.6 2.2h1m-.4-1.9h1m-.6 1.5h1m-.7-.7h1m-.4 1.6h1m-.9-.7h1m-.9-1.8h1m.6-.1h1m-.4 1.1h1m-.8-1.1h1m-.9 2.8h1m.1-2.4h1m-.2-.5h1m-.9.6h1m-.3 2h1m-.6-.7h1m-1-.2h1m-.4-.6h1m-1-.9h1m-.4 1.9h1m-.9.7h1m-.4-2.4h1m-.8 2.3h1m-.3-2.3h1m-.2 2.4h1m2.6-.8h1m-.3-1.4h1m1.9 2.1h1m-29.7 3h1m-.3-.4h1m2.6-.8h1m-.8-1h1m-.6.4h1m.9.4h1m-.3 1.6h1m-.1-.1h1m-.8-.5h1m-.9-.4h1m.1-1.1h1m-.2-.4h1m-.9.2h1m-.1 2h1m-.7-.2h1m-.8-.8h1m-.3-.7h1m-.5-.6h1m-.5 1h1m0 .2h1m-1-.5h1m.6 1.2h1m-.7-2.2h1m0 .9h1m-1 .5h1m-.8 0h1m5.3.1h1m-25.2 3.1h1m.6.8h1m.4-.9h1m-.6-.9h1m1.2 1.8h1m-.2-.6h1m.9-1h1m-.5.3h1m-.5.9h1m-.9-1.9h1m-.9 1.9h1m-.9.3h1m-.6-.3h1m.4-.8h1m.1-.9h1m-.9 0h1m-.5 1.4h1m-.8-1h1m-.1-.7h1m-.6 1.4h1m.1-1.1h1m1.1 1h1m.1 1.6h1m-.6-2.9h1m-.7 2.8h1m.2-.8h1m3.4-.5h1m-26.9 2h1m.4-.3h1m.4 2h1m.6-2h1m-.4 1.6h1m2.9-1.2h1m-.3.2h1m.7-.6h1m-.8.4h1m1.7-.3h1m-.3.1h1m-.7 2.5h1m.4-.7h1m3.9.2h1m-29.3.8h1m1.6 1.8h1m5.4-.8h1m1.7.8h1m1.3-1.9h1m-.6.3h1m1.9 0h1m-.6 2.3h1m0-1.7h1m.6.1h1m.6.1h1m-.3-.6h1m1.7 1.4h1m-14.8 2.1h1m3.8 3.7h1m4.6.5h1m3.5 4h1m.9 58.5h1m-202.9 6.4h1m11.8-1.7h1m2.4 1.6h1m-.9.8h1m174-.5h1m13-1.7h1m-201.7 3.8h1m-.4.3h1m.9.7h1m-1-2.4h1m3 1.7h1m2.5-.6h1m-.2-.4h1m-.5 1.7h1m.9-1.4h1m4.8-.4h1m5.8 1.1h1m168.2 0h1m.2.5h1m-199.6 2.5h1m1.3-1.6h1m-.8 1.6h1m2.4.3h1m.2.8h1m-.7-1.7h1m-.5-.1h1m-.5 0h1m-.4-.2h1m-.8 1.7h1m-1-1.6h1m-.5.5h1m-.7.6h1m-.1-1.9h1m-.5 2h1m-.3.7h1m-.4-1.7h1m3.7 1.2h1m.1-2.4h1m2.7 2.1h1m-.9.2h1m-.6-.7h1m1.2.7h1m164.7-.8h1m2 .7h1m1.3-2.2h1m2.4 1.3h1m1.1 1.3h1m-219.9 2.5h1m2.9.1h1m6.4-1.1h1m-.9-.2h1m1.3 1.5h1m-.7-2h1m-.1 1.5h1m.6-.7h1m1 .3h1m-.7.9h1m-.8-.1h1m-.9-1.2h1m-.9.8h1m-.7-.6h1m0 .8h1m.1-1.4h1m-.7 2h1m-.9-2.5h1m-.1 2.3h1m-.2-.1h1m-.5 0h1m-.8-1.1h1m1.5-.7h1m-.8-.6h1m-.1 2.7h1m-.7-.4h1m-.1-2.1h1m-.6-.2h1m-.3 1.7h1m3.5-.3h1m-.3-.3h1m-.5-.5h1m1.1-.5h1m-.6 1.5h1m-.8-1.2h1m165.4.2h1m0 1.2h1m-.7.6h1m.5-.4h1m-.5-.6h1m-.9-.3h1m.9-.2h1m.5.8h1m.6-1.4h1m.5.3h1m-.5.1h1m.3 1.3h1m-.5-1.5h1m-218.7 2.9h1m3.6 1.3h1m.9 1h1m.7-1.2h1m.2.2h1m-.5.9h1m-.4-1.7h1m-.9 1h1m.5.7h1m1.7-.1h1m-.9-1.8h1m-.7 2.1h1m-.4-.8h1m.3-1.1h1m.4 1.6h1m.4-.9h1m-.8.1h1m-.2 1h1m-.2-2.3h1m-.4 1.9h1m-.6-.5h1m-.9-1.4h1m-1 1.4h1m-.7-1h1m-1 .4h1m-.8 1.7h1m-.5-.7h1m.6-1.2h1m-.5.4h1m-.6-.8h1m.5.7h1m0-.3h1m-.7-.8h1m0 .9h1m-.9-.2h1m-.5.4h1m-.9.3h1m-.8 1.3h1m-.9-1.6h1m-.9-.8h1m-1 2.2h1m-.6-.6h1m.2-1.4h1m-.9-.7h1m2.3 1.1h1m.3-.4h1m-.2 2h1m1.4.2h1m1-1.7h1m159.9.7h1m0-.4h1m-.6 1.3h1m2-1h1m-.7-1.1h1m-.6.9h1m-.8-1.2h1m-.6 1.3h1m-.1.5h1m-.8-.4h1m.1.1h1m.5.2h1m-.3-1.3h1m-.3 1.1h1m-.7-1.8h1m.8 1.6h1m1.4.7h1m-.6-.3h1m-.4-1.2h1m2.7.9h1m-219.6 2.8h1m-.9.5h1m1.5.5h1m2.2-.4h1m-.8-.6h1m-.6-1.6h1m.3.4h1m-.6 2.5h1m-.5-.7h1m-.7-.5h1m.2-1h1m-1 1.6h1m.9-1.3h1m-.7 1.2h1m-.6-.6h1m0-1.6h1m-.9 1.8h1m-.5-1.5h1m-.5 1.2h1m-1 .9h1m-.9-.5h1m-1-.5h1m.1-.8h1m-1 .6h1m1.6-1.2h1m-.1 1.7h1m-.5-1.6h1m-.8.1h1m-.2.6h1m-.3-.2h1m1 1.8h1m-.6-.6h1m.6 0h1m.8-1.7h1m1.2 1.1h1m160.8 1.5h1m.9-2.2h1m1.6 2.1h1m-.3.1h1m-.5-1.9h1m-.8.5h1m.1.7h1m-.5-1.5h1m-.8 2.2h1m0-.2h1m-.6-.2h1m-.8-1.6h1m-.7 1.6h1m-.8-.2h1m-.5.8h1m-.6-2.6h1m-.9 1.7h1m0-.8h1m-.9 1.2h1m-.9-.1h1m-.5-.9h1m-.4-1.3h1m-.3 1h1m-.8-.1h1m-.1 1.5h1m-.9-1.8h1m-.1 1.9h1m-.9-.3h1m-.8-.7h1m2 1.3h1m.7-2.8h1m-.1.7h1m-.6 1.7h1m2.2-.8h1m-219 2.6h1m4 0h1m-.3 1.5h1m-.8.1h1m-.3-2.8h1m.4 1.7h1m-.6-.5h1m-.6-1.2h1m.4.6h1m-.6 1.1h1m-.4 1.1h1m-.4-1.7h1m.4-1.2h1m-.9.1h1m-.9 1.2h1m-.5-1.1h1m-.9-.1h1m-.7 2.3h1m.2-1.8h1m-.8 1.7h1m.4.5h1m.9-.9h1m-.7.9h1m-.7-1.8h1m-.6-.3h1m-.2.3h1m1.5 0h1m-.4-.1h1m1.2-.4h1m-.8.1h1m-.1 0h1m-.9 1.8h1m-.7-.3h1m-.2-2h1m.8 2.8h1m.9-1.7h1m-.5.1h1m155.8-1h1m1.6 2.1h1m-.4-2.4h1m2.2.8h1m-.4 2.1h1m-.9-1.4h1m.3.8h1m-.9-.2h1m-.2.8h1m.7-2.3h1m-.4 1h1m-.7.2h1m-.6 1h1m-.9-.1h1m-.3-.8h1m-.6-1.8h1m.1.8h1m.2 1.6h1m-.9.3h1m-.6-.5h1m-.9.4h1m-.9-1h1m-.1.6h1m-1-1.3h1m-.9-.1h1m-.9 1.3h1m.8-1h1m-.3.5h1m-.9.6h1m2.1-1.1h1m5.6 1.1h1m-202.5 2.7h1m.7-1h1m1.9.2h1m-.5-.9h1m-.7.3h1m.4 1h1m165.3.5h1m1.7-.4h1m-.5-.4h1m1.1-.5h1m-.5.5h1m-.3 1h1m-.6-.4h1m-1 .6h1m-1-.2h1m-.7-.6h1m-.2-1.4h1m-.8 1.5h1m-.8-.8h1m-1-1h1m-.7 1.2h1m-.3-.2h1m-.9 1.8h1m-.9-1.9h1m-.8-.2h1m-.9 1.7h1m-.6-1.7h1m.1 2.1h1m-.8-2.8h1m-.9.2h1m-.8 1.4h1m0-1.3h1m-.8.7h1m-.4 1h1m-.3-1.1h1m-.9.9h1m-1-1.2h1m-.1 1.2h1m-.9.8h1m.4-2h1m-.2 1.6h1m0-.8h1m-.9-.6h1m3-.3h1m-211 3.2h1m1.1.8h1m1.2.8h1m-.1.2h1m.4-1h1m8-.2h1m162.1-1.1h1m9.8 1.8h1m-.9-.1h1m-.8 1h1m-.3-2.2h1m-.9 1.3h1m-.7.7h1m-.3.1h1m-.7-.9h1m.4-.3h1m-.7-.6h1m-.8.9h1m0-1.7h1m-.9 2.1h1m-.7-2.2h1m-.9 2.8h1m-.9-2.4h1m-1 2.4h1m-.7-1h1m-.5.6h1m0-2.5h1m-.9.5h1m-.5-.4h1m-1 1.6h1m-.7.3h1m-.9-.6h1m-.6.2h1m0-1.1h1m1.3.2h1m-.9.1h1m-.4-.5h1m-.4.4h1m-.7.6h1m-.7 1.3h1m-1-1.6h1m0-.4h1m2.4 1.9h1m-222.4.7h1m185 .6h1m9.4 2h1m1.1-2.5h1m-.5 2.3h1m-.8-1.3h1m.4.7h1m-.9 0h1m-.4-.7h1m.4-.6h1m.1.9h1m-1-.7h1m-.7 1h1m-.6-1.3h1m-.8 2h1m-.3.2h1m-.5-.2h1m-.5.3h1m.6-2.6h1m-.9 2h1m-.9.4h1m-.9-2.3h1m.6 1.3h1m0 .8h1m-.8-1.8h1m-1 0h1m.3.4h1m-1 1h1m-.6-.1h1m.4-1.7h1m-.8 1.2h1m1.7-.8h1m2-.6h1m-24.9 3.9h1m-.5-.4h1m.7.3h1m.2-.3h1m1 1.3h1m3.5.7h1m1.6-1.1h1m-.5-1.5h1m-1 1h1m.2-.1h1m-.7 2h1m2.2-1.1h1m.6-1.3h1m-.1-.3h1m-.1 0h1m-18 5.6h1m-.6-1.7h1m1.9.2h1m.2.1h1m.4-.1h1m-.4-.9h1m-.9-.2h1m-.3 1.9h1m-.9-1.3h1m2.4.9h1m3.1-1.4h1m-29.4 5.1h1m4.2-1.6h1m3.1 1.9h1m-1-1.8h1m3.9 1.4h1m.3-2h1m-1 .1h1m6.2.6h1m-8.8 4.7h1m12-.3h1m-13.1 3.8h1" stroke="#e03418" stroke-opacity="0.6"/>
<path d="M267.8 381.6h1m-9 4.5h1m-19.9 3.7h1m4.2-1.3h1m5.7 4.3h1m6-.9h1m-.9-.5h1m-.3 1.2h1m1.4-.8h1m2.1-1.3h1m-12.4 5.1h1m-.7-2.3h1m-.7 1h1m1.3 1.2h1m-1 .4h1m1.2-.1h1m.2-.9h1m2-.3h1m-.9.3h1m-.4-1.6h1m-1 1.2h1m-23.5 1.6h1m3.2-.1h1m-.8.6h1m3 .7h1m2.4 1.1h1m-.5-.8h1m-.9.3h1m1.4-1h1m-.6 2h1m-.4-.5h1m.9.4h1m0-.5h1m2.4-.2h1m0-.1h1m-.9-2h1m-.5 2.8h1m.2-.5h1m-.3-.4h1m-23.2 1.6h1m4.5-.5h1m.4 1.4h1m3.3 1h1m-.1-.9h1m.2.6h1m-.9-.8h1m-1 1.6h1m-.8-.4h1m-.8-1.9h1m-.6 1.7h1m-.8.6h1m.5-1.5h1m-.9-.4h1m-.4.3h1m-.1 1.3h1m-.7-2.3h1m-.7.6h1m1.4-.8h1m2 .9h1m-22.7 3.5h1m.7 1.2h1m.3-.4h1m-.6-1.7h1m-.2.4h1m-.7 1.3h1m-.5-.9h1m1.5 1h1m-.5-1.2h1m-1-.3h1m-.9 1.4h1m-.4-.4h1m.8-1.3h1m-1 .9h1m-.7-.4h1m.9-.7h1m-.8.2h1m-.9 2.3h1m-.3-2.5h1m-.9.5h1m-.8.2h1m0-.9h1m-.7 2.6h1m-.3-.5h1m-.3-.4h1m.2.6h1m-.8-.9h1m-.4-1.5h1m-20.5 4h1m-.9 1.2h1m.7-.3h1m.5-1.9h1m-.5 2.5h1m-.9.1h1m-.2-.1h1m-.6-.1h1m-.1-1.1h1m-.9-.1h1m0-.7h1m-.6-.3h1m-.8.3h1m-.8 1.7h1m-.5-1.4h1m-.7.4h1m-1 .1h1m0 .3h1m-.9-.3h1m-.8 1.2h1m-.9-1.9h1m-.4 0h1m-.4.6h1m-.8-.1h1m-.3 1.1h1m-.9 0h1m1 .2h1m.1-1.8h1m1.4 1h1m.2-.1h1m-.8 0h1m.7-1.1h1m-33.6 3.6h1m3.5.1h1m-.4-.9h1m1.7 2.5h1m1.4-1.6h1m2.4.6h1m-.3-1.6h1m0 2.1h1m-.1-.4h1m-.7.7h1m-.9-2.5h1m.1.3h1m-.9 1h1m-.5.7h1m-.9.1h1m-.9-1.1h1m-1-1h1m-.3 1.5h1m.1 0h1m-.6-1.5h1m0 1.5h1m-.8.3h1m-.8.6h1m-.3-1.7h1m-.6.7h1m-.5-.1h1m-.5.3h1m-.4-.3h1m-.2-1.1h1m-.9.6h1m-.9 1.8h1m-.7-1.4h1m-.8-.2h1m-.5 0h1m1.1.2h1m-24.7 3.6h1m2.9-.9h1m.9.6h1m1.3.7h1m.5.4h1m-1-.7h1m-.7-1.7h1m-.5 2.5h1m.3-2.7h1m1.6-.1h1m-.1 2.7h1m-.6-1.1h1m-.7-.9h1m-.9-.3h1m-.9 1.4h1m-.7.1h1m-.7-1.7h1m0-.1h1m-1 2.5h1m.6-2.4h1m.2 1.9h1m1.6.6h1m3.9-.3h1m-30 .9h1m1.5.5h1m4.8 0h1m-.4 1.7h1m-.3-1.6h1m.8.8h1m.5.4h1m-.7-.5h1m.4-1h1m.4-.4h1m2.4 1.6h1m-.9-1.5h1m0 2.1h1m.9 0h1m3.7-1.6h1m-29.4 3.7h1m6.2-1.4h1m4.2 2.2h1m.2-1.4h1m.9-.7h1m-.3 2h1m9.2-1.6h1m-36.3 2.8h1m18.2-.3h1m-.5 1.8h1m-.3-1.3h1m-.6.8h1m1.1 1.2h1m2.9-.6h1m-.3-1.9h1m-.5 0h1m6.9 2.8h1m-31.1.8h1m8.7 2.1h1m4.2-2.6h1m5.6 1.6h1m-.4.8h1m-.6-1.8h1m4.1.1h1m-12 4.4h1m0-1.7h1m.2 1.2h1m-3 3.7h1m3.9-2.1h1m-23.3 2.6h1m-167.9 62.3h1m.1 2.8h1m.3.7h1m4.4-.2h1m.4-2.1h1m189.6-.4h1m-209.5 4h1m1.2.9h1m3.9-.3h1m.4-.4h1m3.6.9h1m2.8-.5h1m181.6.7h1m-.5 0h1m1.1-2.4h1m-203.6 5.9h1m1.7-.5h1m.6-1h1m-.5-.6h1m1.1.8h1m-.1 1.3h1m1-2.1h1m-.6 1.7h1m-1-1.4h1m1.2 0h1m.5 1.1h1m.5-.8h1m-.6.8h1m1.3-2.2h1m.3 2.6h1m-.8-.8h1m-.4 1h1m-.5-2h1m.5 0h1m1.8-.5h1m2.4.1h1m-.5.6h1m166.4-.8h1m1 .8h1m1.4.5h1m.7-.2h1m6.1-.6h1m-224.1 3.4h1m5.8 0h1m2.3 1.8h1m2.4-2.8h1m-1 1.4h1m-.9.1h1m1.7-.9h1m-.9 1.1h1m.1-1h1m-.3 1.7h1m-.8-1.1h1m-.1.2h1m-.4.5h1m-1-.4h1m-.6 0h1m-1 .7h1m-.7-1.5h1m-.5 1.9h1m-.9-.9h1m-.4.8h1m-.2-1.7h1m.4-.7h1m-.2 0h1m-.3 1.4h1m-.9 1.1h1m.6-1.2h1m-.6.3h1m-.8-1.1h1m-.7-.8h1m-.6 2.2h1m-.3.5h1m-.3-1.5h1m.5 1.5h1m-.2-.2h1m1.2-.9h1m1.7 0h1m-.5.7h1m2.2-2h1m160.8 2.6h1m-.6-.5h1m-.3-.6h1m.5.7h1m.3-2.3h1m-1 1.9h1m5.2-.5h1m-1 .2h1m-.4.9h1m2.4-.7h1m5.4 0h1m-.1.5h1m-220.8 3.3h1m.5-.5h1m5.7.4h1m-.5-2.2h1m-.1-.4h1m.7.8h1m-.7.7h1m-.9.8h1m-.2-1.1h1m-.6 1h1m-.7-.2h1m.1-.6h1m-.9-.5h1m-.6 1.3h1m-.8 0h1m-.4-1h1m-.9 1.5h1m-.5-.2h1m0-2.3h1m.2 0h1m-.5.7h1m-.9-.4h1m-1-.1h1m-.3 2h1m-.8-.7h1m1-1h1m-1-.1h1m-.9.5h1m-.8-1h1m-.8 2.3h1m-.8 0h1m.2.1h1m-.7-.6h1m-.5-1.7h1m-.5 2.3h1m1.2-1.5h1m-.1-.1h1m3 .1h1m-.9-.5h1m.3.1h1m1.3-.3h1m1 1.3h1m1.3 1.2h1m146.1 0h1m5.4-.7h1m3-.5h1m2.1-.5h1m.2-.4h1m-.9.9h1m.1.2h1m-1 .5h1m-.6.3h1m-.9-.4h1m-.1-.9h1m-.4 1.4h1m-.9-2.8h1m-.7 2.9h1m.8-1.6h1m-.2.9h1m-.9-.8h1m-.6-1.2h1m-.9 2.4h1m.5.3h1m-.7-1.3h1m.6-.3h1m-.4-.2h1m.6-.4h1m5.9 1.5h1m-220.4 2.2h1m-.8-.8h1m5-.5h1m-.3.1h1m2.7 1.9h1m-.6-.5h1m-.7-.3h1m-.6-1.1h1m2.3.8h1m-.5 1.1h1m-.6.4h1m-.7.3h1m-1-2.2h1m-.6.3h1m-.4-.2h1m0 .2h1m-.1 1.8h1m-.5-1.8h1m-.2 1.9h1m-.9-.9h1m-.5-.5h1m-.8.1h1m-.5-.5h1m-.2-.8h1m-.7 1h1m-.4 1.1h1m3.1.1h1m-.6.3h1m.7.1h1m-.2-1.5h1m3.1-.6h1m151.9 1.2h1m2.6-.5h1m-1-1h1m.4 2.5h1m2.7-1.1h1m-.5-1h1m-.3 2h1m-.6-1.4h1m-.4-.9h1m-.9-.2h1m-.6 1.2h1m-.9-.8h1m-1-.4h1m-.3 1.7h1m-.9-.1h1m-.8.5h1m-.7-1.9h1m1.2-.5h1m-.9.9h1m-.4-.1h1m-.7 1.7h1m-.9-2.4h1m-.8 2.2h1m-.3.3h1m-.1-1.6h1m-.9-.6h1m-.8-.3h1m0 2.7h1m-.2.1h1m-1-2.2h1m-.8 1.5h1m.1-.1h1m-1-1.3h1m-.2.7h1m.1 1.1h1m.3-.1h1m-.4-1.5h1m-.9 1.8h1m1.7-1.5h1m-215.1 2.3h1m.4-.6h1m-.9 2.6h1m-.2-.8h1m-.1 1.1h1m-.8-1.8h1m-.7.7h1m-.6 0h1m-.1 1.1h1m.8-1.7h1m-.7.8h1m-.9-2h1m-.4 1.8h1m.2 0h1m.2-.1h1m.8-.4h1m.1-.6h1m-.6.1h1m-.8-.7h1m-.7 1.6h1m-.7-1h1m0 1.4h1m.9-1.6h1m-.9.2h1m.5.7h1m1.8.5h1m-.5-1.9h1m2.4.2h1m1.1 2.1h1m153.9.2h1m4 .1h1m-.5-.2h1m-.7-1h1m2.5.4h1m-.5.4h1m-.3-1.7h1m-.9 2.3h1m-1-1.4h1m-.3.9h1m-.3.1h1m-.2-1.6h1m-.5-.5h1m-.1.1h1m-.9.4h1m-.9 1.7h1m-.6.4h1m.1-2.8h1m-.7 0h1m-.9 1.9h1m-1 .4h1m-.9-.3h1m-.9-.8h1m.1 1.5h1m-1-.3h1m-.9-1.3h1m-.8-.5h1m-.5-.6h1m-.6 1h1m-.9.6h1m-.9-.1h1m-.8.5h1m-.9-2h1m-.2 1.2h1m-.8-1.3h1m-.7 1.7h1m.1-1.5h1m-.2.1h1m-1-.2h1m-.5 2.6h1m-1-1.4h1m-.1-.6h1m-.7 1.5h1m.4-1.9h1m.4.8h1m-.1.3h1m-.1-1.3h1m2.6-.1h1m-.1 2.7h1m-215.8.4h1m-.6 0h1m1.7 1.3h1m2.4-.6h1m1 .1h1m-.3-.7h1m.3 1.2h1m-.7.1h1m2-.8h1m1.3-.2h1m.2 0h1m3.9 1.4h1m1 .8h1m-.5-2.7h1m154.6 1.7h1m-.3-.4h1m3.8-1h1m-.7.5h1m.1.5h1m1-.3h1m-.8-.4h1m-.6 1.2h1m0-.3h1m-.7-.7h1m-1-.3h1m-.5 2.1h1m-.3-.7h1m-.9-1h1m.1.7h1m-.6-.8h1m-1 1.8h1m-.6-1.7h1m-.9.7h1m-.7-.1h1m-.8-.1h1m-.2 1.4h1m-.9-.7h1m-.5-.3h1m-.6-.7h1m.1 0h1m-.9-.5h1m-1 1.7h1m-.9-.5h1m-.6.1h1m-.8.4h1m-.9-1.1h1m-1-1.1h1m-.9 1h1m-.1.6h1m-.8.4h1m-.5-1.2h1m-.8.2h1m-.7-.6h1m-.4.6h1m-.8-1.1h1m-.4.9h1m-.4.5h1m-.1 1.3h1m-.2-2.4h1m-.9.9h1m-1-.3h1m.1 2h1m1.8 0h1m-.6-.7h1m11.5-1.6h1m.1-.4h1m-232.9 3.7h1m20.3 0h1m-.2-.3h1m4.3 2h1m163.6-1.7h1m1.9-.4h1m-.8 2.3h1m-.1-2.8h1m.6 1.2h1m-.5.9h1m-.4-1.9h1m-.8 1.3h1m-.6.5h1m-.9-1.6h1m-.7.5h1m-.9.1h1m-.6 0h1m-.9.4h1m-.6.7h1m-.1.2h1m-1-.7h1m-.8.2h1m-.9 0h1m-1-1.8h1m-.8 1.5h1m-.4 1h1m-.9-1.6h1m-.8-.7h1m-.8 1.6h1m-1-.4h1m-.6-.5h1m-.4 1.1h1m-.6.9h1m-.7-2h1m-.3 1.1h1m-.7-2h1m-.2 1.2h1m-.3-.9h1m-.8 2.3h1m-.8-.9h1m-.9.5h1m-.9-1.5h1m-.7.6h1m1-.7h1m.3 1.1h1m-.5 1.2h1m.4-1.3h1m-.1.4h1m-.9.2h1m0-.6h1m.7-1.4h1m8.8 0h1m-220.1 3.9h1m11.1-1h1m169.2.2h1m2.4 1.7h1m-.2.9h1m-.7-2.4h1m-.1 1.2h1m-.6.1h1m-.1-1.4h1m0 .9h1m-.6 1.5h1m0-2.4h1m-.6.7h1m-1 .8h1m-.4-1.8h1m.2.7h1m0-.8h1m.2 2.6h1m-.6-2.1h1m-.2.5h1m.2 1.2h1m-.7-2.1h1m-.9.2h1m-.5.5h1m-.1 0h1m-.3-.8h1m-.1.9h1m2.8-.6h1m-1 1.6h1m-35.8 2.6h1m13.1 1.3h1m1.6-.7h1m-.3-.3h1m-1-.2h1m.8.8h1m-.8-.1h1m.6.2h1m1.6.2h1m-.2-2.5h1m1.4.8h1m-.5-.2h1m-.7.7h1m-.7-.4h1m2.7-.8h1m3.6-.3h1m-26.6 3.2h1m.9 1.4h1m1.8-1.5h1m.3.6h1m-.4 1.8h1m1-.9h1m-.9-1.2h1m-.2.1h1m2.2.3h1m-.2 1.1h1m1.7.9h1m-20.4 1.9h1m4.7 1.2h1m-.8-1.3h1m2.2-1.1h1m-.7 1.6h1m0-2h1m1.4 2.1h1m-.6-1h1m2.4.5h1m.6-1.5h1m-20 5h1m15.7-1.4h1m-.1.6h1m-.9-1.3h1m-15 5.2h1m13.1-1.4h1" stroke="#e03418" stroke-opacity="0.6"/>
<path d="M280.9 379.7h1m-31.9 6.4h1m13.3-.2h1m-24.5 2.2h1m15 4.7h1m-.6-2.6h1m-.9 2.5h1m-.6-2.7h1m-22.5 5h1m15.1-1.4h1m.8 1.7h1m2.7-1.9h1m.7-.2h1m1.7-.2h1m-.7 1.3h1m.3-.2h1m-.2.1h1m3.6-.9h1m-18 4.5h1m.7-.3h1m-.1 0h1m-.4 1.2h1m-.8 0h1m-.8-1.8h1m0 0h1m-.9-.4h1m-.6 1.5h1m-.8-1.1h1m-.6-.3h1m.5-.1h1m-1 1.6h1m-.8.1h1m.3.2h1m-.3-.1h1m-.8-1.3h1m-1-.5h1m.6-.3h1m2.6 2.2h1m1.1-2h1m6.3 2.3h1m-32.1 2.7h1m9 .2h1m-.9-1.2h1m0 0h1m.7-.8h1m-.7 1.9h1m-.7-1.3h1m-.8-.6h1m1.4.1h1m-.6.8h1m-.4.5h1m-1 .9h1m-.1-1.4h1m-.7-.7h1m-.7.2h1m-.9 1.2h1m1.2-1.3h1m.6 1.2h1m-.8.2h1m4.4-2.2h1m-31.7 3h1m5.5.1h1m.1 2.2h1m-.6-1h1m.4.4h1m-.5 0h1m-.9-.8h1m0 1.8h1m1.2-1.5h1m-.7 1.5h1m-.4-1.5h1m-.8-.1h1m-1 .2h1m-.3-.3h1m-1-.5h1m-.5 1.6h1m-.8-.5h1m-.9.5h1m-1-.7h1m.3.4h1m-.1-.8h1m-.3-.6h1m-.4-.4h1m-.9 2.2h1m-.9-2h1m.1 0h1m-.7.5h1m-.7 1.9h1m1.2-1.1h1m3.4.3h1m.3-1.3h1m10.5-.4h1m-45 5.6h1m2.6-.8h1m3.1 0h1m-.8.2h1m0-.9h1m-.2-1.3h1m-.6 1.2h1m1 1.5h1m.7-.5h1m-.6.7h1m-.2-2.4h1m-1 .3h1m-.9.6h1m-1 .1h1m-.8 1.1h1m-.6-.6h1m0 .4h1m-.7-.3h1m.1-1h1m-.1-1h1m-.9.9h1m.7 1.3h1m-.9.3h1m.1-.2h1m-.8-1.3h1m-.9-1.1h1m-.7.9h1m-.4-.8h1m-.8.9h1m.7-.2h1m-.9.2h1m-.5-.1h1m-28 3.7h1m5.7-.5h1m1.9-1h1m.1 2.7h1m.1-.7h1m-.9-.9h1m.4-.5h1m0 1.6h1m-.7-2h1m-.8 1.7h1m-.7-.4h1m-.4-1.6h1m-.7 2.5h1m.7.1h1m-.8-1.2h1m-.9-.5h1m-.9.8h1m-.5 1.2h1m-1-.3h1m-.8-1.7h1m-1 1.4h1m-.5-1.2h1m-.7-.5h1m.7.4h1m-.4 1.4h1m-.9-1.3h1m-.9.5h1m-.7-.5h1m-.7 1.5h1m2.1.2h1m-.6-2.4h1m0 1.9h1m-.7-1.7h1m-.7.7h1m.5-1h1m-39.4 3.3h1m11.9 1.7h1m2.4-1.9h1m-.8 2.2h1m1.2-.9h1m-.7.5h1m1-1.6h1m-.2 1.7h1m-.4-1.3h1m-.6.4h1m-.7-.9h1m-.8.3h1m-.7.9h1m-1 .2h1m-.2-1.2h1m-.5.7h1m1.5-.1h1m0-.1h1m-1-.2h1m-.7-1h1m.1.2h1m-.8.9h1m-.4-1h1m.5 1h1m.7.4h1m6 .5h1m-27.1 3.1h1m-.1.3h1m0-1.8h1m-.3-.2h1m-.2 2.4h1m-.5-2.5h1m-.6 1.4h1m1-.5h1m-.7 1.2h1m-.4-.2h1m-.8-.7h1m-1-.3h1m-.7-1.2h1m-.6.9h1m-1-.8h1m-.6 2.3h1m.1-2.1h1m-.9 2.3h1m-.9-2.5h1m-.9 2.6h1m-.2-.1h1m-.3.3h1m-.9-1.7h1m-.5.8h1m-.8-1.8h1m2.8.9h1m.9 1.6h1m1.1-.8h1m.3-1.6h1m-28.4 5.3h1m2.8-1.5h1m-.9.8h1m2.5.2h1m2 .2h1m.7-.8h1m-.5-1.5h1m-.8 1.8h1m-.8.2h1m5.2.2h1m-.2-1.9h1m-.4 1.8h1m-.5-1.5h1m.3.6h1m-26.5 4.6h1m9.2-2.1h1m.5-.6h1m5-.1h1m-4.3 4.6h1m-.5-1.5h1m5.5 2.2h1m-15.2 2.6h1m12 1.9h1m6.1 11.6h1m-198.6 54.6h1m.7 1.5h1m3.9-1h1m6.9.6h1m.4-1.2h1m183.1-.9h1m-211.8 5h1m3.2.7h1m17-2h1m3.4 1.4h1m5.8-.9h1m-30.6 3.8h1m4 .9h1m-.8-1h1m.1-1h1m1.5.8h1m-.5.2h1m0-1h1m-.6 1.2h1m0-1.5h1m-.5 2h1m1.2-2.1h1m-.3 1.4h1m.1-.5h1m-.9.3h1m-1-.6h1m-.7-.8h1m0 2.3h1m-.6.3h1m-.6-1.1h1m.1-.2h1m-.6.7h1m-.8-.4h1m-.3.7h1m11.8-1.5h1m160.9.8h1m3.8.9h1m-.6-2.2h1m-.4 2.3h1m2.5-1.4h1m-.4.6h1m4.8.6h1m-217.4 1.2h1m-.3 1.6h1m.8-1.6h1m.7-.3h1m.5 1.9h1m-.7-.5h1m.2.6h1m-.2-.3h1m-.3-.8h1m.9-.5h1m-.2.2h1m-.9.8h1m1.3.5h1m2.1-2.4h1m-.9 1h1m-.9-.6h1m-.2 1.9h1m-.8-.8h1m-1-1.5h1m-.9.2h1m-.7-.3h1m-.8 2.8h1m.4-2.5h1m.5 2.2h1m-.7-1h1m-1 1h1m-.7-.4h1m-.2.3h1m.3-.1h1m.1-1.6h1m-.7 2.1h1m-.8.1h1m.8-2.1h1m-.9.9h1m-.5.9h1m-.8-.9h1m1.1-1.3h1m.5.7h1m.1.3h1m7.6-.1h1m152-1.2h1m.2 2.8h1m-.3-.9h1m2.4.1h1m-.5.6h1m1.6-1.4h1m-.8 1.2h1m-.5-.5h1m-.6.2h1m-.4-.5h1m1.1 1.1h1m5.3-.4h1m-.8-.8h1m.9-1.5h1m-226.7 5.8h1m6.5-.3h1m2.1-1.7h1m-1 0h1m1 .8h1m.6.4h1m.2-2h1m-1 .4h1m-.6-.2h1m.5-.2h1m.8 2.4h1m-.5-.9h1m-.9-.4h1m-1 1h1m-.1.2h1m-.8-.6h1m-1-.4h1m-.8.5h1m.1.1h1m-.9.9h1m-.3-.6h1m-.5.5h1m0-1.1h1m-1-1.1h1m-.9.2h1m-.1 1.4h1m-.6-.4h1m-.9-.4h1m-.9.9h1m-.3-1.1h1m-.7.1h1m.8.6h1m-.9-1.8h1m-.2 1h1m-.6-.4h1m-.2 1.9h1m-.8-1.8h1m-.9 1.3h1m-.7-.7h1m-.5.6h1m-.4.8h1m-.7-1.6h1m-1-.2h1m-.4-.9h1m-.6 2.6h1m.6-1.1h1m-.9 1.1h1m-.6-2.3h1m0 .7h1m0-.8h1m3.6 0h1m1.9.1h1m152.4 1.4h1m3.8 0h1m2.6-.2h1m-.6.8h1m.2-.1h1m-.5-2.2h1m-.8 2.8h1m-.3-.4h1m-.2-1.8h1m.8 1.9h1m-.7-2.4h1m1 1.3h1m2.8-1h1m2.9.2h1m-.5.1h1m-.4 1h1m.8.8h1m-221.2 1.2h1m.9.8h1m1.4-.1h1m-1 0h1m-.5 1.3h1m1.4-1.3h1m.5 1h1m1.1-.7h1m-.3.3h1m-.4-.5h1m-.2.9h1m-1-1.4h1m1.7-.3h1m-.2-.5h1m.7 1.4h1m-.6-1h1m-.8 1.5h1m-.8.2h1m-.9-.8h1m-.8-1.4h1m-.6 1h1m-.7.4h1m-.5 1h1m-.8.3h1m-.1-.2h1m-.4-1.2h1m-.3-.2h1m-.5-.6h1m.8.1h1m.6 1.9h1m-1-1h1m-.5.5h1m-.9-1.1h1m.2.5h1m-.8-.7h1m-.6.8h1m-.6-.7h1m-.9.9h1m1.3-.8h1m.5 1.6h1m-.7-1.7h1m6.6 1.4h1m147.2-1.7h1m1.4.1h1m.9 1.9h1m.9-.2h1m-1-.2h1m1.1-1.1h1m-1 1.7h1m-.8-1.2h1m-.4.1h1m.4.8h1m-.4.1h1m-.7-2.6h1m-.8.5h1m.4 1.8h1m-.7-1.9h1m-.6.6h1m-.8.5h1m-.2-1.4h1m-.4 1.1h1m.5-.2h1m-1 1.2h1m-.2-.4h1m-1-1.8h1m-1 2.6h1m-.9-1.4h1m1 1.6h1m.2-1.9h1m-.9.4h1m-.7-.8h1m-.6-.1h1m.7.6h1m.4.1h1m.3-.6h1m1.5 1.3h1m-216.1 2h1m0 .5h1m-.1-1h1m-1 .4h1m0 .2h1m2.2 1h1m-.8-1.8h1m.5 2.1h1m.2-2.1h1m-.5 1.9h1m-.9.5h1m.1-.5h1m-.7.2h1m-.8-.9h1m-.9-.7h1m1.3 1.3h1m-.9-1.5h1m-.5-.5h1m-1 2.1h1m1.2-2h1m0 1.5h1m-.6.8h1m-.7-2h1m0-.2h1m.1.4h1m-.5.9h1m.5-.7h1m.3-.1h1m.7-.3h1m-.5-.4h1m2.8.7h1m1 0h1m156.3 1.7h1m1.2.3h1m2.6-1.1h1m-.6-1.2h1m-1-.2h1m-.2.8h1m-.1-.3h1m-1 .8h1m-.8-.2h1m-1-.3h1m-1-.8h1m0-.1h1m-.2 0h1m-.7 2.5h1m-.9-.6h1m-.5-.4h1m-.2.4h1m-1-.9h1m-.5 1.2h1m-.3-1.6h1m-1 1.5h1m-.7-2.1h1m-1 1.2h1m-1-1h1m-.8 1.8h1m-.3-.5h1m-.7-1.6h1m-.6 2.9h1m.4-1.5h1m1.5-1.4h1m-.9.7h1m-.4 2.1h1m-.8-1.3h1m-.6-1.3h1m-.4 2.2h1m-.6-.1h1m-.5.5h1m-.4-.2h1m-.7-.9h1m-211.7 4.1h1m-.9-1.4h1m4.9.4h1m.2-.8h1m-.2 0h1m2-.9h1m-.3.1h1m.9 1.5h1m1.8-.3h1m.6-.6h1m4.5.4h1m5.8-.2h1m154.6 0h1m-.7.7h1m-.5-.5h1m.3-1.2h1m-.4.4h1m.9 2.1h1m.6-.9h1m-1-.3h1m-.7-.1h1m1.1.8h1m-.8.4h1m-.6.5h1m-.8-.8h1m-.9.6h1m-.3-2h1m-.9-.6h1m-.6 2.1h1m-1-.1h1m-.8.5h1m-.3-1.3h1m0 1.2h1m-1-.2h1m-.8-.8h1m-.9-.9h1m-.9 2.2h1m-.9-2.1h1m-.5 1.4h1m-.9-1.3h1m-1-.1h1m-.9 1.7h1m-.8-.8h1m-.8-1h1m-.9 1.9h1m-.3-1.9h1m-.4-.4h1m-.9 2.5h1m-.9-1.1h1m-.7-1.2h1m-.8 1.6h1m-1-1.1h1m-.8-.7h1m-.7 1.6h1m-.5-.4h1m-.1 1.3h1m-.4-1.9h1m-.8 1.7h1m-.3-1h1m-.8-.6h1m.5.3h1m.9 1h1m-218.1 1.5h1m.3-.5h1m6.2 2.7h1m.6-.9h1m9.2-.7h1m6.8-.8h1m-.7 1.1h1m165.7-.4h1m2.7.2h1m-.4 1.3h1m-.7-2.3h1m.3 1.1h1m-.9.3h1m-.9-1.3h1m-.6 2.4h1m-.1-.9h1m-.7-.5h1m-.6 1.3h1m.2-.6h1m-.3-.5h1m-.9-1.3h1m-.8.4h1m-1 .7h1m-.8 1h1m-.9-1.1h1m-.1-1.1h1m-.2 1.9h1m-1-.8h1m-.9-.2h1m-.4-1.1h1m-.2 0h1m-1 1.6h1m-.1-1.1h1m-.7.1h1m1.3 0h1m-.7 2h1m4.2-1.9h1m-23.2 3.7h1m-.2 1.4h1m.4-1.7h1m-.9-.1h1m-.3-.5h1m-.7-.2h1m-.8 1.9h1m-.2.4h1m-.7-.6h1m-.2.5h1m.2-.9h1m-.7 1.1h1m-.9-2.8h1m.3 1h1m-.8 1.6h1m-.9-.8h1m-.6-1.3h1m-.3 1.6h1m-.5-1h1m-.5-.5h1m-.4.5h1m-.6 1h1m-.7.2h1m-.8.6h1m.8-.9h1m-.1-1.6h1m-.6 2.4h1m1.1-.8h1m-186 1.3h1m165.5 2.4h1m1.7-1.2h1m-.9-1.5h1m-.9.5h1m-.9-.5h1m2.8.4h1m-.9.3h1m1.1-.2h1m1.2 2.2h1m-.9-.4h1m-.2-.9h1m1.1-1.2h1m-.9 1.9h1m-.9-.7h1m-.1-1.3h1m-.1 1.3h1m-.6-.6h1m-21.8 4.7h1m5.6-2.2h1m.2 2.1h1m2.2-1.7h1m-.6 2h1m-.7-2.4h1m-.2-.3h1m.2 2.9h1m.7-2.1h1m1.9.2h1m-18.4 3.9h1m-.3-1.7h1m5.1.8h1m.7.4h1m.3-.5h1m4.8 1.1h1m-14.8 2.6h1m-.7 1.1h1m1.2-.8h1m.1-1.6h1m-.4 0h1m8.5-.2h1m-11.2 3.3h1m11.3-.3h1" stroke="#e03418" stroke-opacity="0.6"/>
<path d="M255.1 387.8h1m1.3 0h1m9.3.7h1m-12.3 4.4h1m.2-1.7h1m-.8 1.7h1m5.3-.1h1m5.1-1.5h1m-17.3 3.6h1m-.6-.7h1m1.5.3h1m-.9 1.4h1m4.5-2.6h1m-.2 1.7h1m0-1.2h1m-.3 1.8h1m1.1.1h1m-.2-2h1m-19.3 4.7h1m3.5.1h1m-.1-1.1h1m-.8.1h1m-.3 1.3h1m.3-2.2h1m-.5 1.7h1m-1-.3h1m-.9-1.4h1m-.1.2h1m-1 1.8h1m-.9.1h1m-.3-.7h1m-.1-.6h1m-1 .3h1m-.6-1.1h1m-.7-.4h1m-1 1.4h1m-.8-1.5h1m-.9.5h1m.4 1.9h1m-.9-2.5h1m-.6.8h1m1.2 1.3h1m-.7.1h1m-16.1 2.5h1m-.5.9h1m-.9-1.1h1m-.2-.1h1m-.5 1.5h1m1.3-2.1h1m-.6 1.5h1m-.6-.9h1m-.4 1.2h1m-.6-.3h1m-.5-.7h1m0-.8h1m-.7 1.2h1m-.9.4h1m-.1-.2h1m-.6-2h1m-.7 0h1m-.8 1.1h1m-1 .6h1m-.6.9h1m3-2.2h1m.5.1h1m0 1.4h1m-26.3 1.3h1m.9 1.8h1m1.7.4h1m2.7-2.5h1m-.8 2.8h1m1.2-1.2h1m-.4.8h1m-.3.4h1m-1-.8h1m-.6.8h1m-.2-1.7h1m-.7.1h1m-.8.1h1m-.7.2h1m-.7.3h1m1.8-.4h1m-.8-1h1m-.6.9h1m.4.3h1m-.9-.3h1m-1 1.5h1m.3-.5h1m-.8-1h1m.7-.2h1m-.3-.6h1m-.6.2h1m-.6-.5h1m1.1 2.1h1m-.6-1.3h1m4.3-.1h1m-40.9 2.7h1m11.9-.7h1m-.9 1.8h1m-.2.3h1m-.5.8h1m-.3-.1h1m-.3-1.9h1m-.3 1.3h1m-.3-.7h1m.8 1.4h1m-.5-1.7h1m-.7 0h1m-.6 1.2h1m-.7-.5h1m-.9-1.2h1m-.9-.7h1m-.8.7h1m-1 1.6h1m-.6-1.6h1m-.6 1.6h1m-1-.9h1m-.7-1.1h1m-.7 2.6h1m-1-1.3h1m-.7 1.3h1m-.7-.9h1m-.9.9h1m-.8-1.1h1m-.8-1.3h1m-.2.7h1m-.8.6h1m-.2.8h1m.1-1.7h1m-.3-.8h1m-.3 1.9h1m-.7-.4h1m-.9 1.3h1m-1-2.6h1m-.9 2.3h1m.4-2.1h1m-.7 1h1m1.1-.1h1m-19.4 4.2h1m-.6-1.2h1m.9.5h1m-.2-.2h1m-.5-1.3h1m-.6-.1h1m-.9.4h1m-.8 1.3h1m-.1-.1h1m-.7-.8h1m-.7 1.8h1m-.7-2.1h1m-.4.2h1m-.9 1.3h1m-.3 0h1m-.5-.2h1m0-2h1m-.6 1.8h1m-.9.6h1m-.9-.7h1m-.4-.8h1m-.3-.8h1m-.7 2.7h1m-.1-.6h1m-.7-.3h1m-.9-1.3h1m.6.8h1m1.1.7h1m-.9.2h1m-.3 0h1m-17.4.7h1m-.8 1.5h1m.3-1.6h1m-1 .6h1m-.6-.1h1m-.4.8h1m-.6-.9h1m-.3 1.2h1m-.7.9h1m-.9-.4h1m-.9-.3h1m-.5-.8h1m-.6-.7h1m-.9 2.4h1m-1-1.7h1m-.8-1h1m-.9 2.9h1m-.9-1.9h1m-.7.7h1m-1-1.7h1m-.6 2.9h1m-.9-1.1h1m-1-.2h1m-.9.9h1m.5-.9h1m-.5.9h1m-.9-1.5h1m-.7-.8h1m-.7 1.2h1m-.2.4h1m.5-.9h1m-.4 1.2h1m.1.3h1m-1 .4h1m-.5-2.5h1m-.5 0h1m-.4.1h1m7.5.1h1m3 1.7h1m-34.5 2.7h1m3.2-.4h1m2.7.8h1m-.4.5h1m-.6-2.7h1m-1 1.9h1m-.7-1.6h1m-.3-.2h1m-.7 2h1m0 .6h1m-.5-2.1h1m-.6 1.4h1m-.2-1.5h1m-.8 1.5h1m1.3-1.6h1m1.3 2.4h1m2.8-.8h1m.3-1.2h1m-1 .2h1m-17.3 2.9h1m-.8-.1h1m-.8 2h1m.2-.5h1m.2-1.6h1m-.2 1.6h1m.7-.1h1m-.2-1.6h1m-.5 1.2h1m-.2.7h1m-.3 0h1m4.9-2.6h1m-.7.8h1m-20.2 4.5h1m1.8.5h1m1.2-1.9h1m-.7-.7h1m1.3 1.9h1m.5-.1h1m2.2-.4h1m10.6-.3h1m1.9-1h1m-28.1 3.3h1m4.9 1h1m-.7-1.2h1m-.5 1.2h1m1.6 3.1h1m-4.2 2.8h1m10.9.6h1m-15.3 6.5h1m-5.4 1.7h1m24.3 54.9h1m-198.1 1.2h1m2.7 1.7h1m.5-.7h1m-15.5 4.5h1m.9-2.7h1m-.7 2.2h1m2.4-.4h1m1.8-.1h1m9.2-.7h1m-.5 1.7h1m1.5 0h1m8.6-1.7h1m164.8-.7h1m7.2 1h1m-208 1.7h1m1.5.7h1m.4-.4h1m-.4 2.1h1m.5-2h1m3.1.4h1m-.9-.2h1m.4 1.4h1m-.3-.5h1m.4.7h1m2.3-1.5h1m-.4 1.4h1m.4-.8h1m-.3-.5h1m-.9 1.9h1m2.3-.3h1m-.7.2h1m.9-.7h1m3.1-1.7h1m163 1h1m9.1 1.5h1m.1-.3h1m.5-1.5h1m0 .7h1m7.9-1h1m-225.7 4.6h1m-.5.4h1m1.5-2.5h1m.1 2.6h1m.4-.2h1m1.1-.9h1m-.6-1.1h1m2.8 1.9h1m-.9-2.3h1m-1 1.4h1m1.1-.9h1m-.2 1.3h1m-.9-1.8h1m-.9.2h1m-.7.4h1m-.6 1.9h1m.5-.1h1m-.8-2h1m.4.1h1m-.6-.2h1m-.7.7h1m-1-.3h1m2.2 1h1m-1 .1h1m-.8-1.7h1m-.6 1.7h1m-.7.1h1m-.1-1h1m4 .7h1m.5-1.3h1m-.1.4h1m-.6 1.6h1m162.7.2h1m-.1-2.8h1m3.6 1.9h1m.2-1.4h1m.4 1.5h1m-.9-.1h1m-.7-.9h1m.1 1.8h1m.1-2.4h1m-.7-.2h1m4.8 1.4h1m-.8.1h1m2.4.6h1m2.1-1.9h1m-226.4 4.2h1m2.2-.5h1m2 1.5h1m-.8-.4h1m2.3.6h1m-.1-2.4h1m.5.9h1m-.6-.5h1m-.9.7h1m-.7.2h1m0-.6h1m-.8.5h1m-.5.2h1m-.7-1.5h1m0 2.4h1m0-.5h1m-.4-2h1m-.6-.1h1m-.5.3h1m-.7 1.3h1m-.2.9h1m-.9.2h1m-1-2.7h1m.3 1.8h1m-.9.7h1m-.2-.8h1m-.3-1.3h1m-1-.2h1m-.8 2.3h1m-.7-1.7h1m-.8-.2h1m-.5.5h1m-.7 0h1m-.6 1.6h1m-.6-1.1h1m-.6.3h1m-.9-.4h1m.1 1h1m-1 .1h1m-.6-2.1h1m-1 1.9h1m-.2-.4h1m-.9.6h1m.4-.7h1m-.5-1.6h1m-.6 1.5h1m-.7 1h1m.6-2.5h1m-.6 1.6h1m-1 .4h1m-.5-1.3h1m-.5-.6h1m.6 1.8h1m-.6-2h1m2 .1h1m160.1.8h1m.7.6h1m-.3 0h1m0 .2h1m-.1.3h1m-.7-1.8h1m1.3.5h1m-.8 1.7h1m.7-1.3h1m-.2.5h1m.6-1.6h1m.5 2.5h1m-.3-2.5h1m-.9 1.9h1m-.9-1.8h1m-.9.1h1m-.8 2.1h1m1.4-1.6h1m.2 1.2h1m-.3.5h1m5.7 0h1m0-.7h1m-220.8 2h1m-.6-.3h1m0 1.6h1m1.2-1.6h1m-.4 1.1h1m-.6-1.1h1m-.7-.4h1m-.2.8h1m0 .7h1m.4.4h1m.5-1h1m-.8.3h1m-.5-.1h1m-1-1.1h1m-1 .6h1m-.2-.6h1m-.9.4h1m-.8 2.2h1m-.3-1.6h1m-.8.1h1m-.9-.3h1m-.1 0h1m-.8.8h1m.1.9h1m-.9-2.4h1m-.7-.4h1m-.7 2.9h1m.9-2.6h1m-.7 1.3h1m.4 1h1m1-2.3h1m1.8-.1h1m-.8.7h1m-.5 1.6h1m.2-1.3h1m.1-.5h1m-.4 1.9h1m.7-1.9h1m.2-.6h1m-.3 0h1m-.6 2.7h1m8.6-.6h1m143.8-.2h1m3-1.5h1m1.3 1.8h1m0-1.2h1m1.7-.3h1m-.9-.1h1m-.7 1.3h1m-.9-1.2h1m.5 1.1h1m-1 .1h1m-.8-.2h1m-.9 0h1m.4 1.1h1m-.2-2h1m-.6-.5h1m0 0h1m-.8 1.6h1m3 .3h1m-.4-1.1h1m-.9 1.7h1m-1-.9h1m-1-1.3h1m-.7 1.3h1m-.2-.3h1m.9-1h1m.8-.3h1m2 1.4h1m-.3-1.1h1m.2-.5h1m.6.8h1m-221.6 4.9h1m-.6-2.6h1m3.6 2.4h1m-.3-.7h1m-.8-.9h1m1.3.7h1m-.7.3h1m1.3-1.2h1m.1 1.9h1m1.4-2.8h1m-.1 2.1h1m.3-.9h1m.7.8h1m-.5.3h1m-.8-1.2h1m2 .5h1m.2-.1h1m3.2-1h1m1.2 2.1h1m-.4-2.3h1m-.9-.1h1m4.5 2.5h1m143.6-.5h1m7.9-.9h1m3.3 1.2h1m.8-.6h1m.4-1.9h1m-.8 1.4h1m-.7-.5h1m-.7 2h1m-.2-2.4h1m-.1 1.1h1m.2 1.1h1m-.9-.3h1m-.9-2.3h1m-.3 2.1h1m-.8-.5h1m-.9.5h1m-.9-1.6h1m-.5 0h1m-.6-.1h1m-.8 1.4h1m-1 .5h1m-.3-.7h1m-.7-1.1h1m-.8.4h1m-.7 1.3h1m-.4-.7h1m-.7-1.5h1m-.3 2.3h1m-.4-.2h1m-.3.1h1m-.9.3h1m-.3-.5h1m-.3-.2h1m-.8-.2h1m-.6 1.2h1m-1 0h1m-.6-2.9h1m-.8 2.1h1m.1-.3h1m-.9.7h1m-.9-.3h1m.1-1.4h1m-217.7 4.5h1m3.6-1.8h1m9.6.2h1m1.3-.2h1m1.9 2h1m3-.9h1m-.5.5h1m-.6-.9h1m-.9.8h1m3.1-.5h1m6.4-1.1h1m.7 1.6h1m149.7.5h1m3.5-1.6h1m.7 1.6h1m.7-1.1h1m-.8.6h1m-.2.8h1m-.4-1.2h1m0-.2h1m-.8-.4h1m1.3 1h1m-.8-1.7h1m-.7.6h1m-.7-.2h1m-.5 1.6h1m-.9-2.2h1m0 1.4h1m.2.6h1m-.6.2h1m-.6-1.9h1m-.5 1.9h1m-.9.2h1m-.3-.6h1m-1-1.2h1m-.5.4h1m-.8 1.2h1m.7-2.1h1m-.8 1.4h1m0 1.2h1m.2 0h1m-.7-1.4h1m-1 .1h1m-.7-.3h1m-.5 1.6h1m-.9-2.8h1m.2.1h1m.9 1.8h1m-.6-.9h1m-216.5 2.5h1m10.2-.3h1m-.2 1.9h1m18.2-1.5h1m149.1.5h1m10.1.2h1m-1 .2h1m-.5-.3h1m-.9-.7h1m-.6.1h1m.2.1h1m.8 1.4h1m-.6-.8h1m-.8-.1h1m-.9-.7h1m-.7 0h1m-.7-.2h1m-.9 0h1m-1 .8h1m-.8-.5h1m-1 0h1m-.2 1.8h1m-.1-1.9h1m-.8 1.5h1m-.4-.4h1m-.8.4h1m.1.1h1m-.9.8h1m-.9-2.6h1m-.4 1.6h1m.1-1.4h1m-.3.6h1m-.9-.5h1m.1.9h1m-.9-.9h1m-.4-.5h1m.2 1.4h1m-.8-1.3h1m-.6 1h1m2.2-1.2h1m-.4 1.2h1m-.7 1.1h1m3.2-1.3h1m-26.7 2h1m-.6 2.1h1m1 .4h1m-.1-.6h1m-.7 1h1m-.3-1.5h1m-1 .9h1m.7-1.9h1m-.2.2h1m.4.2h1m-.9 2h1m-.3-2.3h1m-.7 1.9h1m-.2-2.3h1m-.8 1.3h1m-.4-.8h1m-.6-.4h1m-.4 2.7h1m-.6-1.3h1m-.3-.4h1m-.9.8h1m-.9.2h1m-.7-1.2h1m-.9 1.8h1m-1 0h1m-.8-1.9h1m-1 0h1m-.8-.7h1m-.8 2.2h1m-.5-.7h1m.6.9h1m-.3-1.4h1m-.4.2h1m-.6.2h1m-.2-1.6h1m-30.2 4.3h1m15.7-.6h1m-.4.3h1m-.8 1.7h1m-.2-2.6h1m.5 1.3h1m-.4.6h1m-.9-1.4h1m.6-.6h1m-.3.2h1m1.3 0h1m3 2.5h1m.3-1.6h1m-17.2 4h1m-.8 0h1m.1-2h1m-.6.3h1m-.5.5h1m-.3-.9h1m-.1 1.7h1m1.7 1.2h1m1.9-1.9h1m2.1-.6h1m-21.7 2.9h1m.4 1.5h1m1.5.7h1m3.4-1h1m3-1h1m5.1-.2h1m-.8 1.1h1m.3-.1h1m-16.8 4.1h1m.2-1.2h1m1.3.9h1m-.1-1.4h1m4.3 2.7h1" stroke="#e03418" stroke-opacity="0.6"/>
<path d="M93.7 503.4h1m-30.5 14.3h1m10.5.2h1m17.1-.2h1m-10.1 4.1h1m6.7 1.5h1m-30.1 3.8h1m14.1 1.4h1" stroke="#e04a30" stroke-opacity="0.5"/>
<path d="M84.1 500.3h1m-16 9.9h1m2.1 5.3h1m9-2.2h1m-34.8 3.3h1m11.6 6.5h1m15.2 3.8h1m-11.9 1.1h1" stroke="#e04a30" stroke-opacity="0.5"/>
<path d="M81.5 491h1m-2.9 19.6h1m-19.2 15.3h1m.8-.7h1m-21.7 4.8h1m20.8-.7h1m8.1.3h1m13.4-.2h1" stroke="#e04a30" stroke-opacity="0.5"/>
<path d="M85.3 498.1h1m-30.3 4.2h1m13.9 6.9h1m-4.1 3.6h1m-3.9 4.9h1m6.4.6h1m-12.8.9h1m31.5 2.4h1" stroke="#e04a30" stroke-opacity="0.5"/>
<path d="M67.7 505.8h1m5.8 6h1m.7 3.7h1m-12.2 5.2h1m22.6 1.4h1m-41.5 4.4h1m32.7-.5h1m-18.4 3.1h1" stroke="#e04a30" stroke-opacity="0.5"/>
<path d="M62.7 536.9h1m14.4-2.4h1m-21.6 4.4h1m6.4.8h1m7.1-1.7h1m.2 1.3h1m1.3-1h1m-.6-.9h1m-.6 2h1m3.5.3h1m-19.2 1.9h1m-.7-1h1m1.2 2.1h1m-.4-1.7h1m.6 1.4h1m0-2.4h1m-.2 2.4h1m1 .4h1m2.1.1h1m-17.8 2.5h1m11.2-2.3h1m-.2 1.7h1m3.1-.3h1m2.2.8h1m2.6.1h1m-.1-.9h1m.9.4h1m-26.4 1.2h1m6.3-.1h1m6 1.4h1m2.8-.9h1m2.4 1.5h1m14-.3h1m-34.8 3.3h1m.8-1.2h1m-.3-.6h1m.4 2.6h1m.8 0h1m1.1-.6h1m-.8-1h1m-.5-.6h1m2.4.5h1m-.8-.1h1m-.4 1.1h1m-.1-.4h1m-.2-1.1h1m11.4 1.3h1m-36.4 2.6h1m9.1-.6h1m-.8.8h1m-.8.9h1m-.1-2.1h1m.8-.2h1m.2 1.8h1m-.7.6h1m.2-1h1m-.5-.9h1m-.1.7h1m-.9.1h1m-.8.2h1m2.3-1.1h1m2.2 1.1h1m1.2-.8h1m1.7 0h1m.4.2h1m5.4-.5h1m-39.4 2.3h1m-.4.3h1m6.1 1.1h1m-.1-.5h1m-.6-.2h1m.6 0h1m-.8-.4h1m.6 2.2h1m-.3-1.1h1m-.3-1.3h1m-.1.4h1m-.9-.1h1m.3 1.5h1m1.7-1.8h1m-.7.5h1m-.5 1.6h1m-.1 0h1m.2-.9h1m1-.8h1m-.7 0h1m-.5.3h1m-.7 1.9h1m-1-1.2h1m.1-1.1h1m1.9.5h1m.4 1.1h1m6.9.8h1m1.7-.3h1m-49.8.5h1m14.4 2.8h1m.7-1.5h1m-.1-1.1h1m.4 1.9h1m1-1.2h1m2.3 0h1m.9.5h1m0-.5h1m-.5-.3h1m2.2-.5h1m2.1.6h1m-.8-.2h1m.7 2.2h1m3.7-.3h1m1.2.3h1m-.8-1.1h1m-36.8 3.8h1m5.7-.2h1m1.3-.9h1m-.8.1h1m2.6-.9h1m1.3-.2h1m5.8.8h1m1.6 1h1m4-1.5h1m.2.7h1m4.5 1.4h1m-.1-1.7h1m1.1-.8h1m-30.5 3.2h1m1-.3h1m1.2 1.8h1m1.3-.7h1m1.5 1.4h1m-.6-.4h1m.4.7h1m2.4-.2h1m1.7-2h1m.2 1.6h1m2.1-.1h1m-.8-.7h1m.1 1h1m5.4-1.1h1m.3-1.1h1m-36.3 5.6h1m3.8-1.4h1m11.5-.2h1m4.8-1.3h1m-.8 2.2h1m-.7-2.1h1m.3.7h1m.3-.7h1m-.8.8h1m4.4 0h1m-15.7 4.5h1m4.1.5h1m.9-.8h1m-18.6 1.7h1m6 .2h1" stroke="#666" stroke-opacity="0.5"/>
<path d="M59 531h1m11 1.6h1m.6 4.1h1m-6.5 2.8h1m5-2h1m-.7 1.3h1m2.4.9h1m2.6.1h1m-18.6 1.7h1m10.3.6h1m.6-.3h1m1.9-1.6h1m3.2.7h1m4.2 1.4h1m4.4-.6h1m7.9.3h1m-36.9 3.1h1m1.6-.4h1m2.2-.6h1m-.4.2h1m4.1 1.2h1m4.5-1h1m3.9-.1h1m1.6-1h1m1.6.8h1m3.9 0h1m-44.2 2.9h1m-.1.6h1m11.8.4h1m3.2-1.8h1m8.6.7h1m1.5 1h1m-.3-.1h1m-32.9 2.6h1m.7.1h1m-1 0h1m5 .2h1m5 .7h1m1.3-.2h1m1.5-.9h1m-.2 1h1m-.3-2.3h1m-.5.4h1m.2 1.5h1m.7-1.8h1m7 .6h1m1.8.1h1m1.1-.3h1m-39 4.6h1m5.2-2.2h1m-.2.8h1m1.6.2h1m-.6-.1h1m1 .6h1m.5-1.2h1m1.9 1.1h1m1 .8h1m.1.7h1m.5-2.8h1m-.8.9h1m1.4.7h1m-.6 1.1h1m2.2-1.2h1m1.3.4h1m.9.4h1m-.1-2.3h1m1.8-.1h1m-28.2 5.2h1m-.3-1.6h1m1.4 1.5h1m.6-1.4h1m-.1 1.3h1m-.2.3h1m.3.4h1m-.8-1.1h1m-.9-.4h1m-1 1.3h1m-.5-1.4h1m1.3 1.3h1m1.8-.7h1m-.9-.4h1m.7 1.3h1m-.9-.4h1m-.5-1.1h1m-.5.3h1m-.1 1h1m1.6-1.1h1m-.3-1h1m1.7.7h1m-30.7 2.6h1m4.7 1.2h1m-.4-1.1h1m5 1.7h1m0-1.6h1m3.6-.2h1m-.9-.4h1m-.5-.2h1m-1 .9h1m-.6 0h1m-.2 1h1m.3.2h1m.8-.6h1m-.2.1h1m.9-.1h1m-.1.3h1m-.8-.3h1m-.5.7h1m5.7-2h1m-.5.6h1m-30.6 4.6h1m-.6-2.4h1m-.4 1.3h1m.9 1.3h1m1.3-1.1h1m-1-1.4h1m6.2.5h1m.1 1.3h1m1.4.9h1m-.8-.2h1m.9-1.9h1m.8-.2h1m1.9.3h1m4.9 1.5h1m.5-.8h1m.9-.8h1m1.5.7h1m1.3-.9h1m1.1.4h1m-35.6 3.5h1m.2-.1h1m1.4-1.3h1m0 1.3h1m.4.5h1m5.9.9h1m-.5-.7h1m1.1-.1h1m-.2-.8h1m-29.2 2h1m13.4 1.1h1m3.4-1.2h1m2.8 2.4h1m.7-.7h1m1.3-.6h1m-1 .4h1m2.4 1.1h1m8.6.1h1m-22.2.9h1m.6 1.5h1m2.2.5h1m.5-1.8h1m4.1.9h1m-16.9 1.4h1m.4 2.1h1m8.9-2h1" stroke="#666" stroke-opacity="0.5"/>
<path d="M55.7 527.6h1m5.2 9.5h1m15 2h1m16.5-2h1m-38 3.8h1m15.8-.6h1m-10.2 5.6h1m3.7-1.9h1m-.7 0h1m1.6-.1h1m3.6-.7h1m1 2h1m1.9-.3h1m1.2.5h1m1.7-.8h1m12.3 1.2h1m-48.1.6h1m1.9.3h1m4 0h1m.3 1h1m1.6.6h1m.8.4h1m-.3-1.1h1m1.4-1.6h1m-.1 1.6h1m-.1.5h1m1.2-.5h1m-.8.5h1m.9-.5h1m3-1.6h1m-.2 2h1m-22.2 3.9h1m-.7-1.4h1m1.3.3h1m1.4-.1h1m-.4-1.4h1m.7 1.8h1m-.4-1.2h1m.3-.1h1m1.9.9h1m.7 1.1h1m-.1-.2h1m-.5-1.8h1m.8.9h1m.1-.2h1m1.6-.3h1m1.4 1.1h1m-.9.1h1m-1-1.6h1m-.3.9h1m1.5.6h1m-.1-1.9h1m.6 2.4h1m8.5-.8h1m-42.3 3.7h1m.3-.4h1m-.6-1.1h1m-.4-.4h1m2 1.8h1m-.5-1h1m.6.7h1m6.2-1.5h1m-.5 1.3h1m2.5-.4h1m.1 0h1m.5.8h1m0-.8h1m1.7-1.1h1m-.7-.1h1m.6-.2h1m.3.1h1m-28.1 5.3h1m-.4-1.3h1m2.9 1.4h1m-.7-.3h1m-.5-1.9h1m1.7 1.2h1m.6-1.8h1m2.4 2.2h1m.8-.6h1m1-.7h1m-.9 1h1m-.5.4h1m-.1-.2h1m2.2-.2h1m-.8-.8h1m-.2-.7h1m.9-.1h1m-.9.1h1m-24.7 3.2h1m5.3.2h1m-.4 1.9h1m1.9-1.8h1m6.3 1.1h1m-.8-.3h1m1.2-.8h1m-.7 1.7h1m-.6-1.8h1m.4-.5h1m2.4 1.1h1m-.3.9h1m1.4-2.2h1m1 .7h1m-34 2.7h1m12.1-.5h1m-.5.5h1m.9.4h1m.7-.4h1m-.2 1.7h1m-1-1.8h1m-.9 1.6h1m8.1-.5h1m-.3-.2h1m-.5-.5h1m-.6.5h1m2.1.9h1m5.6-.9h1m-40.5 2.7h1m3.6.3h1m1.8.4h1m6 .4h1m2-.8h1m-.6 0h1m1.6-.1h1m-.9 1.4h1m-.8 0h1m-.4-.7h1m1.8-.5h1m-.7-1.4h1m7.5 2.5h1m-22.8 1.5h1m-.6.1h1m-.4-.8h1m1.2.9h1m0 1h1m1.4-1.1h1m3-1.1h1m1.8 1.7h1m-21.4 1.8h1m4.4 1.3h1m2 .2h1m3.4-1.8h1m-.5 1.2h1m1.1-.7h1m1.8.3h1m1.4-.9h1m.6 1.7h1m.4-1.7h1m-26.2 4.8h1m8-.9h1m.4-.5h1m1.9.5h1m2.6 1h1" stroke="#666" stroke-opacity="0.5"/>
<path d="M63.6 534.8h1m-6.2 4.9h1m7.1-.7h1m4.4-2h1m7.4.4h1m-29.4 3.9h1m13.6-.7h1m-.2.6h1m.3-.8h1m-.8 0h1m1.7.7h1m.1-.3h1m.8-.2h1m1 .8h1m6.2-.4h1m16.4-.8h1m-33.7 3.3h1m-.9.2h1m.1.2h1m-.3.9h1m3.7-.2h1m2.5-.2h1m-.9 1.1h1m-.6-1.5h1m9-.2h1m5.4 0h1m-44 3.8h1m7.2-.8h1m4.9.8h1m-.1-.4h1m.5-.7h1m-.2 1h1m.1 1.3h1m2.2-1.9h1m1.7 1.3h1m3.5-1.4h1m-.8-.7h1m-15.3 5.3h1m-.9-.8h1m2.6.8h1m-.4-1.7h1m4.6-.6h1m-.7 1.3h1m-.6.9h1m.8-2.3h1m-.6.1h1m-.5.6h1m1.9-.5h1m-1 1h1m6.9-1.1h1m-.9 2.7h1m.2-2h1m-35.1 3.7h1m-.2-.5h1m1.8.2h1m-.3 1.4h1m-.6-.4h1m-.5.7h1m4.8-1.6h1m.6.4h1m-.5 1.2h1m.9-.9h1m-.7.2h1m.7.1h1m-.4-.1h1m1.2-1.9h1m-.1.2h1m-.5 2.1h1m1.4-1.8h1m0 1.7h1m.7.1h1m1.7-1.9h1m2.9 1.2h1m-33.5 1.5h1m2.5.1h1m1.2 1.5h1m-.4-1.5h1m-.9.9h1m.7-.5h1m-.7.3h1m-.5 1.7h1m-.8-.1h1m-.8-.2h1m-.6-2.5h1m.3 1.4h1m-.3-.1h1m-.5-1.2h1m-.3.5h1m-.9-.4h1m-.5.6h1m-.5 0h1m-.1 1.1h1m.5.6h1m-.7-2h1m1 .9h1m.1-.3h1m-.7 1.4h1m-.9-1.9h1m6-.3h1m-.9 2h1m-.8.1h1m.2-1.9h1m-43.5 4.8h1m16.9-1.2h1m.8 1.6h1m2-2.8h1m1 1.7h1m1.4 1.2h1m3.4-1.9h1m1-.5h1m5.7 2h1m-43.5 2.8h1m21.3-1h1m2.7.4h1m.5-.1h1m.4.7h1m-.9-2.3h1m-.6.7h1m.5-.5h1m2.1.1h1m7.4.4h1m5.4.3h1m-30.9 2.4h1m5.7 2h1m1.1-.3h1m1.3-2h1m-1 .6h1m.6-.4h1m2.2.9h1m2.2.6h1m-.2-1.3h1m4.1 1.3h1m-.8-1h1m3.6.5h1m-33.7 3.3h1m3.1-1.6h1m-.1.4h1m9.2 0h1m4.4 2.5h1m9.2-.6h1m6.4-.7h1m-39 3.1h1m5.9-1.2h1m5.5 1.8h1m1-1.9h1m.6 1.5h1m-.4.3h1m1.1-1.8h1m10.5 0h1m-.3 1.1h1m-29.7 2.2h1m7.8.6h1m.2.4h1" stroke="#666" stroke-opacity="0.5"/>
<path d="M54.6 536.8h1m22.7-.6h1m10.5-.3h1m-22 2.6h1m2.6-1h1m3.4 1.7h1m-15.6.8h1m10.8.1h1m-.9-.1h1m-.6 1.3h1m-12.7 4.5h1m2.7-1.7h1m.9.1h1m-.5 1.7h1m4.2-.7h1m-.5-.6h1m-.2-1.4h1m1.1 1.7h1m.4.2h1m-.1.8h1m11.3-2.6h1m-18.7 5.6h1m-20.9.6h1m4.8.8h1m4.5.5h1m-.1-1.6h1m-.3 2.6h1m1.2-1.4h1m.6-1.3h1m-.5.3h1m-1 2.2h1m.8-2.4h1m-.2 1.7h1m.2-.9h1m1.3-.3h1m-1 1h1m.4.9h1m.5-1.1h1m.5.4h1m1.7-1.1h1m2.8 1.6h1m3.5.3h1m-33 .8h1m2.9 1.4h1m-.1.7h1m-.4-2.1h1m-.9 1.8h1m-.8-1.6h1m4.3 1.1h1m-.9.9h1m.5-1.7h1m.3 1.4h1m2.8-.8h1m2.2-.8h1m-.6.2h1m1.1-.5h1m1.5 1.8h1m12.4-.7h1m-40.9 2.6h1m-.3.8h1m-.6.2h1m5.4.1h1m-.7-2.3h1m-.6.6h1m-.3 2h1m.4-2.1h1m2.3-.1h1m-.7-.3h1m.3 1.2h1m-.9-.8h1m-.4-.2h1m-.5.2h1m-.9 1.9h1m.1-.2h1m.8.2h1m.4-.9h1m.7.4h1m1.9.6h1m.1-.5h1m-.8-1.8h1m-.5 1.7h1m0 .7h1m-34.1 3.3h1m1.1 0h1m0-.8h1m-.9.7h1m1.6-.8h1m1.1-1h1m-.7.6h1m3-.1h1m.7-1.2h1m-.7 1h1m-.6-.8h1m.2.5h1m-.8 1.2h1m1.7-1.6h1m2.7 0h1m-.4.9h1m2.8.1h1m5.6 1.2h1m-29.3.8h1m1.3 1.4h1m-1-.9h1m3.2 1.5h1m1.2-2.4h1m-.2 1.2h1m.3-1.1h1m-.7.3h1m-.6.8h1m-.4.3h1m-.8-.8h1m1.2.1h1m2.1.3h1m10.4-1.3h1m-29.2 5.1h1m-.4-.3h1m.4-.4h1m3.1 1.4h1m-.2-2.5h1m-.1 1.8h1m-.8-2.1h1m-.7 1h1m-.3-.1h1m.5 1.8h1m2.8-.8h1m-.8-.5h1m.2-1.3h1m-.9 2.2h1m.1.4h1m1.9-.1h1m4.2-.3h1m-44.1 1h1m7.2 2.1h1m10-2.3h1m3.8 1.4h1m.3 1h1m2.3-.7h1m-.2-.4h1m-.5 0h1m3.4-1h1m2.8 1.8h1m4-1.2h1m.5-.4h1m-22.5 2.4h1m1 .4h1m4.4 2.3h1m0-2.2h1m2.1 2.1h1m-16.5 1h1m-.8 1.2h1m6.1-1.1h1m8.8-.2h1m5.9.8h1" stroke="#666" stroke-opacity="0.5"/>
<path d="M114.2 538.4h1m-13.7 7.2h1m.2-2.6h1m-.4 2h1m6.5.7h1m.1-1.5h1m-11 4.4h1m-.7-2.6h1m-.9.6h1m6-.6h1m.7 1h1m-9.2 3.9h1m.6-.3h1m4.9.9h1m-.8-1.5h1m-.1.2h1m1.8-.7h1m3.6 1.4h1m-17.3 1.2h1m4.4 2.3h1m-.9.3h1m-9.8 3.5h1m3.1 1h1m3.5-1h1m9.4.2h1m4.5-.1h1m-23 3.4h1m.4 1.5h1m1.3-2.1h1m3 1.7h1" stroke="#888" stroke-opacity="0.5"/>
<path d="M110.3 539.7h1m-10.9.9h1m5.2-.2h1m-10 4.6h1m4.5.3h1m-.2-1.5h1m10.1-.2h1m-16.5 5.2h1m-1-.5h1m-1-2h1m5.2 1.2h1m1.1-.6h1m2.3.3h1m-5.7 3h1m1.9-.8h1m-.5 1.1h1m-.9.4h1m-9.8 2.3h1m1.1 1.4h1m2.4-.7h1m-11.5 1.2h1m7.5 2.8h1m1.5-.3h1m3.8-.3h1m.1-1.7h1m-.7 1.5h1m0 1.9h1m-10.4 2.7h1m.1.6h1m7.8 4.4h1" stroke="#888" stroke-opacity="0.5"/>
<path d="M106.7 541.2h1m-9.2 2.6h1m6.7 2.6h1m1-.1h1m1.5 1.5h1m-12.3 2.8h1m3.6-1.4h1m-.7.2h1m1.4 2.3h1m.7-.8h1m1.4.8h1m-12.1.9h1m.2 1.5h1m1.1 0h1m3 .5h1m2.6-1.2h1m1.9-.8h1m-11.8 4.1h1m-.9-1.4h1m1.4 1.4h1m1.2.9h1m4.3 0h1m-17 2.9h1m2.4.3h1m-.4-.9h1m3.9-.2h1m3.7.1h1m6.6-.6h1m-14.8 2h1m.5.2h1" stroke="#888" stroke-opacity="0.5"/>
<path d="M96.5 537.9h1m-3.1 3.8h1m10.2 1.1h1m-3.1 7.4h1m-.4 1.6h1m.8-2.1h1m4.2.4h1m.9.9h1m-15.4 3.9h1m-.1-.6h1m-.9.5h1m3-1.6h1m2.7 1.7h1m-.9-1.4h1m1.3.2h1m-.5.1h1m-.4-.3h1m11.2-.7h1m-23.4 3.8h1m3.2-1.4h1m5.1 1.2h1m-8.8 3.2h1m1.4-1.6h1m-.3.7h1m3.7-.7h1m-13.3 5.8h1m9.2 1h1m-5.8 2.2h1m7.7 4.8h1m-6.9 1.7h1" stroke="#888" stroke-opacity="0.5"/>
<path d="M104.9 538.1h1m-5.5 6.2h1m4.2-.3h1m-8 3.3h1m15.1 1h1m3.3 0h1m-23.8 3.5h1m5.2-1.8h1m8.9.4h1m.3 1h1m-15.9.9h1m1.7 2.1h1m2.1-2.2h1m.2 2.7h1m-.2-1.9h1m.7 1.4h1m.2.5h1m-11.9 2.8h1m1.1-.1h1m-.6-2.6h1m4.5 1.5h1m.4.3h1m-9.1 3.6h1m.5.3h1m8.7.1h1m-3.5 1h1m1.7 2h1m-21.4 2.6h1m16.1 0h1m-7.3.8h1" stroke="#888" stroke-opacity="0.5"/>
<path d="M186.9 430.3h1m20.7-.7h1m4.8.1h1m.1-.7h1m-.3 2.9h1m-.7-1.7h1m-25.2 3.9h1m6-.6h1m.1-.5h1m-.3.9h1m1-.9h1m12.9.3h1m1.3.7h1m-29 3.6h1m5.6.3h1m0-.6h1m1.9-1.3h1m-.8.1h1m1.5-.5h1m2.3 1.1h1m-.7.2h1m0-.8h1m-.7.3h1m-.8 1.4h1m-.3-2.2h1m.7.3h1m.2-.7h1m-.4.5h1m.4 1.5h1m0-2.1h1m-25.7 5h1m-.1.8h1m-.3-1.1h1m6.5-1.3h1m.5.8h1m.5.9h1m-.8-1h1m2.2-.9h1m-.9 2.1h1m-.6-1.9h1m.3 1.5h1m-.8.8h1m.4-2.6h1m.7 2.2h1m-.4-1.5h1m.5-.6h1m-.3.4h1m.1 1.9h1m5.2.2h1m1.7-1.6h1m3.1.7h1m-36.3 1.3h1m1.1 2.2h1m3.7-2.4h1m-1 1.9h1m-.7.5h1m-.7-2.4h1m-.3.8h1m-.6 1.3h1m-.1-1.1h1m0 0h1m-.9 1.7h1m.1-2.2h1m-.9.6h1m.4.3h1m-.6-1.4h1m1.6 1.6h1m1.1.5h1m0 .4h1m-.7-.9h1m-.7.5h1m-.8-.6h1m1.1.3h1m-.7-1.4h1m1.6 1.1h1m.1-.4h1m.2.1h1m1.3-.1h1m-30.6 4.2h1m1.5.2h1m1.3.2h1m-.3-.8h1m.6-.3h1m-.8 1.2h1m-.6-2.2h1m-.5.4h1m-.4 1.6h1m-.6-1.4h1m.8.5h1m-.7-1.1h1m-.6 2.1h1m-.9-.4h1m-.9-1.3h1m-.4-.6h1m-.5 0h1m-.7.8h1m-.6 0h1m-.3.6h1m-.8 0h1m-.8 1h1m2.4-2.5h1m1.3 1.1h1m0 1.1h1m.5-.6h1m-26.3 3.1h1m2.7.8h1m.8-1.7h1m.3-1.1h1m.4 1.4h1m-.6.5h1m1.4-1.9h1m0 .3h1m7.5.1h1m.3.1h1m-.3-.5h1m-.3.7h1m-.8 1.5h1m.4-1h1m-1-.5h1m1.4.3h1m-25.5 4.4h1m14.5-1.5h1m8.4.3h1m-22.9 2.4h1m-1 .4h1m-.4.2h1m12.8-.6h1m-1.6 3.6h1m-21.4 3.6h1m21.9 0h1" stroke="#5046b0" stroke-opacity="0.5"/>
<path d="M190.8 426.3h1m22.5 5.1h1m-25.1 3h1m9.1.3h1m1.7-1.5h1m-.3-1h1m.2 2.6h1m.4-.3h1m2.6-.2h1m1.3-1.7h1m1.6-.5h1m1.3 2.1h1m3.9 0h1m-.4-.2h1m-27.3 1.5h1m2.7 1.6h1m-.9.4h1m1.4-1.5h1m1.3 1.3h1m-.2-.2h1m-.7-1.7h1m-.1-.4h1m-.8 1.5h1m-.8-1h1m-.9.2h1m2.7 1.3h1m2.8-.1h1m-.5-.7h1m-.9-.3h1m-26.6 4.7h1m4.3-2.6h1m-.8.2h1m1 2.3h1m-.9-2.3h1m.3 1.8h1m-.6-1h1m-.1 1.3h1m-.8.6h1m-.7 0h1m1.1-2h1m-.2 1.9h1m-.2-1h1m-.5.1h1m-.6-.2h1m1.1-1.2h1m.9 1.5h1m.7-1.7h1m3 2h1m3.2-.8h1m2.5.2h1m-.8.5h1m-32.1 1.1h1m.6-.1h1m5.3 1.4h1m.7-1.6h1m.3.7h1m-.7 1.5h1m-.8-2h1m-.8.7h1m-.6-.5h1m-.6 1.4h1m-.9.7h1m-.8-1.2h1m-.9-.7h1m0-.2h1m-.8 1.7h1m.3.2h1m-.5-.9h1m.2.2h1m.7-1h1m-.9.8h1m-.8 1h1m0-.5h1m0 1h1m1.9-.3h1m1.1-.2h1m3.5-2.1h1m-33.6 5.1h1m.3-.9h1m2.9 1.1h1m1-1.8h1m1.9-.4h1m-.3-.1h1m.5 2.3h1m-1-1.6h1m-.1.2h1m0 .2h1m-1-.3h1m1.8-1.1h1m-.4 2.2h1m-.9.6h1m2.6-2.2h1m-1 1.4h1m-.8-2h1m0 2.6h1m.8-2.2h1m-.9 2.5h1m1.3-.8h1m-17.3 1.9h1m1.2.5h1m-.9-1.1h1m.4-.2h1m-.8 1.2h1m-.4-.1h1m1.4 0h1m2.1.7h1m3.7.1h1m.1-.3h1m.3-.1h1m-.7.5h1m3.1-1h1m-25.6 2.2h1m.4-.2h1m3.5.3h1m.4 1.9h1m2.3 0h1m.8-1.2h1m0-.8h1m2.2 1.7h1m-.5-1.5h1m-.4.7h1m-.9.3h1m10.8.4h1m-26.2 1.4h1m11.6.4h1m-.4.7h1m-22.2 1.9h1m1.6 1.3h1m16.3-1.1h1m-7.9 4.9h1" stroke="#5046b0" stroke-opacity="0.5"/>
<path d="M199.1 427.9h1m7.4-1.2h1m-5.5 3.2h1m8.4 1h1m3.2.9h1m.5-2.8h1m1.4 2.5h1m.8-.1h1m-32.8 1.1h1m10.6.8h1m4.9.3h1m1.4-1.2h1m-.9 0h1m1.4 2.5h1m-.9-.1h1m.1-.3h1m.8-2h1m-.7.6h1m1.2-.9h1m-26.4 3.1h1m.4 2.2h1m1.7-1.2h1m0-.4h1m-.6 1.2h1m2.9-.8h1m.2-1.3h1m-.4 2.6h1m.8-.3h1m1.6.2h1m-.6-1.3h1m.5-1h1m-.4 1.2h1m12.5.3h1m-35.3 2.6h1m2 .6h1m.7.4h1m.2.5h1m-.7-.5h1m2.8-1.6h1m-.7 1.3h1m.6.6h1m2-1.3h1m-.7-.8h1m-.9.3h1m-.1 1.9h1m.8-1.1h1m-1-1h1m1.4.5h1m1.7-.7h1m-.2.5h1m-.4 1.4h1m-.2-.1h1m3.4-.7h1m-23.5 3h1m.3-1.2h1m1.6-.3h1m-.7 2.3h1m.6-1.6h1m-.4 1.5h1m-.4-.8h1m-.8.5h1m-1-1h1m-.6.6h1m-.5-1.1h1m0 .2h1m-.7 2.3h1m-.5-.4h1m.5-2h1m-.5-.5h1m-.9.4h1m-.1-.1h1m1 .8h1m.2.3h1m0-.6h1m.7-.7h1m5.6 2.8h1m-34.2.9h1m3.2.3h1m-.9.7h1m4.4.2h1m-.6-1h1m-1-.4h1m1.2-.1h1m0 1.8h1m-.1-1.3h1m4.1.4h1m1.6-.1h1m-.9.7h1m1-1.4h1m-1 .2h1m4 1.3h1m6.7-.4h1m-32.1 1.8h1m-.5.6h1m0 .1h1m.4.8h1m0 .2h1m.4-1.8h1m2.2 1.6h1m.3-1h1m1 1.5h1m-.9-1.3h1m3.4.5h1m-.9-1.5h1m1.5.4h1m3.1-.6h1m1.1 0h1m-.5 1.3h1m-32.9 1.8h1m9.8 1.2h1m1.2.7h1m-.2-1.9h1m1.1 1.9h1m-.5.1h1m-.3-.9h1m-.5 1.7h1m.1-2.7h1m-.3.6h1m-.9 1.9h1m2.2 0h1m-.2.2h1m4.7-1.7h1m1.2 1.6h1m1.2-2.5h1m-19.4 4.3h1m2-.4h1m3.2.6h1m-11.2 3h1m7.3-.6h1m10.6-.7h1" stroke="#5046b0" stroke-opacity="0.5"/>
<path d="M209.5 424.6h1m3.5 3.5h1m-7.2 3.5h1m1.4.1h1m-.7-.9h1m2.1-1h1m-18.2 4.5h1m6.6-2.2h1m8.3.8h1m-.6.1h1m-20.6 2.4h1m1.5 1h1m1-.3h1m1-.4h1m2.3 1h1m-.7-1.4h1m-.2 2.2h1m.4 0h1m-1-.2h1m.1 0h1m-.4.6h1m-.7-1.3h1m2.3-.1h1m.4.7h1m1.6-.6h1m4.4 1.3h1m4.6 0h1m-41.2.2h1m2.3 2.5h1m2.3-2.4h1m3.4 0h1m.3 2.1h1m1.8.5h1m1.5 0h1m-.7-1.7h1m.4.9h1m-1-.6h1m-.6-.9h1m-.4.1h1m.7 0h1m.3-.2h1m-.7 1.8h1m.7-1.5h1m-.2 0h1m.7 1.5h1m2.3-1.9h1m.2.1h1m-29.9 4.5h1m3.6.8h1m2.2-2.6h1m.6 1.1h1m2.4-1.2h1m.7.6h1m-.3 1.1h1m-.4.5h1m-.1-1.4h1m0-.1h1m-.8 1.8h1m.2-.2h1m-.9-2.1h1m-.3.7h1m.5 1.5h1m-.8-1.2h1m-.7-1.1h1m-.6.9h1m-1-1h1m.8 0h1m-.3.1h1m.8 1.6h1m1.6-.7h1m-25.5 2.7h1m1.6 1.8h1m3.8-1.1h1m-.1-1.2h1m1.9 1.8h1m-.6.8h1m-.3-1.8h1m-.2 1.3h1m-.5-2.3h1m-.3 2.1h1m.9.8h1m3.5-2.6h1m3.5 1.3h1m6.3-.6h1m-39.4 3.1h1m.4-.6h1m5.3.2h1m-.6-.2h1m3.1-.1h1m-.5-.1h1m-.3 0h1m.5 2.1h1m.7-2.1h1m.4 2.6h1m-.2-2.7h1m-.8 1.4h1m0 1.2h1m.2-1.2h1m-.3-1.3h1m-.4 2.6h1m3.4-2.7h1m.6.1h1m-.2-.1h1m-.9 1.7h1m-1-1.6h1m-.3 1.6h1m-25.2 3h1m3.5-1.4h1m.6.9h1m1.7 1.5h1m3.9-1.4h1m-.8-.3h1m-.9-.7h1m-1 1.9h1m-.5-.8h1m5-1.4h1m.7.9h1m1.3.3h1m2.6.7h1m-30.5 1.4h1m6.1-.2h1m-1-.1h1m5.1 2h1m4-.3h1m-12 2.5h1m7.1.4h1m-.3.3h1m.4-.6h1m-6.2 3.7h1m8 1.2h1" stroke="#5046b0" stroke-opacity="0.5"/>
<path d="M198.9 419.5h1m8.4 14.1h1m2.9-.8h1m9.9 2h1m2 0h1m-36.8 1h1m2.7 1.4h1m2.7-1.3h1m-.3-.6h1m.9 2.3h1m-.8-1.4h1m-.2.9h1m3.6.3h1m-.3-.7h1m-.6-.9h1m1.5 1.3h1m-.9.5h1m.7.2h1m1-.7h1m.8-.5h1m-.3-.4h1m-29.3 4h1m1.7-1h1m1.2-.9h1m2-.3h1m-.9 1.9h1m-.5-.7h1m.3.4h1m.5-.3h1m-.2-1.1h1m-.9.4h1m-.1-.3h1m-.5 2.1h1m.4.5h1m-.7-2.2h1m-.7 1h1m-.5.2h1m.4-1.2h1m-.5 1.2h1m.3-.6h1m-1 .2h1m-.5 1.3h1m1.3-2.2h1m-.4 1.4h1m-.5-.5h1m-.9.5h1m-.7-1.3h1m-.5.5h1m1.3-1h1m-.4 2.5h1m5.1-2.1h1m-27.6 3.1h1m2.8 1h1m-1 .4h1m2.1.4h1m-1-.1h1m-1-2.1h1m1.5 2.4h1m.3-.5h1m-.5.2h1m-.4-.1h1m-.6-.9h1m2.6-.5h1m-.1.1h1m.5 1.6h1m-.5-1.4h1m-.6.5h1m-.7.5h1m-.9-.4h1m.8.4h1m.9-1.4h1m-.9 1.8h1m-30.1 3h1m7.6-2h1m-.1-.3h1m-.9 2.5h1m.7-1.7h1m-.8-1.1h1m.4 1.5h1m-.2-.5h1m-.9 1.3h1m.2-.4h1m-.4.9h1m-.6-2.6h1m-.7-.1h1m2.4 2.8h1m-.3-1.9h1m-.1.1h1m.6.4h1m-.5-.9h1m.6-.4h1m.8 1.3h1m1.6.6h1m-.3.5h1m2.1-.3h1m-.2-.2h1m-26.1 1.2h1m.6-.3h1m-.9 2.4h1m1-1.6h1m.1 1.1h1m2.2.2h1m-.2-.5h1m-.6-.2h1m-.6 1h1m-.3-2.1h1m-.3-.3h1m-.2.6h1m1.5 2h1m-.7-1.2h1m1.6-.7h1m-.6 1.6h1m-.8-.9h1m-.1-.3h1m.7.8h1m-.6.5h1m-21.5 3.4h1m3.4-1.4h1m-.1 1h1m12.8-1.1h1m-21.6 3.7h1m.1-1.2h1m.8.1h1m6.2.3h1m-.3-.8h1m.9 1.3h1m-.3-1.2h1m-11.1 3.3h1m9.5 2h1" stroke="#5046b0" stroke-opacity="0.5"/>
<path d="M200.2 382.1h1m30.5 2.3h1m25.6 4.5h1m2.6-1.4h1m-56.2 4.7h1m71.6 5h1m-20.8 7.2h1m-34.2 1.4h1m-20.4 5.3h1m24.8 2.3h1m-40.7 2.9h1m80.1 2.3h1m-15.4 3.2h1m-54.2 7.3h1m7.7 1.8h1m10.1-.1h1m34.6-1.3h1m-61.2 4.7h1m20.3-1.6h1m42.6 2.4h1m-82.1 3.1h1m39.8.5h1m42.3-.5h1m2.9.9h1m-58.6 2.2h1m55.3 3.8h1m-55 4.7h1m3.5 3.1h1m51.1-2.7h1m-86.4 6.3h1m10.9.8h1m15.9-.4h1m29.7 1.8h1m-64.6 2.9h1m14.5-.8h1m73.7-1.2h1" stroke="#b0a8c0" stroke-opacity="0.5"/>
<path d="M219 384.3h1m-32.8 4.2h1m34.5.1h1m-34.6 2.7h1m38.7-.1h1m41 3.3h1m12.5-1.5h1m-84.7 9.3h1m24.3 1.6h1m51.9.2h1m-66.7 5.9h1m4.9-.4h1m14.8 2.1h1m31.5 1.2h1m-78.4 2h1m46.6 1.4h1m22 0h1m-20.4.7h1m36 5.4h1m-53.7 3.2h1m-23.7.8h1m76 .1h1m3.8 6.5h1m-73.2 3h1m45.7.5h1m-12.8 3.1h1m-35.3 2.6h1m52.3-1.2h1m-61.2 5.4h1m23.8 1.9h1m-40.8 4h1m23.3 2.7h1m21.7 2h1m-25 2.7h1m14.1 1.7h1m15.8-1.5h1" stroke="#b0a8c0" stroke-opacity="0.5"/>
<path d="M223.3 381.9h1m51.7 2.6h1m-.5 2.2h1m-1.1 2.4h1m-86.5 1.9h1m6.7-1h1m-5.9 5.2h1m25.1.1h1m5.3-.5h1m9.2 6.9h1m10.2-2.5h1m8.3 2.6h1m.9 10.3h1m3.6-.3h1m-63.2 3.8h1m-.6 4.1h1m32.7-2h1m35.6.8h1m9.7-.4h1m-87.2 4.1h1m38.6-1.9h1m-12.6 2.9h1m-27.8 3.8h1m85.8 3.8h1m-86.8 3.4h1m23.3 3.9h1m26.9 1.9h1m-14.8 2.5h1m-25.8 4.7h1m19.5.3h1m17.2.6h1m-18.5 1.9h1m35.7 7.8h1m-79.6 2.8h1m59.3.3h1m-53.9 2.7h1" stroke="#b0a8c0" stroke-opacity="0.5"/>
<path d="M218.1 382.7h1m-22.1 2.3h1m81.4-.6h1m4.3.4h1m-58.2 2.6h1m54 .5h1m-53.8 2.6h1m-21.7 4.5h1m1.3-.7h1m47.5.9h1m-49 .8h1m71.6 5.3h1m-58.8 5.6h1m8.6 3.6h1m26 .4h1m-19.6 6.7h1m19.5 4.8h1m-41.1 1.6h1m56.7 1.6h1m-59.9 2.6h1m-30.9 5.8h1m9.3 3.6h1m40.1.3h1m24.9-2.5h1m-44.3 4h1m-13 3h1m-21.6 3.7h1m54.1.1h1m16.1.6h1m-19.2 2h1m-12.8 2.5h1m42.6.3h1m-14.9 4h1m-16.5 2.9h1m-16.6 2.3h1m-4.4 2.2h1" stroke="#b0a8c0" stroke-opacity="0.5"/>
<path d="M225.2 380.2h1m16.1.1h1m-53 6.2h1m78.8-2.3h1m-9.5 5.2h1m-71.5 2.1h1m42.9.9h1m-6.2 1.6h1m-46.7 6.7h1m35.3.8h1m39.9-.1h1m9.7-.7h1m-78.2 5.7h1m69.6.8h1m-51.8 1.7h1m33.3 6.4h1m-55.7 3.3h1m44.8 0h1m2.6-.4h1m-36.9 6.1h1m59.3 1.1h1m-18.3 2.2h1m-66 2.2h1m7.3 4.4h1m18.2-.8h1m4.2.2h1m27.6.4h1m-42 1.5h1m2.6 2.2h1m5-.2h1m19.6-.7h1m-26.5 10.9h1m-22.8 10.9h1m60.2-.2h1m-57.1 2.4h1m58.4-.4h1" stroke="#b0a8c0" stroke-opacity="0.5"/>
<path d="M384.3 365h1.3m-4.2 4.6h1.3m5.8 2.7h1.3m16.7 1.2h1.3m-32.4 3.8h1.3m12.6 2.4h1.3m4.9-1h1.3m-19.4 4.8h1.3m2.2-1.8h1.3m3.7.3h1.3m.4 1h1.3m-13.6 2.7h1.3m2.5-.3h1.3m-.6-.1h1.3m-14.9 2.6h1.3m6.3-.9h1.3m-.4 2.5h1.3m2.2-1.7h1.3m-1.2-.3h1.3m2.7.8h1.3m.1-.7h1.3m-1.1 1.2h1.3m-.6 1.1h1.3m-.8-2.9h1.3m2 2.8h1.3m3.5-.4h1.3m-1.2-1.4h1.3m-30.5 4.2h1.3m14.7-1.4h1.3m.2 1.6h1.3m.4-1.8h1.3m3.7.7h1.3m.7 1h1.3m1-1.9h1.3m-.5 2.2h1.3m-12.4 2.1h1.3m2.3-.3h1.3m-.7 1.5h1.3m1-2.8h1.3m6.5 1.7h1.3m-25 2.2h1.3m.2.2h1.3m3.7 1h1.3m-.5-.5h1.3m-.1.2h1.3m.6-.3h1.3m-1.1.4h1.3m0 .6h1.3m0-1.5h1.3m.7-.6h1.3m.1.1h1.3m1.6 1h1.3m-25.4 3h1.3m1.6.3h1.3m1.2.5h1.3m-1.3-1h1.3m4.5-.2h1.3m-.3 1.3h1.3m-1.3-1.3h1.3m-.7-.4h1.3m-.5 1.4h1.3m-1.2-2.1h1.3m-1.1 1.9h1.3m-1-.5h1.3m-1.3 1.1h1.3m0-2.6h1.3m-1 .1h1.3m-.1 2.1h1.3m-.3 0h1.3m3-1.3h1.3m1.1.9h1.3m-22.6 2.9h1.3m-.6.5h1.3m1.1-.8h1.3m-1.1-.7h1.3m.8 2.2h1.3m-.3-2.5h1.3m-.7 2.5h1.3m-.5-.6h1.3m-.1.3h1.3m-.6-.7h1.3m-1.1.7h1.3m.4-.9h1.3m-.3 1.1h1.3m-1.1-2.7h1.3m-.2 1.1h1.3m-1.2-.4h1.3m1.7-.7h1.3m3.3 2.8h1.3m-.8-.2h1.3m1.9-.7h1.3m-26.7 3.6h1.3m-1.2-2h1.3m-.2 1.3h1.3m-1.3.5h1.3m-1.2-1h1.3m2 1h1.3m-.6-.4h1.3m-.4-.4h1.3m.4-.4h1.3m.2 1.3h1.3m-1.2-2.1h1.3m.5 1.3h1.3m-1.2-.9h1.3m-.5-.1h1.3m1 .3h1.3m.7 1.2h1.3m-1.1-1.7h1.3m-.9 1.9h1.3m.2-2.3h1.3m.7.6h1.3m1 1.9h1.3m-.5.1h1.3m-22.5.7h1.3m-1.2.2h1.3m-.9 1.2h1.3m-.2-.4h1.3m-.1.1h1.3m-.4 1.4h1.3m-.5-1.2h1.3m1 0h1.3m-.9.1h1.3m-.4-1.8h1.3m-1 2.4h1.3m.8-2.2h1.3m-.5 2.3h1.3m0-.6h1.3m-1.2-.1h1.3m-.8-.2h1.3m-.8.8h1.3m-.7-1h1.3m-.8-.1h1.3m12.3.6h1.3m-39.8 2.3h1.3m4.9 0h1.3m.7-.4h1.3m1.2 1.2h1.3m1.1-.7h1.3m.4-1.3h1.3m-1 1.6h1.3m-1.2.8h1.3m1 .5h1.3m-.9-2.9h1.3m-1.1 1h1.3m-1.3.1h1.3m1.2.4h1.3m-.6-.7h1.3m-1.1 0h1.3m-.1 2h1.3m1.3-2.6h1.3m-1.3 1.8h1.3m-1.3-.4h1.3m.5 1.1h1.3m-.6.1h1.3m2.2-1.3h1.3m1.5 1.2h1.3m-27.2 1.1h1.3m.4 1.7h1.3m3.4-1.7h1.3m-.6-.6h1.3m-.5 1h1.3m-1-1.2h1.3m-1.1 1.4h1.3m-1.2-.1h1.3m.7.3h1.3m-1.2.3h1.3m-.6-.3h1.3m-.7.6h1.3m-.4-1.8h1.3m-.8 2.2h1.3m-.9-1.5h1.3m-1.2-.8h1.3m.1.5h1.3m.5-.5h1.3m-.4 0h1.3m-21 5.4h1.3m-1.3-.2h1.3m4.4-2.2h1.3m2.1 2.6h1.3m-.5-1.8h1.3m-1 .4h1.3m-.1-1.2h1.3m-1.1.9h1.3m-1.1-.1h1.3m-1.2 1.3h1.3m-.8-.8h1.3m-1.3.9h1.3m-1.2.3h1.3m-1.1-2.7h1.3m-.7.1h1.3m-.4 1.9h1.3m-.6-1.6h1.3m-1.3 1.5h1.3m-.1-.1h1.3m.2-.9h1.3m.3.9h1.3m-.9 1h1.3m.4-1.2h1.3m5.1.4h1.3m-34 3.1h1.3m5.5-.2h1.3m2.6-1.3h1.3m-.6-.2h1.3m-.6.4h1.3m-1 1.6h1.3m.9.2h1.3m-.6-.4h1.3m0-1.7h1.3m-1 1.6h1.3m-.7-.2h1.3m-.9.8h1.3m-1-1h1.3m.1.4h1.3m-1.1.5h1.3m-.9-1.9h1.3m.4-.4h1.3m-1.3-.3h1.3m-1.3.1h1.3m.9-.1h1.3m-1.3 2.4h1.3m-1-.1h1.3m0-.7h1.3m-1.1.9h1.3m3-2.2h1.3m-22.7 5.1h1.3m-.4 0h1.3m-.5-1.8h1.3m-1 .9h1.3m4.1.9h1.3m-1.1-1.8h1.3m-.6.2h1.3m-1.2-.3h1.3m-.3-.4h1.3m-.1-.2h1.3m-1.1 1.4h1.3m-1 1.3h1.3m-.4-1.6h1.3m-.5.5h1.3m-.1.1h1.3m-1.3-.9h1.3m-.1 1.8h1.3m1.4-1.7h1.3m-1-.3h1.3m2.4 1.1h1.3m2.8.6h1.3m-45.4 3.2h1.3m14-1.9h1.3m3.1.7h1.3m-.5 1.4h1.3m-1.1-2.1h1.3m2.6.3h1.3m-.5-.1h1.3m-1.2 2.1h1.3m-1.1-1.2h1.3m3.5-1.2h1.3m-.9.2h1.3m-.9.5h1.3m.2 0h1.3m-29.2 2.3h1.3m9.7 1.4h1.3m2.3.3h1.3m4.6-2.1h1.3m.2 2h1.3m0-.5h1.3m-.9.1h1.3m.4.6h1.3m4.1-.2h1.3m-10.7 1.4h1.3m.2 2h1.3m-8.5.5h1.3m0 1.7h1.3m-.9-1h1.3m.5 2h1.3m2.8-2.6h1.3m-13.8 4.3h1.3m12.6 3.2h1.3m-7.5 1.8h1.3m-1.1.9h1.3m1.9 2.2h1.3m.5 4.9h1.3m.7 36.2h1.3m6.9 2.9h1.3m0-1.9h1.3m-.4-.4h1.3m-20.4 6.6h1.3m9.9 2.1h1.3m-7.7.4h1.3m5.5 2h1.3m3.8-1.1h1.3m4.9.9h1.3m-10.4 2.3h1.3m3.3.2h1.3m-.9-1.6h1.3m1.7.6h1.3m2.3 1.4h1.3m1.1-.7h1.3m-.7 1.5h1.3m10-2.4h1.3m-32.7 4.4h1.3m1.7-1h1.3m-.6 1.8h1.3m0-.7h1.3m-.7-1.5h1.3m.8.9h1.3m.4-.4h1.3m.3-.2h1.3m-1.2 1.9h1.3m-.4-1.3h1.3m.3 1.6h1.3m.3-2.1h1.3m-.4 1.3h1.3m-.6 0h1.3m3.4-1.7h1.3m-.7.5h1.3m-32 4.7h1.3m8-2.1h1.3m-.7 1h1.3m2.9 1.1h1.3m-.9.2h1.3m-1.2-.7h1.3m6.3.6h1.3m-.2-.8h1.3m.7-1.6h1.3m-22.6 3.5h1.3m.8 2h1.3m-.1-2.2h1.3m.3 1.8h1.3m-1.2-.3h1.3m-1.3-.3h1.3m0-1.4h1.3m-.7 2.3h1.3m.6-1h1.3m-1.1.6h1.3m.1-1.6h1.3m.2.6h1.3m-.2 1.1h1.3m-.9-.4h1.3m-1.1-1.2h1.3m-1.1.8h1.3m-.9.5h1.3m-1-1.7h1.3m-.7.5h1.3m-1.1 1.8h1.3m-1.3-1h1.3m-1-1.6h1.3m6.1 1.5h1.3m-.6-.5h1.3m2-1.1h1.3m14.2 0h1.3m-42.7 4h1.3m0 .6h1.3m-1.1-1.6h1.3m.3 2.5h1.3m-1.3-1.6h1.3m-.2 1.7h1.3m-.5-.8h1.3m-.3-1.8h1.3m-1 2.1h1.3m-1.3-2.1h1.3m-.2 1.3h1.3m-1-1.3h1.3m-.5 1.2h1.3m-.7 1.5h1.3m-1.2-1.7h1.3m-.4-.6h1.3m-1.1 2.2h1.3m-1.1-1.7h1.3m.5.1h1.3m-.8 1.7h1.3m0-1.6h1.3m-1.2-1.1h1.3m-1.2.8h1.3m1.1 1.6h1.3m-1.3-1h1.3m-1.2 1.5h1.3m-.7-1.7h1.3m-1.3.4h1.3m1.4 1.2h1.3m.8-2.5h1.3m1.7.5h1.3m-.6-.2h1.3m.7 2.3h1.3m-41.7 1.5h1.3m2.8.1h1.3m6.1-1h1.3m-.2.9h1.3m-.6-1.3h1.3m-1 1.8h1.3m.7.7h1.3m.5 0h1.3m0-2.2h1.3m-1.2.2h1.3m-1.3.8h1.3m-1.1 1.3h1.3m0-1.2h1.3m-1.2.9h1.3m-.5-.2h1.3m-1.2-.4h1.3m-.5.2h1.3m0 0h1.3m-1-.3h1.3m-1.1-.4h1.3m-1.1 1.2h1.3m-1.3-1.4h1.3m-.7 0h1.3m-1.3.5h1.3m-1 1.2h1.3m-.5-1.7h1.3m-.1.4h1.3m-.9-.6h1.3m-1 1.2h1.3m-1.1-.8h1.3m-1.2 1h1.3m-1.1.6h1.3m-1.1-.4h1.3m-1.2-1.6h1.3m-1 1h1.3m-.3.2h1.3m-1.2-.3h1.3m-.6-.6h1.3m2.4-1h1.3m3.1 2.4h1.3m-.2-.3h1.3m-32.8 1.6h1.3m1.6 1.9h1.3m-.9-1.3h1.3m.8-.2h1.3m-1.3 1.6h1.3m0-2.9h1.3m-1.3 1.1h1.3m-.4 1.8h1.3m1.2-.4h1.3m-.8-1.1h1.3m-.7-.2h1.3m-.8-.9h1.3m-.8.1h1.3m.2-.3h1.3m-1 1.4h1.3m-1.3-.5h1.3m-1.1 1.9h1.3m-1.2-1.1h1.3m-1.2-1.3h1.3m-1.2-.5h1.3m-1.3 1.3h1.3m1.5-.1h1.3m-.9 1.5h1.3m.4-2.7h1.3m-1.2.4h1.3m-.8-.4h1.3m-.4 1.8h1.3m-1.2 0h1.3m-1.1-1h1.3m0-.8h1.3m-.6 2.5h1.3m-1.2-.2h1.3m.7-.4h1.3m-.9-.6h1.3m.3.7h1.3m-.5-.9h1.3m-.8 1.4h1.3m6.6-.4h1.3m-36.7 2.1h1.3m1-.7h1.3m1.3.2h1.3m1.5 2h1.3m-1.3-.4h1.3m-.2.2h1.3m-1.1-1.4h1.3m-.2 1.1h1.3m-.8-.3h1.3m-.4.2h1.3m-.1.1h1.3m-1.1-.6h1.3m-1.2 1h1.3m0-.8h1.3m-.9.3h1.3m-1.1-1.6h1.3m.3.7h1.3m-.2.9h1.3m1.5-1.6h1.3m.2.1h1.3m-.5 1.2h1.3m0 1.1h1.3m-.4-.5h1.3m.1-.1h1.3m-1.2-.1h1.3m-36.2 1.2h1.3m4.2.7h1.3m3.3-.9h1.3m-1.1 1.8h1.3m-.4-1.1h1.3m4.5.6h1.3m-1 .2h1.3m-.8 0h1.3m-1.2.1h1.3m.5-1.3h1.3m-.5-.1h1.3m-1-.2h1.3m-1.1 2.5h1.3m-.8-2.2h1.3m-.8 1.4h1.3m-1.2.7h1.3m-1.1-.7h1.3m-1 0h1.3m2.7-1.5h1.3m-1.1 1.3h1.3m-1.1.3h1.3m-1 .7h1.3m-1-2.3h1.3m1.1.8h1.3m-1.2.9h1.3m-1.1-1.9h1.3m2.6 1.7h1.3m-22.6 1.2h1.3m-1.2 2.2h1.3m4.2-.9h1.3m-.9.1h1.3m.5.2h1.3m-1.2-.2h1.3m.3-1.5h1.3m.1 1.3h1.3m.1.4h1.3m2.7-.2h1.3m-1-.7h1.3m4.1.4h1.3m9.5 1.4h1.3m-50.1 3.2h1.3m12.5-2.8h1.3m-.8 2.1h1.3m4.7-.7h1.3m.8.3h1.3m-.6 1.1h1.3m-1.1-2.4h1.3m-.1 1.7h1.3m3.6.1h1.3m-1.2-1.3h1.3m.2 1.9h1.3m-.7-.6h1.3m.7-.4h1.3m-1.1-1.6h1.3m0 1.7h1.3m3.2-.5h1.3m11-.4h1.3m-41.9 3.9h1.3m3.8-1.6h1.3m-.3-.2h1.3m.7-.1h1.3m.2.3h1.3m-.8-.3h1.3m.6.5h1.3m-.8 2.1h1.3m-1.1-2.4h1.3m1.3 1.7h1.3m1.1.1h1.3m-1.2.2h1.3m.9-1.4h1.3m-.3-.4h1.3m-1.3.7h1.3m17.6 1.1h1.3m-38.1 2.2h1.3m7.8.9h1.3m-.2-.5h1.3m-.9-1.4h1.3m.8 2.4h1.3m5.3-1.9h1.3m-.9-.5h1.3m.2 1.6h1.3m-25.8 1.4h1.3m19.4 2h1.3m14.7 0h1.3m-28.7 2.9h1.3m3.1 2.3h1.3m.8-.3h1.3m3 1.8h1.3" stroke="#e02c14" stroke-opacity="0.62" stroke-width="1.3"/>
<path d="M388 360.4h1.3m-21.8 6h1.3m-9.3 4.9h1.3m7.6 1.6h1.3m12.4 4.5h1.3m11.1-2h1.3m-12.8 3h1.3m-.6-.2h1.3m5.8 1.3h1.3m-15.4 2.1h1.3m9.3 1.4h1.3m-9.3 2h1.3m11.4 1.5h1.3m-.9-2.2h1.3m-26.2 4.6h1.3m12.2-1h1.3m-.4-.2h1.3m-.1 1.4h1.3m.4-1.4h1.3m4.5 1.4h1.3m-17.6 2.8h1.3m6.3.9h1.3m-1-2.8h1.3m3.1.2h1.3m-.1 1.4h1.3m1.2-.7h1.3m1.6 1h1.3m-26.1 3.2h1.3m0-1.1h1.3m2.9.1h1.3m-1.2.2h1.3m2.1-.1h1.3m-1.1-.6h1.3m-.4 1.5h1.3m1.1.7h1.3m-.6-1.1h1.3m.2.5h1.3m0 .4h1.3m.2-2.1h1.3m-1 .7h1.3m-.9 1.7h1.3m6.5-.6h1.3m-20.4 2.7h1.3m.8.5h1.3m.1-1.8h1.3m-1.1.7h1.3m-1-.7h1.3m.2-.3h1.3m-.2.6h1.3m-.9.2h1.3m-1 1.5h1.3m.8-.4h1.3m2.2.1h1.3m2.1.3h1.3m1.2-.9h1.3m-1 1.1h1.3m2.4-2.3h1.3m.8.6h1.3m-35.5 2.6h1.3m7.6.1h1.3m.2.9h1.3m.1-1.4h1.3m.1.8h1.3m-1.2.6h1.3m-.5.7h1.3m-.4.4h1.3m-.7-1.1h1.3m.2-.4h1.3m-1.3-1.1h1.3m-1 2.3h1.3m-.7-1h1.3m-1.3-1.1h1.3m.3 1.8h1.3m-1.1-2.3h1.3m.6.1h1.3m-1.3 1.7h1.3m-.9-.2h1.3m-.8.3h1.3m3.1-1.1h1.3m-25.3 2.4h1.3m4.2 1.2h1.3m-.9-.1h1.3m.9.1h1.3m.3 1.5h1.3m-.1-2.1h1.3m1.6-.4h1.3m0-.3h1.3m-1 1.5h1.3m1.1-.9h1.3m-.9 2.2h1.3m-.7-1.8h1.3m-.8 1.1h1.3m-1.1-.9h1.3m-1-.5h1.3m-.7 1h1.3m-18.6 3.9h1.3m.5.2h1.3m1.1 0h1.3m-1.3-1.4h1.3m-1-.1h1.3m-.4.2h1.3m.3-1.3h1.3m-1 2.4h1.3m-.9 0h1.3m-1.1-.9h1.3m-1.1-1.7h1.3m-.9 2.6h1.3m-1.2-2.7h1.3m-1.1 1.4h1.3m-1.2-1.1h1.3m-.4.7h1.3m-.5 0h1.3m-1.3-.7h1.3m-1.3 1.6h1.3m-.9-.1h1.3m-.9-1.4h1.3m-1.3 1.4h1.3m-.9-1.4h1.3m-1.2 1.1h1.3m.2-1.1h1.3m-1.2.6h1.3m-1 1.1h1.3m-.5-1.4h1.3m-.1 2.2h1.3m-1.1-1.2h1.3m-.5.7h1.3m-1.2-2.1h1.3m-1.1.5h1.3m.3.2h1.3m-25.6 3.4h1.3m2.1-.7h1.3m1.9-.4h1.3m.7.7h1.3m2.9-.7h1.3m-.1 2.6h1.3m-1.2-.1h1.3m-1.2-2.3h1.3m-.7 1.9h1.3m-.3.3h1.3m-1-2.4h1.3m.1 1.5h1.3m1.4-1.7h1.3m-1.1 1.1h1.3m.1.5h1.3m.3.1h1.3m9.7.3h1.3m-27 3h1.3m1.4-.7h1.3m-.2.1h1.3m-.8-1h1.3m-.6 2.4h1.3m-.3-2.5h1.3m-1.2.8h1.3m-.5 1.3h1.3m-1.2 0h1.3m2-1.8h1.3m.9.3h1.3m-1.2-.4h1.3m-1.2 2h1.3m-.4 0h1.3m-1.2-.9h1.3m-.2-.9h1.3m1.9-.6h1.3m3.5-.1h1.3m-30.7 4.1h1.3m4.7 1.2h1.3m-1.1-.4h1.3m.5-.7h1.3m-1.2-.4h1.3m-1 .1h1.3m-.6-1h1.3m-.6 1.6h1.3m-.5-1.2h1.3m-.6.9h1.3m-.8-1.2h1.3m.1 1.2h1.3m-1.1 0h1.3m.1-1.3h1.3m-1.2.9h1.3m-.7-.1h1.3m-.1-.7h1.3m-1.1.2h1.3m0 2.5h1.3m1.3-1.4h1.3m.5 1.1h1.3m-23.1 3h1.3m2.2-2.1h1.3m-.1 1.5h1.3m3.5-1.2h1.3m-.8 0h1.3m-.9.3h1.3m-1.3-.3h1.3m0-.5h1.3m2.1 2.4h1.3m-1.3-2.4h1.3m.5 1.5h1.3m-.7-.1h1.3m-.1-1.3h1.3m-1.2 1.5h1.3m-1.2-1.3h1.3m.4-.4h1.3m-21.1 4.9h1.3m.2-.6h1.3m.1.5h1.3m-.3-1.5h1.3m-1.2-.4h1.3m-.7 1.7h1.3m-.5.4h1.3m-1.1.2h1.3m-.1-.7h1.3m.3-.6h1.3m-1.2-.6h1.3m.5.6h1.3m-.5-.1h1.3m.6-.1h1.3m-.6.9h1.3m2.7-.8h1.3m-1.3-.8h1.3m-1 1.9h1.3m.3-1.6h1.3m-.7.3h1.3m2.2-.7h1.3m-19.6 3.8h1.3m-.8-.8h1.3m-.5 1.4h1.3m3.7-.6h1.3m1.2 1.9h1.3m-.9-.2h1.3m1.7-.4h1.3m.1-.9h1.3m-1-.5h1.3m0 1h1.3m-17.4 3.2h1.3m1.9-1.7h1.3m.7.7h1.3m-.2.6h1.3m-.4.2h1.3m-1.2-1.4h1.3m-.1 1.8h1.3m-1.2-1.5h1.3m.8 1.6h1.3m-.1 0h1.3m2.2.4h1.3m-19.6.5h1.3m2.3 1.8h1.3m2.9-.7h1.3m2.2 1.1h1.3m1.9-1.5h1.3m.8-.4h1.3m-10.2 4.7h1.3m.1-.1h1.3m.5-1.4h1.3m-1.3.7h1.3m-1.3-1.1h1.3m.4 2.5h1.3m.2-.8h1.3m7 .1h1.3m-.6-.9h1.3m-35.8 2.2h1.3m14.5 2.4h1.3m10.5-2.4h1.3m-20 3.6h1.3m15 0h1.3m-.3-.2h1.3m-9.8 2.4h1.3m.4 5.8h1.3m-20.2 3.7h1.3m19.8 5.6h1.3m-1.1 31h1.3m13.7-.6h1.3m-11.8 2.5h1.3m-3.6 2.9h1.3m10.6 1.4h1.3m7.8 1h1.3m-16.3 3.1h1.3m18.7-.7h1.3m-33 2.9h1.3m1.8.6h1.3m10.5-1.5h1.3m2.6-.2h1.3m2.9-.4h1.3m9.1.7h1.3m-26.8 3.9h1.3m-1.3 0h1.3m.1-.1h1.3m2.8 1h1.3m5.4-2h1.3m6.7-.1h1.3m-25 3.2h1.3m1.1 1.6h1.3m-.6-1.7h1.3m.2.4h1.3m1.3-.1h1.3m-.7 1.8h1.3m1.6-2.8h1.3m-.2 2.1h1.3m-.6-.4h1.3m-.8.7h1.3m3.4-1.3h1.3m4.8 1.5h1.3m4.3-1.3h1.3m-38.5 4.2h1.3m3.6-1.6h1.3m2.1-.3h1.3m-.5 2.1h1.3m-1.1-2.2h1.3m.5 2.3h1.3m-.6-1.2h1.3m1 1.2h1.3m.8-1h1.3m-1.1-.6h1.3m-1 .5h1.3m-.9-1h1.3m-.2.3h1.3m.5 1h1.3m-.3-1.4h1.3m-.2 2.1h1.3m-.2 0h1.3m-1.1-.6h1.3m.6-1.1h1.3m1 .4h1.3m3.4.8h1.3m0-1.7h1.3m-30.7 3.4h1.3m.4 1.4h1.3m-.6.1h1.3m3.5-1.4h1.3m.4-.9h1.3m.5.8h1.3m-.2.6h1.3m.5.7h1.3m-.6-1.9h1.3m-.5.3h1.3m-.3 1.1h1.3m-.8-.7h1.3m-.3-.4h1.3m-.6 1.1h1.3m-.7-1.6h1.3m-.9.7h1.3m-.4 1.6h1.3m-1.2-.8h1.3m-.6-1.5h1.3m-1.3 1h1.3m-1-.3h1.3m-1.2.2h1.3m.1 1.9h1.3m7.2-1.9h1.3m0 .5h1.3m9.9.4h1.3m-45.6 2.2h1.3m-.6 1h1.3m.2-1.5h1.3m1.1 2.2h1.3m-1.2-2.7h1.3m-.3.4h1.3m-.9.6h1.3m-.7 1.2h1.3m-1-1.3h1.3m-.1-.3h1.3m-.1-.6h1.3m.1.4h1.3m1.3 2.4h1.3m0-.4h1.3m-.6 0h1.3m-.9-2h1.3m-1.1.3h1.3m-1-.2h1.3m-1 .6h1.3m.1-.6h1.3m-1.1 1.7h1.3m-.8-.4h1.3m.4.3h1.3m-1.1-1.6h1.3m-.9.8h1.3m-.7.2h1.3m-1.1-1.1h1.3m.8 1.7h1.3m-.4.1h1.3m.5-.2h1.3m6.9-1.3h1.3m1 0h1.3m2.7 2.1h1.3m-42 1.5h1.3m3.2-.4h1.3m-1 0h1.3m-.5.8h1.3m-1.1 1.1h1.3m-1.3-.1h1.3m-.7-1.5h1.3m-.1 1.6h1.3m-.8-1.8h1.3m.4 1.7h1.3m-.6.1h1.3m-1.1-1.2h1.3m-.9-.4h1.3m-.6 1.2h1.3m-.7.1h1.3m-1.2.3h1.3m-1-2.9h1.3m-.9.7h1.3m-1.2.6h1.3m-.9-1h1.3m-1.3 1.1h1.3m-.8-1.2h1.3m-.7 2.3h1.3m-1-1.7h1.3m-1.2-.2h1.3m-1.2 0h1.3m-.7.3h1.3m-.5 1.3h1.3m-.9.7h1.3m-.3-.4h1.3m1.8-1.4h1.3m-.3-.1h1.3m-1.1-1h1.3m-.4 1.7h1.3m-.4 1h1.3m2.7-.5h1.3m-33.8 2h1.3m8.7.5h1.3m-.9.1h1.3m-.2-.5h1.3m-.8-1h1.3m-.8 2.5h1.3m-.9 0h1.3m.4-1.1h1.3m-.2-.7h1.3m-.1.1h1.3m-1.3 0h1.3m.7 1.5h1.3m-.8-.2h1.3m-1.1-1.9h1.3m-1.1.4h1.3m-.2-.4h1.3m.1 2h1.3m-1.2-1.5h1.3m-1.1 1h1.3m-1.2.6h1.3m-.8-.1h1.3m-.9-2.4h1.3m-1.3 2h1.3m-.2.7h1.3m-1.2-1.5h1.3m-.6-.6h1.3m.6.4h1.3m.1 1h1.3m1-.9h1.3m4.2.8h1.3m-.3-1.9h1.3m-40.6 3.4h1.3m4.4 2.1h1.3m.6-.3h1.3m.4-1.2h1.3m-1 .3h1.3m-1-.9h1.3m0 2.4h1.3m1.8-.2h1.3m-1.2-2.6h1.3m-1.1 1.3h1.3m-.3.9h1.3m-.4-2.1h1.3m1 .1h1.3m-.3.7h1.3m-.8-.6h1.3m-.5 1.3h1.3m-.9.8h1.3m-.3-1.8h1.3m-.8 1.6h1.3m-1.2-1.1h1.3m-1.2-.8h1.3m-.9 0h1.3m-1 1.3h1.3m-1.1-.4h1.3m.9-1.3h1.3m-1 .1h1.3m-1.2 1.9h1.3m-1.2-1.9h1.3m-1.2-.1h1.3m.7.2h1.3m-1.3 1.6h1.3m-.7-1.1h1.3m-.4 1.9h1.3m-.6-1.5h1.3m-32.4 2.6h1.3m8.1-.7h1.3m-.5 2h1.3m-.9-1.6h1.3m-.6.4h1.3m-.4 1.9h1.3m-.1-1.2h1.3m.5 1.3h1.3m-.5-2.8h1.3m2.3 2.2h1.3m-1-2.2h1.3m-.3 1.7h1.3m-1.3-.7h1.3m-1.1-1h1.3m-.1.4h1.3m-.5 2.5h1.3m-1.2-1.8h1.3m.5.4h1.3m-1.2-.8h1.3m.8.2h1.3m-1.2 1.2h1.3m.1-1.7h1.3m-.2 1.3h1.3m.8.6h1.3m-.4-2.2h1.3m-.3 1.6h1.3m-29.2 1.4h1.3m-1 .4h1.3m3.3 1.9h1.3m-.8-.6h1.3m-.9.7h1.3m1.2-2h1.3m-.4.5h1.3m-.8 0h1.3m-.1 1.3h1.3m.8-1.9h1.3m-1 1.3h1.3m.5 1.1h1.3m-.9-.2h1.3m-1.2-1.2h1.3m-.7-1.1h1.3m-1 1.7h1.3m.1-.6h1.3m-.9.8h1.3m4.9-1.7h1.3m-.1.6h1.3m-22.9 2.5h1.3m-.1-.6h1.3m2.2 1.5h1.3m-.9-.6h1.3m3.8-.6h1.3m-.6 2.5h1.3m3.3-2.1h1.3m-.6 1.2h1.3m0 .6h1.3m-1.1-1h1.3m-.7 1.3h1.3m6.1-1.5h1.3m.3 1.5h1.3m-27.2 2.1h1.3m.5-.7h1.3m-.7.1h1.3m-.5-1.1h1.3m3.1 2.1h1.3m1.3-.4h1.3m-.9-.8h1.3m.4.7h1.3m-.6.2h1.3m-.2-1.2h1.3m3.7 1.9h1.3m1-2.3h1.3m1 .5h1.3m-24.7 5h1.3m7.3-2.6h1.3m.3 1.6h1.3m1.1.7h1.3m-.9-2.2h1.3m-.5 1.6h1.3m.6-1.8h1.3m-1.1 1.4h1.3m-16.1 1.8h1.3m8.2-.1h1.3m8.6.3h1.3m.4 0h1.3m-10.3 3.8h1.3m-6.8 3.4h1.3m2.7-.6h1.3m-10 2.9h1.3m10.2-.7h1.3m1 2.4h1.3" stroke="#e02c14" stroke-opacity="0.62" stroke-width="1.3"/>
<path d="M383.4 360.4h1.3m4.1 3.7h1.3m-9.4 12.7h1.3m-12.3 2.8h1.3m9.4.5h1.3m.3-.9h1.3m-.7 1h1.3m.3-1h1.3m-11.7 4h1.3m6.2-1.5h1.3m8.3 1.6h1.3m-.1-1.9h1.3m-15.1 4.8h1.3m-.8-.8h1.3m-.8-.6h1.3m1.6 1h1.3m-.7.5h1.3m-.8.2h1.3m2.2.3h1.3m4-2h1.3m13-.2h1.3m-39.6 4.8h1.3m9.7-.6h1.3m5.3.4h1.3m1.3.5h1.3m-.3.1h1.3m-17.1.3h1.3m2.5 2.3h1.3m2.1 0h1.3m-.8-1.8h1.3m.9 1.7h1.3m-.8-2.1h1.3m-.4 1.9h1.3m-.1-1.3h1.3m3.2.7h1.3m-.5.1h1.3m-19.9 1.6h1.3m3.1 2.3h1.3m-.1-1.4h1.3m.8.9h1.3m1.1-.2h1.3m5.5-.9h1.3m2.1 1.7h1.3m-22.9 2.2h1.3m3.4.8h1.3m4.9-1.3h1.3m1 1.1h1.3m-1.1.4h1.3m5.5-.7h1.3m1.1-1.7h1.3m-25.6 3h1.3m-.6 2.4h1.3m-.1-1.2h1.3m2.1.2h1.3m.2.6h1.3m-1.2.1h1.3m1.2-.5h1.3m1.2-1.7h1.3m-1.2 1h1.3m-.7-.3h1.3m-1 1.7h1.3m1.4.2h1.3m-1.1-2.8h1.3m-1 .2h1.3m-1.2 2.1h1.3m0-1.5h1.3m-1.1 1.3h1.3m.6-1.5h1.3m.6-.6h1.3m1.5 2.1h1.3m-28.2 2.3h1.3m5.9.2h1.3m3.6 0h1.3m-1-.9h1.3m-1.1.6h1.3m.1-.4h1.3m-.9-.7h1.3m-.7 1.7h1.3m.7-.2h1.3m-1.3-1.4h1.3m-1 1.8h1.3m-.5-2h1.3m-.6 1.7h1.3m-1.3-.6h1.3m-1.1 1.5h1.3m-1.3-.1h1.3m-.7-.1h1.3m-1-2.2h1.3m.4 1h1.3m-1.3-1.1h1.3m-.9 1.6h1.3m-.2-.2h1.3m2.7.2h1.3m-25.3 3.4h1.3m1.1-1.3h1.3m-.1.4h1.3m2.6-1.2h1.3m-1.1 2.6h1.3m-1-2.4h1.3m1.3 1.8h1.3m.5.6h1.3m-.3-1.5h1.3m-1.2-1.2h1.3m-.8 1.7h1.3m-1.2.7h1.3m-1.2-2.5h1.3m-1.2 1.3h1.3m-1.3 1.2h1.3m-1.1-1.7h1.3m-1-.6h1.3m-1 1.9h1.3m-.8.4h1.3m-1.1-2.5h1.3m-1.2 1.5h1.3m-.9.6h1.3m.2-1.5h1.3m-.2.2h1.3m2.2.2h1.3m-32.1 4.1h1.3m7.6-1.3h1.3m1.1.8h1.3m1.1-1h1.3m-.7 1.1h1.3m-1.1.9h1.3m-1.1-1.3h1.3m-1.2-.6h1.3m-1-.2h1.3m.3.2h1.3m-.4.8h1.3m-1 .7h1.3m-1.2.7h1.3m-.7-.3h1.3m-1-.9h1.3m-1.1 1.2h1.3m-.4-2.1h1.3m-.9 2.1h1.3m-1.2-1.3h1.3m-.9-1.3h1.3m-.9 2.5h1.3m-1.2-.4h1.3m-.8.5h1.3m2.2-.7h1.3m-1.2-1.8h1.3m-1.3 1.6h1.3m-.4-1.1h1.3m-.9.1h1.3m-.2.3h1.3m-1.2.9h1.3m.3.2h1.3m-.3-.2h1.3m1.7-1.3h1.3m-31.9 4.3h1.3m3.9-1.9h1.3m-1.3 1.8h1.3m-.9-1.8h1.3m-1.3 2.6h1.3m1.6-2.5h1.3m1.6.8h1.3m-.3 1.7h1.3m-.8-2h1.3m-1 .9h1.3m-1.2.1h1.3m-.3-1.5h1.3m-.9 1.7h1.3m-.5-.8h1.3m-.9.7h1.3m-1.3 0h1.3m-1.2-.2h1.3m-1-1h1.3m-1.3.3h1.3m-1.3.2h1.3m-.5-1.2h1.3m-1.2.2h1.3m-1 1.7h1.3m-1.3-.5h1.3m-1.2.5h1.3m-.9-.2h1.3m-1-1.6h1.3m-1 1.3h1.3m-.7.2h1.3m-.6-.1h1.3m-.8-.2h1.3m-1.1-.5h1.3m-1.3 1.3h1.3m0 0h1.3m-1.2-1.4h1.3m1.9.5h1.3m-20.5 4h1.3m1-.6h1.3m-.4-.8h1.3m-1.2.7h1.3m-1.2-.5h1.3m-1-.5h1.3m-1.2.1h1.3m2.9 2.1h1.3m-.4-1.2h1.3m-.9-.7h1.3m-1.2.1h1.3m-.6.8h1.3m-.4-1.4h1.3m.7 2.2h1.3m-.1-.2h1.3m-1.3-1h1.3m-1.3.7h1.3m-1.2 0h1.3m-1.2-1.6h1.3m-.3.2h1.3m-1.1 2.1h1.3m-1.3-2.3h1.3m-.8 1h1.3m-.8.1h1.3m-1.3.5h1.3m0-1.2h1.3m-1.1 1h1.3m-.5-1.3h1.3m-.9.3h1.3m0 .8h1.3m-20.6 2.1h1.3m1.8 1.4h1.3m.4.6h1.3m.3-.9h1.3m-1.1-1.6h1.3m.6 1.1h1.3m-1 1.1h1.3m-1-2h1.3m-.4 1h1.3m-1.2.3h1.3m-1.2.6h1.3m-1.2.1h1.3m.2 0h1.3m-.9-1.5h1.3m.8 1.1h1.3m.5.1h1.3m-.3-.9h1.3m-1.2.1h1.3m.6.4h1.3m.2.4h1.3m-.7.1h1.3m-21.3 2.2h1.3m-1 1.1h1.3m0-1.7h1.3m-.9-.9h1.3m3.5 2.9h1.3m-1.1-1.3h1.3m-1.2-1.2h1.3m1 1.4h1.3m-1.2.1h1.3m-1.2-1h1.3m-1.2 1.7h1.3m-.4-1.9h1.3m.7-.3h1.3m-.9.9h1.3m.4-1.1h1.3m-1.3 0h1.3m-1.2 1.3h1.3m.6-1h1.3m5.4 1.2h1.3m-29.5 2.5h1.3m-.6-.8h1.3m1.9 2.1h1.3m-1.1-1.6h1.3m.5.1h1.3m-1.2-.7h1.3m-.4 2.3h1.3m-1 0h1.3m-.3-2.4h1.3m-.4 1.2h1.3m-.2-.4h1.3m-.6-.5h1.3m-.8 2.2h1.3m-1.3-1.8h1.3m-1.2-.2h1.3m-1.2 1.9h1.3m-.9-1.6h1.3m-.6-.7h1.3m-.9 2h1.3m1-1.5h1.3m-.6 1.4h1.3m-.7-1.7h1.3m-1.1 1.6h1.3m-1-1.5h1.3m-.9-.2h1.3m1.3 1.4h1.3m-16.2 3.2h1.3m1-1.4h1.3m.6.2h1.3m1.4.4h1.3m2.6-1.2h1.3m0 1.5h1.3m-1.2.5h1.3m-.3-1h1.3m-1 .8h1.3m-1-1.5h1.3m.7-.3h1.3m1.3 0h1.3m-1 .6h1.3m2.1 1.2h1.3m-21.8 2.8h1.3m2-.2h1.3m.4-1.1h1.3m.5 1.6h1.3m1.6-1.7h1.3m-1.1 2.3h1.3m-1.3-.3h1.3m.1.2h1.3m-.4-1.7h1.3m-13.1 3.2h1.3m4.2 1.8h1.3m2.9-2.6h1.3m.8 2.6h1.3m-37.3 2.8h1.3m29.9-1.9h1.3m-23.3 2.5h1.3m12.6 2.5h1.3m4-1.2h1.3m.5.2h1.3m-12.6 4.6h1.3m5.3 3.4h1.3m10.4 1.7h1.3m3.2-1.8h1.3m-12.2 2.9h1.3m-.5 2.1h1.3m21.9 29h1.3m-8.4 2.1h1.3m-19.8 3.6h1.3m18.1.9h1.3m-5.8 2.3h1.3m-10.7 5.4h1.3m-.9-.7h1.3m7.3.9h1.3m1.7.1h1.3m9.9.3h1.3m-27.9 4.4h1.3m4.1-.9h1.3m8.8.9h1.3m-.7-2.6h1.3m-1.1 1.9h1.3m-.1.3h1.3m.4.4h1.3m-16.3 1.7h1.3m1.3-.1h1.3m.1 1.4h1.3m-.8-.7h1.3m2 .5h1.3m-.9-1h1.3m-1.1.2h1.3m-.7-.7h1.3m1.6.3h1.3m4.4.3h1.3m-21.3 1.7h1.3m3.2 1.8h1.3m-.9.2h1.3m-1.2-2.3h1.3m-.9-.1h1.3m-1 1.8h1.3m-.6-1.8h1.3m-.5 2h1.3m-1.2-1.4h1.3m2.5 1.6h1.3m-.3.7h1.3m.5-2.2h1.3m-.2.8h1.3m-.4 1.2h1.3m.6-2.1h1.3m-.9.9h1.3m-.5-.2h1.3m-31.2 2.4h1.3m11 .2h1.3m-.7.7h1.3m-.6-.2h1.3m-1.2-.3h1.3m1.9-.8h1.3m.3.2h1.3m-.6-.1h1.3m-.1.2h1.3m-.4 0h1.3m-.7 1.2h1.3m-.7.3h1.3m-1.3.8h1.3m1.2-.7h1.3m-1.2-.9h1.3m1.7 1.2h1.3m6.3-1.7h1.3m-.1 1.7h1.3m-33.1 2.1h1.3m2.8-.5h1.3m.8.8h1.3m-.9-.3h1.3m-1.1-.8h1.3m-.3-.7h1.3m-1.2 2.1h1.3m.8.6h1.3m-.9-2.6h1.3m.3 2.4h1.3m-1.1-1.3h1.3m-1 1h1.3m-.8-.4h1.3m1.3.5h1.3m-.4-2.2h1.3m-.7 1.9h1.3m-.1-1.6h1.3m.2 1.6h1.3m2.6-.3h1.3m.3.1h1.3m-21.9 3.2h1.3m2.3-2.1h1.3m-.5 1.2h1.3m.4 0h1.3m-.8-.5h1.3m-1.2 1.3h1.3m-.2.8h1.3m-1.2-1.8h1.3m-.6.3h1.3m1 .7h1.3m-.9-1.2h1.3m-1.3 1.3h1.3m-.7-1h1.3m.5-.7h1.3m-1.1.9h1.3m-.8-.1h1.3m-1-.5h1.3m-1 1h1.3m-1.3-1.6h1.3m-1.3.3h1.3m-.7 1.6h1.3m-.2-.5h1.3m2.1.8h1.3m-1.2.3h1.3m-.3-.5h1.3m4.5-1.8h1.3m-33.1 3.9h1.3m-.4 1.7h1.3m.7-1.5h1.3m0-.1h1.3m2.7-.4h1.3m-1.1-.1h1.3m-1.3.8h1.3m.7-1h1.3m.4 1.1h1.3m-1.1-.7h1.3m-1.2-.1h1.3m-1.1 1.8h1.3m-.3-2.7h1.3m-1.2 2.5h1.3m1.1-1.2h1.3m-.3-1.1h1.3m1 .6h1.3m-1.1-.7h1.3m1.4.4h1.3m-1.3 1h1.3m7-1.3h1.3m-.8 1.8h1.3m-36.1 1.9h1.3m2.3.8h1.3m-.5.5h1.3m2.5.6h1.3m-1-1.2h1.3m.7 0h1.3m.4.5h1.3m-1.1-.3h1.3m.4.2h1.3m-.7-.9h1.3m-.9-.7h1.3m-.7.9h1.3m-.8.6h1.3m-1-1h1.3m-1 .2h1.3m-.8-.6h1.3m-.5-.4h1.3m0 .7h1.3m-1.2 2h1.3m-1.3-2.2h1.3m-1.1 1.4h1.3m-.4 0h1.3m-1.3-.3h1.3m2.1-.3h1.3m-.7.8h1.3m.1-1.3h1.3m-.6 1.1h1.3m-.1.8h1.3m16.6.1h1.3m-48.9.4h1.3m1.5.6h1.3m1.7.9h1.3m1.2-1.8h1.3m-.7 2.2h1.3m-.1-.7h1.3m.7.2h1.3m-.4-.5h1.3m.4 1.3h1.3m0-.9h1.3m.8.4h1.3m-.9-.8h1.3m-.9 1.2h1.3m-1.1.1h1.3m-.8-.7h1.3m.4.6h1.3m-.9-.3h1.3m.1-1.1h1.3m-.9.1h1.3m.3-.8h1.3m-1.2.2h1.3m-1.1-.4h1.3m-.2 2.8h1.3m-.9-1.7h1.3m.1 1h1.3m-.7-.5h1.3m.4-.7h1.3m-.2.8h1.3m-.9.2h1.3m-32.3 1.6h1.3m8 1.5h1.3m.9.2h1.3m0 .4h1.3m-1-1.9h1.3m-1.2-.5h1.3m-1.1 1.3h1.3m1.5-1.4h1.3m-.8 2.1h1.3m-1-.8h1.3m-.5.4h1.3m-.2-.5h1.3m-.5-1h1.3m-.7.5h1.3m.2.7h1.3m.2-1.4h1.3m1.1 2.6h1.3m-.8-1.1h1.3m-.7-1.1h1.3m.3.2h1.3m1.4-.7h1.3m3.4 1.2h1.3m-.7 1.1h1.3m2.4-.9h1.3m-34.6 2.2h1.3m4.9-.7h1.3m-.7.8h1.3m-1-.2h1.3m.9 1.7h1.3m-.4-1.8h1.3m-1.3.6h1.3m1.1-.6h1.3m2.4 2.3h1.3m.1.1h1.3m-.5-1.2h1.3m-.9.8h1.3m-23.3 3.2h1.3m4.8-1.5h1.3m.6-.9h1.3m.4-.3h1.3m-.8.2h1.3m2.2 1.5h1.3m.5-.3h1.3m-1.2-.1h1.3m-1.3-1.3h1.3m-.9 2.6h1.3m-1-1.3h1.3m2.3-.8h1.3m-.8 2.4h1.3m-1.2-.6h1.3m-.2-.8h1.3m-1.1.9h1.3m-.6-1.8h1.3m12.6-.4h1.3m-20.9 3.1h1.3m5.1 2.1h1.3m-21.3 2.4h1.3m12.9 3.9h1.3m-9.7 2.1h1.3m-7.7 1.7h1.3m0 2.8h1.3m13.4.4h1.3m4.4 9.9h1.3" stroke="#e02c14" stroke-opacity="0.62" stroke-width="1.3"/>
<path d="M382.3 360.8h1.3m5.3.5h1.3m-14.8 7.1h1.3m11.1-1.6h1.3m.4 3.6h1.3m2.9-1.2h1.3m-19.8 3.8h1.3m2.9.8h1.3m7.7.8h1.3m-24.4 6.2h1.3m4.1-2.3h1.3m8 1.4h1.3m14 3.6h1.3m-19.8 3.4h1.3m.8-.1h1.3m-.5-.9h1.3m1.1-1.3h1.3m.1-.3h1.3m.8.1h1.3m-11.1 3.9h1.3m-.4-.4h1.3m13.8.2h1.3m.4-1.1h1.3m-22.6 4.8h1.3m5.5-.5h1.3m3.7-.5h1.3m-1.2.2h1.3m-.1-.5h1.3m-.1.1h1.3m-1.2-.3h1.3m-.3.5h1.3m-.1 2.1h1.3m-14.1 1h1.3m-.7 2h1.3m-1.3-1.8h1.3m-.8-1.1h1.3m1 .6h1.3m3.1 2.1h1.3m-1.1-.2h1.3m-.4-2.2h1.3m-.3-.2h1.3m0 2.7h1.3m-.7-.9h1.3m.3-1h1.3m-1.2-.1h1.3m-.1-.7h1.3m-21.5 4.8h1.3m1.6.2h1.3m.4-1.8h1.3m3.3 1h1.3m-1.2-.3h1.3m1.2-.4h1.3m-1.1.2h1.3m-.5.5h1.3m-.4.2h1.3m-.5-1h1.3m-1.1 2h1.3m-1.1.2h1.3m-.9-1.6h1.3m0-.3h1.3m-.1-.3h1.3m-.8 2.2h1.3m5-.7h1.3m.4-.2h1.3m-33.1 2.2h1.3m3.9 1h1.3m-.4.4h1.3m4.9-.7h1.3m-.3-1.5h1.3m.3 1.1h1.3m-1.1-.6h1.3m-.6.3h1.3m1-.1h1.3m-1.1-.5h1.3m-1-.4h1.3m.4.1h1.3m-11.9 3h1.3m.5 1.2h1.3m-1.2.8h1.3m-.7 0h1.3m-.8-1.9h1.3m1.8 1.3h1.3m-.9-1.2h1.3m-1.3.7h1.3m-.1.3h1.3m-.7-.3h1.3m-1.3 1.6h1.3m-.5-2.2h1.3m-.8.3h1.3m-.8 1.1h1.3m-1.2.1h1.3m-1.1.1h1.3m.7-.7h1.3m3.2 1.3h1.3m-.4-1h1.3m1 .2h1.3m-34.6 3.9h1.3m8.4-1h1.3m.8 1.1h1.3m1.4-1.2h1.3m-.9-1.3h1.3m-.8 1.9h1.3m-1.3-1.1h1.3m0 1.1h1.3m-.6-.9h1.3m-1.1.2h1.3m-.8 1.4h1.3m1.3-2.3h1.3m-.8.3h1.3m-1.2 1.5h1.3m-1.3-.7h1.3m-1 .1h1.3m-.7-.3h1.3m-.5.7h1.3m-1.2-.1h1.3m-1.1-.6h1.3m-1.3-.7h1.3m-.9 1.5h1.3m-1.2-1.6h1.3m.1 2.2h1.3m1.6-.8h1.3m-1-1h1.3m-27.9 3.8h1.3m4.9-1.5h1.3m.6.4h1.3m2.7-.7h1.3m-1.1 2.2h1.3m0-.9h1.3m-1.1-1.2h1.3m-1.2 1.3h1.3m-1.3-.8h1.3m-.7-.7h1.3m1.1 1.5h1.3m-1.3-1.5h1.3m-1 2.8h1.3m-1-1h1.3m-1.1-1.8h1.3m-.3 1.5h1.3m-.1-1.3h1.3m-.5 1.6h1.3m-.2.5h1.3m-.8-.4h1.3m-.8-1h1.3m-.8.1h1.3m-1.1.7h1.3m-.8.3h1.3m1.2.2h1.3m.7-1.9h1.3m-.1.9h1.3m-34.6 3.6h1.3m10.5.4h1.3m2.6.7h1.3m.8-2.6h1.3m1.5-.2h1.3m-1.1 2.4h1.3m-.7-1.2h1.3m.4-.1h1.3m-1.1.1h1.3m1.4-1.1h1.3m1.1 1.8h1.3m-.9-1.2h1.3m-.4-.6h1.3m.9.9h1.3m2.9 1.1h1.3m-21.1 3.6h1.3m-1-.5h1.3m-.9.5h1.3m.5.1h1.3m-1.3-1.8h1.3m-.2 1.6h1.3m.3-1h1.3m-.4-.1h1.3m-1.3-1.4h1.3m-.7.5h1.3m-.8.1h1.3m-1.2.9h1.3m-.9-.8h1.3m-1.1-.1h1.3m-1.2.5h1.3m-1.3-1h1.3m-.6-.3h1.3m-.9.1h1.3m-1.1 2.7h1.3m-.8-1.8h1.3m-.2 1.9h1.3m0-2.6h1.3m-1.2 1.2h1.3m-.4-1h1.3m-1 1.3h1.3m3-1.2h1.3m1.1-.3h1.3m-24.5 4.9h1.3m-.1-1.7h1.3m-.2.9h1.3m-.6-.5h1.3m.6 1.5h1.3m-.8-1.4h1.3m1.3.2h1.3m-1.3-.4h1.3m-.2.9h1.3m-1.2.7h1.3m-.9-1.9h1.3m-.8-.1h1.3m-.1 2.4h1.3m1.6-2.8h1.3m.9 0h1.3m1.6.5h1.3m-16.4 4.8h1.3m.1-.4h1.3m-1.1-.4h1.3m.8-1.2h1.3m1.7 1.6h1.3m.8-.2h1.3m-.2-1.4h1.3m-.9.7h1.3m-.9-.6h1.3m-.6 2h1.3m1.6-2.3h1.3m2.6 1.8h1.3m-30.2 3.5h1.3m2.9-.8h1.3m3.4-1h1.3m-.5 1.9h1.3m-.8-2.3h1.3m-.8 2.6h1.3m-1.1-1h1.3m-.7.1h1.3m-1-1.6h1.3m-1 2.5h1.3m-1.1-1.1h1.3m-1-1.7h1.3m-1.3 1.7h1.3m-1.2-1.7h1.3m-.3 0h1.3m-1.1 1.6h1.3m-.7-1.3h1.3m3.2.8h1.3m1-.9h1.3m-.3.8h1.3m-1.3.4h1.3m-1.1-.6h1.3m4.8 0h1.3m-29.7 4h1.3m4.7-1.3h1.3m.4 2.4h1.3m2.1-2.5h1.3m-1-.4h1.3m-1.1 1.4h1.3m-1.3 1.4h1.3m.4-1.8h1.3m-.8.6h1.3m-1.2-1.5h1.3m-.5 2.3h1.3m-.8-1h1.3m-1.1-1h1.3m-.7 1.2h1.3m-.8-.5h1.3m1.4 1.4h1.3m.1-.5h1.3m-13.9 3.2h1.3m2.9-.3h1.3m-1.2.8h1.3m1.5-.9h1.3m2 .3h1.3m-1.3-1.8h1.3m.3 1.6h1.3m1.6-1.5h1.3m-19 3.4h1.3m10.7 1.2h1.3m7.1-1.2h1.3m-.5.4h1.3m-11.2 2.3h1.3m-.6 1.6h1.3m.3-1.5h1.3m1.1 2.3h1.3m-17.8 2.7h1.3m3.2-.9h1.3m3-.5h1.3m-.8-.4h1.3m9.9 2.1h1.3m1.6-2.1h1.3m-18.1 2.2h1.3m-1.1 1.4h1.3m2.5-1.1h1.3m-.2 1.5h1.3m-11.4 3.8h1.3m5-1.1h1.3m1.5-.1h1.3m-15.5 3.3h1.3m.8-.5h1.3m13 10.6h1.3m-.4 22h1.3m6 7.4h1.3m2.4-.1h1.3m-15.9 4h1.3m22.2.7h1.3m-23.9 2.7h1.3m5.1 2.3h1.3m-.9-1.3h1.3m1.2-.9h1.3m.1 1.1h1.3m.3-.4h1.3m-.7-.6h1.3m-.4 1.2h1.3m1.8.2h1.3m-17.5 3.4h1.3m6.4-1.2h1.3m-1.2-.3h1.3m.9.9h1.3m.3-.1h1.3m-.2-.1h1.3m2.5.2h1.3m-.5.7h1.3m1.9-.3h1.3m-25 2.5h1.3m6-.5h1.3m2.2-.3h1.3m-.3.5h1.3m-1.2 1.2h1.3m-.9-2.7h1.3m-1.3 2.5h1.3m-1-2.2h1.3m-1.1 2.2h1.3m-.5-.5h1.3m-.9-1.2h1.3m2.7-.2h1.3m-.9.4h1.3m.3-.4h1.3m-25 4.3h1.3m2.7.9h1.3m.7-.6h1.3m5.8-2.1h1.3m-1.2.5h1.3m-1.2-.1h1.3m0 1.9h1.3m1.2.5h1.3m2.6-1.3h1.3m0 .9h1.3m6.6-.4h1.3m-.7.5h1.3m12.8-2.3h1.3m-47.2 2.9h1.3m6.2 2.2h1.3m1.5.5h1.3m-.1-1.7h1.3m1.2 1.5h1.3m1.2-1.2h1.3m.2 0h1.3m-.5 1h1.3m-.9-1h1.3m-.3-.8h1.3m-1.3 2.2h1.3m.6-.3h1.3m-.1-2.2h1.3m.2.7h1.3m-.8.5h1.3m1.3-.3h1.3m-.7.8h1.3m2.1-1.1h1.3m-.9.2h1.3m-.2.6h1.3m3.1-1.5h1.3m-31.4 5.2h1.3m1.4-.3h1.3m-.4.2h1.3m.7.2h1.3m-1.2-1.8h1.3m-.9 1h1.3m-.7-.8h1.3m-.7 1.5h1.3m.5-2.2h1.3m-.3.5h1.3m-1.1.9h1.3m-.4-.3h1.3m.6 1.4h1.3m-1.1 0h1.3m-.5-.7h1.3m.7-1.7h1.3m-.2-.2h1.3m-.2-.2h1.3m0 .2h1.3m-.7 2.3h1.3m6.8-1.4h1.3m-32.5 1.9h1.3m.5 2.1h1.3m-.8-1.4h1.3m-1.2 1.6h1.3m1.9-.7h1.3m-1.3-.6h1.3m.7.5h1.3m0 0h1.3m-.7.1h1.3m.6-1.5h1.3m-1.3.2h1.3m-.6.2h1.3m-1.1 2h1.3m-1 .4h1.3m-.7-.4h1.3m-.8-1h1.3m-.8-.9h1.3m.2-.4h1.3m-1.3.4h1.3m-1.1.6h1.3m-.7-.8h1.3m-.8-.2h1.3m-.1 2.5h1.3m1.1-2.6h1.3m-.9.2h1.3m-.2.6h1.3m1.3 1.7h1.3m2.5-.2h1.3m-35 .6h1.3m1.3.4h1.3m2.4 2.4h1.3m-.6-.3h1.3m-.3-1.7h1.3m.2 1.6h1.3m-.1-2.3h1.3m-.5 2.2h1.3m-.9.6h1.3m-1.1-2.4h1.3m-1.1 1.9h1.3m-1-2.3h1.3m-.7 2.4h1.3m.1-.4h1.3m-.3.4h1.3m-.1.4h1.3m-1-.8h1.3m-1.1-1.9h1.3m-.9 2.2h1.3m0-.7h1.3m-1.1-1.3h1.3m-1.2-.2h1.3m.6.2h1.3m-1.2.4h1.3m.7.8h1.3m-.7-1.4h1.3m-.7 2.7h1.3m1.3-1.7h1.3m-.4-.6h1.3m3.4 2.2h1.3m-29.4 3.1h1.3m3.9-1.6h1.3m-1.1.7h1.3m-.6.7h1.3m-1.2-1.1h1.3m-.4-.1h1.3m-1.3-1.1h1.3m-.7 2.2h1.3m-.3-2.3h1.3m-.5 1.5h1.3m-.7 1.1h1.3m-1-.8h1.3m1.1.3h1.3m.5-2.1h1.3m.2 2h1.3m-1.3-1.9h1.3m.6 1.4h1.3m.3.2h1.3m0-1.6h1.3m-.5 1.5h1.3m-1.1.9h1.3m-.8-.8h1.3m2.1-1h1.3m-.8 0h1.3m.4-.4h1.3m1.9-.6h1.3m-27.1 4.9h1.3m-.8-.1h1.3m-1 .7h1.3m-1.3-1h1.3m1.9-.4h1.3m-.6 1.1h1.3m-.9.5h1.3m-1.3-2.6h1.3m-.7.2h1.3m-.1-.3h1.3m-1 .4h1.3m-1-.4h1.3m-1.3 1.4h1.3m.6-.4h1.3m-1-.9h1.3m-1 2.6h1.3m-.5-.8h1.3m-.7-1.8h1.3m-1.3.1h1.3m-1 .6h1.3m-.1 1.3h1.3m-1.3-.9h1.3m1.3.3h1.3m-1 1.4h1.3m-.3-.3h1.3m-1.1-1.1h1.3m1.4.8h1.3m-1.2.4h1.3m6.2-.9h1.3m-30.6 3.6h1.3m3.5-2.1h1.3m-.8-.3h1.3m.5.5h1.3m-1.1.9h1.3m.1-1.1h1.3m-.4 1.2h1.3m-.8.7h1.3m-1-.8h1.3m-.5-1.1h1.3m-.6.4h1.3m-1 1h1.3m2.7-1.4h1.3m-1.2.7h1.3m.8 1.9h1.3m6.9-1.4h1.3m-34.6 1.9h1.3m2.4.8h1.3m-.6 1.5h1.3m-.1-2.7h1.3m1.1 2.2h1.3m2.2-1h1.3m1-.2h1.3m.5-.4h1.3m-.5.3h1.3m0-.7h1.3m.7 1.8h1.3m-1.1.9h1.3m0-.7h1.3m0-1.4h1.3m1.9-.1h1.3m2.6-.6h1.3m-1.2 1.1h1.3m.7.7h1.3m-25.1 2.9h1.3m2.2-1.5h1.3m-1 1.6h1.3m.3-1.9h1.3m-1.2 1.2h1.3m-.6-1.2h1.3m.2.8h1.3m-.8 1.5h1.3m2.6-.4h1.3m.9.3h1.3m5.1-.3h1.3m.2-1.3h1.3m-31 4.3h1.3m1.1-.1h1.3m3.9-1.4h1.3m5.3.4h1.3m-.4 2h1.3m-1-.9h1.3m-1.2-.7h1.3m.8-.9h1.3m-.8 1.1h1.3m1.3-.6h1.3m.7.1h1.3m-.3 1h1.3m-.3-.8h1.3m-24.1 3.3h1.3m5.6.3h1.3m1.1.6h1.3m0-1.9h1.3m-1.1.3h1.3m7.5 1.7h1.3m-16.7.8h1.3m6.7.2h1.3m5.5.5h1.3m-19.7 4.4h1.3m3.7-1.2h1.3m1.7 0h1.3m.3.3h1.3m11.8-1.4h1.3m1.4 2.6h1.3m-9 1.5h1.3m-6.9 4.4h1.3m-3.3 8.9h1.3" stroke="#e02c14" stroke-opacity="0.62" stroke-width="1.3"/>
<path d="M370.5 369.4h1.3m1.9.8h1.3m6.9-.4h1.3m5.3.7h1.3m-16.9 4.3h1.3m-1.3-.7h1.3m3.5-.9h1.3m-1 2.2h1.3m6.2 2h1.3m-1.2.3h1.3m1-1.3h1.3m-20.5 4.4h1.3m8.2-1.2h1.3m.8-.2h1.3m1.2.4h1.3m5-.9h1.3m.7.9h1.3m-8.3 3.3h1.3m-1-.7h1.3m2.4.3h1.3m-15.5 3.3h1.3m-.7 0h1.3m1.7-.1h1.3m.8.7h1.3m3.6-1.7h1.3m11.5 1.2h1.3m-22.6 2.9h1.3m.7-1.6h1.3m2.8 1.6h1.3m.7-.7h1.3m-.3.9h1.3m-22.1 1.7h1.3m7.3 1.5h1.3m.3-1.1h1.3m5.1-1.1h1.3m-.6.4h1.3m-.8 1.8h1.3m.3 0h1.3m-19.6 1.9h1.3m11.4 1.3h1.3m1.1-1.2h1.3m-1.2-1.2h1.3m1.2.2h1.3m-.7.3h1.3m.1.1h1.3m-.4 1.6h1.3m.6-2.4h1.3m0 1.9h1.3m-.8.7h1.3m-1-2.2h1.3m-1.1 2.5h1.3m-1.1-2.2h1.3m-1.2 1.1h1.3m2.1 0h1.3m-23 3.4h1.3m1.1.2h1.3m0-1.9h1.3m0-.1h1.3m-.5 2.1h1.3m.4-2.3h1.3m-.1 2.2h1.3m.5-.1h1.3m.3-1.8h1.3m-.2-.2h1.3m-.1.7h1.3m-.5 1.8h1.3m-.3-2.8h1.3m.4.1h1.3m.5.9h1.3m-15.2 2.3h1.3m-.9 1.2h1.3m-.5-.5h1.3m.3.4h1.3m-1-1.2h1.3m-.9.2h1.3m-1 2h1.3m-.1.4h1.3m-.6 0h1.3m-.3-2.6h1.3m-1.3.3h1.3m-1 1.5h1.3m-.8-.8h1.3m-.9-.2h1.3m-1.2.8h1.3m.1-.7h1.3m6.8 1.2h1.3m-27.7 1.8h1.3m1.8 1.8h1.3m-.1-2.5h1.3m-.9 2.2h1.3m1-2h1.3m-1 .3h1.3m3-.8h1.3m-.7 1.8h1.3m-1.2-1.4h1.3m.3-.3h1.3m.2-.2h1.3m-.7 2.4h1.3m-1.2-1h1.3m-1.1 1.2h1.3m-.9 0h1.3m-.4-1.1h1.3m-1.3.8h1.3m-1.1.4h1.3m-.9-1h1.3m-.4-.3h1.3m-.7 1.3h1.3m.3-1.8h1.3m-22.2 4.5h1.3m1.1.1h1.3m-.6.3h1.3m3.5-.6h1.3m.9-.9h1.3m-1.2-1.1h1.3m-1.2.3h1.3m.8 1.7h1.3m-1.3-2.2h1.3m-1.2 0h1.3m-.5 2.4h1.3m-.9.3h1.3m-1-.6h1.3m-1.1-1h1.3m-1.2 1.1h1.3m-.3-2.1h1.3m-.4.2h1.3m-.9.1h1.3m-1 2.4h1.3m-1.1.1h1.3m-1.3-1.3h1.3m.2-.2h1.3m2.6 1.4h1.3m1.8-.2h1.3m1.6-.3h1.3m-.7.2h1.3m-28.5 1.8h1.3m-1 .8h1.3m1.9.7h1.3m-.9-1.7h1.3m-.6.2h1.3m-.6-1.2h1.3m1.1 2.2h1.3m-.1-.6h1.3m-1.3-.1h1.3m-.2 1.3h1.3m-1 0h1.3m-1.2-.6h1.3m1.1.1h1.3m-1.1-1.9h1.3m-.6 0h1.3m-1.2 1.2h1.3m-1.3-1.5h1.3m.9.7h1.3m-.7.7h1.3m.6 1h1.3m1-.7h1.3m3.9.1h1.3m-22.8 3.7h1.3m-1.3-1.4h1.3m.2-.4h1.3m-.7 1.3h1.3m-1.2-.7h1.3m1.1 1.2h1.3m-1.2-2.5h1.3m-1.2 2.5h1.3m-.9-2.1h1.3m.6 2h1.3m.4-1.5h1.3m-.2.5h1.3m-1.1-1.6h1.3m-.4 1.7h1.3m-.3 1.1h1.3m-1.1-1.2h1.3m-.3.1h1.3m.2-1.7h1.3m.4 1.4h1.3m.3 1.2h1.3m-26.1.8h1.3m1.5-.4h1.3m-.6.9h1.3m4.1 1h1.3m-1.2-1.7h1.3m-.5-.1h1.3m-1.3.8h1.3m-1.3-.1h1.3m.8.4h1.3m-.4-.5h1.3m-1-.3h1.3m-.2 2.2h1.3m-1-1.9h1.3m.4 1.7h1.3m-1-1.4h1.3m-1.2 0h1.3m-1-.2h1.3m-.4-.8h1.3m-1.2 2.3h1.3m-.4-.3h1.3m.8.2h1.3m-.5-1.4h1.3m1.4-.8h1.3m3.1 2.9h1.3m-28 2.9h1.3m-1.2-.8h1.3m2.8.8h1.3m2-2.2h1.3m-.4-.4h1.3m-.5 1.2h1.3m.2 1.5h1.3m-.8-2.2h1.3m.3 1.8h1.3m-1.2-.4h1.3m-1.1-1.5h1.3m-.7 1.9h1.3m-.6-1.6h1.3m-1.1-.8h1.3m-.7.4h1.3m-1.1.7h1.3m-.5-1h1.3m-.7 2.2h1.3m-.9-.4h1.3m-18.3 2.2h1.3m-.9 0h1.3m-.8.5h1.3m-.3 1h1.3m1.3-.5h1.3m2.4-1.4h1.3m-.1.3h1.3m-1 .6h1.3m-1.2 1h1.3m-1.2 0h1.3m1.2-2.2h1.3m-.8.2h1.3m-.6 1.3h1.3m.3.6h1.3m-.6-.5h1.3m-.1-1h1.3m-22.2 3.3h1.3m-1.1.3h1.3m3.5.5h1.3m-.5-2h1.3m-1.1 2.1h1.3m1-1.8h1.3m1.2 1.1h1.3m-1.2 1.3h1.3m-.1-.8h1.3m.3.4h1.3m-.1-1h1.3m.8-.5h1.3m1.2-.3h1.3m.6-.4h1.3m.3 1.6h1.3m-15.4 3.4h1.3m.7-1.2h1.3m-.4-1h1.3m1.9 1.9h1.3m-.6-.9h1.3m-.5-.9h1.3m.8.7h1.3m3.4-.5h1.3m-19.8 3.4h1.3m2.5-.4h1.3m.5.7h1.3m3.9 1.4h1.3m2.1.3h1.3m-.7-1.6h1.3m-17.6 2.3h1.3m6.5 2h1.3m-.3-.9h1.3m5 .3h1.3m-.3-.4h1.3m-1 .2h1.3m-.9.5h1.3m1.2-.4h1.3m-13.4 2.9h1.3m0 .1h1.3m-11.5 3h1.3m8.7-1.4h1.3m-.8-.4h1.3m-.9.3h1.3m-.7.2h1.3m.2.7h1.3m-16.5 2.9h1.3m10.4 1h1.3m1.1 1.3h1.3m2.7 5.6h1.3m-10.9 6.8h1.3m7.6-.3h1.3m11.1 29h1.3m-2.6 6.9h1.3m8.5 1h1.3m-28.4 4.5h1.3m11.1-1.1h1.3m5.9.9h1.3m-.8-.6h1.3m.5-1.4h1.3m-.8.9h1.3m11.3 1.2h1.3m-29.6.5h1.3m5.2 1.8h1.3m.4-.8h1.3m.8.9h1.3m-.3.2h1.3m-.3-1.7h1.3m.8 2.2h1.3m-20.9 2.4h1.3m-1.1-.7h1.3m2.6 1.3h1.3m6.6-2.9h1.3m.6 2.7h1.3m-.8-.8h1.3m-.7.8h1.3m-.6-1h1.3m-.8 1h1.3m3.5-1.8h1.3m-.3 1.6h1.3m6.6-2.3h1.3m-27.7 3.1h1.3m2 1.3h1.3m1.6 1.3h1.3m.5-2.5h1.3m0 2.2h1.3m-.7-1.7h1.3m.4 1h1.3m.2-.8h1.3m-1 1.4h1.3m.4-.3h1.3m-1.2-2.2h1.3m-.2 1.2h1.3m.7.7h1.3m.1-.3h1.3m-.5.9h1.3m-27.2 1.2h1.3m.8 1.5h1.3m7.5-1.4h1.3m-1.2-.5h1.3m.3-.2h1.3m-.1.7h1.3m-1.3-.2h1.3m3.1-.5h1.3m-.9 2.5h1.3m-1-.6h1.3m-.7-.8h1.3m-1 .1h1.3m.6 1.3h1.3m-.7-.5h1.3m-.3-1.8h1.3m.3 1.1h1.3m.7 1h1.3m3.1-1.6h1.3m-22.3 3.9h1.3m-1.1-.3h1.3m-.3-.4h1.3m-.9 1.8h1.3m-1.1-.1h1.3m-1.2-2.1h1.3m-.8 1.2h1.3m-.5 0h1.3m1.9-.1h1.3m.7-.2h1.3m-1.3-.3h1.3m-1.3 1.4h1.3m-1.2-.8h1.3m-1-1.2h1.3m.7.8h1.3m-1.3 1.4h1.3m-1.3-2.5h1.3m.1 1.1h1.3m-.3-1.2h1.3m-.9.6h1.3m-1-.8h1.3m-.4 2.9h1.3m3.4-1.4h1.3m-33 3.9h1.3m1.1-1h1.3m-.2-.4h1.3m5.9-1h1.3m-1 .9h1.3m-.7 1.8h1.3m.7-1.5h1.3m-.7.3h1.3m-1-.3h1.3m-.2 1.2h1.3m-1.3-.1h1.3m-.2.4h1.3m-1.3-1.7h1.3m-1-.1h1.3m-.8.7h1.3m-.6.2h1.3m.3-1.5h1.3m1.3.5h1.3m-.1 1.3h1.3m.1-.4h1.3m-.6-1.5h1.3m.8-.2h1.3m.8 2.7h1.3m1-.5h1.3m-26 3.2h1.3m.9-1.7h1.3m-.9.9h1.3m-.5-1.2h1.3m-.7.1h1.3m-1 1h1.3m-1.1-.2h1.3m.2.2h1.3m-1.1-.9h1.3m-1.3.5h1.3m-.2 1.7h1.3m-1.3-.6h1.3m-1.1-2h1.3m-.8 2.1h1.3m-1.2 0h1.3m-.3-.9h1.3m-1.1-.2h1.3m-1.2 1h1.3m-1.2.1h1.3m-1.2-1.7h1.3m-.1 1.4h1.3m-1.1.6h1.3m.4.3h1.3m-1.1-.7h1.3m-.3-2.1h1.3m-.6.1h1.3m1.2 2.5h1.3m2.3-1.9h1.3m2.7.5h1.3m-.4 1.3h1.3m-30.3 2.4h1.3m-.7.4h1.3m-1.1-.9h1.3m1.7 1h1.3m-.8-.1h1.3m-1-1.6h1.3m-.6.1h1.3m-1.3-.7h1.3m-1.2 1.4h1.3m.7.8h1.3m-.6-1.3h1.3m-.5 1.6h1.3m.6-2.5h1.3m-.7.2h1.3m.3 1.9h1.3m-1.3.1h1.3m-.5-1.8h1.3m-.6 1.5h1.3m-.7-1.3h1.3m-1.3.6h1.3m-1 .5h1.3m-1.2-.6h1.3m-1.2.5h1.3m-1.1-1.1h1.3m.5 1.2h1.3m-.5.3h1.3m.6-.2h1.3m-.4.9h1.3m-.5-2h1.3m-1 1.3h1.3m-.9-.6h1.3m.7 1.2h1.3m-.7-.4h1.3m-.9.1h1.3m1.5-1h1.3m-35.3 2.2h1.3m4.5 1.5h1.3m4.1-.4h1.3m.2 1h1.3m-.7-2.4h1.3m-1.1 2h1.3m-1-1.4h1.3m-.4 0h1.3m.8 1.1h1.3m.8.8h1.3m-.9-.1h1.3m-1.1-.1h1.3m-.5-.2h1.3m.3-2.5h1.3m-1.3 1.2h1.3m-.2.6h1.3m-.9-.9h1.3m-.9 1.8h1.3m-.9-1.3h1.3m-.9 1h1.3m-.2-.7h1.3m4.9-1.7h1.3m-1.1 1.1h1.3m-27.6 3.6h1.3m5 0h1.3m-1.1-1.6h1.3m-.7.5h1.3m-1 1.9h1.3m-1.2-1.5h1.3m-.1-.7h1.3m-1-.2h1.3m-1.3-.1h1.3m-1 1.4h1.3m-.9-1.1h1.3m-1.3 2h1.3m-1-.5h1.3m-.7.8h1.3m-.9-2.5h1.3m-.7 2.3h1.3m-.9 0h1.3m3.2-1.3h1.3m1.3-1.1h1.3m-1 .6h1.3m.2-.1h1.3m-.6.1h1.3m-.9 2.3h1.3m1.1-1.6h1.3m-1-1.2h1.3m2.3 1.1h1.3m-34.8 2h1.3m2 1.5h1.3m5.6.3h1.3m-1.1.7h1.3m-1.2-.1h1.3m2.8-2.6h1.3m-1.1 1.3h1.3m-.4.7h1.3m-.7-.2h1.3m-1.1-.8h1.3m-.3.8h1.3m2 .4h1.3m1.6-.1h1.3m-.4 0h1.3m-1-1.6h1.3m-1.2-.5h1.3m-.6 1.2h1.3m.3-.5h1.3m1.5.3h1.3m10.5.4h1.3m-40.3 4.3h1.3m1-.6h1.3m3.7-.1h1.3m-.6-1.2h1.3m.9 1.8h1.3m.4-2.4h1.3m-.9.9h1.3m2.8-.4h1.3m.8 2.2h1.3m-.8-1.4h1.3m-1 .4h1.3m-.7-1h1.3m-1 .8h1.3m.3.2h1.3m-.3-.9h1.3m3.6.7h1.3m0 1.1h1.3m8.4-1.1h1.3m-37.9 1.8h1.3m1.2 1.3h1.3m-.3.8h1.3m-.4-2.6h1.3m7.7 2.4h1.3m6.3-1.4h1.3m-.9-.6h1.3m-15.5 4.2h1.3m-1.2.2h1.3m1.6-.9h1.3m1.8-.3h1.3m-.6 2.3h1.3m-22.2 2.6h1.3m9.3.4h1.3m10.5-2.5h1.3m-1.2.6h1.3m-.7 1.5h1.3m.1-.5h1.3m1.9-.9h1.3m8.9.3h1.3m-24.6 3.3h1.3m3.6 0h1.3m-.1 4h1.3m5.3 1.8h1.3m.4 6h1.3m-4.9 2.9h1.3" stroke="#e02c14" stroke-opacity="0.62" stroke-width="1.3"/>
<rect x="37.5" y="360.5" width="105.0" height="105.0" fill="none" stroke="#999" stroke-width="1" />
<rect x="43.5" y="383.5" width="48.0" height="40.0" fill="none" stroke="#606060" stroke-width="0.9" />
<rect x="45.4" y="364.6" width="34.6" height="9.8" rx="1" fill="#fff" fill-opacity="0.6" stroke="#a0a0a0" stroke-width=".6"/>
<text x="46.2" y="372.1" textLength="33.0" lengthAdjust="spacingAndGlyphs" fill="#000" font-size="6.6" stroke="#000" stroke-width=".25">AJ: 57.35%</text>
<rect x="37.5" y="470.5" width="105.0" height="106.0" fill="none" stroke="#999" stroke-width="1" />
<rect x="37.5" y="484.5" width="61.0" height="47.0" fill="none" stroke="#606060" stroke-width="0.9" />
<rect x="39.3" y="470.9" width="35.6" height="9.1" rx="1" fill="#fff" fill-opacity="0.6" stroke="#a0a0a0" stroke-width=".6"/>
<text x="40.1" y="477.7" textLength="34.0" lengthAdjust="spacingAndGlyphs" fill="#000" font-size="6.6" stroke="#000" stroke-width=".25">AH: 58.27%</text>
<path d="M287.5 359.5 L181.5 359.5 L181.5 466.5 L287.5 466.5" fill="none" stroke="#999" stroke-width="1" />
<path d="M233.7 400.2 L246.7 391.5 L264 389 L283.5 389.4 L287.1 403.1 L286.7 429 L242.4 431.2 L229.4 419.7Z" fill="none" stroke="#555" stroke-width="0.8"/>
<rect x="181.5" y="430.5" width="46.0" height="36.0" fill="none" stroke="#707070" stroke-width="0.9" />
<rect x="252.2" y="370.3" width="35.1" height="9.6" rx="1" fill="#fff" fill-opacity="0.6" stroke="#a0a0a0" stroke-width=".6"/>
<text x="253.0" y="377.6" textLength="33.5" lengthAdjust="spacingAndGlyphs" fill="#000" font-size="6.6" stroke="#000" stroke-width=".25">AK: 71.74%</text>
<rect x="225.5" y="456.3" width="9.0" height="8.2" rx="1" fill="#fff" fill-opacity="0.6" stroke="#a0a0a0" stroke-width=".6"/>
<text x="226.3" y="462.7" textLength="6" lengthAdjust="spacingAndGlyphs" fill="#000" font-size="6.6" stroke="#000" stroke-width=".25">AL</text>
<rect x="181.5" y="471.5" width="106.0" height="105.0" fill="none" stroke="#999" stroke-width="1" />
<path d="M228 508.8 L243.3 497.5 L276.3 498.8 L280 513.8 L278.8 536.3 L237.5 539.5 L223 527.5Z" fill="none" stroke="#555" stroke-width="0.8"/>
<path d="M186.5 543.5 L194 538 L221 544.5 L222.5 556 L214.5 568.5 L186.5 568.5Z" fill="none" stroke="#555" stroke-width="0.8"/>
<rect x="251.25" y="479.4" width="33.15" height="9.6" rx="1" fill="#fff" fill-opacity="0.6" stroke="#a0a0a0" stroke-width=".6"/>
<text x="252.05" y="486.7" textLength="31.5" lengthAdjust="spacingAndGlyphs" fill="#000" font-size="6.6" stroke="#000" stroke-width=".25">AI: 95.83%</text>
<rect x="181.3" y="532.5" width="10.0" height="7.0" rx="1" fill="#fff" fill-opacity="0.6" stroke="#a0a0a0" stroke-width=".6"/>
<text x="182.1" y="537.7" textLength="7.5" lengthAdjust="spacingAndGlyphs" fill="#000" font-size="6.6" stroke="#000" stroke-width=".25">AJ</text>
<rect x="324.5" y="359.5" width="104.0" height="105.0" fill="none" stroke="#999" stroke-width="1" />
<path d="M360 362 L392.5 359.5 L413 371.3 L418.8 414.5 L383.8 438.8 L375.5 435Z" fill="none" stroke="#555" stroke-width="0.8"/>
<rect x="329.3" y="369.3" width="35.1" height="10.1" rx="1" fill="#fff" fill-opacity="0.6" stroke="#a0a0a0" stroke-width=".6"/>
<text x="330.1" y="377.1" textLength="33.5" lengthAdjust="spacingAndGlyphs" fill="#000" font-size="6.6" stroke="#000" stroke-width=".25">AH: 90.79%</text>
<rect x="325.5" y="471.5" width="106.0" height="105.0" fill="none" stroke="#999" stroke-width="1" />
<path d="M376.3 480 L430 477 L430 552.5 L416.3 559.5 L377.5 531.3Z" fill="none" stroke="#555" stroke-width="0.8"/>
<rect x="395.8" y="476.4" width="34.1" height="10.1" rx="1" fill="#fff" fill-opacity="0.6" stroke="#a0a0a0" stroke-width=".6"/>
<text x="396.6" y="484.2" textLength="32.5" lengthAdjust="spacingAndGlyphs" fill="#000" font-size="6.6" stroke="#000" stroke-width=".25">AL: 94.59%</text>
<text x="80.8" y="390.1" stroke="#333" stroke-width="0.25" textLength="62" lengthAdjust="spacingAndGlyphs" fill="#333" font-size="9.3" >CD19+/CD90−</text>
<text x="103.6" y="400.8" stroke="#444" stroke-width="0.25" textLength="17.5" lengthAdjust="spacingAndGlyphs" fill="#444" font-size="9.3" >cells</text>
<text x="199.6" y="381.7" stroke="#e0503a" stroke-width="0.1" textLength="68.7" lengthAdjust="spacingAndGlyphs" fill="#e0503a" font-size="9.3" >CD127+/CD43+</text>
<text x="206.2" y="393.2" stroke="#e0503a" stroke-width="0.1" textLength="56.3" lengthAdjust="spacingAndGlyphs" fill="#e0503a" font-size="9.3" >Leukemia cells</text>
<path d="M67.5 403.8H184.4" stroke="#1a1a1a" stroke-width="1.3"/>
<path d="M189.4 403.8L183.4 401.0L183.4 403.8L183.4 406.6Z" fill="#1a1a1a"/>
<path d="M252.5 394.4H330" stroke="#1a1a1a" stroke-width="1.3"/>
<path d="M335 394.4L329 391.59999999999997L329 394.4L329 397.2Z" fill="#1a1a1a"/>
<path d="M27.5 576V368" stroke="#2c96c9" stroke-width="1.7"/>
<path d="M27.5 360L23.7 369L27.5 369L31.3 369Z" fill="#2c96c9"/>
<path d="M171.8 576V368.3" stroke="#2c96c9" stroke-width="1.7"/>
<path d="M171.8 360.3L168.0 369.3L171.8 369.3L175.60000000000002 369.3Z" fill="#2c96c9"/>
<path d="M315 576V369.5" stroke="#2c96c9" stroke-width="1.7"/>
<path d="M315 361.5L311.2 370.5L315 370.5L318.8 370.5Z" fill="#2c96c9"/>
<text transform="translate(436.3 400.1) rotate(90)" stroke="#333" stroke-width="0.25" textLength="25" lengthAdjust="spacingAndGlyphs" fill="#333" font-size="9" >spleen</text>
<text transform="translate(436.1 508.8) rotate(90)" stroke="#333" stroke-width="0.25" textLength="29.4" lengthAdjust="spacingAndGlyphs" fill="#333" font-size="8.7" >marrow</text>
<text transform="translate(22.7 259) rotate(-90)" font-weight="bold" textLength="13.8" lengthAdjust="spacingAndGlyphs" fill="#1a1a1a" font-size="9.6" >CD19</text>
<text transform="translate(150 260.8) rotate(-90)" font-weight="bold" textLength="17.7" lengthAdjust="spacingAndGlyphs" fill="#1a1a1a" font-size="9.6" >CD127</text>
<text transform="translate(276.1 259.7) rotate(-90)" font-weight="bold" textLength="14.5" lengthAdjust="spacingAndGlyphs" fill="#1a1a1a" font-size="9.6" >CD44</text>
<text transform="translate(402.9 260) rotate(-90)" font-weight="bold" textLength="14.8" lengthAdjust="spacingAndGlyphs" fill="#1a1a1a" font-size="9.6" >CD44</text>
<text transform="translate(23 475) rotate(-90)" font-weight="bold" textLength="14.4" lengthAdjust="spacingAndGlyphs" fill="#1a1a1a" font-size="9.6" >CD19</text>
<text transform="translate(167.2 477.2) rotate(-90)" font-weight="bold" textLength="18.1" lengthAdjust="spacingAndGlyphs" fill="#1a1a1a" font-size="9.6" >CD127</text>
<text transform="translate(310 475) rotate(-90)" font-weight="bold" textLength="14" lengthAdjust="spacingAndGlyphs" fill="#1a1a1a" font-size="9.6" >CD44</text>
<text x="73.1" y="316.5" font-weight="bold" textLength="14.6" lengthAdjust="spacingAndGlyphs" fill="#1a1a1a" font-size="9.6" >CD90</text>
<text x="200.4" y="316.5" font-weight="bold" textLength="14.6" lengthAdjust="spacingAndGlyphs" fill="#1a1a1a" font-size="9.6" >CD43</text>
<text x="326.9" y="316.5" font-weight="bold" textLength="15" lengthAdjust="spacingAndGlyphs" fill="#1a1a1a" font-size="9.6" >CD69</text>
<text x="453.1" y="316.5" font-weight="bold" textLength="15" lengthAdjust="spacingAndGlyphs" fill="#1a1a1a" font-size="9.6" >CD69</text>
<text x="82.1" y="587.5" font-weight="bold" textLength="14.8" lengthAdjust="spacingAndGlyphs" fill="#1a1a1a" font-size="9.6" >CD90</text>
<text x="226.9" y="587.7" font-weight="bold" textLength="14.3" lengthAdjust="spacingAndGlyphs" fill="#1a1a1a" font-size="9.6" >CD43</text>
<text x="370.5" y="587.7" font-weight="bold" textLength="14.6" lengthAdjust="spacingAndGlyphs" fill="#1a1a1a" font-size="9.6" >CD69</text>
<path d="M39.5 24.5V125.5" stroke="#777" stroke-width="1" stroke-dasharray="1 7"/>
<path d="M40.5 125.5H141.5" stroke="#777" stroke-width="1" stroke-dasharray="1 5 1 9 1 6"/>
<path d="M182.5 24.5V125.5" stroke="#777" stroke-width="1" stroke-dasharray="1 7"/>
<path d="M183.5 125.5H285.5" stroke="#777" stroke-width="1" stroke-dasharray="1 5 1 9 1 6"/>
<path d="M318.5 24.5V125.5" stroke="#777" stroke-width="1" stroke-dasharray="1 7"/>
<path d="M319.5 125.5H419.5" stroke="#777" stroke-width="1" stroke-dasharray="1 5 1 9 1 6"/>
<path d="M29.5 203.5V303.5" stroke="#777" stroke-width="1" stroke-dasharray="1 7"/>
<path d="M30.5 303.5H130.5" stroke="#777" stroke-width="1" stroke-dasharray="1 5 1 9 1 6"/>
<path d="M156.5 202.5V303.5" stroke="#777" stroke-width="1" stroke-dasharray="1 7"/>
<path d="M157.5 303.5H259.5" stroke="#777" stroke-width="1" stroke-dasharray="1 5 1 9 1 6"/>
<path d="M282.5 203.5V304.5" stroke="#777" stroke-width="1" stroke-dasharray="1 7"/>
<path d="M283.5 304.5H384.5" stroke="#777" stroke-width="1" stroke-dasharray="1 5 1 9 1 6"/>
<path d="M409.5 203.5V304.5" stroke="#777" stroke-width="1" stroke-dasharray="1 7"/>
<path d="M410.5 304.5H511.5" stroke="#777" stroke-width="1" stroke-dasharray="1 5 1 9 1 6"/>
<path d="M38.5 363.5V464.5" stroke="#777" stroke-width="1" stroke-dasharray="1 7"/>
<path d="M39.5 464.5H140.5" stroke="#777" stroke-width="1" stroke-dasharray="1 5 1 9 1 6"/>
<path d="M38.5 473.5V575.5" stroke="#777" stroke-width="1" stroke-dasharray="1 7"/>
<path d="M39.5 575.5H140.5" stroke="#777" stroke-width="1" stroke-dasharray="1 5 1 9 1 6"/>
<path d="M182.5 362.5V465.5" stroke="#777" stroke-width="1" stroke-dasharray="1 7"/>
<path d="M183.5 465.5H285.5" stroke="#777" stroke-width="1" stroke-dasharray="1 5 1 9 1 6"/>
<path d="M182.5 474.5V575.5" stroke="#777" stroke-width="1" stroke-dasharray="1 7"/>
<path d="M183.5 575.5H285.5" stroke="#777" stroke-width="1" stroke-dasharray="1 5 1 9 1 6"/>
<path d="M325.5 362.5V463.5" stroke="#777" stroke-width="1" stroke-dasharray="1 7"/>
<path d="M326.5 463.5H426.5" stroke="#777" stroke-width="1" stroke-dasharray="1 5 1 9 1 6"/>
<path d="M326.5 474.5V575.5" stroke="#777" stroke-width="1" stroke-dasharray="1 7"/>
<path d="M327.5 575.5H429.5" stroke="#777" stroke-width="1" stroke-dasharray="1 5 1 9 1 6"/>
<text x="27.7" y="606.6" stroke="#222" stroke-width="0.25" textLength="124.6" lengthAdjust="spacingAndGlyphs" fill="#222" font-size="9.3" >Engraft mice with leukemia cells</text>
<text x="49.8" y="617.3" stroke="#222" stroke-width="0.25" textLength="77.9" lengthAdjust="spacingAndGlyphs" fill="#222" font-size="9.3" >expressing huCD20</text>
<text x="345.2" y="606.5" stroke="#222" stroke-width="0.25" textLength="147.1" lengthAdjust="spacingAndGlyphs" fill="#222" font-size="9.3" >Day 7, sacrifice the mice collect blood,</text>
<text x="345.2" y="617.3" stroke="#222" stroke-width="0.25" textLength="96.9" lengthAdjust="spacingAndGlyphs" fill="#222" font-size="9.3" >spleen and bone marrow</text>
<path d="M36.9 616V633.2" stroke="#111" stroke-width="1.3"/>
<path d="M36.9 641.7L32.6 632.2L36.9 634.7L41.199999999999996 632.2Z" fill="#111"/>
<path d="M482.4 616V632.9" stroke="#111" stroke-width="1.3"/>
<path d="M482.4 641.4L478.09999999999997 631.9L482.4 634.4L486.7 631.9Z" fill="#111"/>
<path d="M27 652.8H485" stroke="#2c96c9" stroke-width="2"/>
<path d="M500 652.8L484 646.3L487 652.8L484 659.3Z" fill="#2c96c9"/>
</svg>
</body></html>
